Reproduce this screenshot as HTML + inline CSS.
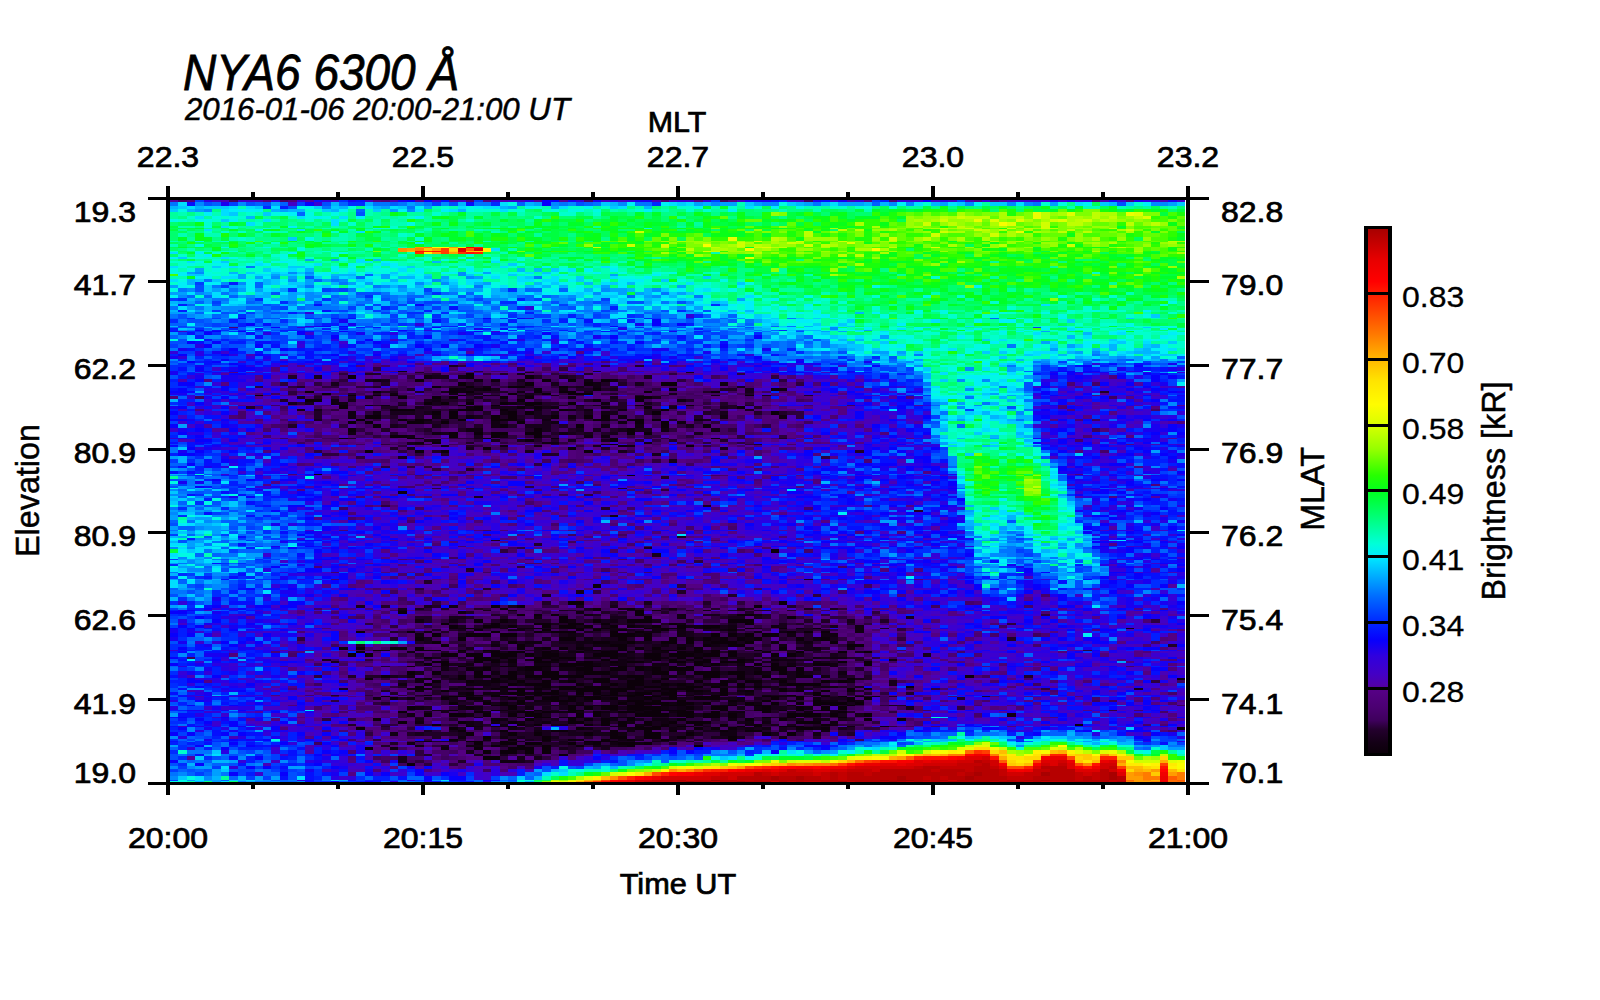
<!DOCTYPE html>
<html><head><meta charset="utf-8"><title>NYA6 6300 Å keogram</title>
<style>
html,body{margin:0;padding:0;background:#fff;}
svg{display:block}
text{font-family:"Liberation Sans", Arial, Helvetica, sans-serif;fill:#000}
</style></head><body>
<svg width="1600" height="1000" viewBox="0 0 1600 1000">
<rect width="1600" height="1000" fill="#fff"/>
<g shape-rendering="crispEdges">
<rect x="170" y="200" width="1015" height="582" fill="#3000d0"/>
<g transform="translate(170 0) scale(8.45833 1)" fill="none">
<path stroke="#0c000a" stroke-width="1" d="M10 395.5h1M21 395.5h1M24 395.5h1M26 395.5h1M34 395.5h1M68 395.5h1M20 405.5h1M34 405.5h1M38 405.5h1M42 405.5h1M55 405.5h1M20 438.5h1M28 438.5h1M37 438.5h1M45 438.5h1M52 438.5h1M64 438.5h1M52 444.5h1M17 474.5h1M54 475.5h1M50 610.5h1M55 610.5h1M33 628.5h1M35 628.5h1M43 628.5h1M47 628.5h2M51 628.5h1M56 628.5h1M58 628.5h3M63 628.5h1M68 628.5h1M72 628.5h1M76 628.5h1M24 650.5h1M29 650.5h3M34 650.5h1M37 650.5h1M50 650.5h1M53 650.5h1M58 650.5h2M62 650.5h1M64 650.5h1M69 650.5h1M28 666.5h1M34 666.5h1M39 666.5h2M42 666.5h3M46 666.5h2M49 666.5h2M53 666.5h1M55 666.5h1M59 666.5h1M61 666.5h1M63 666.5h1M68 666.5h1M71 666.5h1M73 666.5h1M30 695.5h1M35 695.5h1M38 695.5h1M41 695.5h1M43 695.5h1M51 695.5h2M54 695.5h2M59 695.5h1M64 695.5h2M73 695.5h1M76 695.5h1M25 696.5h1M33 696.5h2M38 696.5h2M42 696.5h1M45 696.5h1M47 696.5h4M54 696.5h1M56 696.5h2M59 696.5h1M62 696.5h3M70 696.5h2M74 696.5h1M77 696.5h1M79 696.5h1M81 696.5h1M38 705.5h3M47 705.5h2M51 705.5h2M54 705.5h2M58 705.5h3M66 705.5h1M69 705.5h1M76 705.5h1M78 705.5h1M80 705.5h1M33 710.5h1M38 710.5h1M43 710.5h1M47 710.5h2M55 710.5h1M57 710.5h4M65 710.5h1M69 710.5h2M72 710.5h1M74 710.5h1M77 710.5h1M43 717.5h2M47 717.5h2M52 717.5h1M54 717.5h1M61 717.5h1M63 717.5h2M66 717.5h1M70 717.5h1M73 717.5h1M79 717.5h1M35 726.5h1M40 726.5h1M53 726.5h1M55 726.5h1M57 726.5h2M60 726.5h1M67 726.5h1M69 726.5h1M72 726.5h3M84 726.5h1M30 741.5h1M35 741.5h2M39 741.5h1M49 741.5h4"/>
<path stroke="#0c000a" stroke-width="2" d="M35 374h1M31 387h1M35 387h1M40 387h2M46 387h1M16 392h1M24 392h1M33 392h1M35 392h1M43 392h1M46 392h2M56 392h1M64 392h1M18 394h1M40 394h1M44 394h1M47 394h3M26 410h3M34 410h3M39 410h1M46 410h1M58 410h1M22 420h1M27 420h1M29 420h1M34 420h1M38 420h3M50 420h2M54 420h2M57 420h1M31 443h1M53 446h1M61 446h1M39 609h1M50 609h1M54 609h1M41 615h1M43 615h1M45 615h1M55 615h1M67 615h2M32 624h1M38 624h1M43 624h2M47 624h2M51 624h1M59 624h1M68 624h1M36 630h1M44 630h1M48 630h1M50 630h1M53 630h1M58 630h1M66 630h1M22 632h1M28 632h1M38 632h1M43 632h1M45 632h3M52 632h1M55 632h1M73 632h1M75 632h1M77 632h1M22 652h1M38 652h1M40 652h2M44 652h1M48 652h1M51 652h2M60 652h1M62 652h1M64 652h1M66 652h1M74 652h1M79 652h1M82 652h1M30 658h1M36 658h2M39 658h1M43 658h2M46 658h2M52 658h1M56 658h2M60 658h1M62 658h1M65 658h1M36 660h3M40 660h1M43 660h1M45 660h1M51 660h1M57 660h1M59 660h1M63 660h1M67 660h1M71 660h1M31 662h2M36 662h1M38 662h1M40 662h1M43 662h2M49 662h1M52 662h1M54 662h2M59 662h2M62 662h2M65 662h3M79 662h1M82 662h1M23 679h1M30 679h1M34 679h1M38 679h1M40 679h1M45 679h1M50 679h2M55 679h1M58 679h1M67 679h1M71 679h1M80 679h1M119 679h1M29 687h1M39 687h1M44 687h1M46 687h2M49 687h3M54 687h1M56 687h2M61 687h2M64 687h1M67 687h1M69 687h1M87 687h1M29 689h1M35 689h1M38 689h1M40 689h2M43 689h1M46 689h9M58 689h4M65 689h1M72 689h1M80 689h1M32 691h1M41 691h1M45 691h1M48 691h3M52 691h2M57 691h1M59 691h1M61 691h2M65 691h1M68 691h1M72 691h1M74 691h1M77 691h1M80 691h1M41 701h1M45 701h3M54 701h2M57 701h1M60 701h1M66 701h1M70 701h1M76 701h1M80 701h1M27 712h1M36 712h1M41 712h2M44 712h1M47 712h1M50 712h1M53 712h2M56 712h2M60 712h2M64 712h1M70 712h1M79 712h1M31 725h1M41 725h1M43 725h1M49 725h1M51 725h1M53 725h1M56 725h1M58 725h1M62 725h1M65 725h1M69 725h1M77 725h1M107 725h1M34 731h1M39 731h1M45 731h2M52 731h1M56 731h1M59 731h1M65 731h1M68 731h2M33 740h1M40 740h1M44 740h1M47 740h1M51 740h1M54 740h1M58 740h1M66 740h1M38 746h1M41 746h1M44 746h1M48 746h1M54 746h1M62 746h1M46 755h1"/>
<path stroke="#0c000a" stroke-width="3" d="M29 380.5h1M44 380.5h1M47 380.5h1M51 380.5h1M33 389.5h1M37 389.5h1M43 389.5h1M50 389.5h1M59 389.5h1M71 389.5h1M27 397.5h1M31 397.5h1M33 397.5h1M39 397.5h1M42 397.5h1M55 397.5h2M16 400.5h2M41 400.5h1M50 400.5h1M55 400.5h1M30 403.5h1M32 403.5h1M35 403.5h1M39 403.5h1M42 403.5h2M47 403.5h1M20 407.5h1M36 407.5h1M41 407.5h1M43 407.5h1M56 407.5h1M67 407.5h1M21 422.5h1M23 422.5h1M28 422.5h2M32 422.5h1M41 422.5h1M55 422.5h1M58 422.5h1M33 433.5h1M36 433.5h1M38 433.5h2M42 433.5h2M54 433.5h1M56 433.5h1M26 436.5h2M33 436.5h1M38 436.5h1M43 436.5h1M42 440.5h1M52 440.5h1M37 448.5h1M47 448.5h1M23 451.5h1M29 451.5h1M32 451.5h1M49 451.5h1M38 606.5h1M41 606.5h1M69 606.5h1M27 612.5h1M55 612.5h1M46 617.5h1M56 617.5h1M73 617.5h1M33 626.5h1M37 626.5h2M40 626.5h1M44 626.5h1M46 626.5h2M49 626.5h1M52 626.5h1M54 626.5h1M57 626.5h1M60 626.5h1M63 626.5h2M31 642.5h1M40 642.5h1M50 642.5h2M54 642.5h1M58 642.5h2M61 642.5h1M64 642.5h3M68 642.5h1M78 642.5h1M32 645.5h1M41 645.5h1M52 645.5h2M63 645.5h1M66 645.5h2M80 645.5h2M20 648.5h1M22 648.5h1M26 648.5h2M29 648.5h1M41 648.5h1M44 648.5h1M46 648.5h1M48 648.5h1M53 648.5h1M55 648.5h1M57 648.5h1M60 648.5h1M62 648.5h1M72 648.5h1M30 664.5h1M32 664.5h1M46 664.5h4M62 664.5h1M64 664.5h1M69 664.5h1M71 664.5h1M76 664.5h2M82 664.5h1M25 676.5h1M34 676.5h1M36 676.5h2M39 676.5h2M42 676.5h7M54 676.5h2M63 676.5h2M67 676.5h1M70 676.5h1M74 676.5h2M94 676.5h1M31 681.5h1M35 681.5h1M38 681.5h1M41 681.5h1M44 681.5h1M47 681.5h1M50 681.5h2M54 681.5h2M57 681.5h1M62 681.5h1M65 681.5h1M68 681.5h2M72 681.5h1M77 681.5h1M79 681.5h1M30 684.5h1M40 684.5h1M42 684.5h3M48 684.5h1M52 684.5h1M54 684.5h2M58 684.5h1M60 684.5h1M65 684.5h1M67 684.5h1M73 684.5h4M35 693.5h1M40 693.5h2M43 693.5h3M48 693.5h1M50 693.5h1M52 693.5h1M55 693.5h2M58 693.5h2M65 693.5h1M76 693.5h1M26 698.5h1M32 698.5h1M35 698.5h2M40 698.5h1M42 698.5h1M44 698.5h2M47 698.5h1M49 698.5h2M52 698.5h1M56 698.5h1M59 698.5h1M62 698.5h3M71 698.5h1M74 698.5h1M80 698.5h1M82 698.5h1M33 703.5h1M37 703.5h1M39 703.5h1M41 703.5h1M53 703.5h1M55 703.5h4M60 703.5h2M63 703.5h1M68 703.5h1M71 703.5h1M74 703.5h1M76 703.5h4M81 703.5h1M24 719.5h1M38 719.5h1M42 719.5h1M47 719.5h1M49 719.5h1M51 719.5h1M54 719.5h1M60 719.5h1M68 719.5h1M72 719.5h1M82 719.5h1M86 719.5h1M27 722.5h1M34 722.5h1M40 722.5h1M47 722.5h2M51 722.5h1M53 722.5h1M56 722.5h1M59 722.5h1M61 722.5h3M74 722.5h3M22 728.5h1M33 728.5h1M48 728.5h1M55 728.5h3M62 728.5h1M64 728.5h1M66 728.5h1M74 728.5h2M77 728.5h1M119 728.5h1M37 737.5h1M44 737.5h1M52 737.5h2M56 737.5h2M60 737.5h1M66 737.5h1M36 743.5h1M39 743.5h2M42 743.5h2M47 743.5h1M50 743.5h1M53 743.5h2M56 743.5h1M23 748.5h1M36 748.5h1M40 748.5h3M44 748.5h1M28 764.5h1"/>
<path stroke="#0c000a" stroke-width="4" d="M21 377h1M35 377h1M42 377h1M34 384h1M42 384h1M49 384h1M58 384h2M31 413h1M33 413h1M40 413h1M42 413h1M57 413h1M71 413h1M23 417h2M33 417h1M38 417h1M40 417h1M45 417h1M49 417h1M51 417h1M24 426h1M39 426h1M48 426h1M58 426h1M63 426h1M21 430h1M43 430h1M54 430h1M71 551h1M50 586h1M47 603h2M72 603h1M36 621h1M39 621h1M46 621h1M50 621h1M54 621h3M66 621h3M31 635h1M35 635h3M39 635h2M52 635h3M56 635h1M64 635h1M66 635h1M68 635h1M70 635h2M29 639h1M34 639h1M46 639h2M53 639h1M56 639h1M59 639h1M61 639h1M63 639h1M65 639h1M67 639h1M69 639h1M74 639h1M77 639h1M21 655h1M23 655h1M32 655h2M35 655h2M38 655h3M42 655h1M44 655h2M50 655h3M56 655h2M59 655h3M63 655h2M66 655h1M71 655h1M73 655h1M35 669h1M37 669h1M42 669h2M48 669h2M52 669h2M55 669h1M57 669h1M59 669h3M71 669h2M74 669h1M28 673h1M31 673h1M36 673h1M40 673h1M44 673h2M49 673h3M57 673h2M62 673h3M66 673h2M69 673h1M72 673h1M74 673h1M28 708h1M35 708h1M40 708h1M47 708h1M49 708h1M51 708h2M54 708h4M61 708h1M64 708h2M70 708h1M74 708h1M77 708h1M79 708h1M30 715h1M33 715h2M37 715h1M40 715h1M42 715h2M48 715h1M50 715h1M55 715h4M60 715h2M63 715h2M66 715h1M73 715h4M78 715h1M82 715h1M35 734h1M40 734h1M43 734h1M49 734h1M52 734h1M56 734h2M61 734h1M70 734h1M73 734h1M37 752h1M39 752h2M42 752h1M44 752h1M37 758h2"/>
<path stroke="#110012" stroke-width="1" d="M27 371.5h1M37 395.5h1M42 395.5h1M64 395.5h1M23 405.5h1M25 405.5h1M61 405.5h1M29 438.5h1M27 610.5h1M40 610.5h1M57 610.5h1M63 610.5h1M34 628.5h1M41 628.5h2M46 628.5h1M50 628.5h1M52 628.5h1M57 628.5h1M64 628.5h1M66 628.5h1M74 628.5h1M81 628.5h1M113 628.5h1M25 650.5h1M38 650.5h1M45 650.5h1M49 650.5h1M52 650.5h1M57 650.5h1M75 650.5h1M32 666.5h1M37 666.5h1M56 666.5h2M70 666.5h1M72 666.5h1M78 666.5h1M36 695.5h1M46 695.5h1M48 695.5h1M53 695.5h1M57 695.5h2M61 695.5h1M70 695.5h1M77 695.5h1M32 696.5h1M35 696.5h1M44 696.5h1M46 696.5h1M55 696.5h1M72 696.5h1M83 696.5h1M34 705.5h1M50 705.5h1M65 705.5h1M68 705.5h1M70 705.5h1M73 705.5h1M31 710.5h1M39 710.5h1M52 710.5h1M54 710.5h1M56 710.5h1M41 717.5h1M46 717.5h1M53 717.5h1M36 726.5h1M38 726.5h2M52 726.5h1M61 726.5h1M65 726.5h1M80 726.5h1M44 741.5h1"/>
<path stroke="#110012" stroke-width="2" d="M37 387h1M50 387h1M34 392h1M41 392h1M26 394h1M33 394h1M15 410h1M43 410h1M47 410h1M49 410h1M53 410h1M30 420h1M44 420h1M62 420h1M29 443h1M44 443h2M56 443h1M32 446h1M39 446h1M43 446h1M54 446h1M52 516h1M53 609h1M59 609h1M49 615h1M60 615h1M69 615h1M60 624h1M40 630h2M52 630h1M57 630h1M60 630h1M65 630h1M81 630h1M30 632h1M56 632h2M60 632h1M69 632h1M72 632h1M81 632h1M28 652h1M34 652h1M45 652h1M47 652h1M54 652h1M57 652h2M61 652h1M70 652h1M45 658h1M49 658h2M54 658h1M58 658h1M76 658h1M78 658h2M42 660h1M47 660h1M53 660h1M61 660h1M68 660h1M72 660h2M85 660h1M45 662h1M48 662h1M53 662h1M76 662h1M29 679h1M43 679h1M53 679h1M63 679h1M72 679h1M43 687h1M58 687h1M60 687h1M70 687h1M74 687h1M77 687h2M28 689h1M30 689h1M33 689h1M36 689h1M39 689h1M44 689h1M55 689h1M74 689h1M82 689h1M29 691h1M39 691h1M43 691h1M56 691h1M58 691h1M63 691h1M67 691h1M37 701h1M43 701h2M49 701h1M53 701h1M67 701h1M77 701h2M81 701h1M37 712h1M40 712h1M45 712h2M48 712h1M51 712h1M55 712h1M59 712h1M66 712h2M75 712h1M78 712h1M35 725h1M39 725h1M55 725h1M68 725h1M78 725h1M43 731h1M54 731h1M66 731h1M77 731h1M37 740h1M48 740h1M53 740h1M29 746h1M35 746h2M50 746h1M53 746h1"/>
<path stroke="#110012" stroke-width="3" d="M24 380.5h1M36 380.5h1M38 380.5h1M49 380.5h1M52 380.5h1M34 389.5h1M36 389.5h1M46 389.5h1M72 389.5h1M47 397.5h1M19 400.5h1M31 400.5h1M60 400.5h1M19 403.5h2M40 403.5h1M51 403.5h1M35 407.5h1M45 407.5h1M51 407.5h1M38 422.5h1M45 422.5h1M53 422.5h1M60 422.5h1M21 433.5h1M31 433.5h1M46 433.5h1M28 436.5h1M39 436.5h1M49 436.5h1M51 436.5h1M31 440.5h1M27 492.5h1M33 606.5h1M34 612.5h1M48 612.5h1M43 617.5h1M60 617.5h1M55 626.5h1M61 626.5h2M66 626.5h1M71 626.5h1M81 626.5h1M42 642.5h2M48 642.5h2M52 642.5h2M63 642.5h1M71 642.5h1M75 642.5h1M38 645.5h1M48 645.5h1M50 645.5h2M58 645.5h1M60 645.5h1M64 645.5h1M72 645.5h1M43 648.5h1M49 648.5h1M76 648.5h1M80 648.5h1M35 664.5h1M40 664.5h1M43 664.5h2M50 664.5h1M52 664.5h2M57 664.5h2M67 664.5h1M73 664.5h1M78 664.5h1M28 676.5h1M52 676.5h2M59 676.5h1M77 676.5h1M29 681.5h1M36 681.5h2M39 681.5h1M46 681.5h1M66 681.5h1M80 681.5h1M27 684.5h1M35 684.5h3M41 684.5h1M59 684.5h1M61 684.5h1M63 684.5h2M69 684.5h1M72 684.5h1M34 693.5h1M37 693.5h3M42 693.5h1M54 693.5h1M62 693.5h1M68 693.5h1M24 698.5h1M28 698.5h1M51 698.5h1M54 698.5h2M58 698.5h1M67 698.5h1M76 698.5h1M46 703.5h1M48 703.5h1M59 703.5h1M66 703.5h1M69 703.5h1M39 719.5h1M52 719.5h1M57 719.5h2M66 719.5h1M76 719.5h1M29 722.5h1M35 722.5h1M38 722.5h1M41 722.5h1M44 722.5h1M54 722.5h1M58 722.5h1M68 722.5h1M70 722.5h1M78 722.5h1M40 728.5h1M49 728.5h1M54 728.5h1M59 728.5h1M68 728.5h1M70 728.5h1M76 728.5h1M34 737.5h1M39 737.5h1M28 743.5h1M49 743.5h1M52 743.5h1M55 743.5h1M26 748.5h1M32 748.5h1M39 761.5h2"/>
<path stroke="#110012" stroke-width="4" d="M30 377h1M34 377h1M50 384h1M65 384h1M21 413h1M24 413h1M39 413h1M51 413h1M21 417h1M31 417h1M35 417h1M47 417h1M53 417h1M65 417h1M72 417h1M38 426h1M51 426h1M55 426h1M35 430h2M58 430h1M64 430h1M29 621h1M33 621h1M47 621h1M52 621h1M29 635h1M47 635h1M55 635h1M60 635h1M73 635h1M77 635h2M49 639h1M64 639h1M68 639h1M76 639h1M53 655h1M62 655h1M32 669h1M36 669h1M41 669h1M44 669h1M46 669h2M56 669h1M69 669h1M38 673h1M42 673h1M48 673h1M60 673h1M70 673h1M79 673h1M29 708h1M34 708h1M36 708h1M42 708h1M58 708h1M60 708h1M69 708h1M75 708h1M28 715h1M35 715h1M99 715h1M26 734h1M53 734h1M65 734h2M76 734h1"/>
<path stroke="#17001b" stroke-width="1" d="M42 372.5h1M61 372.5h1M38 395.5h1M41 395.5h1M45 395.5h1M70 395.5h1M27 405.5h1M48 405.5h1M50 405.5h1M36 438.5h1M28 444.5h2M51 444.5h1M38 540.5h1M75 579.5h1M37 610.5h1M46 610.5h1M54 610.5h1M67 610.5h1M36 628.5h2M39 628.5h1M44 628.5h1M62 628.5h1M65 628.5h1M69 628.5h1M84 628.5h1M43 650.5h1M47 650.5h1M51 650.5h1M56 650.5h1M63 650.5h1M72 650.5h1M76 650.5h1M38 666.5h1M48 666.5h1M51 666.5h1M54 666.5h1M58 666.5h1M67 666.5h1M34 695.5h1M45 695.5h1M50 695.5h1M60 695.5h1M71 695.5h2M51 696.5h2M73 696.5h1M42 705.5h1M45 705.5h2M49 705.5h1M61 705.5h1M64 705.5h1M71 705.5h1M85 705.5h1M32 710.5h1M36 710.5h1M40 710.5h2M45 710.5h1M76 710.5h1M78 710.5h1M36 717.5h1M51 717.5h1M67 717.5h1M72 717.5h1M42 726.5h1M59 726.5h1M63 726.5h1M76 726.5h2M29 741.5h1M33 741.5h1M40 741.5h2M46 741.5h1M53 741.5h2M57 741.5h2"/>
<path stroke="#17001b" stroke-width="2" d="M33 366h1M41 374h1M48 387h1M67 387h1M32 392h1M49 392h1M68 392h1M35 394h2M42 394h1M59 394h1M17 410h1M33 410h1M40 410h1M68 410h1M17 420h1M32 420h1M41 420h1M63 420h1M28 443h1M50 446h1M36 497h1M63 506h1M60 537h1M56 548h1M27 609h1M29 609h1M49 609h1M67 609h1M75 609h1M78 609h1M50 615h1M63 615h2M45 624h1M54 624h1M66 624h1M72 624h1M34 630h1M54 630h1M63 630h2M44 632h1M49 632h1M61 632h1M66 632h1M37 652h1M39 652h1M43 652h1M49 652h2M63 652h1M81 652h1M31 658h1M38 658h1M40 658h1M53 658h1M55 658h1M66 658h2M71 658h2M77 658h1M18 660h1M46 660h1M54 660h1M56 660h1M62 660h1M65 660h1M74 660h2M19 662h1M29 662h1M39 662h1M50 662h2M56 662h1M68 662h1M70 662h2M73 662h1M77 662h1M33 679h1M39 679h1M42 679h1M47 679h1M49 679h1M54 679h1M66 679h1M68 679h1M73 679h1M81 679h1M31 687h1M34 687h1M37 687h2M45 687h1M53 687h1M55 687h1M65 687h1M68 687h1M71 687h1M76 687h1M81 687h1M20 689h1M34 689h1M37 689h1M42 689h1M69 689h1M71 689h1M75 689h1M114 689h1M55 691h1M73 691h1M33 701h2M36 701h1M48 701h1M51 701h2M56 701h1M73 701h1M30 712h1M32 712h1M43 712h1M52 712h1M73 712h1M36 725h1M42 725h1M45 725h2M57 725h1M59 725h2M71 725h1M73 725h1M30 731h1M33 731h1M44 731h1M47 731h1M50 731h1M61 731h1M63 731h2M72 731h1M74 731h1M42 740h1M55 740h1M59 740h1M32 746h1M39 746h1M51 746h2M36 755h1M39 755h1"/>
<path stroke="#17001b" stroke-width="3" d="M23 380.5h1M25 380.5h1M41 380.5h1M35 389.5h1M38 389.5h1M52 389.5h1M68 389.5h1M15 397.5h1M23 397.5h1M36 397.5h1M52 397.5h1M57 397.5h1M21 400.5h1M30 400.5h1M35 400.5h1M14 403.5h1M16 403.5h1M31 403.5h1M41 403.5h1M56 403.5h1M29 407.5h1M38 407.5h3M42 407.5h1M44 407.5h1M59 407.5h1M65 407.5h1M30 422.5h1M44 422.5h1M32 433.5h1M47 433.5h1M49 433.5h1M52 433.5h1M62 433.5h1M36 436.5h1M30 440.5h1M38 440.5h1M41 440.5h1M47 440.5h1M51 440.5h1M28 448.5h1M35 448.5h1M65 448.5h1M42 451.5h1M53 451.5h1M57 454.5h1M27 457.5h1M44 595.5h1M22 606.5h1M30 606.5h1M40 606.5h1M48 606.5h1M52 606.5h1M33 617.5h2M52 617.5h2M66 617.5h2M69 617.5h1M87 617.5h1M34 626.5h1M39 626.5h1M48 626.5h1M51 626.5h1M56 626.5h1M65 626.5h1M72 626.5h1M78 626.5h1M30 642.5h1M38 642.5h1M41 642.5h1M46 642.5h2M55 642.5h2M67 642.5h1M74 642.5h1M42 645.5h1M57 645.5h1M61 645.5h1M65 645.5h1M75 645.5h1M35 648.5h1M68 648.5h1M74 648.5h2M33 664.5h2M38 664.5h1M51 664.5h1M60 664.5h1M63 664.5h1M65 664.5h1M26 676.5h1M32 676.5h1M56 676.5h1M58 676.5h1M61 676.5h1M73 676.5h1M79 676.5h1M40 681.5h1M56 681.5h1M78 681.5h1M85 681.5h1M38 684.5h1M49 684.5h1M51 684.5h1M53 684.5h1M56 684.5h2M85 684.5h1M46 693.5h1M51 693.5h1M61 693.5h1M63 693.5h2M67 693.5h1M30 698.5h1M33 698.5h1M39 698.5h1M41 698.5h1M46 698.5h1M48 698.5h1M57 698.5h1M60 698.5h2M65 698.5h2M69 698.5h1M78 698.5h2M38 703.5h1M40 703.5h1M42 703.5h3M52 703.5h1M54 703.5h1M62 703.5h1M80 703.5h1M29 719.5h1M43 719.5h1M45 719.5h1M55 719.5h1M59 719.5h1M70 719.5h1M74 719.5h1M77 719.5h1M79 719.5h1M36 722.5h1M43 722.5h1M57 722.5h1M67 722.5h1M34 728.5h1M36 728.5h1M41 728.5h1M43 728.5h1M53 728.5h1M60 728.5h1M67 728.5h1M69 728.5h1M72 728.5h1M79 728.5h1M41 737.5h1M45 737.5h1M59 737.5h1M64 737.5h2M67 737.5h1M72 737.5h1M46 743.5h1M46 748.5h1M51 748.5h1M27 761.5h1M41 761.5h1"/>
<path stroke="#17001b" stroke-width="4" d="M17 377h1M31 377h2M46 377h1M56 377h1M19 384h1M45 384h1M55 384h1M26 413h3M30 413h1M43 413h1M45 413h1M49 413h1M52 413h1M65 413h1M36 417h1M43 417h2M26 426h1M31 426h1M42 426h3M61 426h1M44 430h1M48 430h1M50 430h1M53 430h1M55 430h2M59 461h1M57 555h1M48 592h1M56 603h1M40 621h1M51 621h1M57 621h1M80 621h1M34 635h1M46 635h1M48 635h1M61 635h1M67 635h1M30 639h1M39 639h1M44 639h1M51 639h2M62 639h1M78 639h1M43 655h1M46 655h2M54 655h1M69 655h1M74 655h1M78 655h1M89 655h1M58 669h1M64 669h1M67 669h2M76 669h1M29 673h1M41 673h1M52 673h1M56 673h1M65 673h1M68 673h1M73 673h1M75 673h1M30 708h1M44 708h1M46 708h1M53 708h1M59 708h1M62 708h1M67 708h1M71 708h2M87 708h1M44 715h1M51 715h1M59 715h1M62 715h1M67 715h1M79 715h1M81 715h1M29 734h1M34 734h1M39 734h1M44 734h1M47 734h2M50 734h2M62 734h1M71 734h1M35 752h1M27 758h1M41 758h1M43 758h1"/>
<path stroke="#200027" stroke-width="1" d="M50 371.5h1M29 372.5h1M27 395.5h1M35 395.5h1M55 395.5h1M75 395.5h1M24 405.5h1M31 405.5h1M43 405.5h2M46 405.5h1M53 405.5h1M59 405.5h1M65 405.5h2M68 405.5h1M21 438.5h1M43 438.5h1M72 438.5h1M45 444.5h1M69 444.5h1M53 488.5h1M47 610.5h1M49 610.5h1M59 610.5h1M61 610.5h1M66 610.5h1M69 610.5h2M73 610.5h1M45 628.5h1M49 628.5h1M53 628.5h1M75 628.5h1M42 650.5h1M44 650.5h1M48 650.5h1M60 650.5h2M66 650.5h1M73 650.5h1M25 666.5h1M31 666.5h1M35 666.5h1M41 666.5h1M45 666.5h1M75 666.5h1M19 695.5h1M29 695.5h1M32 695.5h1M37 695.5h1M44 695.5h1M47 695.5h1M68 695.5h1M81 695.5h1M36 696.5h1M43 696.5h1M53 696.5h1M58 696.5h1M61 696.5h1M78 696.5h1M82 696.5h1M85 696.5h1M96 696.5h1M43 705.5h2M56 705.5h1M62 705.5h1M79 705.5h1M86 705.5h1M44 710.5h1M61 710.5h1M71 710.5h1M79 710.5h1M29 717.5h1M57 717.5h2M71 717.5h1M75 717.5h2M25 726.5h1M56 726.5h1M75 726.5h1M31 741.5h2M61 741.5h1"/>
<path stroke="#200027" stroke-width="2" d="M55 366h1M23 374h2M31 374h1M39 374h1M49 374h1M15 387h1M24 387h1M33 387h2M36 387h1M42 387h1M47 387h1M52 387h1M25 392h2M29 392h1M36 392h4M63 392h1M110 392h1M21 394h1M24 394h1M43 394h1M52 394h1M68 394h1M29 410h3M48 410h1M56 410h2M28 420h1M47 420h1M52 420h1M59 420h1M35 443h1M35 446h1M88 511h1M37 589h1M32 609h1M36 609h1M55 609h1M58 609h1M64 609h1M68 609h1M38 615h1M52 615h1M66 615h1M70 615h1M37 624h1M39 624h2M46 624h1M52 624h2M58 624h1M74 624h1M80 624h1M31 630h1M33 630h1M42 630h1M51 630h1M55 630h1M67 630h1M72 630h1M74 630h2M77 630h1M26 632h1M32 632h1M35 632h1M50 632h1M54 632h1M74 632h1M32 652h1M46 652h1M56 652h1M65 652h1M73 652h1M76 652h1M34 658h1M59 658h1M63 658h1M68 658h1M70 658h1M80 658h2M30 660h1M32 660h1M39 660h1M44 660h1M55 660h1M58 660h1M60 660h1M69 660h1M81 660h1M35 662h1M46 662h1M61 662h1M72 662h1M78 662h1M32 679h1M36 679h1M41 679h1M48 679h1M56 679h2M61 679h2M69 679h1M82 679h1M27 687h1M33 687h1M48 687h1M52 687h1M59 687h1M66 687h1M79 687h1M56 689h2M62 689h2M67 689h1M73 689h1M25 691h1M31 691h1M33 691h3M46 691h2M51 691h1M60 691h1M81 691h1M39 701h1M64 701h1M69 701h1M79 701h1M39 712h1M71 712h1M80 712h1M21 725h1M33 725h1M37 725h1M50 725h1M63 725h1M70 725h1M76 725h1M38 731h1M48 731h2M67 731h1M70 731h1M34 740h1M43 740h1M45 740h2M52 740h1M57 740h1M62 740h1M25 746h1M42 746h2M45 746h1M47 746h1M30 755h1M42 755h1"/>
<path stroke="#200027" stroke-width="3" d="M28 389.5h1M48 389.5h2M51 389.5h1M65 389.5h2M17 397.5h1M21 397.5h1M41 397.5h1M13 400.5h1M32 400.5h2M37 400.5h1M39 400.5h1M49 400.5h1M52 400.5h1M61 400.5h1M27 403.5h1M44 403.5h2M53 403.5h1M65 403.5h1M9 407.5h1M25 407.5h2M30 407.5h1M48 407.5h1M52 407.5h2M66 407.5h1M69 407.5h1M31 422.5h1M39 422.5h1M26 433.5h1M45 433.5h1M48 433.5h1M51 433.5h1M44 436.5h1M43 440.5h1M45 440.5h1M59 440.5h1M65 440.5h1M26 448.5h1M51 448.5h1M31 451.5h1M81 451.5h1M32 454.5h1M44 454.5h2M35 469.5h1M58 477.5h1M51 508.5h1M43 544.5h1M66 595.5h1M25 606.5h1M31 606.5h1M73 606.5h1M35 612.5h1M51 612.5h1M53 612.5h1M58 612.5h1M68 612.5h1M29 617.5h2M35 617.5h1M39 617.5h1M65 617.5h1M70 617.5h1M36 626.5h1M41 626.5h2M29 642.5h1M45 642.5h1M57 642.5h1M80 642.5h1M22 645.5h1M34 645.5h1M45 645.5h3M49 645.5h1M54 645.5h1M56 645.5h1M59 645.5h1M70 645.5h1M118 645.5h1M39 648.5h1M47 648.5h1M51 648.5h2M56 648.5h1M58 648.5h2M61 648.5h1M64 648.5h2M77 648.5h1M29 664.5h1M37 664.5h1M54 664.5h1M66 664.5h1M72 664.5h1M74 664.5h2M21 676.5h1M23 676.5h2M27 676.5h1M33 676.5h1M38 676.5h1M51 676.5h1M60 676.5h1M65 676.5h1M68 676.5h1M80 676.5h1M82 676.5h1M101 676.5h1M27 681.5h1M33 681.5h2M42 681.5h2M48 681.5h1M52 681.5h2M58 681.5h3M70 681.5h2M73 681.5h1M31 684.5h1M62 684.5h1M26 693.5h1M31 693.5h1M53 693.5h1M57 693.5h1M66 693.5h1M75 693.5h1M80 693.5h1M82 693.5h1M87 693.5h1M27 698.5h1M70 698.5h1M72 698.5h1M77 698.5h1M93 698.5h1M25 703.5h1M34 703.5h2M47 703.5h1M67 703.5h1M33 719.5h1M44 719.5h1M48 719.5h1M50 719.5h1M64 719.5h1M73 719.5h1M80 719.5h1M39 722.5h1M42 722.5h1M45 722.5h2M49 722.5h1M52 722.5h1M50 728.5h2M63 728.5h1M73 728.5h1M80 728.5h1M31 737.5h1M40 737.5h1M42 737.5h2M49 737.5h1M55 737.5h1M61 737.5h1M76 737.5h1M26 743.5h1M38 743.5h1M44 743.5h2M59 743.5h1M47 748.5h1M34 761.5h1M42 761.5h1"/>
<path stroke="#200027" stroke-width="4" d="M14 377h1M43 377h1M47 377h1M25 384h1M35 384h1M41 384h1M51 384h1M53 384h1M17 413h1M29 413h1M37 413h1M56 413h1M63 413h1M69 413h1M72 413h1M17 417h1M26 417h1M29 417h1M39 417h1M41 417h1M62 417h1M14 426h1M27 426h1M36 426h1M40 426h1M46 426h1M25 430h1M30 430h1M34 430h1M42 430h1M47 430h1M52 430h1M35 570h1M30 582h1M60 592h1M44 603h1M52 603h1M63 603h1M30 621h1M34 621h1M38 621h1M42 621h3M49 621h1M53 621h1M61 621h1M75 621h1M77 621h1M84 621h1M42 635h1M62 635h2M75 635h1M26 639h1M40 639h1M50 639h1M54 639h1M66 639h1M72 639h1M75 639h1M99 639h1M29 655h1M49 655h1M55 655h1M58 655h1M67 655h2M79 655h1M33 669h1M38 669h1M40 669h1M51 669h1M81 669h1M34 673h1M47 673h1M54 673h1M76 673h1M39 708h1M41 708h1M50 708h1M73 708h1M53 715h1M65 715h1M77 715h1M28 734h1M30 734h4M41 734h2M46 734h1M59 734h2M80 734h1M41 752h1M47 752h1"/>
<path stroke="#2d003d" stroke-width="1" d="M36 371.5h1M17 395.5h1M23 395.5h1M48 395.5h1M58 395.5h1M30 405.5h1M32 405.5h2M36 405.5h1M45 405.5h1M49 405.5h1M51 405.5h1M56 405.5h2M33 438.5h3M39 438.5h2M48 438.5h1M51 438.5h1M56 438.5h1M58 438.5h1M67 438.5h1M25 444.5h1M30 444.5h1M68 444.5h1M31 488.5h1M29 610.5h2M43 610.5h1M48 610.5h1M58 610.5h1M38 628.5h1M70 628.5h1M86 628.5h1M35 650.5h2M54 650.5h1M67 650.5h1M70 650.5h2M108 650.5h1M36 666.5h1M64 666.5h1M23 695.5h1M27 695.5h1M33 695.5h1M42 695.5h1M62 695.5h1M69 695.5h1M78 695.5h1M80 695.5h1M29 696.5h1M37 696.5h1M40 696.5h2M66 696.5h1M69 696.5h1M75 696.5h1M36 705.5h1M53 705.5h1M72 705.5h1M77 705.5h1M81 705.5h1M84 705.5h1M28 710.5h1M34 710.5h1M50 710.5h2M53 710.5h1M62 710.5h1M68 710.5h1M75 710.5h1M111 710.5h1M27 717.5h1M33 717.5h2M40 717.5h1M49 717.5h2M62 717.5h1M69 717.5h1M78 717.5h1M80 717.5h1M33 726.5h1M37 726.5h1M62 726.5h1M66 726.5h1M70 726.5h1M85 726.5h1M37 741.5h1M47 741.5h1"/>
<path stroke="#2d003d" stroke-width="2" d="M34 366h1M51 366h1M20 374h1M30 374h1M37 374h1M45 374h1M59 374h1M67 374h1M10 387h1M14 387h1M18 387h2M22 387h2M32 387h1M39 387h1M45 387h1M49 387h1M51 387h1M14 392h1M44 392h1M14 394h1M38 394h1M41 394h1M46 394h1M51 394h1M19 410h1M25 410h1M32 410h1M41 410h1M44 410h1M52 410h1M64 410h1M19 420h1M24 420h1M26 420h1M31 420h1M33 420h1M49 420h1M39 443h1M43 443h1M46 443h1M60 443h1M63 443h1M67 443h1M27 446h1M36 446h1M48 446h1M63 446h1M25 467h1M28 467h1M30 467h1M42 487h1M58 490h1M49 495h1M25 506h1M41 548h1M41 567h1M29 589h1M30 609h1M37 609h1M60 609h1M79 609h1M39 615h1M46 615h1M53 615h1M56 615h1M65 615h1M72 615h1M77 615h1M103 615h1M23 624h1M33 624h1M50 624h1M55 624h2M65 624h1M67 624h1M73 624h1M76 624h1M82 624h1M99 624h1M37 630h1M46 630h1M59 630h1M70 630h1M73 630h1M76 630h1M78 630h1M86 630h1M27 632h1M29 632h1M34 632h1M42 632h1M51 632h1M58 632h1M65 632h1M68 632h1M36 652h1M67 652h3M77 652h1M29 658h1M32 658h1M41 658h1M51 658h1M61 658h1M64 658h1M73 658h1M75 658h1M83 658h1M23 660h1M34 660h2M49 660h2M52 660h1M78 660h1M82 660h1M28 662h1M37 662h1M58 662h1M74 662h1M25 679h1M35 679h1M44 679h1M60 679h1M76 679h1M78 679h2M26 687h1M35 687h1M42 687h1M63 687h1M72 687h1M75 687h1M80 687h1M31 689h1M45 689h1M76 689h1M87 689h1M90 689h1M103 689h1M44 691h1M54 691h1M69 691h1M71 691h1M76 691h1M19 701h1M29 701h1M32 701h1M35 701h1M40 701h1M61 701h3M68 701h1M74 701h1M34 712h1M49 712h1M63 712h1M65 712h1M74 712h1M85 712h1M25 725h2M29 725h2M32 725h1M47 725h1M75 725h1M79 725h3M31 731h1M42 731h1M55 731h1M62 731h1M79 731h2M24 740h1M30 740h1M60 740h1M31 746h1M37 746h1M40 746h1M46 746h1M49 746h1M29 755h1M40 755h1M43 755h1"/>
<path stroke="#2d003d" stroke-width="3" d="M20 380.5h1M33 380.5h1M53 380.5h1M60 380.5h1M72 380.5h1M26 389.5h1M30 389.5h1M41 389.5h2M57 389.5h1M19 397.5h1M32 397.5h1M35 397.5h1M34 400.5h1M38 400.5h1M43 400.5h1M53 400.5h1M15 403.5h1M29 403.5h1M33 403.5h1M38 403.5h1M57 403.5h1M63 403.5h1M68 403.5h1M63 407.5h1M26 422.5h1M33 422.5h2M51 422.5h1M62 422.5h1M64 422.5h1M23 433.5h1M30 433.5h1M37 433.5h1M24 436.5h1M40 436.5h1M42 436.5h1M45 436.5h1M54 436.5h1M56 436.5h2M61 436.5h1M67 436.5h1M72 436.5h1M36 440.5h1M55 440.5h1M57 440.5h1M39 448.5h1M17 451.5h1M27 451.5h1M54 451.5h1M18 454.5h2M29 454.5h1M22 457.5h1M77 457.5h1M43 464.5h1M31 469.5h1M62 561.5h1M76 595.5h1M44 606.5h2M56 606.5h1M63 606.5h1M40 612.5h1M44 612.5h1M52 612.5h1M83 612.5h1M48 617.5h1M50 617.5h1M64 617.5h1M72 617.5h1M74 617.5h1M78 617.5h2M82 617.5h1M26 626.5h1M30 626.5h1M45 626.5h1M58 626.5h1M67 626.5h1M69 626.5h1M75 626.5h1M77 626.5h1M33 642.5h2M70 642.5h1M76 642.5h1M36 645.5h2M39 645.5h1M55 645.5h1M74 645.5h1M79 645.5h1M34 648.5h1M54 648.5h1M70 648.5h1M39 664.5h1M45 664.5h1M55 664.5h1M79 664.5h1M17 676.5h1M31 676.5h1M35 676.5h1M41 676.5h1M49 676.5h2M57 676.5h1M62 676.5h1M66 676.5h1M69 676.5h1M28 681.5h1M45 681.5h1M49 681.5h1M63 681.5h1M67 681.5h1M76 681.5h1M116 681.5h1M39 684.5h1M68 684.5h1M70 684.5h1M77 684.5h1M80 684.5h1M28 693.5h1M32 693.5h1M49 693.5h1M69 693.5h3M78 693.5h1M84 693.5h1M31 698.5h1M38 698.5h1M43 698.5h1M24 703.5h1M32 703.5h1M49 703.5h1M65 703.5h1M72 703.5h1M18 719.5h1M21 719.5h1M40 719.5h1M53 719.5h1M56 719.5h1M61 719.5h2M67 719.5h1M69 719.5h1M50 722.5h1M60 722.5h1M64 722.5h2M83 722.5h1M25 728.5h1M28 728.5h1M38 728.5h1M42 728.5h1M58 728.5h1M82 728.5h2M38 737.5h1M46 737.5h2M51 737.5h1M63 737.5h1M35 743.5h1M48 743.5h1M51 743.5h1M57 743.5h1M62 743.5h1M39 748.5h1M48 748.5h1M50 748.5h1M29 761.5h1M30 764.5h1M33 764.5h1"/>
<path stroke="#2d003d" stroke-width="4" d="M24 369h1M41 369h1M46 369h1M28 377h1M48 377h1M71 377h1M13 384h1M17 384h1M36 384h1M38 384h1M40 384h1M74 384h1M23 413h1M35 413h1M41 413h1M44 413h1M48 413h1M60 413h1M64 413h1M73 413h2M25 417h1M34 417h1M37 417h1M42 417h1M48 417h1M55 417h1M57 417h1M74 417h1M20 426h1M32 426h1M34 426h1M45 426h1M60 426h1M70 426h1M22 430h1M29 430h1M45 430h1M59 430h1M66 430h1M57 461h1M39 551h1M60 586h1M50 592h1M31 603h1M67 603h1M32 621h1M48 621h1M63 621h2M72 621h1M116 621h1M41 635h1M45 635h1M50 635h1M57 635h1M72 635h1M15 639h1M37 639h1M42 639h1M48 639h1M70 639h1M73 639h1M79 639h1M86 639h1M27 655h1M31 655h1M41 655h1M75 655h1M30 669h1M34 669h1M39 669h1M50 669h1M54 669h1M65 669h2M77 669h1M79 669h1M32 673h2M39 673h1M53 673h1M55 673h1M71 673h1M77 673h1M82 673h1M33 708h1M37 708h2M45 708h1M48 708h1M63 708h1M93 708h1M27 715h1M36 715h1M39 715h1M41 715h1M46 715h1M54 715h1M72 715h1M23 734h1M45 734h1M54 734h2M58 734h1M63 734h2M67 734h2M74 734h1M79 734h1M29 752h1M39 758h1M44 758h1"/>
<path stroke="#3f005d" stroke-width="1" d="M35 372.5h1M18 395.5h1M25 395.5h1M32 395.5h1M43 395.5h2M57 395.5h1M62 395.5h1M12 405.5h1M21 405.5h1M26 405.5h1M41 405.5h1M47 405.5h1M62 405.5h1M80 405.5h1M13 438.5h1M18 438.5h2M60 438.5h2M66 438.5h1M20 444.5h1M22 444.5h1M26 444.5h1M33 444.5h1M36 444.5h1M41 444.5h1M43 444.5h1M46 444.5h1M54 444.5h1M57 444.5h1M61 444.5h1M64 475.5h1M37 530.5h1M56 546.5h1M37 572.5h1M26 610.5h1M42 610.5h1M44 610.5h1M60 610.5h1M68 610.5h1M77 610.5h1M29 628.5h1M61 628.5h1M73 628.5h1M80 628.5h1M22 650.5h2M39 650.5h1M41 650.5h1M86 650.5h1M23 666.5h1M27 666.5h1M62 666.5h1M65 666.5h1M69 666.5h1M74 666.5h1M76 666.5h2M49 695.5h1M66 695.5h2M74 695.5h2M19 696.5h1M23 696.5h1M30 696.5h1M65 696.5h1M76 696.5h1M84 696.5h1M35 705.5h1M41 705.5h1M57 705.5h1M63 705.5h1M67 705.5h1M119 705.5h1M46 710.5h1M63 710.5h2M66 710.5h1M89 710.5h1M35 717.5h1M39 717.5h1M55 717.5h2M59 717.5h1M65 717.5h1M28 726.5h1M43 726.5h1M48 726.5h1M51 726.5h1M64 726.5h1M71 726.5h1M78 726.5h1M87 726.5h1M28 741.5h1M42 741.5h2M45 741.5h1M56 741.5h1M59 741.5h2M63 741.5h1"/>
<path stroke="#3f005d" stroke-width="2" d="M7 201h1M65 201h1M75 201h1M27 374h1M29 374h1M34 374h1M46 374h1M27 387h1M38 387h1M55 387h1M59 387h1M66 387h1M23 392h1M30 392h2M40 392h1M45 392h1M52 392h2M66 392h1M70 392h1M76 392h1M12 394h1M17 394h1M22 394h1M31 394h1M54 394h1M61 394h1M64 394h1M67 394h1M18 410h1M59 410h1M65 410h1M23 420h1M65 420h1M109 420h1M15 443h1M27 443h1M40 443h1M42 443h1M54 443h1M66 443h1M68 443h1M42 446h1M31 485h1M46 495h1M47 535h1M53 535h1M47 542h1M40 548h1M33 558h1M69 589h1M17 609h1M51 609h1M62 609h1M76 609h1M40 615h1M44 615h1M48 615h1M83 615h1M61 624h1M63 624h2M71 624h1M28 630h1M38 630h2M49 630h1M56 630h1M61 630h1M40 632h1M67 632h1M35 652h1M42 652h1M53 652h1M75 652h1M2 658h1M33 658h1M48 658h1M74 658h1M85 658h1M19 660h1M64 660h1M66 660h1M77 660h1M27 662h1M30 662h1M33 662h1M47 662h1M57 662h1M81 662h1M85 662h1M37 679h1M46 679h1M52 679h1M70 679h1M32 687h1M41 687h1M25 689h1M64 689h1M70 689h1M77 689h1M85 689h1M23 691h1M37 691h1M40 691h1M66 691h1M79 691h1M25 701h1M28 701h1M30 701h1M38 701h1M42 701h1M58 701h2M71 701h1M75 701h1M84 701h1M109 701h1M111 701h1M25 712h1M33 712h1M35 712h1M58 712h1M72 712h1M24 725h1M34 725h1M52 725h1M61 725h1M64 725h1M66 725h2M74 725h1M23 731h1M27 731h1M36 731h1M53 731h1M58 731h1M71 731h1M75 731h1M36 740h1M39 740h1M49 740h1M63 740h1M70 740h1M74 740h1M81 740h1M37 755h1M45 755h1"/>
<path stroke="#3f005d" stroke-width="3" d="M28 380.5h1M32 380.5h1M35 380.5h1M37 380.5h1M45 380.5h1M48 380.5h1M50 380.5h1M20 389.5h1M27 389.5h1M45 389.5h1M47 389.5h1M56 389.5h1M63 389.5h1M3 397.5h1M26 397.5h1M37 397.5h2M46 397.5h1M60 397.5h1M111 397.5h1M26 400.5h1M36 400.5h1M44 400.5h1M48 400.5h1M51 400.5h1M56 400.5h1M63 400.5h1M74 400.5h1M46 403.5h1M60 403.5h1M13 407.5h1M17 407.5h1M22 407.5h1M27 407.5h1M32 407.5h1M34 407.5h1M49 407.5h1M55 407.5h1M61 407.5h1M64 407.5h1M14 422.5h1M22 422.5h1M35 422.5h1M75 422.5h1M29 433.5h1M35 433.5h1M44 433.5h1M50 433.5h1M53 433.5h1M57 433.5h1M65 433.5h2M68 433.5h1M17 436.5h1M22 436.5h1M25 436.5h1M30 436.5h1M48 436.5h1M60 436.5h1M16 440.5h1M35 440.5h1M39 440.5h1M44 440.5h1M38 448.5h1M42 448.5h1M54 448.5h1M37 451.5h1M39 451.5h1M58 451.5h1M50 454.5h1M65 454.5h1M61 464.5h1M34 472.5h1M48 482.5h1M50 492.5h1M20 508.5h1M29 508.5h1M54 508.5h1M60 561.5h1M39 606.5h1M58 606.5h1M65 606.5h1M67 606.5h1M74 606.5h1M90 606.5h1M38 612.5h1M43 612.5h1M46 612.5h1M49 612.5h1M57 612.5h1M59 612.5h1M61 612.5h1M64 612.5h1M71 612.5h1M22 617.5h1M36 617.5h1M54 617.5h2M62 617.5h1M75 617.5h1M84 617.5h1M70 626.5h1M80 626.5h1M98 626.5h1M35 642.5h1M39 642.5h1M62 642.5h1M19 645.5h1M26 645.5h1M28 645.5h1M35 645.5h1M44 645.5h1M69 645.5h1M78 645.5h1M86 645.5h1M25 648.5h1M33 648.5h1M38 648.5h1M40 648.5h1M42 648.5h1M45 648.5h1M67 648.5h1M79 648.5h1M81 648.5h1M17 664.5h1M20 664.5h1M41 664.5h1M59 664.5h1M61 664.5h1M70 664.5h1M72 676.5h1M78 676.5h1M96 676.5h1M26 681.5h1M32 681.5h1M61 681.5h1M74 681.5h2M86 681.5h1M119 681.5h1M17 684.5h1M24 684.5h1M32 684.5h1M46 684.5h2M66 684.5h1M71 684.5h1M102 684.5h1M23 693.5h1M30 693.5h1M36 693.5h1M47 693.5h1M72 693.5h1M23 698.5h1M29 698.5h1M53 698.5h1M73 698.5h1M84 698.5h1M89 698.5h1M28 703.5h1M31 703.5h1M51 703.5h1M64 703.5h1M70 703.5h1M26 719.5h1M31 719.5h2M46 719.5h1M65 719.5h1M75 719.5h1M55 722.5h1M71 722.5h1M73 722.5h1M80 722.5h1M47 728.5h1M61 728.5h1M78 728.5h1M81 728.5h1M28 737.5h1M33 737.5h1M35 737.5h2M48 737.5h1M50 737.5h1M54 737.5h1M62 737.5h1M68 737.5h1M17 743.5h1M29 743.5h1M33 743.5h1M37 743.5h1M41 743.5h1M58 743.5h1M27 748.5h1M35 748.5h1M43 748.5h1M45 748.5h1M52 748.5h2M56 748.5h1M25 761.5h1M28 761.5h1M27 764.5h1M37 770.5h1"/>
<path stroke="#3f005d" stroke-width="4" d="M44 369h1M26 377h1M44 377h1M54 377h1M64 377h1M20 384h2M24 384h1M37 384h1M48 384h1M54 384h1M56 384h1M25 413h1M32 413h1M36 413h1M47 413h1M70 413h1M22 417h1M32 417h1M67 417h1M69 417h1M23 426h1M28 426h2M33 426h1M47 426h1M57 426h1M62 426h1M69 426h1M28 430h1M31 430h1M38 430h4M51 430h1M61 430h1M65 430h1M109 430h1M44 461h1M47 461h1M55 461h1M51 570h1M51 582h1M33 586h1M82 586h1M26 592h1M29 592h1M27 599h1M30 599h1M65 599h1M28 603h1M34 603h1M46 603h1M27 621h1M31 621h1M35 621h1M41 621h1M45 621h1M71 621h1M73 621h1M79 621h1M82 621h1M27 635h1M32 635h1M43 635h1M49 635h1M51 635h1M58 635h1M65 635h1M69 635h1M74 635h1M86 635h1M102 635h1M31 639h1M33 639h1M36 639h1M60 639h1M81 639h1M28 655h1M65 655h1M77 655h1M82 655h1M31 669h1M45 669h1M70 669h1M73 669h1M80 669h1M27 673h1M35 673h1M46 673h1M61 673h1M78 673h1M43 708h1M66 708h1M80 708h1M86 708h1M45 715h1M52 715h1M71 715h1M38 734h1M33 752h1M38 752h1M46 752h1M48 752h2M24 758h1M32 758h1"/>
<path stroke="#450068" stroke-width="1" d="M30 371.5h1M38 371.5h1M42 371.5h1M47 371.5h2M53 371.5h1M20 372.5h1M23 372.5h1M43 372.5h1M45 372.5h1M29 395.5h3M36 395.5h1M46 395.5h2M59 395.5h1M61 395.5h1M71 395.5h1M17 405.5h2M70 405.5h1M75 405.5h1M32 438.5h1M38 438.5h1M47 438.5h1M54 438.5h1M68 438.5h1M71 438.5h1M27 444.5h1M34 444.5h1M37 444.5h1M48 444.5h1M73 444.5h1M29 475.5h1M65 475.5h1M35 488.5h1M64 540.5h1M34 546.5h1M27 559.5h1M42 559.5h1M53 559.5h1M55 559.5h1M42 563.5h2M19 572.5h1M45 572.5h1M53 572.5h1M56 572.5h1M63 579.5h1M51 610.5h1M56 610.5h1M62 610.5h1M30 628.5h1M71 628.5h1M87 628.5h1M27 650.5h1M40 650.5h1M79 650.5h1M81 650.5h2M26 666.5h1M29 666.5h1M33 666.5h1M52 666.5h1M60 666.5h1M84 666.5h1M113 666.5h1M16 695.5h1M28 695.5h1M31 695.5h1M39 695.5h1M56 695.5h1M63 695.5h1M79 695.5h1M84 695.5h1M26 696.5h1M28 696.5h1M60 696.5h1M25 705.5h1M29 705.5h1M31 705.5h1M95 705.5h1M30 710.5h1M35 710.5h1M37 710.5h1M49 710.5h1M67 710.5h1M84 710.5h1M88 710.5h1M114 710.5h1M28 717.5h1M32 717.5h1M60 717.5h1M68 717.5h1M77 717.5h1M81 717.5h1M32 726.5h1M47 726.5h1M50 726.5h1M81 726.5h1M86 726.5h1M55 741.5h1M66 741.5h1"/>
<path stroke="#450068" stroke-width="2" d="M1 201h1M13 201h1M49 201h1M40 364h1M25 366h1M47 366h1M33 374h1M43 374h1M51 374h1M43 387h2M56 387h2M68 387h1M15 392h1M22 392h1M42 392h1M48 392h1M57 392h1M59 392h1M61 392h2M72 392h1M19 394h2M25 394h1M27 394h2M53 394h1M55 394h1M57 394h1M60 394h1M63 394h1M65 394h1M13 410h1M22 410h1M24 410h1M38 410h1M51 410h1M116 410h1M13 420h1M18 420h1M37 420h1M56 420h1M66 420h1M34 443h1M41 443h1M47 443h1M53 443h1M57 443h1M37 446h2M64 446h1M67 446h1M53 467h1M50 485h1M27 487h2M58 537h1M70 548h1M56 565h1M59 565h1M69 565h1M79 567h1M24 589h1M32 589h1M61 589h1M35 609h1M41 609h1M43 609h1M47 609h2M56 609h1M33 615h1M47 615h1M51 615h1M54 615h1M59 615h1M84 615h1M27 624h1M34 624h1M36 624h1M42 624h1M49 624h1M69 624h2M75 624h1M81 624h1M84 624h1M23 630h1M27 630h1M35 630h1M43 630h1M45 630h1M47 630h1M68 630h1M83 630h1M31 632h1M48 632h1M24 652h1M33 652h1M59 652h1M78 652h1M93 652h1M69 658h1M25 660h1M28 660h1M41 660h1M48 660h1M70 660h1M76 660h1M20 662h1M23 662h1M34 662h1M42 662h1M80 662h1M88 662h1M24 679h1M28 679h1M31 679h1M59 679h1M64 679h1M74 679h2M77 679h1M85 679h1M101 679h1M24 687h2M73 687h1M66 689h1M68 689h1M78 689h2M91 689h1M42 691h1M64 691h1M78 691h1M82 691h1M104 691h1M31 701h1M65 701h1M72 701h1M96 701h1M20 712h1M24 712h1M29 712h1M31 712h1M62 712h1M68 712h2M117 712h1M28 725h1M44 725h1M88 725h1M115 725h1M28 731h1M35 731h1M37 731h1M40 731h2M118 731h1M21 740h1M41 740h1M50 740h1M56 740h1M61 740h1M64 740h1M32 755h1"/>
<path stroke="#450068" stroke-width="3" d="M19 380.5h1M30 380.5h1M40 380.5h1M42 380.5h1M74 380.5h1M14 389.5h1M31 389.5h1M40 389.5h1M44 389.5h1M54 389.5h1M64 389.5h1M24 397.5h1M28 397.5h1M58 397.5h1M61 397.5h2M68 397.5h1M70 397.5h1M24 400.5h1M27 400.5h1M40 400.5h1M47 400.5h1M70 400.5h1M75 400.5h1M21 403.5h1M24 403.5h1M26 403.5h1M64 403.5h1M66 403.5h1M10 407.5h1M28 407.5h1M37 407.5h1M47 407.5h1M50 407.5h1M16 422.5h1M18 422.5h1M27 422.5h1M37 422.5h1M40 422.5h1M43 422.5h1M47 422.5h2M52 422.5h1M57 422.5h1M17 433.5h1M27 433.5h1M58 433.5h1M63 433.5h1M69 433.5h1M11 436.5h1M23 436.5h1M31 436.5h1M35 436.5h1M41 436.5h1M50 436.5h1M52 436.5h2M55 436.5h1M19 440.5h1M29 440.5h1M40 440.5h1M61 440.5h2M68 440.5h1M107 440.5h1M48 448.5h1M56 448.5h1M68 448.5h1M22 451.5h1M28 451.5h1M63 451.5h1M69 451.5h1M110 451.5h1M21 454.5h1M28 454.5h1M55 454.5h1M59 454.5h1M69 454.5h1M59 457.5h1M54 464.5h1M41 469.5h1M69 469.5h1M33 477.5h1M39 477.5h2M56 492.5h1M64 508.5h1M75 508.5h1M21 518.5h1M28 521.5h1M45 524.5h1M54 544.5h1M29 561.5h1M55 561.5h1M27 574.5h1M29 574.5h1M39 595.5h1M63 595.5h1M103 595.5h1M51 606.5h1M60 606.5h2M81 606.5h1M101 606.5h1M19 612.5h1M25 612.5h1M29 612.5h2M45 612.5h1M47 612.5h1M54 612.5h1M62 612.5h1M75 612.5h1M79 612.5h1M21 617.5h1M24 617.5h1M32 617.5h1M37 617.5h1M41 617.5h1M44 617.5h1M47 617.5h1M49 617.5h1M59 617.5h1M80 617.5h1M24 626.5h1M29 626.5h1M31 626.5h1M59 626.5h1M68 626.5h1M73 626.5h2M44 642.5h1M60 642.5h1M73 642.5h1M116 642.5h1M29 645.5h1M43 645.5h1M62 645.5h1M68 645.5h1M77 645.5h1M84 645.5h1M87 645.5h1M102 645.5h1M23 648.5h1M50 648.5h1M63 648.5h1M69 648.5h1M31 664.5h1M36 664.5h1M56 664.5h1M84 664.5h1M30 676.5h1M20 681.5h1M81 681.5h1M97 681.5h1M23 684.5h1M28 684.5h2M45 684.5h1M79 684.5h1M82 684.5h1M24 693.5h1M29 693.5h1M33 693.5h1M77 693.5h1M79 693.5h1M118 693.5h1M25 698.5h1M37 698.5h1M109 698.5h1M26 703.5h1M30 703.5h1M82 703.5h1M84 703.5h1M118 703.5h1M35 719.5h1M37 719.5h1M71 719.5h1M87 719.5h1M24 722.5h1M26 722.5h1M28 722.5h1M30 722.5h1M32 722.5h2M66 722.5h1M77 722.5h1M81 722.5h1M88 722.5h1M39 728.5h1M52 728.5h1M65 728.5h1M29 737.5h2M71 737.5h1M73 737.5h2M34 748.5h1M54 748.5h1M30 761.5h1M35 764.5h1M41 764.5h2M40 767.5h1"/>
<path stroke="#450068" stroke-width="4" d="M33 369h1M53 369h1M20 377h1M45 377h1M51 377h2M15 384h1M39 384h1M46 384h2M62 384h1M72 384h1M109 384h1M8 413h1M16 413h1M18 413h1M53 413h2M8 417h1M27 417h1M46 417h1M54 417h1M64 417h1M12 426h2M35 426h1M50 426h1M53 426h1M65 426h2M74 426h1M11 430h1M46 430h1M25 461h1M38 461h1M46 461h1M48 461h1M25 503h1M42 503h1M61 528h1M66 528h1M40 551h1M52 551h1M67 551h1M75 551h1M38 582h1M40 586h1M31 592h1M36 592h1M79 592h1M27 603h1M51 603h1M69 603h1M71 603h1M76 603h1M94 603h1M25 621h1M28 621h1M59 621h2M24 635h2M44 635h1M80 635h1M82 635h1M97 635h1M41 639h1M43 639h1M14 655h1M30 655h1M76 655h1M86 655h2M26 669h2M62 669h1M84 669h1M37 673h1M43 673h1M81 673h1M17 708h1M22 708h3M68 708h1M81 708h1M88 708h1M31 715h1M68 715h1M70 715h1M95 715h1M77 734h1M31 752h2M36 752h1M43 752h1M52 752h1M25 758h2M28 758h2M33 758h1"/>
<path stroke="#4b0072" stroke-width="1" d="M7 327.5h1M20 371.5h1M34 371.5h1M39 371.5h1M45 371.5h1M27 372.5h1M30 372.5h1M36 372.5h1M59 372.5h1M11 395.5h1M14 395.5h1M22 395.5h1M33 395.5h1M39 395.5h1M51 395.5h1M56 395.5h1M60 395.5h1M66 395.5h1M22 405.5h1M28 405.5h2M35 405.5h1M37 405.5h1M39 405.5h1M52 405.5h1M54 405.5h1M25 438.5h1M42 438.5h1M44 438.5h1M57 438.5h1M65 438.5h1M69 438.5h1M73 438.5h1M75 438.5h1M40 444.5h1M44 444.5h1M47 444.5h1M50 444.5h1M59 444.5h1M64 444.5h1M66 444.5h1M14 474.5h1M28 474.5h1M35 475.5h1M20 530.5h1M36 530.5h1M39 530.5h1M62 530.5h1M45 559.5h1M40 563.5h1M45 563.5h1M61 563.5h1M19 579.5h1M33 579.5h1M56 579.5h1M88 579.5h1M32 610.5h1M35 610.5h1M41 610.5h1M52 610.5h1M65 610.5h1M75 610.5h1M81 610.5h1M18 628.5h1M24 628.5h1M31 628.5h1M55 628.5h1M89 628.5h1M28 650.5h1M46 650.5h1M55 650.5h1M65 650.5h1M74 650.5h1M78 650.5h1M80 650.5h1M79 666.5h1M82 666.5h2M88 666.5h1M103 666.5h1M18 695.5h1M20 695.5h1M24 695.5h1M88 695.5h1M24 696.5h1M80 696.5h1M88 696.5h1M92 696.5h1M20 705.5h1M26 705.5h1M30 705.5h1M37 705.5h1M21 710.5h1M24 710.5h1M27 710.5h1M29 710.5h1M73 710.5h1M80 710.5h2M25 717.5h1M30 717.5h1M37 717.5h2M45 717.5h1M82 717.5h1M41 726.5h1M49 726.5h1M54 726.5h1M68 726.5h1M82 726.5h1M90 726.5h1M34 741.5h1M48 741.5h1M64 741.5h2M67 741.5h1M70 741.5h1"/>
<path stroke="#4b0072" stroke-width="2" d="M58 201h1M85 201h1M109 201h1M51 362h1M29 364h1M34 364h1M49 364h1M59 366h1M28 374h1M38 374h1M47 374h1M26 387h1M58 387h1M60 387h1M20 392h1M50 392h2M55 392h1M60 392h1M73 392h1M10 394h1M30 394h1M34 394h1M37 394h1M39 394h1M56 394h1M62 394h1M73 394h1M23 410h1M37 410h1M45 410h1M54 410h1M10 420h1M43 420h1M45 420h2M48 420h1M53 420h1M67 420h1M71 420h1M107 420h1M20 443h1M25 443h2M36 443h2M58 443h1M62 443h1M31 446h1M57 446h1M69 446h1M21 467h1M46 467h1M71 467h1M33 480h1M69 480h1M29 485h1M60 485h1M45 487h1M43 490h1M54 490h1M28 495h1M41 495h1M63 495h1M22 497h1M30 497h1M52 497h1M23 506h1M26 506h1M48 506h1M27 511h1M44 511h1M53 511h1M46 516h1M51 516h1M37 535h1M49 537h1M72 537h1M42 539h1M30 548h1M51 558h1M62 558h1M38 565h1M17 567h1M32 567h1M63 567h1M62 589h1M20 609h1M23 609h1M34 609h1M38 609h1M40 609h1M42 609h1M44 609h3M57 609h1M61 609h1M72 609h1M74 609h1M83 609h1M86 609h1M22 615h1M24 615h1M30 615h1M57 615h1M61 615h1M71 615h1M73 615h1M24 624h1M29 624h1M41 624h1M77 624h1M86 624h1M97 624h1M25 630h1M30 630h1M69 630h1M79 630h2M87 630h1M15 632h1M33 632h1M37 632h1M39 632h1M41 632h1M53 632h1M76 632h1M78 632h2M12 652h1M14 652h1M27 652h1M31 652h1M55 652h1M71 652h1M80 652h1M83 652h1M85 652h1M25 658h1M27 658h1M27 660h1M29 660h1M31 660h1M33 660h1M22 662h1M41 662h1M69 662h1M83 662h1M92 662h1M21 679h1M23 687h1M36 687h1M40 687h1M99 687h1M14 689h1M27 689h1M32 689h1M84 689h1M22 691h1M27 691h2M30 691h1M36 691h1M84 691h2M95 691h1M23 701h1M82 701h1M91 701h1M76 712h2M82 712h1M48 725h1M54 725h1M117 725h1M18 731h1M20 731h1M51 731h1M57 731h1M60 731h1M73 731h1M38 740h1M73 740h1M30 746h1M34 746h1M55 746h3M59 746h1M38 755h1M41 755h1M44 755h1M47 755h1"/>
<path stroke="#4b0072" stroke-width="3" d="M26 380.5h1M34 380.5h1M54 380.5h1M61 380.5h1M17 389.5h2M53 389.5h1M55 389.5h1M62 389.5h1M16 397.5h1M20 397.5h1M29 397.5h2M45 397.5h1M48 397.5h1M59 397.5h1M63 397.5h1M66 397.5h1M20 400.5h1M29 400.5h1M45 400.5h1M68 400.5h1M25 403.5h1M34 403.5h1M36 403.5h1M49 403.5h2M61 403.5h2M31 407.5h1M33 407.5h1M57 407.5h1M72 407.5h1M105 407.5h1M20 422.5h1M42 422.5h1M50 422.5h1M54 422.5h1M56 422.5h1M63 422.5h1M71 422.5h1M22 433.5h1M24 433.5h1M59 433.5h2M64 433.5h1M70 433.5h1M16 436.5h1M18 436.5h2M21 436.5h1M29 436.5h1M62 436.5h1M76 436.5h1M108 436.5h1M17 440.5h2M25 440.5h1M33 440.5h2M48 440.5h1M58 440.5h1M69 440.5h1M16 448.5h1M27 448.5h1M36 448.5h1M43 448.5h1M46 448.5h1M52 448.5h1M61 448.5h1M72 448.5h2M48 451.5h1M51 451.5h1M20 454.5h1M35 454.5h1M40 454.5h1M48 454.5h2M52 454.5h1M48 457.5h1M63 457.5h1M66 457.5h1M15 464.5h1M29 464.5h1M36 464.5h1M52 464.5h1M36 469.5h1M66 469.5h1M57 472.5h1M32 482.5h1M21 513.5h1M36 521.5h1M52 524.5h1M59 524.5h1M66 524.5h1M57 532.5h1M31 544.5h1M58 574.5h2M63 574.5h2M26 577.5h1M64 577.5h1M32 595.5h1M52 595.5h1M34 606.5h1M66 606.5h1M70 606.5h1M17 612.5h1M36 612.5h2M41 612.5h1M60 612.5h1M65 612.5h1M67 612.5h1M76 612.5h1M86 612.5h1M103 612.5h1M19 617.5h1M28 617.5h1M31 617.5h1M38 617.5h1M45 617.5h1M51 617.5h1M58 617.5h1M61 617.5h1M71 617.5h1M32 626.5h1M35 626.5h1M50 626.5h1M76 626.5h1M79 626.5h1M15 642.5h1M77 642.5h1M82 642.5h1M88 642.5h1M93 642.5h1M40 645.5h1M71 645.5h1M76 645.5h1M82 645.5h1M115 645.5h1M28 648.5h1M30 648.5h1M37 648.5h1M71 648.5h1M42 664.5h1M80 664.5h1M98 664.5h1M81 676.5h1M95 676.5h1M22 681.5h2M87 681.5h1M104 681.5h1M108 681.5h1M50 684.5h1M74 693.5h1M104 693.5h1M34 698.5h1M87 698.5h1M22 703.5h1M50 703.5h1M30 719.5h1M34 719.5h1M41 719.5h1M63 719.5h1M78 719.5h1M69 722.5h1M82 722.5h1M84 728.5h1M23 737.5h1M26 737.5h1M58 737.5h1M75 737.5h1M78 737.5h1M24 743.5h1M31 743.5h1M34 743.5h1M58 748.5h1M29 764.5h1M34 764.5h1M37 764.5h2M40 764.5h1M34 767.5h1M42 767.5h1M39 770.5h1"/>
<path stroke="#4b0072" stroke-width="4" d="M30 369h1M25 377h1M37 377h1M55 377h1M65 377h1M73 377h1M12 384h1M18 384h1M27 384h3M32 384h2M43 384h1M68 384h1M76 384h1M106 384h1M34 413h1M46 413h1M50 413h1M58 413h1M7 417h1M19 417h2M52 417h1M59 417h1M78 417h1M22 426h1M37 426h1M41 426h1M68 426h1M73 426h1M13 430h1M23 430h1M37 430h1M68 430h1M71 430h1M23 461h2M49 461h1M52 461h1M62 461h1M82 461h1M55 528h1M69 555h1M45 570h1M66 570h1M64 582h1M55 586h1M65 586h1M57 592h1M36 599h1M63 599h2M53 603h1M55 603h1M58 603h2M75 603h1M78 603h1M95 603h1M37 621h1M65 621h1M70 621h1M74 621h1M81 621h1M90 621h1M115 621h1M28 635h1M33 635h1M59 635h1M95 635h1M103 635h1M38 639h1M45 639h1M57 639h2M34 655h1M92 655h1M95 655h1M24 669h1M75 669h1M78 669h1M92 669h1M18 673h1M20 673h1M23 673h1M26 673h1M30 673h1M59 673h1M20 708h1M27 708h1M84 708h1M100 708h1M29 715h1M38 715h1M69 715h1M83 715h1M114 715h1M69 734h1M72 734h1M21 752h1M45 752h1M31 758h1M34 758h1M45 758h1"/>
<path stroke="#50007a" stroke-width="1" d="M26 371.5h1M37 371.5h1M43 371.5h1M54 371.5h1M59 371.5h1M33 372.5h2M44 372.5h1M48 372.5h1M51 372.5h2M40 395.5h1M50 395.5h1M52 395.5h1M54 395.5h1M67 395.5h1M73 395.5h1M14 405.5h1M105 405.5h1M26 438.5h1M46 438.5h1M49 438.5h1M63 438.5h1M35 444.5h1M39 444.5h1M56 444.5h1M60 444.5h1M45 474.5h1M107 474.5h1M26 475.5h1M30 475.5h1M37 475.5h1M30 530.5h1M47 530.5h1M49 540.5h1M60 546.5h1M62 546.5h1M69 546.5h1M28 559.5h1M31 559.5h1M33 563.5h1M63 563.5h1M25 572.5h1M30 572.5h1M31 579.5h1M43 579.5h1M49 579.5h1M61 579.5h1M64 579.5h1M79 579.5h1M24 610.5h1M33 610.5h1M36 610.5h1M38 610.5h2M86 610.5h2M28 628.5h1M54 628.5h1M67 628.5h1M77 628.5h1M68 650.5h1M83 650.5h1M85 650.5h1M19 666.5h1M66 666.5h1M80 666.5h1M85 666.5h1M12 695.5h1M40 695.5h1M82 695.5h1M21 696.5h1M31 696.5h1M68 696.5h1M97 696.5h1M107 696.5h1M14 705.5h1M18 705.5h1M23 705.5h1M27 705.5h1M74 705.5h2M82 705.5h1M99 705.5h1M22 710.5h2M25 710.5h1M85 710.5h1M15 717.5h1M23 717.5h1M95 717.5h1M104 717.5h1M22 726.5h1M34 726.5h1M99 726.5h1M22 741.5h1M38 741.5h1M62 741.5h1"/>
<path stroke="#50007a" stroke-width="2" d="M2 201h1M14 201h1M25 201h1M35 201h1M97 201h1M113 201h1M55 362h1M38 364h1M47 364h1M22 366h1M24 366h1M40 366h1M46 366h1M60 366h1M14 374h1M32 374h1M40 374h1M42 374h1M57 374h1M61 374h1M16 387h1M28 387h1M72 387h2M27 392h1M54 392h1M16 394h1M32 394h1M45 394h1M50 394h1M58 394h1M71 394h1M79 394h1M3 410h1M20 410h2M42 410h1M55 410h1M62 410h1M67 410h1M73 410h1M106 410h1M20 420h1M60 420h1M70 420h1M21 443h1M51 443h1M76 443h1M29 446h1M49 446h1M62 446h1M52 467h1M64 467h1M60 480h1M76 480h1M25 485h1M116 485h1M54 487h1M74 487h1M39 490h1M45 490h1M44 495h1M41 506h1M43 506h1M82 506h1M40 511h1M32 516h1M41 516h1M41 535h1M51 535h1M53 537h1M61 537h1M39 539h1M56 539h1M74 539h1M33 542h1M55 542h1M53 548h1M60 548h1M50 558h1M64 558h1M27 565h1M34 565h1M46 567h1M61 567h1M23 589h1M26 589h1M35 589h1M43 589h1M49 589h1M21 609h1M26 609h1M63 609h1M65 609h1M69 609h1M71 609h1M84 609h1M117 609h1M28 615h2M79 615h1M19 624h1M25 624h1M31 624h1M22 630h1M24 630h1M109 630h1M20 632h1M59 632h1M62 632h1M64 632h1M70 632h1M80 632h1M82 632h1M86 632h1M95 632h1M15 652h1M20 652h1M29 652h2M87 652h1M105 652h1M115 652h1M28 658h1M35 658h1M16 660h1M24 660h1M79 660h1M86 660h1M91 660h1M112 660h1M118 660h1M25 662h1M64 662h1M93 662h1M113 662h1M83 687h1M17 689h1M22 689h1M24 689h1M81 689h1M83 689h1M102 689h1M16 691h1M21 691h1M26 691h1M38 691h1M87 691h2M24 701h1M95 701h1M114 701h1M22 712h1M81 712h1M83 712h1M19 725h2M27 725h1M72 725h1M26 731h1M29 731h1M32 731h1M78 731h1M117 731h1M27 740h1M35 740h1M26 746h1M48 755h1"/>
<path stroke="#50007a" stroke-width="3" d="M10 380.5h1M16 380.5h1M27 380.5h1M31 380.5h1M39 380.5h1M55 380.5h2M67 380.5h1M13 389.5h1M22 389.5h1M25 389.5h1M39 389.5h1M61 389.5h1M67 389.5h1M0 397.5h1M40 397.5h1M43 397.5h1M50 397.5h1M53 397.5h2M67 397.5h1M74 397.5h1M87 397.5h1M22 400.5h2M25 400.5h1M42 400.5h1M58 400.5h1M62 400.5h1M65 400.5h2M69 400.5h1M72 400.5h1M55 403.5h1M21 407.5h1M15 422.5h1M24 422.5h1M36 422.5h1M70 422.5h1M119 422.5h1M20 433.5h1M28 433.5h1M34 433.5h1M40 433.5h2M71 433.5h1M84 433.5h1M74 436.5h1M14 440.5h1M23 440.5h1M27 440.5h1M46 440.5h1M60 440.5h1M19 448.5h1M40 448.5h1M45 448.5h1M57 448.5h2M60 448.5h1M63 448.5h1M75 448.5h1M11 451.5h1M16 451.5h1M18 451.5h1M21 451.5h1M24 451.5h1M45 451.5h1M47 451.5h1M56 451.5h2M61 451.5h1M70 451.5h1M107 451.5h1M47 454.5h1M53 454.5h1M76 454.5h1M18 457.5h1M26 457.5h1M29 457.5h1M47 457.5h1M16 464.5h1M19 464.5h1M27 464.5h1M34 464.5h1M69 464.5h1M24 469.5h1M32 469.5h1M33 472.5h1M18 477.5h1M29 477.5h1M35 477.5h1M42 477.5h1M67 477.5h1M70 477.5h1M30 482.5h1M42 482.5h1M61 482.5h1M69 482.5h1M76 482.5h1M62 499.5h1M64 499.5h1M22 518.5h1M28 518.5h1M40 518.5h1M40 524.5h1M54 524.5h1M50 532.5h1M53 532.5h2M60 532.5h1M81 532.5h1M86 532.5h1M38 544.5h1M54 574.5h1M67 574.5h1M28 577.5h1M33 577.5h1M58 577.5h1M82 577.5h1M25 595.5h1M31 595.5h1M56 595.5h1M86 595.5h1M19 606.5h1M37 606.5h1M42 606.5h1M46 606.5h1M53 606.5h2M59 606.5h1M68 606.5h1M75 606.5h1M77 606.5h1M15 612.5h1M42 612.5h1M63 612.5h1M69 612.5h1M72 612.5h2M87 612.5h1M40 617.5h1M42 617.5h1M63 617.5h1M43 626.5h1M85 626.5h1M32 642.5h1M36 642.5h1M69 642.5h1M72 642.5h1M86 642.5h1M24 645.5h2M24 648.5h1M31 648.5h2M82 648.5h1M84 648.5h1M89 648.5h1M117 648.5h1M22 664.5h1M68 664.5h1M118 664.5h1M83 676.5h2M64 681.5h1M82 681.5h2M16 684.5h1M33 684.5h2M17 693.5h1M60 693.5h1M73 693.5h1M81 693.5h1M68 698.5h1M81 698.5h1M85 698.5h1M116 698.5h1M27 703.5h1M36 703.5h1M45 703.5h1M73 703.5h1M95 703.5h1M12 719.5h1M22 719.5h1M27 719.5h2M118 719.5h1M72 722.5h1M79 722.5h1M87 722.5h1M13 728.5h1M23 728.5h2M26 728.5h1M37 728.5h1M71 728.5h1M27 737.5h1M32 737.5h1M25 743.5h1M27 743.5h1M32 743.5h1M60 743.5h2M29 748.5h1M33 748.5h1M38 748.5h1M55 748.5h1M33 761.5h1M37 761.5h1M39 764.5h1M24 770.5h1M30 770.5h1"/>
<path stroke="#50007a" stroke-width="4" d="M12 369h1M49 369h1M36 377h1M40 377h2M111 377h1M31 384h1M44 384h1M57 384h1M61 384h1M66 384h1M69 384h1M11 413h1M13 413h1M20 413h1M16 417h1M28 417h1M50 417h1M56 417h1M66 417h1M70 417h1M16 426h3M25 426h1M30 426h1M49 426h1M59 426h1M64 426h1M71 426h1M81 426h1M17 430h1M19 430h1M24 430h1M26 430h1M32 430h1M49 430h1M62 430h1M110 430h1M22 461h1M32 461h1M56 461h1M58 461h1M61 461h1M42 551h1M44 551h2M68 551h1M35 555h1M26 570h1M30 570h1M39 570h1M84 570h1M88 570h1M22 582h1M43 582h1M52 582h1M63 582h1M21 586h1M41 586h1M54 586h1M20 599h1M35 599h1M37 599h2M70 599h1M25 603h1M32 603h1M49 603h1M60 603h1M62 603h1M64 603h1M68 603h1M74 603h1M77 603h1M24 621h1M62 621h1M83 621h1M85 621h1M20 635h1M30 635h1M79 635h1M81 635h1M92 635h1M99 635h1M28 639h1M35 639h1M55 639h1M80 639h1M94 639h1M117 639h1M7 655h1M20 655h1M24 655h1M48 655h1M80 655h1M110 655h1M63 669h1M82 669h1M102 669h1M118 669h1M84 673h1M98 673h1M32 708h1M83 708h1M97 708h1M19 715h1M25 715h1M32 715h1M47 715h1M80 715h1M84 715h2M118 715h1M21 734h1M27 734h1M36 734h1M75 734h1M21 758h1M47 758h1"/>
<path stroke="#540082" stroke-width="1" d="M12 371.5h1M24 371.5h2M29 371.5h1M31 371.5h1M44 371.5h1M46 371.5h1M49 371.5h1M52 371.5h1M55 371.5h1M7 372.5h1M21 372.5h1M31 372.5h1M37 372.5h1M49 372.5h1M58 372.5h1M13 395.5h1M19 395.5h1M28 395.5h1M63 395.5h1M74 395.5h1M109 395.5h1M8 405.5h1M15 405.5h1M40 405.5h1M58 405.5h1M63 405.5h2M71 405.5h1M10 438.5h1M12 438.5h1M24 438.5h1M27 438.5h1M30 438.5h2M59 438.5h1M70 438.5h1M87 438.5h1M18 444.5h1M21 444.5h1M49 444.5h1M113 444.5h1M30 474.5h1M38 474.5h1M68 474.5h1M53 475.5h1M56 475.5h1M63 475.5h1M70 475.5h3M74 475.5h1M20 488.5h1M55 488.5h1M58 488.5h1M62 488.5h1M26 540.5h1M48 540.5h1M50 540.5h1M52 540.5h1M61 540.5h1M34 559.5h1M41 559.5h1M43 559.5h1M23 563.5h1M28 572.5h1M47 572.5h2M67 572.5h1M35 579.5h2M55 579.5h1M69 579.5h1M73 579.5h1M77 579.5h1M15 610.5h1M28 610.5h1M53 610.5h1M72 610.5h1M74 610.5h1M79 610.5h1M26 628.5h1M40 628.5h1M79 628.5h1M16 650.5h1M21 650.5h1M26 650.5h1M32 650.5h1M77 650.5h1M13 666.5h1M22 666.5h1M24 666.5h1M96 666.5h1M83 695.5h1M85 695.5h2M89 695.5h1M89 696.5h1M101 696.5h1M22 705.5h1M24 705.5h1M32 705.5h1M83 705.5h1M91 705.5h1M42 710.5h1M108 710.5h1M24 717.5h1M74 717.5h1M103 717.5h1M19 726.5h3M31 726.5h1"/>
<path stroke="#540082" stroke-width="2" d="M11 201h1M24 201h1M37 201h1M62 201h1M66 201h1M82 201h1M95 201h1M32 362h1M24 364h1M31 364h2M44 364h1M57 364h1M13 366h1M15 366h1M44 366h1M50 374h1M58 374h1M60 374h1M71 374h1M17 387h1M54 387h1M63 387h1M65 387h1M69 387h1M81 387h1M107 387h1M58 392h1M67 392h1M69 392h1M15 394h1M23 394h1M110 394h1M61 410h1M63 410h1M69 410h1M72 410h1M79 410h1M36 420h1M72 420h1M77 420h1M104 420h1M16 443h1M18 443h1M22 443h1M30 443h1M65 443h1M75 443h1M77 443h1M81 443h1M25 446h2M33 446h1M44 446h1M56 446h1M66 446h1M79 446h1M35 467h1M49 467h3M68 467h1M114 467h1M46 480h1M49 480h1M61 480h1M11 485h1M20 485h1M23 485h1M59 485h1M69 485h1M33 487h1M61 487h1M15 490h1M56 490h1M26 495h1M34 495h1M57 495h1M60 495h1M24 497h1M29 497h1M111 497h1M24 506h1M33 506h1M46 506h1M52 506h1M87 506h1M30 516h1M29 537h1M40 537h1M62 537h1M67 537h1M40 539h1M52 539h1M58 539h1M64 539h1M31 542h1M39 542h1M62 542h1M43 548h1M45 548h1M25 558h1M57 558h1M52 565h1M54 565h1M63 565h1M65 565h1M68 565h1M56 567h1M67 567h1M71 567h2M25 589h1M28 589h1M38 589h1M51 589h2M54 589h1M57 589h1M59 589h1M66 589h1M33 609h1M52 609h1M105 609h1M114 609h1M32 615h1M34 615h1M42 615h1M58 615h1M80 615h1M92 615h2M35 624h1M57 624h1M78 624h1M32 630h1M62 630h1M82 630h1M119 630h1M23 632h1M36 632h1M83 632h1M104 632h1M72 652h1M114 652h1M42 658h1M82 658h1M84 658h1M90 658h1M94 658h1M80 660h1M88 660h1M117 660h1M17 662h1M21 662h1M26 662h1M87 662h1M22 679h1M26 679h1M65 679h1M99 679h1M14 687h1M28 687h1M30 687h1M85 687h1M88 687h1M92 687h1M26 689h1M88 689h1M98 689h1M101 689h1M116 689h1M24 691h1M70 691h1M96 691h1M103 691h1M16 701h1M50 701h1M101 701h1M119 701h1M28 712h1M88 712h1M82 725h2M87 725h1M24 731h2M83 731h1M23 740h1M28 740h1M65 740h1M68 740h2M78 740h1M60 746h1M63 746h1M34 755h1"/>
<path stroke="#540082" stroke-width="3" d="M48 352.5h1M4 380.5h1M15 380.5h1M43 380.5h1M69 380.5h1M16 389.5h1M19 389.5h1M21 389.5h1M32 389.5h1M10 397.5h1M34 397.5h1M51 397.5h1M64 397.5h2M72 397.5h1M75 397.5h1M113 397.5h1M12 400.5h1M46 400.5h1M57 400.5h1M67 400.5h1M71 400.5h1M22 403.5h2M59 403.5h1M67 403.5h1M70 403.5h1M18 407.5h2M24 407.5h1M46 407.5h1M62 407.5h1M70 407.5h1M75 407.5h1M78 407.5h2M116 407.5h1M10 422.5h1M13 422.5h1M25 422.5h1M49 422.5h1M61 422.5h1M74 422.5h1M9 433.5h1M15 433.5h1M73 433.5h1M34 436.5h1M37 436.5h1M47 436.5h1M59 436.5h1M63 436.5h1M66 436.5h1M73 436.5h1M113 436.5h1M15 440.5h1M21 440.5h1M28 440.5h1M50 440.5h1M53 440.5h2M64 440.5h1M71 440.5h1M74 440.5h1M20 448.5h1M24 448.5h1M50 448.5h1M53 448.5h1M25 451.5h1M30 451.5h1M65 451.5h1M30 454.5h1M37 454.5h1M51 454.5h1M17 457.5h1M21 457.5h1M38 457.5h1M53 457.5h2M57 457.5h1M78 457.5h1M25 464.5h1M28 464.5h1M31 464.5h1M39 464.5h1M46 464.5h1M48 464.5h1M50 464.5h1M55 464.5h1M37 469.5h1M40 469.5h1M47 469.5h1M51 469.5h1M53 469.5h1M74 469.5h1M23 472.5h1M28 472.5h1M45 472.5h2M52 472.5h1M60 472.5h1M89 472.5h1M27 477.5h1M31 477.5h1M64 477.5h1M12 482.5h1M24 482.5h1M38 482.5h1M50 482.5h1M24 492.5h1M34 492.5h1M38 492.5h1M40 492.5h1M55 492.5h1M62 492.5h1M32 499.5h1M42 499.5h1M50 499.5h1M26 508.5h1M46 508.5h1M45 513.5h1M53 513.5h2M72 513.5h1M17 518.5h1M35 518.5h1M57 518.5h1M52 521.5h1M59 521.5h1M77 521.5h1M65 524.5h1M62 532.5h1M66 532.5h1M51 544.5h1M111 544.5h1M41 561.5h1M49 561.5h2M33 574.5h1M47 574.5h1M52 574.5h1M50 577.5h1M53 577.5h1M68 577.5h1M36 595.5h1M38 595.5h1M58 595.5h1M60 595.5h1M64 595.5h1M74 595.5h1M27 606.5h1M29 606.5h1M36 606.5h1M43 606.5h1M50 606.5h1M64 606.5h1M79 606.5h1M85 606.5h1M31 612.5h3M39 612.5h1M50 612.5h1M81 612.5h1M92 612.5h1M57 617.5h1M68 617.5h1M77 617.5h1M109 617.5h1M53 626.5h1M37 642.5h1M79 642.5h1M81 642.5h1M112 642.5h1M27 645.5h1M30 645.5h2M33 645.5h1M73 645.5h1M18 648.5h1M73 648.5h1M23 664.5h1M28 664.5h1M94 664.5h1M102 664.5h1M20 676.5h1M71 676.5h1M4 681.5h1M24 681.5h2M30 681.5h1M84 681.5h1M88 681.5h1M92 681.5h1M95 681.5h1M114 681.5h1M78 684.5h1M81 684.5h1M100 684.5h1M110 684.5h1M117 684.5h1M18 693.5h1M83 693.5h1M86 693.5h1M91 693.5h1M117 693.5h1M75 698.5h1M102 698.5h1M114 698.5h1M102 703.5h1M108 703.5h1M116 703.5h1M17 719.5h1M23 719.5h1M81 719.5h1M88 719.5h2M15 722.5h1M37 722.5h1M90 722.5h1M117 722.5h1M21 728.5h1M27 728.5h1M32 728.5h1M16 737.5h1M25 737.5h1M77 737.5h1M80 737.5h1M20 743.5h1M67 743.5h2M24 748.5h2M28 748.5h1M31 748.5h1M37 748.5h1M21 761.5h1M26 767.5h1M33 767.5h1M39 767.5h1"/>
<path stroke="#540082" stroke-width="4" d="M10 377h1M23 377h1M50 377h1M53 377h1M6 384h1M22 384h1M71 384h1M73 384h1M78 384h1M15 413h1M19 413h1M38 413h1M59 413h1M66 413h3M79 413h1M111 413h1M12 417h1M30 417h1M58 417h1M60 417h1M71 417h1M108 417h1M11 426h1M52 426h1M54 426h1M79 426h1M20 430h1M27 430h1M33 430h1M60 430h1M63 430h1M74 430h1M82 430h1M37 461h1M40 461h1M60 461h1M63 461h1M21 503h1M43 503h1M53 503h1M56 503h1M58 503h1M63 503h1M31 528h1M45 528h1M64 528h1M25 551h1M55 551h1M63 551h1M26 555h1M56 555h1M37 570h1M50 570h1M52 570h1M68 570h1M71 570h1M23 582h1M29 582h1M33 582h1M35 582h1M44 582h1M56 582h1M58 582h1M18 586h1M22 586h1M36 586h1M61 586h2M30 592h1M35 592h1M44 592h2M59 592h1M19 599h1M45 599h1M48 599h1M51 599h1M54 599h1M88 599h1M101 599h1M26 603h1M43 603h1M57 603h1M65 603h1M20 621h1M38 635h1M90 635h1M118 635h1M20 639h1M82 639h1M85 639h1M118 639h1M26 655h1M114 655h1M14 669h1M20 669h1M28 669h1M88 669h1M104 669h1M24 673h1M80 673h1M89 673h1M97 673h1M115 673h1M26 708h1M76 708h1M94 708h1M98 708h1M18 715h1M24 715h1M26 715h1M89 715h1M24 734h1M24 752h1M34 752h1M51 752h1M35 758h2M42 758h1M21 774h1"/>
<path stroke="#52009e" stroke-width="1" d="M23 371.5h1M33 371.5h1M41 371.5h1M56 371.5h1M58 371.5h1M17 372.5h1M19 372.5h1M32 372.5h1M38 372.5h2M65 395.5h1M76 395.5h1M13 405.5h1M60 405.5h1M67 405.5h1M69 405.5h1M88 405.5h1M107 405.5h1M114 405.5h1M119 405.5h1M14 438.5h2M17 438.5h1M50 438.5h1M118 438.5h1M13 444.5h1M24 444.5h1M31 444.5h1M58 444.5h1M49 474.5h2M36 475.5h1M38 475.5h1M47 475.5h1M50 475.5h1M30 488.5h1M37 488.5h1M39 488.5h1M33 530.5h1M52 530.5h1M72 530.5h1M35 540.5h1M54 546.5h1M38 559.5h1M47 559.5h1M49 559.5h1M62 559.5h1M65 559.5h2M74 559.5h1M30 563.5h1M37 563.5h1M47 563.5h1M59 563.5h2M81 563.5h1M31 572.5h1M35 572.5h1M44 572.5h1M59 572.5h1M72 572.5h1M32 579.5h1M48 579.5h1M52 579.5h1M58 579.5h2M92 579.5h1M19 610.5h1M25 610.5h1M76 610.5h1M83 610.5h1M85 610.5h1M88 610.5h1M94 610.5h1M106 610.5h1M15 628.5h1M27 628.5h1M32 628.5h1M82 628.5h1M98 628.5h1M13 650.5h1M20 650.5h1M33 650.5h1M84 650.5h1M106 650.5h2M119 650.5h1M30 666.5h1M81 666.5h1M86 666.5h1M94 666.5h1M98 666.5h1M104 666.5h1M114 666.5h1M15 695.5h1M25 695.5h1M99 695.5h1M106 695.5h1M15 696.5h1M22 696.5h1M27 696.5h1M21 705.5h1M28 705.5h1M33 705.5h1M93 705.5h1M17 710.5h1M87 710.5h1M17 717.5h1M22 717.5h1M31 717.5h1M42 717.5h1M86 717.5h1M98 717.5h1M113 717.5h1M116 717.5h1M118 717.5h1M13 726.5h1M16 726.5h2M24 726.5h1M27 726.5h1M24 741.5h1M68 741.5h2M78 741.5h1"/>
<path stroke="#52009e" stroke-width="2" d="M0 201h1M16 201h1M29 201h1M33 201h1M43 201h1M46 201h1M98 201h1M57 362h1M39 364h1M43 364h1M18 366h1M30 366h1M54 366h1M6 374h1M19 374h1M25 374h1M52 374h1M54 374h1M56 374h1M62 374h1M20 387h2M62 387h1M119 387h1M21 392h1M28 392h1M79 392h1M9 394h1M66 394h1M69 394h1M72 394h1M74 394h1M8 410h1M50 410h1M60 410h1M77 410h1M21 420h1M25 420h1M42 420h1M23 443h1M33 443h1M38 443h1M48 443h1M64 443h1M73 443h1M109 443h1M11 446h1M22 446h1M30 446h1M46 446h1M52 446h1M55 446h1M60 446h1M68 446h1M71 446h1M39 467h2M45 467h1M63 467h1M65 467h1M73 467h1M76 467h1M30 480h1M52 480h1M57 480h1M43 485h2M65 485h1M16 487h1M55 487h1M67 487h1M69 487h1M29 490h1M31 495h1M51 495h1M53 495h1M19 497h1M48 497h1M60 497h1M116 497h1M66 506h1M30 511h1M39 511h1M48 511h1M64 511h1M66 511h1M31 516h1M29 535h1M49 535h1M23 537h1M31 537h1M34 537h1M44 537h1M46 537h1M48 537h1M56 537h1M65 537h1M35 539h1M48 539h1M60 539h1M28 542h1M64 542h2M28 548h1M35 548h1M39 548h1M49 548h1M73 548h1M21 558h1M38 558h2M47 558h1M20 565h1M37 565h1M48 565h1M50 565h1M74 565h1M25 567h1M62 567h1M75 567h1M93 567h1M30 589h1M47 589h1M18 609h1M25 609h1M85 609h1M15 615h1M26 615h1M37 615h1M76 615h1M113 615h1M118 615h1M28 624h1M79 624h1M88 624h1M102 624h1M19 630h2M26 630h1M85 630h1M89 630h2M116 630h1M118 630h1M90 632h1M92 632h1M102 632h1M19 652h1M26 652h1M100 652h1M110 652h1M23 658h1M119 658h1M13 660h1M94 660h1M101 660h1M16 662h1M18 662h1M75 662h1M84 662h1M94 662h1M83 679h2M89 679h2M94 679h1M97 679h1M108 679h1M117 679h1M12 687h1M22 687h1M104 687h1M113 687h1M11 689h1M16 689h1M12 691h1M97 691h1M111 691h1M18 701h1M22 701h1M27 701h1M92 701h1M10 712h1M26 712h1M84 712h1M86 712h1M90 712h2M98 712h1M109 712h1M85 725h1M103 725h1M76 731h1M25 740h2M20 746h1M24 746h1M58 746h1M31 755h1M35 755h1M49 755h1"/>
<path stroke="#52009e" stroke-width="3" d="M35 352.5h1M17 380.5h1M46 380.5h1M58 380.5h2M70 380.5h1M81 380.5h1M8 389.5h1M11 389.5h1M24 389.5h1M82 389.5h1M18 397.5h1M49 397.5h1M79 397.5h1M85 397.5h1M11 400.5h1M28 400.5h1M59 400.5h1M78 400.5h1M82 400.5h1M114 400.5h1M11 403.5h1M28 403.5h1M37 403.5h1M48 403.5h1M52 403.5h1M69 403.5h1M78 403.5h1M106 403.5h1M109 403.5h1M7 407.5h1M71 407.5h1M73 407.5h2M109 407.5h1M113 407.5h1M8 422.5h2M17 422.5h1M19 422.5h1M66 422.5h1M68 422.5h1M73 422.5h1M76 422.5h1M81 422.5h1M88 422.5h1M118 422.5h1M10 433.5h1M13 433.5h1M16 433.5h1M19 433.5h1M25 433.5h1M55 433.5h1M61 433.5h1M72 433.5h1M78 433.5h1M15 436.5h1M64 436.5h1M82 436.5h1M20 440.5h1M22 440.5h1M26 440.5h1M70 440.5h1M76 440.5h1M21 448.5h2M25 448.5h1M41 448.5h1M44 448.5h1M67 448.5h1M70 448.5h1M79 448.5h1M14 451.5h1M19 451.5h1M26 451.5h1M35 451.5h2M41 451.5h1M62 451.5h1M66 451.5h1M15 454.5h1M36 454.5h1M38 454.5h1M68 454.5h1M70 454.5h1M19 457.5h1M24 457.5h2M34 457.5h1M49 457.5h1M52 457.5h1M71 457.5h1M20 464.5h1M22 464.5h1M30 464.5h1M53 464.5h1M26 469.5h1M28 469.5h1M30 469.5h1M45 469.5h1M35 472.5h1M47 472.5h1M34 477.5h1M49 477.5h1M65 477.5h1M33 482.5h2M60 482.5h1M62 482.5h1M46 492.5h1M48 492.5h1M51 492.5h1M53 492.5h1M58 492.5h1M80 492.5h1M25 499.5h1M31 499.5h1M37 508.5h1M56 508.5h1M27 513.5h1M37 513.5h1M40 513.5h1M43 513.5h1M65 513.5h1M71 513.5h1M24 518.5h1M48 518.5h1M61 518.5h1M67 518.5h1M20 521.5h1M27 524.5h1M33 524.5h1M35 524.5h2M39 524.5h1M47 524.5h1M37 544.5h1M47 544.5h1M57 544.5h1M59 544.5h1M32 561.5h1M34 561.5h1M42 561.5h1M44 561.5h1M52 561.5h1M57 561.5h1M36 574.5h2M50 574.5h1M68 574.5h1M87 574.5h1M25 577.5h1M35 577.5h2M45 577.5h2M59 577.5h1M62 577.5h1M65 577.5h2M74 577.5h1M22 595.5h2M27 595.5h1M29 595.5h1M34 595.5h1M61 595.5h2M65 595.5h1M70 595.5h1M101 595.5h1M49 606.5h1M78 606.5h1M14 612.5h1M24 612.5h1M66 612.5h1M78 612.5h1M113 612.5h2M116 612.5h1M9 617.5h1M26 617.5h2M81 617.5h1M102 617.5h1M104 617.5h1M25 626.5h1M28 626.5h1M82 626.5h2M89 626.5h1M19 642.5h1M83 642.5h1M97 642.5h1M100 642.5h1M117 642.5h1M13 645.5h1M20 645.5h1M85 645.5h1M92 645.5h1M95 645.5h1M78 648.5h1M85 648.5h1M87 648.5h1M91 648.5h1M111 648.5h1M118 648.5h1M81 664.5h1M83 664.5h1M85 664.5h1M95 664.5h1M109 664.5h1M119 664.5h1M15 676.5h1M29 676.5h1M87 676.5h1M89 676.5h1M117 676.5h1M16 681.5h1M89 681.5h1M93 681.5h1M107 681.5h1M26 684.5h1M84 684.5h1M88 684.5h1M107 684.5h1M111 684.5h1M114 684.5h1M118 684.5h1M21 693.5h1M27 693.5h1M106 693.5h1M115 693.5h1M16 698.5h1M97 698.5h1M29 703.5h1M75 703.5h1M105 703.5h1M112 703.5h1M117 703.5h1M119 703.5h1M9 719.5h1M15 719.5h1M83 719.5h1M103 719.5h1M119 719.5h1M11 722.5h1M85 722.5h1M109 722.5h1M17 728.5h1M87 728.5h1M117 728.5h1M18 737.5h1M30 743.5h1M64 743.5h2M70 743.5h1M61 748.5h1M24 761.5h1M31 761.5h1M43 761.5h1M25 764.5h1M32 764.5h1M29 767.5h1M31 770.5h1"/>
<path stroke="#52009e" stroke-width="4" d="M18 369h1M29 369h1M35 369h1M37 369h1M43 369h1M12 377h1M24 377h1M27 377h1M29 377h1M49 377h1M59 377h1M72 377h1M75 377h1M78 377h1M60 384h1M80 384h1M114 384h1M22 413h1M61 413h1M75 413h1M13 417h2M18 417h1M63 417h1M4 426h1M21 426h1M56 426h1M104 426h1M5 430h2M18 430h1M57 430h1M69 430h1M72 430h1M112 430h1M30 461h1M39 461h1M42 461h1M71 461h1M26 503h1M32 503h1M35 503h1M44 503h1M57 503h1M35 528h1M90 528h1M111 528h1M36 551h1M37 555h1M48 555h1M54 555h1M46 570h1M72 570h1M116 570h1M31 582h1M59 582h1M61 582h2M68 582h2M78 582h1M48 586h1M53 586h1M118 586h1M24 592h1M27 592h1M37 592h1M51 592h1M61 592h1M75 592h1M87 592h1M41 599h1M58 599h1M66 599h3M77 599h1M82 599h1M103 599h1M19 603h1M22 603h1M35 603h1M45 603h1M50 603h1M61 603h1M70 603h1M83 603h1M23 621h1M58 621h1M76 621h1M88 621h1M97 621h1M105 621h1M112 621h1M26 635h1M84 635h1M21 639h1M24 639h1M71 639h1M95 639h1M17 655h1M37 655h1M70 655h1M81 655h1M115 655h1M17 669h1M25 669h1M29 669h1M98 669h1M101 669h1M115 669h1M88 673h1M90 673h1M16 708h1M18 708h1M82 708h1M85 708h1M96 708h1M15 715h1M20 715h1M49 715h1M93 715h1M110 715h1M115 715h1M115 734h1M16 752h1M26 752h1M30 752h1M54 752h1M2 758h1M40 758h1"/>
<path stroke="#4a00b6" stroke-width="1" d="M22 371.5h1M28 371.5h1M51 371.5h1M57 371.5h1M9 372.5h1M28 372.5h1M40 372.5h1M47 372.5h1M54 372.5h1M56 372.5h1M60 372.5h1M116 395.5h1M2 405.5h1M5 405.5h1M9 405.5h1M16 405.5h1M19 405.5h1M109 405.5h2M22 438.5h1M55 438.5h1M82 438.5h1M12 444.5h1M16 444.5h1M23 444.5h1M62 444.5h1M67 444.5h1M78 444.5h1M80 444.5h1M116 444.5h1M18 474.5h1M21 474.5h1M31 474.5h1M37 474.5h1M52 474.5h1M106 474.5h1M14 475.5h1M18 475.5h1M24 475.5h1M44 475.5h1M58 475.5h1M66 475.5h1M114 475.5h1M13 488.5h1M52 488.5h1M59 530.5h1M73 530.5h1M57 540.5h1M38 546.5h1M42 546.5h1M45 546.5h1M70 546.5h1M29 559.5h2M37 559.5h1M56 559.5h1M68 559.5h1M26 563.5h1M44 563.5h1M55 563.5h3M32 572.5h1M36 572.5h1M39 572.5h1M52 572.5h1M74 572.5h1M118 572.5h1M28 579.5h1M45 579.5h2M57 579.5h1M60 579.5h1M89 579.5h1M13 610.5h2M22 610.5h1M31 610.5h1M71 610.5h1M23 628.5h1M105 628.5h1M114 628.5h1M87 650.5h1M98 650.5h1M114 650.5h1M20 666.5h2M89 666.5h1M91 666.5h2M102 666.5h1M109 666.5h1M26 695.5h1M90 695.5h1M118 695.5h1M3 696.5h1M12 696.5h1M20 696.5h1M13 705.5h1M88 705.5h1M108 705.5h1M18 710.5h1M20 710.5h1M82 710.5h2M86 710.5h1M93 710.5h1M112 710.5h1M16 717.5h1M21 717.5h1M87 717.5h1M102 717.5h1M117 717.5h1M79 726.5h1M92 726.5h1M19 741.5h1M76 741.5h2"/>
<path stroke="#4a00b6" stroke-width="2" d="M6 201h1M10 201h1M26 201h1M39 201h1M57 201h1M80 201h1M94 201h1M110 201h1M117 201h1M9 355h1M29 355h1M57 360h1M25 362h1M41 362h1M27 364h1M37 364h1M48 364h1M29 366h1M38 366h1M13 374h1M15 374h1M26 374h1M44 374h1M53 374h1M55 374h1M30 387h1M61 387h1M70 387h1M76 387h1M106 387h1M110 387h1M17 392h2M105 392h1M113 392h1M107 394h1M66 410h1M70 410h2M112 410h1M58 420h1M68 420h1M73 420h1M75 420h1M82 420h2M87 420h1M7 443h1M10 443h1M14 443h1M19 443h1M32 443h1M61 443h1M71 443h1M9 446h1M18 446h1M23 446h1M28 446h1M41 446h1M58 446h1M65 446h1M73 446h1M31 467h1M36 467h1M48 467h1M57 467h1M66 467h2M72 467h1M22 480h1M27 480h1M31 480h1M34 480h1M56 480h1M62 480h1M65 480h1M75 480h1M83 480h1M111 480h1M28 485h1M30 485h1M32 485h1M35 485h1M51 485h1M57 485h1M67 485h2M78 485h1M106 485h1M13 487h1M34 487h1M40 487h1M56 487h1M60 487h1M84 487h1M33 490h1M77 490h1M113 490h1M23 495h1M37 495h1M40 495h1M43 495h1M56 495h1M71 495h1M82 495h1M35 497h1M43 497h1M63 497h2M69 497h1M107 497h1M29 506h1M39 506h1M59 506h2M72 506h1M108 506h1M19 511h1M28 511h1M46 511h1M59 511h1M36 516h1M40 516h1M43 516h1M32 535h1M35 535h1M44 535h1M63 535h1M67 535h1M26 537h1M32 537h1M43 537h1M64 537h1M66 537h1M68 537h2M111 537h1M29 539h1M32 539h1M50 539h1M61 539h1M70 539h1M77 539h1M89 539h1M24 542h1M29 542h1M38 542h1M49 542h1M88 542h1M44 548h1M47 548h1M54 548h1M43 558h1M58 558h1M60 558h1M71 558h1M74 558h1M79 558h1M31 565h2M45 565h2M51 565h1M53 565h1M55 565h1M72 565h1M111 565h1M27 567h2M33 567h1M50 567h1M59 567h2M69 567h1M31 589h1M42 589h1M55 589h1M68 589h1M116 589h1M31 609h1M66 609h1M81 609h1M87 609h1M98 609h1M25 615h1M36 615h1M74 615h1M78 615h1M90 615h2M96 615h1M89 624h1M96 624h1M110 624h1M116 624h2M18 630h1M84 630h1M91 630h1M96 630h2M107 630h1M113 630h1M16 632h1M25 632h1M85 632h1M98 632h2M17 652h2M23 652h1M104 652h1M116 652h1M17 658h1M20 658h1M24 658h1M26 658h1M92 658h2M116 658h1M83 660h1M92 660h1M24 662h1M16 679h1M86 679h2M115 679h1M20 687h2M84 687h1M101 687h1M107 687h2M112 687h1M21 689h1M23 689h1M93 689h1M96 689h1M99 689h1M109 689h1M2 691h1M75 691h1M92 691h1M89 701h1M110 701h1M17 712h2M38 712h1M87 712h1M40 725h1M100 725h1M21 731h1M22 740h1M71 740h1M16 746h1M27 746h2M33 746h1M64 746h1M66 746h1M33 755h1"/>
<path stroke="#4a00b6" stroke-width="3" d="M1 380.5h1M12 380.5h1M18 380.5h1M22 380.5h1M57 380.5h1M75 380.5h1M79 380.5h1M109 380.5h1M112 380.5h1M23 389.5h1M60 389.5h1M14 397.5h1M44 397.5h1M69 397.5h1M73 397.5h1M78 397.5h1M14 400.5h1M73 400.5h1M80 400.5h1M108 400.5h1M7 403.5h4M58 403.5h1M76 403.5h1M68 407.5h1M80 407.5h1M110 407.5h1M12 422.5h1M59 422.5h1M69 422.5h1M72 422.5h1M78 422.5h1M82 422.5h1M114 422.5h1M117 422.5h1M75 433.5h1M103 433.5h1M12 436.5h1M20 436.5h1M32 436.5h1M58 436.5h1M77 436.5h1M110 436.5h1M1 440.5h1M24 440.5h1M49 440.5h1M66 440.5h1M72 440.5h1M77 440.5h1M82 440.5h1M109 440.5h1M14 448.5h2M34 448.5h1M49 448.5h1M55 448.5h1M64 448.5h1M66 448.5h1M71 448.5h1M74 448.5h1M34 451.5h1M52 451.5h1M59 451.5h1M68 451.5h1M71 451.5h1M77 451.5h1M112 451.5h1M13 454.5h2M26 454.5h1M62 454.5h1M64 454.5h1M110 454.5h1M7 457.5h1M33 457.5h1M35 457.5h1M42 457.5h1M44 457.5h1M46 457.5h1M56 457.5h1M61 457.5h2M70 457.5h1M104 457.5h1M21 464.5h1M57 464.5h1M60 464.5h1M62 464.5h1M77 464.5h1M33 469.5h1M38 469.5h1M43 469.5h1M54 469.5h1M70 469.5h1M118 469.5h1M26 472.5h1M36 472.5h1M38 472.5h1M61 472.5h1M71 472.5h1M11 477.5h1M32 477.5h1M44 477.5h1M54 477.5h1M74 477.5h1M25 482.5h1M28 482.5h1M43 482.5h1M85 482.5h1M89 482.5h1M49 492.5h1M52 492.5h1M65 492.5h1M69 492.5h1M34 499.5h1M40 499.5h1M49 499.5h1M51 499.5h1M54 499.5h1M67 499.5h1M85 499.5h1M32 508.5h1M49 508.5h1M67 508.5h1M39 513.5h1M46 513.5h1M56 513.5h1M58 513.5h1M63 513.5h1M68 513.5h1M29 518.5h1M32 518.5h1M43 518.5h2M49 518.5h1M60 518.5h1M91 518.5h1M45 521.5h1M49 521.5h1M63 521.5h1M68 521.5h1M82 521.5h1M28 524.5h1M32 524.5h1M49 524.5h1M56 524.5h1M64 524.5h1M74 524.5h1M76 524.5h1M21 544.5h1M60 544.5h1M31 561.5h1M33 561.5h1M39 561.5h1M45 561.5h1M56 561.5h1M59 561.5h1M63 561.5h3M68 561.5h1M41 574.5h1M77 574.5h1M43 577.5h1M52 577.5h1M101 577.5h1M21 595.5h1M41 595.5h1M50 595.5h2M78 595.5h1M16 606.5h1M47 606.5h1M57 606.5h1M62 606.5h1M71 606.5h2M104 606.5h1M107 606.5h1M112 606.5h1M115 606.5h1M21 612.5h1M80 612.5h1M84 612.5h1M93 612.5h1M108 612.5h1M118 612.5h1M83 617.5h1M4 626.5h1M17 626.5h1M22 626.5h1M27 626.5h1M84 626.5h1M90 626.5h1M100 626.5h1M111 626.5h1M16 642.5h2M103 642.5h1M17 645.5h1M111 645.5h1M114 645.5h1M36 648.5h1M66 648.5h1M95 648.5h1M97 648.5h1M99 648.5h1M25 664.5h1M86 664.5h1M101 664.5h1M106 664.5h1M110 664.5h1M2 676.5h1M10 676.5h1M16 676.5h1M90 676.5h1M99 676.5h1M21 681.5h1M94 681.5h1M96 681.5h1M110 681.5h1M118 681.5h1M21 684.5h2M83 684.5h1M92 684.5h1M94 684.5h2M99 684.5h1M16 693.5h1M99 693.5h1M119 693.5h1M88 698.5h1M103 698.5h1M105 698.5h1M107 698.5h1M113 698.5h1M13 703.5h2M23 703.5h1M85 703.5h1M88 703.5h1M36 719.5h1M84 719.5h2M91 719.5h1M95 719.5h2M99 719.5h1M10 722.5h1M17 722.5h1M21 722.5h1M23 722.5h1M98 722.5h1M105 722.5h1M116 722.5h1M35 728.5h1M85 728.5h2M7 737.5h1M16 748.5h1M57 748.5h1M35 761.5h1M44 761.5h2M11 764.5h1M45 764.5h1M36 767.5h2M21 770.5h2"/>
<path stroke="#4a00b6" stroke-width="4" d="M16 369h1M19 377h1M33 377h1M57 377h1M63 377h1M110 377h1M14 384h1M16 384h1M23 384h1M52 384h1M63 384h1M9 413h1M12 413h1M55 413h1M113 413h1M61 417h1M73 417h1M83 417h1M106 417h1M85 426h1M108 426h1M113 426h1M14 430h1M73 430h1M107 430h1M11 461h1M26 461h1M54 461h1M65 461h1M70 461h1M72 461h1M86 461h1M18 503h1M30 503h1M50 503h1M67 503h1M28 528h1M44 528h1M58 528h1M33 551h1M46 551h1M64 551h2M18 555h1M30 555h1M33 555h1M42 555h1M53 555h1M55 555h1M61 555h1M25 570h1M41 570h1M48 570h1M53 570h1M58 570h1M61 570h2M32 582h1M39 582h1M48 582h1M75 582h1M86 582h1M90 582h1M27 586h2M30 586h2M37 586h1M45 586h1M64 586h1M70 586h1M72 586h1M83 586h1M21 592h2M28 592h1M32 592h2M42 592h2M102 592h1M23 599h1M33 599h1M40 599h1M44 599h1M46 599h1M50 599h1M57 599h1M71 599h1M79 599h1M90 599h1M92 599h1M95 599h1M20 603h1M36 603h2M19 621h1M69 621h1M78 621h1M86 621h1M92 621h1M102 621h1M5 635h1M17 635h1M21 635h1M76 635h1M88 635h1M114 635h1M17 639h1M23 639h1M87 639h1M113 639h1M19 655h1M72 655h1M84 655h2M90 655h1M98 655h1M108 655h1M15 669h1M83 669h1M91 669h1M93 669h1M19 673h1M87 673h1M117 673h1M78 708h1M99 708h1M102 708h1M117 708h1M21 715h1M23 715h1M101 715h1M106 715h1M112 715h1M117 715h1M16 734h1M82 734h1M53 752h1M23 758h1M39 774h2"/>
<path stroke="#4300c5" stroke-width="1" d="M1 331.5h1M16 371.5h1M62 371.5h1M65 371.5h1M22 372.5h1M41 372.5h1M64 372.5h2M77 372.5h1M16 395.5h1M72 395.5h1M83 395.5h1M106 395.5h1M114 395.5h1M6 405.5h1M85 405.5h1M103 405.5h1M6 438.5h1M11 438.5h1M16 438.5h1M23 438.5h1M62 438.5h1M78 438.5h1M80 438.5h1M7 444.5h1M32 444.5h1M38 444.5h1M42 444.5h1M119 444.5h1M25 474.5h1M42 474.5h1M64 474.5h2M110 474.5h1M28 475.5h1M39 475.5h1M48 475.5h1M62 475.5h1M68 475.5h2M91 475.5h1M115 475.5h1M51 488.5h1M115 488.5h1M32 530.5h1M56 530.5h1M61 530.5h1M67 530.5h1M83 530.5h1M110 530.5h1M117 530.5h1M31 540.5h1M43 540.5h1M47 540.5h1M55 540.5h1M58 540.5h1M28 546.5h1M37 546.5h1M39 546.5h2M58 546.5h1M61 546.5h1M63 546.5h1M66 546.5h1M88 546.5h1M113 546.5h1M32 559.5h1M35 559.5h1M51 559.5h1M58 559.5h1M91 559.5h1M32 563.5h1M39 563.5h1M48 563.5h1M50 563.5h3M73 563.5h1M83 563.5h1M18 572.5h1M22 572.5h1M26 572.5h1M34 572.5h1M40 572.5h1M46 572.5h1M49 572.5h1M68 572.5h2M87 572.5h1M114 572.5h1M23 579.5h1M25 579.5h1M27 579.5h1M29 579.5h1M38 579.5h1M40 579.5h1M83 579.5h1M90 579.5h1M111 579.5h1M4 610.5h1M45 610.5h1M64 610.5h1M98 610.5h1M101 610.5h1M105 610.5h1M22 628.5h1M25 628.5h1M83 628.5h1M88 628.5h1M116 628.5h1M89 650.5h1M97 650.5h1M100 650.5h1M102 650.5h1M11 666.5h2M87 666.5h1M90 666.5h1M8 695.5h1M14 695.5h1M93 695.5h1M100 695.5h1M111 695.5h1M113 695.5h1M119 695.5h1M17 696.5h1M67 696.5h1M90 696.5h1M100 696.5h1M103 696.5h1M113 696.5h1M19 705.5h1M89 705.5h1M96 705.5h1M118 705.5h1M26 710.5h1M100 710.5h1M106 710.5h1M119 710.5h1M18 717.5h1M83 717.5h3M1 726.5h1M14 726.5h1M23 726.5h1M26 726.5h1M44 726.5h1M89 726.5h1M91 726.5h1M111 726.5h1M20 741.5h1M27 741.5h1"/>
<path stroke="#4300c5" stroke-width="2" d="M5 201h1M9 201h1M19 201h1M23 201h1M31 201h1M34 201h1M41 201h1M51 201h1M53 201h1M59 201h1M67 201h1M74 201h1M90 201h1M92 201h1M99 201h1M119 201h1M26 340h1M13 360h1M20 362h1M27 362h1M34 362h1M42 362h1M46 362h1M50 362h1M67 362h1M14 364h1M23 364h1M26 364h1M28 364h1M42 364h1M54 364h2M61 364h1M23 366h1M26 366h1M31 366h1M36 366h1M41 366h1M29 387h1M108 387h1M117 387h1M10 392h1M82 392h1M7 394h1M29 394h1M70 394h1M78 394h1M1 410h1M10 410h1M74 410h1M76 410h1M108 410h2M113 410h1M5 420h1M8 420h1M12 420h1M61 420h1M8 443h1M12 443h1M50 443h1M70 443h1M111 443h1M10 446h1M12 446h1M34 446h1M47 446h1M75 446h1M77 446h1M88 446h1M17 467h1M24 467h1M33 467h1M41 467h1M43 467h1M91 467h1M106 467h1M25 480h1M28 480h2M40 480h2M44 480h1M55 480h1M63 480h2M21 485h1M36 485h1M39 485h1M47 485h1M63 485h1M81 485h1M31 487h1M51 487h1M31 490h1M34 490h2M37 490h1M40 490h1M51 490h1M57 490h1M63 490h1M20 495h1M25 495h1M45 495h1M47 495h1M52 495h1M58 495h1M70 495h1M18 497h1M21 497h1M55 497h2M61 497h2M36 506h1M64 506h1M67 506h2M21 511h1M31 511h1M37 511h1M72 511h1M35 516h1M54 516h1M83 516h1M117 516h1M119 516h1M22 535h2M30 535h1M57 535h3M64 535h1M66 535h1M79 535h1M115 535h1M82 537h1M24 539h1M31 539h1M41 539h1M55 539h1M68 539h1M20 542h1M23 542h1M27 542h1M37 542h1M42 542h2M51 542h2M60 542h1M80 542h1M85 542h1M32 548h1M34 548h1M55 548h1M64 548h1M67 548h1M84 548h1M35 558h1M45 558h1M61 558h1M63 558h1M76 558h1M89 558h1M119 558h1M28 565h3M39 565h2M43 565h1M57 565h1M61 565h1M71 565h1M73 565h1M77 565h1M92 565h2M23 567h2M30 567h2M37 567h1M40 567h1M44 567h1M68 567h1M83 567h1M39 589h2M45 589h1M48 589h1M63 589h1M67 589h1M71 589h1M74 589h2M81 589h1M88 589h1M109 589h1M73 609h1M80 609h1M88 609h1M91 609h1M8 615h1M31 615h1M81 615h1M85 615h1M89 615h1M94 615h1M114 615h1M119 615h1M1 624h1M15 624h1M21 624h1M62 624h1M92 624h1M104 624h1M106 624h2M21 630h1M29 630h1M94 630h1M9 632h1M11 632h1M24 632h1M63 632h1M71 632h1M84 632h1M93 632h1M105 632h1M25 652h1M86 652h1M113 652h1M117 652h1M13 658h1M16 658h1M18 658h1M22 658h1M87 658h1M95 658h1M108 658h1M17 660h1M26 660h1M97 660h1M99 660h1M111 660h1M90 662h1M95 662h1M104 662h1M107 662h1M109 662h1M116 662h1M8 679h1M14 679h1M20 679h1M92 679h1M95 679h2M106 679h1M16 687h1M91 687h1M95 687h3M109 687h1M117 687h2M18 689h1M107 689h1M117 689h1M15 691h1M17 691h1M89 691h1M98 691h1M108 691h1M116 691h1M119 691h1M21 701h1M9 712h1M21 712h1M105 712h1M111 712h1M118 712h1M10 725h1M18 725h1M22 725h1M86 725h1M92 725h1M102 725h1M110 725h1M119 725h1M18 740h1M31 740h1M67 740h1M76 740h1M21 746h1M23 746h1M65 746h1M67 746h1M27 755h1M53 755h1"/>
<path stroke="#4300c5" stroke-width="3" d="M11 380.5h1M64 380.5h1M77 380.5h1M111 380.5h1M10 389.5h1M15 389.5h1M69 389.5h1M73 389.5h3M108 389.5h1M105 397.5h1M6 400.5h1M18 400.5h1M54 400.5h1M12 403.5h1M17 403.5h2M71 403.5h1M83 403.5h1M112 403.5h1M12 407.5h1M23 407.5h1M54 407.5h1M76 407.5h2M111 407.5h1M11 422.5h1M83 422.5h1M67 433.5h1M74 433.5h1M80 433.5h1M107 433.5h2M111 433.5h1M13 436.5h1M65 436.5h1M69 436.5h2M106 436.5h2M109 436.5h1M2 440.5h1M6 440.5h1M9 440.5h1M63 440.5h1M67 440.5h1M12 448.5h1M23 448.5h1M31 448.5h2M62 448.5h1M78 448.5h1M81 448.5h1M13 451.5h1M43 451.5h1M23 454.5h1M54 454.5h1M39 457.5h2M60 457.5h1M81 457.5h1M14 464.5h1M23 464.5h1M26 464.5h1M32 464.5h2M45 464.5h1M56 464.5h1M67 464.5h1M108 464.5h1M34 469.5h1M49 469.5h1M52 469.5h1M57 469.5h1M72 469.5h1M10 472.5h1M31 472.5h1M44 472.5h1M50 472.5h2M53 472.5h2M72 472.5h1M19 477.5h1M21 477.5h2M24 477.5h1M37 477.5h1M41 477.5h1M47 477.5h1M57 477.5h1M60 477.5h1M80 477.5h1M14 482.5h1M27 482.5h1M29 482.5h1M31 482.5h1M39 482.5h1M57 482.5h1M65 482.5h1M30 492.5h2M44 492.5h2M72 492.5h1M19 499.5h1M24 499.5h1M44 499.5h1M52 499.5h1M57 499.5h2M63 499.5h1M33 508.5h1M39 508.5h1M41 508.5h1M53 508.5h1M66 508.5h1M70 508.5h2M25 513.5h1M28 513.5h1M35 513.5h2M66 513.5h1M46 518.5h2M55 518.5h2M59 518.5h1M63 518.5h1M19 521.5h1M65 521.5h1M83 521.5h1M88 521.5h1M110 521.5h1M86 524.5h1M44 532.5h1M65 532.5h1M84 532.5h1M18 544.5h1M27 544.5h1M36 544.5h1M49 544.5h1M70 544.5h1M72 544.5h1M83 544.5h1M13 561.5h1M40 561.5h1M53 561.5h1M69 561.5h1M23 574.5h1M31 574.5h1M42 574.5h1M61 574.5h1M66 574.5h1M70 574.5h1M78 574.5h1M80 574.5h1M21 577.5h1M27 577.5h1M38 577.5h1M54 577.5h1M63 577.5h1M83 577.5h1M43 595.5h1M55 595.5h1M84 595.5h1M107 595.5h1M12 606.5h1M20 606.5h1M28 606.5h1M55 606.5h1M80 606.5h1M82 606.5h1M11 612.5h1M22 612.5h1M56 612.5h1M70 612.5h1M74 612.5h1M90 612.5h1M95 612.5h1M104 612.5h1M13 617.5h1M17 617.5h2M76 617.5h1M85 617.5h1M88 617.5h1M99 617.5h2M19 626.5h2M87 626.5h1M103 626.5h1M13 642.5h1M84 642.5h1M102 642.5h1M105 642.5h1M16 645.5h1M83 645.5h1M88 645.5h1M93 645.5h1M96 645.5h1M101 645.5h1M113 645.5h1M83 648.5h1M88 648.5h1M96 648.5h1M100 648.5h1M24 664.5h1M26 664.5h2M89 664.5h1M105 664.5h1M112 664.5h1M6 676.5h1M76 676.5h1M85 676.5h1M92 676.5h1M12 681.5h1M112 681.5h1M11 684.5h1M18 684.5h1M91 684.5h1M103 684.5h1M20 693.5h1M94 693.5h1M97 693.5h1M114 693.5h1M116 693.5h1M13 698.5h1M90 698.5h1M110 698.5h1M83 703.5h1M92 703.5h1M96 703.5h1M104 703.5h1M114 703.5h1M25 719.5h1M107 719.5h1M113 719.5h1M115 719.5h2M9 722.5h1M31 722.5h1M92 722.5h1M95 722.5h2M102 722.5h1M104 722.5h1M20 728.5h1M109 728.5h1M116 728.5h1M63 743.5h1M66 743.5h1M30 748.5h1M49 748.5h1M60 748.5h1M65 748.5h1M12 761.5h1M32 761.5h1M22 764.5h2M43 764.5h1M21 767.5h1M31 767.5h1M41 767.5h1M18 770.5h1M32 770.5h1M36 770.5h1M42 770.5h1"/>
<path stroke="#4300c5" stroke-width="4" d="M14 204h1M14 369h1M40 369h1M42 369h1M45 369h1M51 369h1M55 369h1M57 369h1M66 369h1M76 369h1M15 377h1M39 377h1M60 377h2M70 377h1M74 377h1M26 384h1M64 384h1M111 384h1M62 413h1M78 413h1M114 413h1M1 417h1M9 417h1M77 417h1M85 417h1M2 426h1M67 426h1M76 426h2M8 430h1M67 430h1M79 430h2M111 430h1M16 461h2M27 461h1M29 461h1M33 461h1M36 461h1M53 461h1M20 503h1M28 503h1M31 503h1M88 503h1M22 528h1M30 528h1M34 528h1M37 528h1M39 528h1M42 528h1M51 528h1M59 528h2M62 528h1M71 528h1M28 551h1M31 551h1M59 551h1M19 555h1M27 555h1M40 555h1M43 555h1M47 555h1M70 555h2M20 570h1M27 570h2M42 570h1M60 570h1M69 570h1M73 570h1M45 582h1M49 582h1M53 582h1M57 582h1M60 582h1M65 582h1M73 582h2M77 582h1M92 582h2M47 586h1M56 586h3M71 586h1M87 586h1M93 586h1M20 592h1M38 592h2M53 592h1M56 592h1M63 592h2M70 592h1M95 592h1M113 592h1M28 599h1M42 599h1M52 599h1M56 599h1M60 599h2M87 599h1M93 599h2M114 599h1M13 603h1M17 603h2M24 603h1M79 603h1M81 603h1M103 603h1M18 621h1M22 621h1M26 621h1M91 621h1M94 621h1M113 621h2M117 621h1M10 635h1M15 635h1M83 635h1M87 635h1M105 635h1M115 635h1M25 639h1M32 639h1M88 639h1M92 639h1M96 639h1M107 639h1M112 639h1M115 639h1M99 655h1M105 655h1M107 655h1M111 655h1M119 655h1M22 669h1M85 669h1M108 669h1M113 669h1M119 669h1M91 673h1M96 673h1M119 673h1M11 708h3M31 708h1M113 708h1M12 715h1M17 715h1M22 715h1M92 715h1M102 715h1M119 715h1M19 734h1M113 734h1M23 752h1M28 752h1M55 752h2M48 758h1M26 774h1M34 774h1M37 774h1M37 778h1"/>
<path stroke="#3c00cf" stroke-width="1" d="M14 371.5h1M40 371.5h1M66 371.5h1M70 371.5h1M6 372.5h1M12 372.5h1M14 372.5h1M16 372.5h1M24 372.5h1M50 372.5h1M53 372.5h1M57 372.5h1M62 372.5h1M67 372.5h1M5 395.5h1M77 395.5h1M79 395.5h1M82 395.5h1M107 395.5h1M112 395.5h1M117 395.5h1M76 405.5h3M83 405.5h1M108 405.5h1M112 405.5h1M4 438.5h1M8 438.5h1M53 438.5h1M81 438.5h1M105 438.5h1M110 438.5h1M117 438.5h1M53 444.5h1M63 444.5h1M83 444.5h1M6 474.5h1M10 474.5h1M23 474.5h1M33 474.5h1M44 474.5h1M53 474.5h1M61 474.5h2M70 474.5h1M88 474.5h1M15 475.5h1M17 475.5h1M22 475.5h1M25 475.5h1M33 475.5h1M45 475.5h1M55 475.5h1M76 475.5h1M110 475.5h1M11 488.5h1M18 488.5h1M29 488.5h1M33 488.5h1M38 488.5h1M41 488.5h1M47 488.5h1M49 488.5h1M60 488.5h1M68 488.5h1M108 488.5h1M16 530.5h1M19 530.5h1M26 530.5h1M38 530.5h1M40 530.5h1M46 530.5h1M49 530.5h1M63 530.5h1M68 530.5h1M76 530.5h1M116 530.5h1M20 540.5h1M23 540.5h2M32 540.5h1M40 540.5h1M42 540.5h1M44 540.5h1M54 540.5h1M65 540.5h1M73 540.5h1M26 546.5h1M47 546.5h1M50 546.5h1M53 546.5h1M65 546.5h1M75 546.5h1M77 546.5h1M33 559.5h1M36 559.5h1M39 559.5h1M48 559.5h1M60 559.5h2M75 559.5h1M112 559.5h1M25 563.5h1M31 563.5h1M38 563.5h1M49 563.5h1M58 563.5h1M77 563.5h1M116 563.5h1M50 572.5h1M58 572.5h1M60 572.5h1M64 572.5h2M76 572.5h1M116 572.5h1M34 579.5h1M42 579.5h1M44 579.5h1M47 579.5h1M54 579.5h1M71 579.5h1M86 579.5h1M17 610.5h1M21 610.5h1M34 610.5h1M97 610.5h1M102 610.5h1M107 610.5h1M13 628.5h2M19 628.5h2M85 628.5h1M92 628.5h1M106 628.5h2M0 650.5h1M94 650.5h1M15 666.5h1M105 666.5h1M112 666.5h1M115 666.5h1M118 666.5h1M10 695.5h2M13 695.5h1M21 695.5h1M87 695.5h1M91 695.5h1M11 696.5h1M91 696.5h1M118 696.5h1M97 705.5h1M100 705.5h1M102 705.5h1M106 705.5h1M91 710.5h1M101 710.5h2M105 710.5h1M5 717.5h1M8 717.5h1M14 717.5h1M26 717.5h1M93 717.5h1M109 717.5h1M108 726.5h2M114 726.5h1M119 726.5h1M25 741.5h2M75 741.5h1M80 741.5h1"/>
<path stroke="#3c00cf" stroke-width="2" d="M8 201h1M40 201h1M61 201h1M73 201h1M78 201h1M87 201h2M100 201h4M105 201h1M112 201h1M51 355h1M25 360h1M46 360h2M8 362h1M29 362h1M35 362h1M52 362h1M60 362h1M62 362h1M25 364h1M53 364h1M60 364h1M14 366h1M19 366h1M48 366h1M64 366h1M66 366h1M68 366h1M75 366h1M79 366h1M12 374h1M21 374h1M36 374h1M64 374h2M69 374h2M3 387h1M13 387h1M64 387h1M102 387h1M104 387h1M113 387h1M118 387h1M9 392h1M11 392h1M13 392h1M65 392h1M81 392h1M85 392h1M107 392h2M77 394h1M113 394h1M115 394h2M4 410h1M7 410h1M11 410h1M14 410h1M81 410h1M115 410h1M114 420h1M52 443h1M72 443h1M84 443h1M87 443h1M89 443h1M13 446h1M70 446h1M72 446h1M76 446h1M81 446h1M111 446h2M15 467h1M20 467h1M26 467h1M29 467h1M34 467h1M55 467h1M58 467h2M85 467h1M110 467h1M19 480h1M21 480h1M32 480h1M35 480h1M42 480h1M59 480h1M90 480h1M27 485h1M33 485h1M55 485h1M64 485h1M70 485h1M76 485h1M26 487h1M29 487h1M36 487h2M43 487h1M58 487h1M65 487h1M72 487h1M23 490h1M42 490h1M47 490h1M52 490h1M66 490h1M55 495h1M31 497h1M33 497h1M38 497h1M53 497h1M40 506h1M42 506h1M53 506h2M78 506h2M22 511h3M35 511h1M41 511h1M45 511h1M50 511h1M54 511h1M56 511h1M76 511h1M49 516h1M63 516h2M76 516h1M26 535h1M38 535h1M50 535h1M54 535h1M61 535h2M68 535h2M71 535h1M73 535h1M85 535h1M88 535h1M28 537h1M39 537h1M54 537h1M73 537h1M80 537h1M84 537h1M87 537h1M15 539h1M22 539h1M33 539h2M37 539h1M43 539h1M65 539h1M67 539h1M72 539h1M85 539h1M116 539h1M41 542h1M45 542h1M50 542h1M56 542h2M59 542h1M20 548h1M29 548h1M31 548h1M36 548h2M68 548h2M71 548h1M118 548h1M20 558h1M26 558h1M41 558h1M69 558h1M72 558h1M80 558h1M88 558h1M90 558h1M92 558h1M18 565h1M21 565h1M26 565h1M35 565h1M66 565h1M36 567h1M38 567h1M48 567h1M51 567h1M58 567h1M65 567h1M114 567h1M19 589h1M44 589h1M46 589h1M50 589h1M56 589h1M87 589h1M89 589h1M77 609h1M90 609h1M96 609h1M109 609h1M116 609h1M7 615h1M13 615h1M17 615h2M35 615h1M62 615h1M98 615h1M100 615h1M106 615h1M110 615h1M13 624h1M20 624h1M26 624h1M30 624h1M83 624h1M90 624h2M108 624h1M112 624h1M114 624h2M71 630h1M92 630h1M98 630h1M102 630h2M3 632h1M5 632h1M100 632h2M103 632h1M108 632h1M112 632h1M114 632h1M119 632h1M89 652h1M91 652h2M101 652h1M118 652h2M11 658h1M14 658h1M21 658h1M86 658h1M91 658h1M96 658h1M99 658h1M101 658h3M117 658h1M6 660h1M90 660h1M103 660h1M3 662h1M91 662h1M96 662h1M100 662h1M106 662h1M9 679h1M19 679h1M27 679h1M109 679h1M118 679h1M10 687h1M17 687h3M89 687h1M115 687h2M10 689h1M12 689h1M15 689h1M86 689h1M95 689h1M108 689h1M119 689h1M3 691h1M91 691h1M100 691h1M112 691h1M14 701h1M100 701h1M116 701h1M4 712h1M94 712h1M102 712h1M107 712h1M113 712h1M119 712h1M5 725h1M11 725h1M13 725h1M23 725h1M84 725h1M98 725h1M101 725h1M17 731h1M119 731h1M75 740h1M77 740h1M61 746h1M13 755h1M18 755h1M23 755h1M25 755h1M52 755h1"/>
<path stroke="#3c00cf" stroke-width="3" d="M16 333.5h1M20 342.5h1M6 352.5h1M44 352.5h1M51 352.5h1M23 357.5h1M27 357.5h1M43 357.5h1M62 357.5h1M9 380.5h1M65 380.5h2M73 380.5h1M76 380.5h1M83 380.5h1M58 389.5h1M70 389.5h1M84 389.5h1M11 397.5h1M13 397.5h1M25 397.5h1M76 397.5h2M102 397.5h1M112 397.5h1M116 397.5h1M10 400.5h1M64 400.5h1M77 400.5h1M79 400.5h1M84 400.5h1M2 403.5h1M72 403.5h1M74 403.5h1M79 403.5h1M107 403.5h1M110 403.5h2M115 403.5h1M5 407.5h1M15 407.5h2M102 407.5h1M1 422.5h1M3 422.5h1M67 422.5h1M80 422.5h1M87 422.5h1M103 422.5h1M107 422.5h1M110 422.5h1M113 422.5h1M18 433.5h1M86 433.5h1M113 433.5h1M5 436.5h1M9 436.5h2M46 436.5h1M80 436.5h1M89 436.5h1M103 436.5h2M8 440.5h1M10 440.5h1M32 440.5h1M85 440.5h1M117 440.5h1M6 448.5h2M30 448.5h1M15 451.5h1M33 451.5h1M46 451.5h1M60 451.5h1M74 451.5h1M6 454.5h1M22 454.5h1M25 454.5h1M31 454.5h1M33 454.5h1M39 454.5h1M42 454.5h1M46 454.5h1M60 454.5h1M66 454.5h1M111 454.5h1M114 454.5h1M15 457.5h1M20 457.5h1M23 457.5h1M30 457.5h1M37 457.5h1M41 457.5h1M50 457.5h1M67 457.5h1M37 464.5h1M42 464.5h1M51 464.5h1M58 464.5h1M63 464.5h1M73 464.5h1M75 464.5h1M86 464.5h1M90 464.5h1M109 464.5h1M113 464.5h1M15 469.5h1M20 469.5h1M39 469.5h1M42 469.5h1M48 469.5h1M59 469.5h1M71 469.5h1M8 472.5h1M15 472.5h1M21 472.5h1M25 472.5h1M27 472.5h1M42 472.5h1M49 472.5h1M58 472.5h1M62 472.5h1M65 472.5h1M25 477.5h2M28 477.5h1M45 477.5h1M53 477.5h1M55 477.5h1M59 477.5h1M62 477.5h1M76 477.5h1M92 477.5h1M20 482.5h1M23 482.5h1M26 482.5h1M37 482.5h1M44 482.5h1M46 482.5h1M51 482.5h1M70 482.5h1M25 492.5h2M29 492.5h1M32 492.5h1M39 492.5h1M59 492.5h1M61 492.5h1M66 492.5h1M68 492.5h1M70 492.5h1M107 492.5h1M18 499.5h1M27 499.5h1M33 499.5h1M37 499.5h1M43 499.5h1M53 499.5h1M59 499.5h2M69 499.5h2M89 499.5h1M15 508.5h1M21 508.5h1M36 508.5h1M50 508.5h1M58 508.5h1M61 508.5h1M85 508.5h1M87 508.5h1M93 508.5h1M113 508.5h1M22 513.5h2M44 513.5h1M49 513.5h1M52 513.5h1M61 513.5h1M64 513.5h1M67 513.5h1M73 513.5h1M90 513.5h1M26 518.5h1M42 518.5h1M69 518.5h1M25 521.5h1M38 521.5h1M46 521.5h1M53 521.5h1M58 521.5h1M60 521.5h1M81 521.5h1M43 524.5h2M50 524.5h2M57 524.5h1M60 524.5h1M67 524.5h1M32 532.5h1M49 532.5h1M51 532.5h1M58 532.5h1M67 532.5h1M70 532.5h1M73 532.5h1M22 544.5h1M44 544.5h1M50 544.5h1M53 544.5h1M18 561.5h2M38 561.5h1M47 561.5h1M54 561.5h1M66 561.5h1M21 574.5h1M46 574.5h1M48 574.5h1M51 574.5h1M53 574.5h1M57 574.5h1M62 574.5h1M65 574.5h1M75 574.5h1M88 574.5h1M93 574.5h1M30 577.5h1M37 577.5h1M44 577.5h1M48 577.5h2M67 577.5h1M70 577.5h2M73 577.5h1M92 577.5h1M17 595.5h1M19 595.5h1M45 595.5h1M49 595.5h1M72 595.5h1M87 595.5h1M89 595.5h1M102 595.5h1M6 606.5h1M23 606.5h1M35 606.5h1M83 606.5h1M97 606.5h1M111 606.5h1M116 606.5h1M16 612.5h1M23 612.5h1M26 612.5h1M89 612.5h1M115 612.5h1M14 617.5h1M16 617.5h1M23 617.5h1M91 617.5h2M107 617.5h2M113 617.5h1M117 617.5h1M6 626.5h1M21 626.5h1M23 626.5h1M92 626.5h2M99 626.5h1M114 626.5h1M3 642.5h1M91 642.5h1M94 642.5h1M11 645.5h1M21 645.5h1M97 645.5h2M109 645.5h1M116 645.5h1M10 648.5h1M12 648.5h1M14 648.5h1M103 648.5h1M106 648.5h1M7 664.5h1M10 664.5h1M14 664.5h1M21 664.5h1M88 664.5h1M92 664.5h1M97 664.5h1M111 664.5h1M22 676.5h1M91 676.5h1M102 676.5h1M106 676.5h1M115 676.5h1M17 681.5h1M103 681.5h1M6 684.5h1M13 684.5h1M104 684.5h1M115 684.5h1M14 693.5h1M19 693.5h1M25 693.5h1M96 693.5h1M111 693.5h1M12 698.5h1M21 698.5h2M83 698.5h1M94 698.5h1M86 703.5h1M91 703.5h1M20 719.5h1M93 719.5h1M101 719.5h1M104 719.5h1M110 719.5h1M112 719.5h1M5 722.5h1M19 722.5h1M25 722.5h1M91 722.5h1M94 722.5h1M110 722.5h1M115 722.5h1M118 722.5h1M10 728.5h1M14 728.5h1M101 728.5h1M110 728.5h1M112 728.5h1M118 728.5h1M69 737.5h1M79 737.5h1M82 737.5h1M69 743.5h1M12 748.5h1M20 748.5h2M66 748.5h1M36 761.5h1M38 761.5h1M31 764.5h1M22 767.5h1M24 767.5h1M25 770.5h1M35 770.5h1"/>
<path stroke="#3c00cf" stroke-width="4" d="M17 204h1M5 369h1M15 369h1M28 369h1M34 369h1M36 369h1M38 369h2M47 369h1M50 369h1M52 369h1M54 369h1M59 369h1M72 369h1M13 377h1M22 377h1M38 377h1M81 377h1M11 384h1M30 384h1M67 384h1M70 384h1M3 413h1M5 413h1M76 413h1M82 413h1M87 413h1M89 413h1M107 413h1M112 413h1M115 413h1M68 417h1M82 417h1M111 417h1M19 426h1M72 426h1M82 426h1M102 426h1M107 426h1M114 426h1M0 430h1M10 430h1M12 430h1M78 430h1M81 430h1M86 430h1M15 461h1M19 461h1M43 461h1M66 461h1M73 461h1M110 461h1M34 503h1M40 503h1M47 503h2M71 503h1M25 528h1M36 528h1M40 528h1M65 528h1M67 528h1M73 528h1M116 528h1M32 551h1M35 551h1M37 551h1M81 551h1M11 555h1M22 555h1M38 555h1M45 555h1M50 555h1M64 555h1M79 555h1M116 555h1M23 570h1M29 570h1M33 570h2M47 570h1M57 570h1M76 570h1M24 582h1M42 582h1M66 582h1M24 586h2M35 586h1M42 586h1M49 586h1M52 586h1M66 586h1M80 586h1M94 586h1M40 592h1M47 592h1M54 592h1M58 592h1M66 592h1M73 592h1M78 592h1M112 592h1M16 599h1M26 599h1M69 599h1M74 599h1M80 599h1M104 599h1M30 603h1M42 603h1M54 603h1M66 603h1M80 603h1M85 603h1M88 603h1M91 603h1M15 621h1M87 621h1M93 621h1M96 621h1M100 621h1M103 621h1M106 621h1M18 635h1M100 635h2M117 635h1M27 639h1M84 639h1M88 655h1M96 655h2M112 655h1M116 655h1M118 655h1M87 669h1M94 669h1M100 669h1M109 669h2M114 669h1M21 673h1M83 673h1M86 673h1M94 673h1M100 673h1M105 673h1M4 708h1M6 708h1M118 708h2M6 715h1M13 715h1M103 715h1M116 715h1M13 734h1M17 734h1M25 734h1M37 734h1M57 752h1M30 758h1M10 774h1M27 774h1M30 774h2M36 774h1M20 778h1M36 778h1"/>
<path stroke="#3400d8" stroke-width="1" d="M15 327.5h1M38 331.5h1M10 371.5h2M64 371.5h1M10 372.5h1M25 372.5h1M46 372.5h1M119 372.5h1M2 395.5h1M12 395.5h1M53 395.5h1M69 395.5h1M85 395.5h1M4 405.5h1M0 438.5h1M9 438.5h1M41 438.5h1M74 438.5h1M76 438.5h2M85 438.5h1M88 438.5h2M107 438.5h1M114 438.5h1M14 444.5h1M19 444.5h1M74 444.5h3M79 444.5h1M81 444.5h1M90 444.5h1M106 444.5h2M114 444.5h2M118 444.5h1M19 474.5h1M22 474.5h1M24 474.5h1M34 474.5h1M41 474.5h1M46 474.5h1M51 474.5h1M55 474.5h1M57 474.5h1M113 474.5h1M19 475.5h1M57 475.5h1M67 475.5h1M82 475.5h1M19 488.5h1M24 488.5h1M28 488.5h1M43 488.5h1M63 488.5h2M70 488.5h1M114 488.5h1M116 488.5h1M29 530.5h1M43 530.5h1M54 530.5h2M113 530.5h1M25 540.5h1M30 540.5h1M36 540.5h1M45 540.5h1M75 540.5h1M78 540.5h1M110 540.5h1M117 540.5h1M20 546.5h1M24 546.5h1M30 546.5h1M36 546.5h1M41 546.5h1M43 546.5h2M48 546.5h2M57 546.5h1M59 546.5h1M78 546.5h1M90 546.5h1M114 546.5h1M20 559.5h1M26 559.5h1M40 559.5h1M44 559.5h1M50 559.5h1M52 559.5h1M57 559.5h1M67 559.5h1M69 559.5h1M79 559.5h1M84 559.5h1M86 559.5h1M113 559.5h1M18 563.5h1M22 563.5h1M29 563.5h1M35 563.5h1M46 563.5h1M53 563.5h1M67 563.5h1M27 572.5h1M29 572.5h1M33 572.5h1M41 572.5h1M43 572.5h1M54 572.5h1M57 572.5h1M61 572.5h2M80 572.5h1M92 572.5h1M119 572.5h1M22 579.5h1M30 579.5h1M39 579.5h1M68 579.5h1M72 579.5h1M91 579.5h1M103 579.5h1M118 579.5h1M10 610.5h1M20 610.5h1M91 610.5h1M109 610.5h2M112 610.5h2M10 628.5h1M21 628.5h1M93 628.5h1M101 628.5h1M111 628.5h1M7 650.5h1M14 650.5h1M17 650.5h2M88 650.5h1M93 650.5h1M112 650.5h1M6 666.5h3M14 666.5h1M18 666.5h1M93 666.5h1M97 666.5h1M117 666.5h1M17 695.5h1M22 695.5h1M7 696.5h1M18 696.5h1M86 696.5h1M99 696.5h1M119 696.5h1M16 705.5h1M92 705.5h1M94 705.5h1M98 705.5h1M11 710.5h1M14 710.5h1M19 710.5h1M95 710.5h1M97 710.5h1M103 710.5h1M113 710.5h1M96 717.5h1M99 717.5h1M106 717.5h3M11 726.5h1M15 726.5h1M88 726.5h1M102 726.5h1M110 726.5h1M116 726.5h1M21 741.5h1"/>
<path stroke="#3400d8" stroke-width="2" d="M15 201h1M18 201h1M38 201h1M48 201h1M54 201h1M60 201h1M63 201h1M81 201h1M86 201h1M96 201h1M107 201h1M116 201h1M16 313h1M42 355h1M68 355h1M21 360h1M48 360h1M23 362h1M26 362h1M30 362h1M36 362h1M40 362h1M65 362h1M71 362h1M16 364h1M33 364h1M45 364h1M51 364h1M69 364h1M109 364h1M43 366h1M45 366h1M50 366h1M53 366h1M17 374h1M68 374h1M107 374h1M110 374h1M8 387h1M12 387h1M25 387h1M53 387h1M71 387h1M74 387h1M86 387h1M5 392h2M8 392h1M12 392h1M19 392h1M74 392h1M77 392h1M109 392h1M4 394h1M13 394h1M86 394h1M105 394h2M12 410h1M16 410h1M78 410h1M87 410h1M15 420h1M35 420h1M64 420h1M78 420h1M84 420h1M88 420h1M49 443h1M74 443h1M103 443h1M106 443h1M114 443h1M16 446h2M40 446h1M45 446h1M83 446h2M86 446h1M89 446h1M13 467h1M62 467h1M111 467h2M115 467h1M118 467h1M17 480h2M24 480h1M36 480h2M43 480h1M48 480h1M58 480h1M68 480h1M70 480h1M85 480h1M109 480h1M24 485h1M26 485h1M61 485h1M66 485h1M75 485h1M84 485h1M10 487h1M22 487h1M41 487h1M68 487h1M73 487h1M75 487h1M117 487h1M21 490h1M25 490h1M41 490h1M61 490h1M64 490h1M69 490h1M72 490h1M83 490h1M90 490h2M109 490h1M118 490h2M18 495h1M65 495h1M68 495h2M83 495h1M32 497h1M41 497h1M59 497h1M72 497h1M27 506h1M32 506h1M38 506h1M49 506h1M51 506h1M55 506h1M61 506h1M71 506h1M75 506h1M111 506h1M17 511h2M38 511h1M60 511h1M67 511h2M110 511h1M19 516h1M29 516h1M38 516h1M44 516h1M48 516h1M50 516h1M57 516h1M108 516h1M20 535h1M25 535h1M27 535h1M33 535h1M46 535h1M118 535h1M21 537h1M27 537h1M41 537h1M70 537h2M75 537h1M77 537h1M18 539h1M27 539h1M54 539h1M57 539h1M59 539h1M22 542h1M44 542h1M54 542h1M58 542h1M74 542h1M91 542h2M118 542h1M50 548h1M59 548h1M61 548h1M37 558h1M75 558h1M41 565h1M47 565h1M70 565h1M81 565h1M117 565h1M21 567h1M26 567h1M39 567h1M54 567h2M64 567h1M66 567h1M81 567h1M22 589h1M33 589h2M76 589h1M78 589h1M86 589h1M91 589h1M94 589h1M101 589h1M5 609h1M28 609h1M97 609h1M100 609h1M102 609h1M106 609h1M14 615h1M16 615h1M19 615h1M23 615h1M82 615h1M86 615h1M88 615h1M95 615h1M97 615h1M99 615h1M102 615h1M108 615h1M22 624h1M98 624h1M15 630h1M99 630h1M105 630h1M117 630h1M10 632h1M12 632h2M21 632h1M107 632h1M13 652h1M88 652h1M94 652h1M96 652h2M112 652h1M6 658h1M12 658h1M19 658h1M89 658h1M97 658h1M100 658h1M104 658h2M111 658h3M115 658h1M14 660h1M20 660h2M87 660h1M96 660h1M100 660h1M114 660h1M8 662h1M86 662h1M99 662h1M102 662h1M105 662h1M114 662h1M3 679h1M18 679h1M88 679h1M100 679h1M103 679h1M116 679h1M98 687h1M100 687h1M100 689h1M112 689h2M118 689h1M86 691h1M99 691h1M101 691h1M110 691h1M20 701h1M26 701h1M86 701h1M93 701h1M98 701h1M108 701h1M112 701h1M5 712h1M23 712h1M95 712h1M97 712h1M106 712h1M14 725h1M16 725h1M114 725h1M14 731h1M16 731h1M19 731h1M22 731h1M81 731h1M86 731h1M100 731h1M13 740h1M17 740h1M17 746h1"/>
<path stroke="#3400d8" stroke-width="3" d="M29 324.5h1M0 352.5h1M1 357.5h1M28 357.5h1M48 357.5h1M21 380.5h1M104 380.5h1M110 380.5h1M29 389.5h1M76 389.5h1M106 389.5h1M112 389.5h1M115 389.5h1M2 397.5h1M8 397.5h1M88 397.5h1M104 397.5h1M106 397.5h1M117 397.5h1M4 400.5h1M76 400.5h1M107 400.5h1M111 400.5h1M54 403.5h1M75 403.5h1M103 407.5h1M77 422.5h1M79 422.5h1M84 422.5h1M105 422.5h1M109 422.5h1M5 433.5h1M7 433.5h1M12 433.5h1M76 433.5h1M83 433.5h1M87 433.5h1M117 433.5h1M71 436.5h1M87 436.5h1M12 440.5h1M56 440.5h1M81 440.5h1M104 440.5h1M3 448.5h1M18 448.5h1M29 448.5h1M80 448.5h1M88 448.5h1M105 448.5h1M50 451.5h1M55 451.5h1M73 451.5h1M87 451.5h1M106 451.5h1M109 451.5h1M9 454.5h1M27 454.5h1M41 454.5h1M61 454.5h1M63 454.5h1M71 454.5h2M8 457.5h1M10 457.5h1M13 457.5h1M32 457.5h1M36 457.5h1M45 457.5h1M58 457.5h1M72 457.5h1M85 457.5h1M87 457.5h1M110 457.5h1M18 464.5h1M87 464.5h1M91 464.5h1M22 469.5h1M46 469.5h1M50 469.5h1M55 469.5h1M61 469.5h1M67 469.5h2M88 469.5h1M111 469.5h1M115 469.5h1M13 472.5h1M32 472.5h1M110 472.5h1M113 472.5h1M17 477.5h1M38 477.5h1M46 477.5h1M50 477.5h1M52 477.5h1M69 477.5h1M36 482.5h1M45 482.5h1M71 482.5h1M14 492.5h1M18 492.5h1M20 492.5h1M33 492.5h1M35 492.5h3M60 492.5h1M75 492.5h1M84 492.5h1M87 492.5h1M36 499.5h1M38 499.5h1M46 499.5h1M61 499.5h1M65 499.5h1M81 499.5h1M86 499.5h1M22 508.5h1M25 508.5h1M35 508.5h1M40 508.5h1M52 508.5h1M57 508.5h1M60 508.5h1M65 508.5h1M73 508.5h1M108 508.5h1M111 508.5h1M18 513.5h1M31 513.5h2M48 513.5h1M50 513.5h2M69 513.5h1M74 513.5h1M81 513.5h1M86 513.5h1M25 518.5h1M38 518.5h1M64 518.5h1M70 518.5h1M73 518.5h1M24 521.5h1M27 521.5h1M35 521.5h1M43 521.5h2M47 521.5h1M54 521.5h1M61 521.5h1M76 521.5h1M115 521.5h1M29 524.5h1M31 524.5h1M34 524.5h1M37 524.5h1M55 524.5h1M62 524.5h1M79 524.5h1M18 532.5h1M24 532.5h1M29 532.5h1M31 532.5h1M36 532.5h1M39 532.5h1M42 532.5h1M48 532.5h1M68 532.5h2M93 532.5h1M29 544.5h1M35 544.5h1M45 544.5h1M48 544.5h1M52 544.5h1M62 544.5h1M66 544.5h1M71 544.5h1M75 544.5h1M89 544.5h1M21 561.5h1M23 561.5h1M35 561.5h1M58 561.5h1M74 561.5h3M80 561.5h1M84 561.5h1M90 561.5h1M15 574.5h1M17 574.5h1M32 574.5h1M49 574.5h1M60 574.5h1M82 574.5h1M29 577.5h1M32 577.5h1M41 577.5h1M55 577.5h2M84 577.5h1M111 577.5h1M24 595.5h1M30 595.5h1M33 595.5h1M37 595.5h1M53 595.5h2M57 595.5h1M68 595.5h2M71 595.5h1M73 595.5h1M75 595.5h1M77 595.5h1M79 595.5h1M93 595.5h1M115 595.5h1M118 595.5h1M15 606.5h1M21 606.5h1M98 606.5h1M102 606.5h2M28 612.5h1M77 612.5h1M88 612.5h1M109 612.5h1M25 617.5h1M89 617.5h1M93 617.5h3M18 626.5h1M96 626.5h1M104 626.5h1M112 626.5h2M119 626.5h1M5 642.5h1M89 642.5h1M96 642.5h1M98 642.5h1M106 642.5h1M108 642.5h1M118 642.5h1M14 645.5h1M18 645.5h1M23 645.5h1M112 645.5h1M98 648.5h1M101 648.5h2M12 664.5h1M16 664.5h1M87 664.5h1M91 664.5h1M103 664.5h1M11 676.5h1M13 676.5h1M19 676.5h1M86 676.5h1M9 681.5h1M101 681.5h1M106 681.5h1M111 681.5h1M2 684.5h1M8 684.5h1M10 684.5h1M19 684.5h1M86 684.5h1M90 684.5h1M106 684.5h1M116 684.5h1M11 693.5h1M13 693.5h1M22 693.5h1M92 693.5h1M100 693.5h1M102 693.5h1M107 693.5h2M110 693.5h1M3 698.5h1M15 698.5h1M91 698.5h1M98 698.5h1M104 698.5h1M11 703.5h1M20 703.5h2M93 703.5h1M107 703.5h1M16 719.5h1M19 719.5h1M106 719.5h1M16 722.5h1M22 722.5h1M84 722.5h1M93 722.5h1M100 722.5h1M106 722.5h2M112 722.5h1M15 728.5h1M19 728.5h1M99 728.5h1M115 728.5h1M20 737.5h2M24 737.5h1M70 737.5h1M14 743.5h1M19 743.5h1M22 743.5h1M77 743.5h1M2 748.5h1M8 761.5h1M18 761.5h1M20 761.5h1M47 761.5h2M50 761.5h1M19 764.5h1M21 764.5h1M47 764.5h2M7 767.5h1M32 767.5h1M35 767.5h1M38 767.5h1M27 770.5h1"/>
<path stroke="#3400d8" stroke-width="4" d="M42 308h1M61 316h1M15 346h1M19 369h1M23 369h1M31 369h1M56 369h1M62 369h1M64 369h1M2 377h1M58 377h1M68 377h2M109 377h1M5 384h1M8 384h1M107 384h1M112 384h1M116 384h1M14 413h1M77 413h1M80 413h1M84 413h2M108 413h2M119 413h1M6 417h1M10 417h1M79 417h2M87 417h2M104 417h2M110 417h1M116 417h2M75 426h1M80 426h1M103 426h1M110 426h1M117 426h1M15 430h1M18 461h1M20 461h2M34 461h1M41 461h1M106 461h1M109 461h1M111 461h1M27 503h1M29 503h1M41 503h1M55 503h1M73 503h1M112 503h1M20 528h1M23 528h1M48 528h1M53 528h1M57 528h1M24 551h1M29 551h1M41 551h1M50 551h1M53 551h1M56 551h1M72 551h2M79 551h1M119 551h1M24 555h2M28 555h2M39 555h1M44 555h1M46 555h1M59 555h1M63 555h1M66 555h2M90 555h1M38 570h1M54 570h1M80 570h1M111 570h2M21 582h1M36 582h1M47 582h1M50 582h1M79 582h1M12 586h1M17 586h1M29 586h1M39 586h1M46 586h1M67 586h1M69 586h1M75 586h2M81 586h1M34 592h1M55 592h1M62 592h1M68 592h1M93 592h1M117 592h1M21 599h1M24 599h2M29 599h1M62 599h1M84 599h2M91 599h1M100 599h1M118 599h1M1 603h1M29 603h1M41 603h1M73 603h1M82 603h1M96 603h1M108 603h1M7 621h1M12 621h1M16 621h1M99 621h1M8 635h1M23 635h1M89 635h1M107 635h1M13 639h1M16 639h1M22 639h1M83 639h1M90 639h1M97 639h1M104 639h1M114 639h1M119 639h1M16 655h1M91 655h1M102 655h2M113 655h1M7 669h1M13 669h1M16 669h1M23 669h1M86 669h1M1 673h1M4 673h1M9 673h1M22 673h1M25 673h1M93 673h1M106 673h1M118 673h1M7 708h1M19 708h1M21 708h1M25 708h1M95 708h1M105 708h1M109 708h1M112 708h1M114 708h1M91 715h1M94 715h1M100 715h1M111 715h1M113 715h1M11 734h1M83 734h1M114 734h1M12 752h1M25 752h1M50 752h1M20 758h1M46 758h1M49 758h1M24 774h1M21 778h1"/>
<path stroke="#2a00e3" stroke-width="1" d="M42 318.5h1M16 326.5h1M30 330.5h1M17 371.5h2M35 371.5h1M61 371.5h1M113 371.5h1M55 372.5h1M63 372.5h1M109 372.5h1M115 372.5h1M8 395.5h1M15 395.5h1M80 395.5h1M102 395.5h1M110 395.5h2M11 405.5h1M89 405.5h1M116 405.5h1M79 438.5h1M103 438.5h1M8 444.5h1M11 444.5h1M17 444.5h1M77 444.5h1M84 444.5h2M104 444.5h2M109 444.5h1M35 474.5h2M39 474.5h1M47 474.5h1M66 474.5h2M69 474.5h1M71 474.5h1M73 474.5h1M90 474.5h1M119 474.5h1M32 475.5h1M40 475.5h1M46 475.5h1M51 475.5h1M59 475.5h1M81 475.5h1M84 475.5h1M89 475.5h1M106 475.5h1M108 475.5h1M14 488.5h1M17 488.5h1M26 488.5h1M32 488.5h1M40 488.5h1M44 488.5h1M46 488.5h1M50 488.5h1M54 488.5h1M61 488.5h1M67 488.5h1M71 488.5h1M75 488.5h1M112 488.5h2M23 530.5h2M50 530.5h1M60 530.5h1M69 530.5h1M71 530.5h1M90 530.5h1M112 530.5h1M27 540.5h1M51 540.5h1M59 540.5h2M63 540.5h1M67 540.5h1M79 540.5h1M113 540.5h1M25 546.5h1M27 546.5h1M31 546.5h3M55 546.5h1M68 546.5h1M79 546.5h2M83 546.5h1M93 546.5h2M115 546.5h1M21 559.5h1M54 559.5h1M59 559.5h1M78 559.5h1M17 563.5h1M24 563.5h1M34 563.5h1M54 563.5h1M68 563.5h2M92 563.5h1M112 563.5h1M13 572.5h1M21 572.5h1M42 572.5h1M55 572.5h1M78 572.5h1M85 572.5h1M89 572.5h1M15 579.5h1M17 579.5h1M21 579.5h1M26 579.5h1M37 579.5h1M41 579.5h1M62 579.5h1M66 579.5h1M82 579.5h1M85 579.5h1M112 579.5h1M82 610.5h1M89 610.5h2M100 610.5h1M118 610.5h1M12 628.5h1M16 628.5h1M78 628.5h1M90 628.5h1M95 628.5h1M103 628.5h2M117 628.5h1M6 650.5h1M90 650.5h2M95 650.5h1M101 650.5h1M103 650.5h1M1 666.5h1M9 666.5h1M95 666.5h1M2 695.5h1M9 695.5h1M98 695.5h1M107 695.5h1M114 695.5h1M117 695.5h1M2 696.5h1M5 696.5h1M13 696.5h1M16 696.5h1M87 696.5h1M94 696.5h1M117 696.5h1M17 705.5h1M105 705.5h1M107 705.5h1M115 705.5h1M90 710.5h1M96 710.5h1M99 710.5h1M104 710.5h1M107 710.5h1M115 710.5h1M117 710.5h1M10 717.5h1M94 717.5h1M97 717.5h1M101 717.5h1M5 726.5h1M18 726.5h1M29 726.5h1M46 726.5h1M83 726.5h1M93 726.5h1M113 726.5h1M115 741.5h1M119 741.5h1M15 780.5h1M28 780.5h1M26 781.5h1M37 781.5h1"/>
<path stroke="#2a00e3" stroke-width="2" d="M4 201h1M12 201h1M42 201h1M52 201h1M91 201h1M108 201h1M115 201h1M53 329h1M19 340h1M33 340h1M41 340h1M45 340h1M3 355h1M7 355h1M13 355h1M38 355h2M11 360h1M23 360h1M27 360h1M42 360h1M22 362h1M31 362h1M45 362h1M48 362h2M12 364h1M36 364h1M50 364h1M64 364h1M67 364h1M73 364h2M9 366h1M12 366h1M17 366h1M32 366h1M52 366h1M58 366h1M67 366h1M70 366h1M73 366h1M3 374h1M5 374h1M48 374h1M63 374h1M75 374h1M11 387h1M77 387h1M80 387h1M111 387h1M83 392h2M111 392h2M6 394h1M75 394h2M102 394h1M114 394h1M80 410h1M83 410h1M105 410h1M114 410h1M7 420h1M9 420h1M11 420h1M16 420h1M69 420h1M74 420h1M81 420h1M86 420h1M112 420h1M6 443h1M13 443h1M55 443h1M78 443h2M82 443h1M86 443h1M104 443h1M20 446h1M24 446h1M51 446h1M74 446h1M78 446h1M87 446h1M90 446h1M109 446h1M115 446h1M6 467h1M16 467h1M22 467h1M27 467h1M61 467h1M70 467h1M16 480h1M20 480h1M39 480h1M47 480h1M50 480h2M54 480h1M72 480h1M78 480h1M17 485h2M22 485h1M42 485h1M45 485h1M56 485h1M72 485h1M85 485h1M88 485h1M11 487h1M30 487h1M44 487h1M48 487h1M53 487h1M64 487h1M79 487h1M111 487h1M13 490h1M18 490h1M20 490h1M38 490h1M44 490h1M49 490h2M59 490h1M62 490h1M74 490h1M81 490h1M84 490h1M108 490h1M111 490h1M24 495h1M29 495h1M35 495h2M42 495h1M50 495h1M62 495h1M73 495h2M27 497h1M34 497h1M37 497h1M46 497h1M50 497h1M65 497h2M68 497h1M73 497h1M81 497h1M89 497h1M108 497h1M28 506h1M30 506h1M45 506h1M50 506h1M62 506h1M70 506h1M80 506h2M119 506h1M29 511h1M32 511h1M36 511h1M47 511h1M51 511h1M58 511h1M92 511h1M21 516h1M24 516h2M27 516h1M37 516h1M39 516h1M58 516h1M61 516h1M65 516h1M70 516h1M79 516h1M112 516h1M19 535h1M31 535h1M39 535h1M42 535h1M56 535h1M70 535h1M72 535h1M109 535h1M111 535h1M24 537h1M30 537h1M38 537h1M42 537h1M47 537h1M51 537h2M55 537h1M78 537h1M91 537h1M113 537h1M44 539h1M49 539h1M51 539h1M62 539h1M66 539h1M73 539h1M80 539h2M86 539h1M90 539h1M111 539h1M119 539h1M34 542h1M71 542h1M81 542h1M84 542h1M18 548h1M38 548h1M51 548h1M57 548h2M62 548h1M74 548h1M24 558h1M27 558h1M30 558h1M40 558h1M48 558h1M52 558h1M55 558h1M67 558h2M93 558h1M116 558h1M22 565h1M44 565h1M79 565h1M84 565h1M86 565h1M110 565h1M18 567h1M35 567h1M49 567h1M52 567h1M85 567h1M111 567h1M119 567h1M16 589h2M27 589h1M36 589h1M58 589h1M60 589h1M73 589h1M85 589h1M7 609h1M12 609h1M15 609h2M22 609h1M24 609h1M95 609h1M99 609h1M118 609h1M27 615h1M101 615h1M104 615h2M117 615h1M5 624h1M85 624h1M87 624h1M93 624h1M118 624h1M14 630h1M16 630h2M88 630h1M93 630h1M8 632h1M17 632h1M87 632h1M91 632h1M7 652h1M84 652h1M98 652h1M102 652h2M8 658h1M10 658h1M15 658h1M109 658h1M10 660h1M12 660h1M15 660h1M89 660h1M93 660h1M95 660h1M98 660h1M107 660h3M113 660h1M89 662h1M110 662h1M119 662h1M4 679h2M15 679h1M107 679h1M110 679h2M5 687h1M8 687h1M13 687h1M94 687h1M102 687h1M19 689h1M94 689h1M97 689h1M110 689h1M115 689h1M6 691h1M10 691h2M14 691h1M18 691h1M83 691h1M102 691h1M105 691h1M114 691h1M117 691h1M0 701h1M13 701h1M83 701h1M104 701h1M106 701h1M118 701h1M8 712h1M89 712h1M93 712h1M96 712h1M101 712h1M114 712h1M9 725h1M12 725h1M17 725h1M38 725h1M89 725h1M97 725h1M99 725h1M106 725h1M109 725h1M112 725h1M3 731h1M11 731h1M15 731h1M82 731h1M101 731h1M15 740h1M18 746h1"/>
<path stroke="#2a00e3" stroke-width="3" d="M11 333.5h1M26 333.5h1M15 342.5h1M45 342.5h1M35 349.5h1M49 349.5h1M3 352.5h1M21 352.5h1M30 352.5h1M9 357.5h1M21 357.5h1M24 357.5h1M50 357.5h1M52 357.5h1M78 380.5h1M85 380.5h1M103 380.5h1M108 380.5h1M113 380.5h1M4 389.5h2M80 389.5h1M88 389.5h1M105 389.5h1M110 389.5h2M114 389.5h1M80 397.5h1M84 397.5h1M114 397.5h1M15 400.5h1M104 400.5h1M4 403.5h1M13 403.5h1M73 403.5h1M77 403.5h1M81 403.5h1M85 403.5h1M108 403.5h1M114 403.5h1M116 403.5h1M3 407.5h1M81 407.5h1M104 407.5h1M108 407.5h1M46 422.5h1M65 422.5h1M85 422.5h1M111 422.5h1M116 422.5h1M2 433.5h2M11 433.5h1M82 433.5h1M114 433.5h1M14 436.5h1M68 436.5h1M84 436.5h1M86 436.5h1M13 440.5h1M37 440.5h1M73 440.5h1M80 440.5h1M106 440.5h1M108 440.5h1M111 440.5h1M5 448.5h1M33 448.5h1M84 448.5h1M107 448.5h1M109 448.5h1M112 448.5h1M117 448.5h1M38 451.5h1M108 451.5h1M34 454.5h1M56 454.5h1M80 454.5h1M89 454.5h1M68 457.5h1M74 457.5h1M115 457.5h1M119 457.5h1M7 464.5h1M11 464.5h1M49 464.5h1M68 464.5h1M71 464.5h1M74 464.5h1M88 464.5h1M12 469.5h1M14 469.5h1M29 469.5h1M44 469.5h1M58 469.5h1M63 469.5h1M73 469.5h1M80 469.5h1M86 469.5h1M107 469.5h1M116 469.5h1M24 472.5h1M29 472.5h2M40 472.5h1M43 472.5h1M55 472.5h1M66 472.5h1M68 472.5h1M73 472.5h2M80 472.5h1M86 472.5h1M90 472.5h1M116 472.5h1M15 477.5h1M23 477.5h1M30 477.5h1M48 477.5h1M56 477.5h1M61 477.5h1M68 477.5h1M79 477.5h1M83 477.5h2M88 477.5h1M109 477.5h1M111 477.5h1M115 477.5h1M13 482.5h1M19 482.5h1M22 482.5h1M47 482.5h1M52 482.5h1M58 482.5h1M66 482.5h1M74 482.5h1M80 482.5h1M107 482.5h2M112 482.5h1M23 492.5h1M41 492.5h1M47 492.5h1M57 492.5h1M89 492.5h2M92 492.5h1M14 499.5h1M23 499.5h1M26 499.5h1M45 499.5h1M68 499.5h1M74 499.5h1M78 499.5h1M87 499.5h1M31 508.5h1M34 508.5h1M38 508.5h1M42 508.5h1M44 508.5h1M47 508.5h2M55 508.5h1M59 508.5h1M74 508.5h1M86 508.5h1M92 508.5h1M16 513.5h1M24 513.5h1M30 513.5h1M41 513.5h1M80 513.5h1M85 513.5h1M18 518.5h1M31 518.5h1M34 518.5h1M53 518.5h1M62 518.5h1M65 518.5h1M93 518.5h1M30 521.5h2M37 521.5h1M62 521.5h1M67 521.5h1M69 521.5h3M73 521.5h1M117 521.5h1M14 524.5h1M22 524.5h1M24 524.5h1M30 524.5h1M38 524.5h1M41 524.5h1M61 524.5h1M63 524.5h1M69 524.5h1M87 524.5h1M91 524.5h1M111 524.5h1M113 524.5h1M56 532.5h1M59 532.5h1M64 532.5h1M71 532.5h1M89 532.5h1M92 532.5h1M20 544.5h1M34 544.5h1M42 544.5h1M64 544.5h1M77 544.5h1M82 544.5h1M85 544.5h1M93 544.5h1M110 544.5h1M15 561.5h1M22 561.5h1M27 561.5h2M36 561.5h1M46 561.5h1M48 561.5h1M61 561.5h1M111 561.5h1M115 561.5h1M14 574.5h1M16 574.5h1M18 574.5h2M40 574.5h1M44 574.5h1M74 574.5h1M85 574.5h1M89 574.5h1M112 574.5h1M119 574.5h1M23 577.5h1M75 577.5h1M93 577.5h1M118 577.5h1M15 595.5h1M26 595.5h1M28 595.5h1M42 595.5h1M46 595.5h1M80 595.5h1M88 595.5h1M95 595.5h1M110 595.5h1M9 606.5h1M17 606.5h1M26 606.5h1M18 612.5h1M20 612.5h1M82 612.5h1M85 612.5h1M91 612.5h1M97 612.5h1M102 612.5h1M107 612.5h1M117 612.5h1M6 617.5h2M86 617.5h1M90 617.5h1M110 617.5h1M14 626.5h2M86 626.5h1M88 626.5h1M107 626.5h1M110 626.5h1M118 626.5h1M9 642.5h1M14 642.5h1M18 642.5h1M85 642.5h1M90 642.5h1M99 642.5h1M104 642.5h1M113 642.5h3M119 642.5h1M8 645.5h1M89 645.5h2M100 645.5h1M110 645.5h1M11 648.5h1M21 648.5h1M119 648.5h1M5 664.5h2M9 664.5h1M15 664.5h1M19 664.5h1M104 664.5h1M113 664.5h1M116 664.5h1M1 676.5h1M108 676.5h1M113 676.5h2M116 676.5h1M119 676.5h1M5 681.5h2M15 681.5h1M102 681.5h1M105 681.5h1M7 684.5h1M89 684.5h1M108 684.5h1M113 684.5h1M3 693.5h1M15 693.5h1M95 693.5h1M95 698.5h1M100 698.5h1M117 698.5h1M119 698.5h1M9 703.5h1M16 703.5h2M19 703.5h1M89 703.5h2M97 703.5h3M90 719.5h1M94 719.5h1M97 719.5h1M12 722.5h1M97 722.5h1M113 722.5h1M119 722.5h1M6 728.5h1M16 728.5h1M44 728.5h1M46 728.5h1M92 728.5h1M104 728.5h1M1 737.5h1M8 737.5h1M13 737.5h1M22 737.5h1M83 737.5h1M100 737.5h1M119 737.5h1M72 743.5h1M18 748.5h1M16 761.5h1M19 761.5h1M49 761.5h1M20 764.5h1M44 764.5h1M25 767.5h1M19 770.5h1M33 770.5h1M38 770.5h1M40 770.5h1"/>
<path stroke="#2a00e3" stroke-width="4" d="M3 346h1M20 346h1M11 369h1M26 369h2M60 369h1M69 369h1M75 369h1M119 369h1M8 377h2M18 377h1M66 377h2M76 377h2M114 377h1M9 384h1M75 384h1M79 384h1M81 384h1M4 413h1M7 413h1M83 413h1M15 417h1M84 417h1M107 417h1M113 417h1M118 417h1M105 426h1M76 430h1M108 430h1M35 461h1M45 461h1M50 461h2M67 461h1M74 461h2M77 461h1M80 461h1M16 503h1M23 503h1M38 503h2M45 503h1M52 503h1M54 503h1M69 503h1M91 503h1M109 503h1M113 503h1M32 528h1M38 528h1M41 528h1M50 528h1M69 528h2M89 528h1M21 551h2M26 551h2M34 551h1M49 551h1M61 551h1M70 551h1M76 551h1M86 551h1M111 551h1M36 555h1M49 555h1M62 555h1M68 555h1M114 555h1M11 570h1M22 570h1M32 570h1M49 570h1M55 570h1M59 570h1M82 570h1M28 582h1M37 582h1M41 582h1M67 582h1M71 582h1M88 582h1M113 582h2M20 586h1M23 586h1M26 586h1M32 586h1M44 586h1M51 586h1M63 586h1M86 586h1M90 586h1M16 592h1M23 592h1M52 592h1M81 592h1M11 599h1M13 599h1M18 599h1M22 599h1M47 599h1M55 599h1M59 599h1M72 599h1M78 599h1M89 599h1M96 599h1M102 599h1M112 599h1M21 603h1M33 603h1M84 603h1M86 603h1M100 603h1M102 603h1M104 603h1M106 603h1M112 603h1M115 603h1M118 603h1M1 621h1M9 621h1M11 621h1M109 621h2M119 621h1M12 635h1M85 635h1M94 635h1M96 635h1M98 635h1M109 635h1M112 635h1M119 635h1M110 639h1M83 655h1M100 655h1M104 655h1M117 655h1M6 669h1M89 669h1M107 669h1M11 673h1M13 673h1M103 673h1M107 673h2M110 673h1M112 673h1M0 708h1M8 708h2M14 708h1M92 708h1M101 708h1M108 708h1M3 715h1M16 715h1M90 715h1M108 715h1M22 734h1M84 734h1M109 734h1M6 752h1M27 752h1M51 758h1M38 774h1M19 778h1"/>
<path stroke="#1900f0" stroke-width="1" d="M17 326.5h1M59 331.5h1M0 371.5h1M3 371.5h1M13 371.5h1M63 371.5h1M114 371.5h1M0 372.5h1M5 372.5h1M13 372.5h1M15 372.5h1M18 372.5h1M66 372.5h1M70 372.5h1M73 372.5h1M75 372.5h1M80 372.5h1M104 372.5h1M107 372.5h2M110 372.5h1M7 395.5h1M20 395.5h1M78 395.5h1M81 395.5h1M113 395.5h1M119 395.5h1M73 405.5h2M82 405.5h1M104 405.5h1M111 405.5h1M113 405.5h1M1 438.5h1M3 438.5h1M102 438.5h1M108 438.5h1M112 438.5h1M116 438.5h1M55 444.5h1M65 444.5h1M71 444.5h1M110 444.5h1M112 444.5h1M27 474.5h1M29 474.5h1M32 474.5h1M43 474.5h1M48 474.5h1M54 474.5h1M72 474.5h1M76 474.5h1M87 474.5h1M91 474.5h2M111 474.5h1M13 475.5h1M16 475.5h1M27 475.5h1M34 475.5h1M49 475.5h1M61 475.5h1M83 475.5h1M107 475.5h1M116 475.5h1M9 488.5h1M16 488.5h1M21 488.5h1M42 488.5h1M56 488.5h1M59 488.5h1M72 488.5h1M76 488.5h1M83 488.5h1M85 488.5h2M89 488.5h1M106 488.5h1M109 488.5h1M118 488.5h1M25 530.5h1M35 530.5h1M51 530.5h1M57 530.5h1M64 530.5h2M81 530.5h2M111 530.5h1M28 540.5h1M33 540.5h2M37 540.5h1M46 540.5h1M86 540.5h2M89 540.5h1M12 546.5h1M51 546.5h1M64 546.5h1M73 546.5h1M76 546.5h1M117 546.5h1M19 559.5h1M23 559.5h1M46 559.5h1M63 559.5h1M71 559.5h1M73 559.5h1M85 559.5h1M89 559.5h1M65 563.5h1M70 563.5h1M89 563.5h1M111 563.5h1M118 563.5h1M16 572.5h2M70 572.5h1M86 572.5h1M88 572.5h1M115 572.5h1M13 579.5h1M50 579.5h1M53 579.5h1M74 579.5h1M115 579.5h1M1 610.5h1M23 610.5h1M78 610.5h1M80 610.5h1M99 610.5h1M114 610.5h1M116 610.5h1M7 628.5h1M102 628.5h1M109 628.5h2M119 628.5h1M11 650.5h2M15 650.5h1M92 650.5h1M96 650.5h1M111 650.5h1M118 650.5h1M100 666.5h1M4 695.5h1M95 695.5h1M108 695.5h1M115 695.5h2M8 696.5h2M98 696.5h1M102 696.5h1M108 696.5h1M116 696.5h1M15 705.5h1M87 705.5h1M104 705.5h1M110 705.5h1M114 705.5h1M2 710.5h2M6 710.5h1M15 710.5h1M109 710.5h2M13 717.5h1M89 717.5h1M114 717.5h2M3 726.5h1M8 726.5h1M15 741.5h1M17 741.5h1M79 741.5h1M30 781.5h1"/>
<path stroke="#1900f0" stroke-width="2" d="M21 201h1M27 201h1M47 201h1M50 201h1M55 201h2M68 201h3M76 201h1M79 201h1M104 201h1M106 201h1M111 201h1M114 201h1M118 201h1M36 329h1M40 340h1M27 355h1M31 355h1M46 355h1M48 355h1M57 355h1M17 360h1M19 360h1M41 360h1M45 360h1M53 360h3M64 360h1M74 360h1M10 362h1M17 362h2M21 362h1M33 362h1M38 362h1M43 362h1M47 362h1M54 362h1M56 362h1M70 362h1M82 362h1M15 364h1M19 364h1M59 364h1M68 364h1M75 364h2M118 364h1M3 366h1M37 366h1M39 366h1M42 366h1M49 366h1M56 366h2M63 366h1M65 366h1M0 374h1M11 374h1M16 374h1M22 374h1M66 374h1M72 374h1M75 387h1M79 387h1M85 387h1M112 387h1M4 392h1M75 392h1M87 392h2M106 392h1M114 392h1M116 392h1M119 392h1M0 394h2M8 394h1M80 394h1M86 410h1M2 420h1M14 420h1M110 420h1M113 420h1M117 420h1M3 443h1M24 443h1M59 443h1M69 443h1M107 443h1M5 446h1M8 446h1M59 446h1M82 446h1M104 446h1M106 446h2M114 446h1M119 446h1M4 467h1M14 467h1M19 467h1M23 467h1M44 467h1M54 467h1M56 467h1M60 467h1M74 467h1M78 467h1M84 467h1M88 467h1M66 480h1M73 480h2M80 480h1M107 480h1M112 480h2M117 480h1M53 485h2M73 485h1M82 485h1M90 485h1M111 485h1M12 487h1M14 487h1M24 487h1M32 487h1M35 487h1M49 487h1M70 487h2M77 487h1M81 487h1M92 487h1M114 487h1M10 490h1M17 490h1M26 490h1M28 490h1M53 490h1M67 490h1M70 490h2M92 490h1M107 490h1M22 495h1M30 495h1M38 495h2M54 495h1M61 495h1M75 495h1M89 495h1M114 495h1M117 495h1M7 497h1M42 497h1M45 497h1M67 497h1M71 497h1M87 497h1M92 497h1M112 497h1M117 497h1M22 506h1M31 506h1M47 506h1M74 506h1M83 506h1M92 506h1M113 506h1M14 511h1M20 511h1M70 511h1M86 511h1M90 511h1M107 511h1M109 511h1M113 511h1M20 516h1M22 516h1M34 516h1M47 516h1M59 516h1M66 516h2M75 516h1M78 516h1M82 516h1M90 516h1M93 516h1M115 516h1M17 535h1M34 535h1M48 535h1M52 535h1M65 535h1M76 535h1M84 535h1M86 535h1M89 535h1M17 537h1M20 537h1M35 537h1M45 537h1M59 537h1M63 537h1M76 537h1M20 539h1M25 539h1M28 539h1M36 539h1M47 539h1M71 539h1M76 539h1M79 539h1M93 539h2M114 539h1M13 542h1M18 542h1M21 542h1M25 542h2M30 542h1M53 542h1M70 542h1M73 542h1M78 542h2M82 542h1M111 542h1M23 548h1M26 548h1M33 548h1M46 548h1M52 548h1M78 548h1M86 548h1M92 548h1M110 548h1M115 548h1M17 558h1M28 558h1M31 558h1M36 558h1M42 558h1M56 558h1M65 558h1M78 558h1M114 558h1M15 565h1M17 565h1M19 565h1M25 565h1M33 565h1M62 565h1M78 565h1M89 565h1M99 565h1M115 565h1M20 567h1M22 567h1M34 567h1M53 567h1M74 567h1M82 567h1M90 567h1M100 567h1M112 567h1M115 567h1M117 567h1M41 589h1M53 589h1M82 589h1M90 589h1M97 589h1M103 589h1M112 589h1M13 609h1M89 609h1M92 609h1M103 609h1M107 609h1M119 609h1M9 615h1M20 615h2M107 615h1M109 615h1M112 615h1M116 615h1M4 624h1M18 624h1M95 624h1M100 624h2M103 624h1M109 624h1M0 630h1M2 630h1M104 630h1M0 632h1M2 632h1M18 632h1M94 632h1M110 632h1M116 632h1M11 652h1M95 652h1M106 652h1M109 652h1M111 652h1M88 658h1M107 658h1M110 658h1M114 658h1M7 660h1M11 660h1M22 660h1M110 660h1M119 660h1M5 662h1M11 662h2M15 662h1M108 662h1M111 662h1M115 662h1M117 662h2M98 679h1M102 679h1M113 679h1M7 687h1M9 687h1M82 687h1M103 687h1M114 687h1M6 689h1M13 689h1M92 689h1M7 691h1M90 691h1M107 691h1M115 691h1M4 701h1M12 701h1M17 701h1M85 701h1M94 701h1M97 701h1M99 701h1M16 712h1M19 712h1M99 712h1M104 712h1M112 712h1M116 712h1M4 725h1M15 725h1M90 725h2M96 725h1M104 725h2M7 731h1M12 731h2M84 731h2M89 731h1M99 731h1M4 740h1M9 740h1M29 740h1M32 740h1M85 740h1M12 746h1M22 746h1M68 746h1M20 755h1M51 755h1"/>
<path stroke="#1900f0" stroke-width="3" d="M21 324.5h1M55 324.5h1M22 333.5h1M34 333.5h1M1 349.5h1M45 349.5h1M50 349.5h1M57 349.5h2M70 349.5h1M5 352.5h1M24 352.5h1M40 352.5h1M42 352.5h1M63 352.5h1M0 357.5h1M11 357.5h1M20 357.5h1M26 357.5h1M57 357.5h1M59 357.5h1M6 380.5h3M80 380.5h1M82 380.5h1M106 380.5h2M9 389.5h1M12 389.5h1M77 389.5h1M83 389.5h1M117 389.5h1M4 397.5h1M9 397.5h1M22 397.5h1M81 397.5h1M108 397.5h1M5 400.5h1M7 400.5h1M86 400.5h2M110 400.5h1M113 400.5h1M0 407.5h1M107 407.5h1M112 407.5h1M119 407.5h1M6 422.5h1M112 422.5h1M81 433.5h1M104 433.5h1M112 433.5h1M8 436.5h1M75 436.5h1M79 436.5h1M83 436.5h1M116 436.5h1M119 436.5h1M11 440.5h1M84 440.5h1M110 440.5h1M113 440.5h1M115 440.5h2M4 448.5h1M17 448.5h1M69 448.5h1M76 448.5h1M82 448.5h1M115 448.5h1M1 451.5h1M12 451.5h1M40 451.5h1M44 451.5h1M64 451.5h1M84 451.5h1M118 451.5h1M10 454.5h1M43 454.5h1M74 454.5h1M78 454.5h1M81 454.5h1M87 454.5h1M104 454.5h1M108 454.5h1M112 454.5h1M115 454.5h1M119 454.5h1M6 457.5h1M12 457.5h1M16 457.5h1M28 457.5h1M43 457.5h1M51 457.5h1M55 457.5h1M64 457.5h1M75 457.5h1M86 457.5h1M106 457.5h1M17 464.5h1M40 464.5h1M47 464.5h1M64 464.5h3M72 464.5h1M89 464.5h1M106 464.5h1M110 464.5h1M10 469.5h1M13 469.5h1M16 469.5h1M27 469.5h1M60 469.5h1M62 469.5h1M78 469.5h1M84 469.5h1M11 472.5h2M39 472.5h1M56 472.5h1M70 472.5h1M81 472.5h1M105 472.5h3M115 472.5h1M10 477.5h1M14 477.5h1M20 477.5h1M66 477.5h1M73 477.5h1M77 477.5h1M87 477.5h1M1 482.5h1M3 482.5h1M17 482.5h1M54 482.5h2M67 482.5h1M72 482.5h2M87 482.5h1M109 482.5h1M22 492.5h1M28 492.5h1M17 499.5h1M41 499.5h1M48 499.5h1M76 499.5h1M84 499.5h1M88 499.5h1M90 499.5h1M109 499.5h1M113 499.5h1M118 499.5h1M14 508.5h1M16 508.5h1M18 508.5h1M23 508.5h1M30 508.5h1M45 508.5h1M62 508.5h1M78 508.5h1M91 508.5h1M110 508.5h1M114 508.5h1M19 513.5h1M26 513.5h1M29 513.5h1M60 513.5h1M88 513.5h1M111 513.5h2M115 513.5h1M23 518.5h1M54 518.5h1M68 518.5h1M77 518.5h1M82 518.5h1M85 518.5h2M88 518.5h1M92 518.5h1M112 518.5h1M117 518.5h1M23 521.5h1M34 521.5h1M41 521.5h1M50 521.5h1M86 521.5h1M91 521.5h1M93 521.5h1M119 521.5h1M12 524.5h1M25 524.5h2M71 524.5h2M77 524.5h1M84 524.5h1M90 524.5h1M116 524.5h1M17 532.5h1M19 532.5h1M21 532.5h1M25 532.5h1M28 532.5h1M33 532.5h1M40 532.5h1M55 532.5h1M74 532.5h1M26 544.5h1M28 544.5h1M41 544.5h1M81 544.5h1M115 544.5h1M119 544.5h1M67 561.5h1M70 561.5h2M73 561.5h1M81 561.5h1M88 561.5h1M91 561.5h1M119 561.5h1M24 574.5h1M34 574.5h2M38 574.5h2M43 574.5h1M45 574.5h1M56 574.5h1M69 574.5h1M71 574.5h1M73 574.5h1M79 574.5h1M84 574.5h1M101 574.5h1M111 574.5h1M13 577.5h1M31 577.5h1M34 577.5h1M39 577.5h1M77 577.5h1M79 577.5h2M85 577.5h1M119 577.5h1M11 595.5h1M14 595.5h1M47 595.5h1M59 595.5h1M83 595.5h1M100 595.5h1M104 595.5h1M18 606.5h1M86 606.5h1M88 606.5h2M94 606.5h1M100 606.5h1M113 606.5h2M118 606.5h1M5 612.5h1M10 612.5h1M96 612.5h1M99 612.5h2M119 612.5h1M8 617.5h1M15 617.5h1M20 617.5h1M116 617.5h1M118 617.5h1M7 626.5h1M9 626.5h2M106 626.5h1M115 626.5h3M1 642.5h1M12 642.5h1M28 642.5h1M92 642.5h1M107 642.5h1M4 645.5h1M10 645.5h1M15 645.5h1M94 645.5h1M105 645.5h1M107 645.5h1M8 648.5h2M15 648.5h1M17 648.5h1M94 648.5h1M108 648.5h1M112 648.5h1M3 664.5h1M13 664.5h1M99 664.5h1M107 664.5h2M114 664.5h1M117 664.5h1M12 676.5h1M18 676.5h1M93 676.5h1M98 676.5h1M100 676.5h1M109 676.5h2M10 681.5h1M18 681.5h2M91 681.5h1M99 681.5h1M117 681.5h1M93 684.5h1M96 684.5h2M4 693.5h1M88 693.5h2M4 698.5h1M10 698.5h1M17 698.5h1M19 698.5h1M96 698.5h1M108 698.5h1M111 698.5h1M115 698.5h1M18 703.5h1M94 703.5h1M6 719.5h1M10 719.5h1M14 719.5h1M117 719.5h1M86 722.5h1M4 728.5h1M9 728.5h1M29 728.5h1M111 728.5h1M12 737.5h1M15 737.5h1M81 737.5h1M115 737.5h1M22 748.5h1M64 748.5h1M17 761.5h1M26 761.5h1M36 764.5h1M20 767.5h1M28 767.5h1M43 767.5h1M16 770.5h1M23 770.5h1M34 770.5h1"/>
<path stroke="#1900f0" stroke-width="4" d="M6 204h1M20 321h1M50 337h1M25 346h1M38 346h1M7 369h1M10 369h1M20 369h1M22 369h1M25 369h1M48 369h1M58 369h1M112 369h1M118 369h1M3 377h1M6 377h2M16 377h1M104 377h1M106 377h1M108 377h1M103 384h1M117 384h1M86 413h1M102 413h2M106 413h1M114 417h2M3 426h1M7 426h1M10 426h1M15 426h1M88 426h1M106 426h1M111 426h1M116 426h1M119 426h1M1 430h1M16 430h1M83 430h1M85 430h1M104 430h1M115 430h3M7 461h1M68 461h2M88 461h1M118 461h1M36 503h2M51 503h1M61 503h1M72 503h1M75 503h1M87 503h1M19 528h1M26 528h1M49 528h1M52 528h1M56 528h1M68 528h1M76 528h1M78 528h1M113 528h1M19 551h1M48 551h1M83 551h1M110 551h1M112 551h1M17 555h1M34 555h1M51 555h1M76 555h1M78 555h1M115 555h1M19 570h1M24 570h1M36 570h1M40 570h1M44 570h1M63 570h1M70 570h1M77 570h1M91 570h1M18 582h1M26 582h1M46 582h1M81 582h1M84 582h2M101 582h1M115 582h1M118 582h1M14 586h1M34 586h1M73 586h1M78 586h1M88 586h1M92 586h1M101 586h1M110 586h1M13 592h2M18 592h1M41 592h1M67 592h1M76 592h1M80 592h1M90 592h1M103 592h1M5 599h1M31 599h2M43 599h1M81 599h1M97 599h1M113 599h1M116 599h1M87 603h1M107 603h1M113 603h1M117 603h1M10 621h1M4 635h1M13 635h2M16 635h1M22 635h1M91 635h1M93 635h1M104 635h1M111 635h1M113 635h1M0 639h1M11 639h1M89 639h1M93 639h1M98 639h1M4 655h3M18 655h1M22 655h1M4 669h1M19 669h1M21 669h1M97 669h1M99 669h1M111 669h1M2 673h1M7 673h1M95 673h1M5 708h1M15 708h1M90 708h1M116 708h1M87 715h1M107 715h1M118 734h1M22 752h1M18 758h1M19 774h1M33 774h1"/>
<path stroke="#0800fc" stroke-width="1" d="M8 318.5h1M37 318.5h1M41 318.5h1M18 326.5h1M20 326.5h1M52 326.5h1M12 327.5h1M31 327.5h1M3 330.5h1M27 330.5h1M5 331.5h1M8 331.5h1M15 331.5h1M20 331.5h1M36 331.5h1M7 371.5h2M19 371.5h1M21 371.5h1M32 371.5h1M60 371.5h1M68 371.5h1M71 371.5h1M73 371.5h1M80 371.5h1M105 371.5h2M108 371.5h2M26 372.5h1M68 372.5h1M72 372.5h1M74 372.5h1M78 372.5h1M106 372.5h1M104 395.5h1M115 395.5h1M10 405.5h1M81 405.5h1M86 405.5h1M83 438.5h1M106 438.5h1M113 438.5h1M115 438.5h1M10 444.5h1M15 444.5h1M82 444.5h1M86 444.5h1M108 444.5h1M16 474.5h1M40 474.5h1M77 474.5h1M81 474.5h1M10 475.5h1M21 475.5h1M41 475.5h2M52 475.5h1M60 475.5h1M86 475.5h2M111 475.5h1M22 488.5h2M27 488.5h1M48 488.5h1M73 488.5h1M81 488.5h1M92 488.5h1M117 488.5h1M18 530.5h1M28 530.5h1M44 530.5h2M48 530.5h1M58 530.5h1M70 530.5h1M78 530.5h1M109 530.5h1M114 530.5h1M15 540.5h3M19 540.5h1M56 540.5h1M66 540.5h1M68 540.5h1M72 540.5h1M80 540.5h1M16 546.5h1M71 546.5h2M74 546.5h1M81 546.5h2M85 546.5h1M109 546.5h2M119 546.5h1M17 559.5h2M22 559.5h1M25 559.5h1M64 559.5h1M70 559.5h1M81 559.5h1M111 559.5h1M114 559.5h1M116 559.5h1M119 559.5h1M36 563.5h1M66 563.5h1M71 563.5h1M74 563.5h1M78 563.5h1M86 563.5h1M90 563.5h1M117 563.5h1M15 572.5h1M23 572.5h1M51 572.5h1M63 572.5h1M81 572.5h3M101 572.5h1M103 572.5h1M111 572.5h3M20 579.5h1M70 579.5h1M76 579.5h1M2 610.5h1M84 610.5h1M92 610.5h1M95 610.5h1M104 610.5h1M108 610.5h1M117 610.5h1M0 628.5h1M2 628.5h1M17 628.5h1M91 628.5h1M96 628.5h1M100 628.5h1M115 628.5h1M109 650.5h1M99 666.5h1M107 666.5h2M111 666.5h1M94 695.5h1M105 695.5h1M14 696.5h1M2 705.5h1M7 705.5h1M101 705.5h1M103 705.5h1M109 705.5h1M113 705.5h1M116 705.5h1M8 710.5h1M94 710.5h1M98 710.5h1M116 710.5h1M1 717.5h1M6 717.5h1M19 717.5h1M92 717.5h1M119 717.5h1M7 726.5h1M12 726.5h1M95 726.5h1M107 726.5h1M115 726.5h1M117 726.5h1M74 741.5h1M30 780.5h1M37 780.5h1M19 781.5h1M23 781.5h1"/>
<path stroke="#0800fc" stroke-width="2" d="M28 201h1M30 201h1M44 201h2M89 201h1M29 305h1M23 340h1M1 355h1M6 355h1M10 355h1M19 355h1M24 355h1M35 355h1M6 360h1M26 360h1M51 360h1M66 360h1M2 362h1M5 362h1M13 362h1M16 362h1M28 362h1M37 362h1M59 362h1M64 362h1M74 362h1M7 364h1M22 364h1M35 364h1M41 364h1M58 364h1M70 364h1M72 364h1M8 366h1M21 366h1M28 366h1M35 366h1M61 366h1M69 366h1M83 366h1M108 366h1M114 366h1M7 374h2M104 374h1M106 374h1M115 374h1M117 374h1M6 387h1M103 387h1M115 387h1M0 392h3M78 392h1M80 392h1M103 392h1M118 392h1M11 394h1M81 394h1M103 394h1M108 394h1M9 410h1M75 410h1M103 410h1M0 420h2M6 420h1M85 420h1M105 420h1M108 420h1M115 420h1M118 420h1M11 443h1M102 443h1M105 443h1M108 443h1M112 443h1M115 443h1M117 443h1M0 446h1M15 446h1M110 446h1M38 467h1M47 467h1M83 467h1M87 467h1M89 467h2M105 467h1M107 467h1M5 480h1M9 480h1M13 480h2M67 480h1M71 480h1M81 480h1M84 480h1M116 480h1M119 480h1M19 485h1M34 485h1M40 485h2M87 485h1M92 485h1M113 485h1M3 487h1M15 487h1M17 487h1M39 487h1M52 487h1M57 487h1M82 487h1M89 487h1M110 487h1M27 490h1M55 490h1M60 490h1M68 490h1M85 490h1M110 490h1M15 495h2M19 495h1M21 495h1M32 495h2M59 495h1M79 495h1M91 495h1M107 495h1M116 495h1M9 497h1M17 497h1M25 497h2M28 497h1M39 497h1M44 497h1M47 497h1M49 497h1M74 497h3M79 497h1M14 506h2M18 506h2M69 506h1M76 506h1M85 506h1M91 506h1M12 511h1M42 511h2M49 511h1M52 511h1M57 511h1M61 511h1M65 511h1M69 511h1M75 511h1M81 511h1M112 511h1M18 516h1M55 516h2M72 516h1M91 516h1M109 516h2M15 535h1M24 535h1M45 535h1M75 535h1M78 535h1M80 535h1M91 535h1M119 535h1M18 537h1M25 537h1M37 537h1M79 537h1M81 537h1M89 537h1M92 537h2M26 539h1M30 539h1M38 539h1M45 539h1M53 539h1M84 539h1M112 539h1M35 542h1M40 542h1M61 542h1M66 542h1M72 542h1M77 542h1M109 542h2M114 542h1M117 542h1M14 548h1M19 548h1M21 548h1M25 548h1M42 548h1M48 548h1M65 548h1M77 548h1M79 548h2M88 548h1M113 548h1M119 548h1M19 558h1M29 558h1M34 558h1M49 558h1M53 558h1M70 558h1M84 558h1M24 565h1M36 565h1M83 565h1M85 565h1M119 565h1M12 567h1M19 567h1M43 567h1M47 567h1M70 567h1M80 567h1M92 567h1M113 567h1M9 589h1M14 589h1M20 589h2M64 589h1M70 589h1M77 589h1M80 589h1M84 589h1M95 589h1M102 589h1M4 609h1M8 609h1M19 609h1M70 609h1M82 609h1M94 609h1M108 609h1M112 609h1M75 615h1M115 615h1M9 624h1M12 624h1M14 624h1M16 624h1M94 624h1M119 624h1M7 630h1M13 630h1M106 630h1M110 630h2M115 630h1M19 632h1M88 632h2M1 652h1M90 652h1M99 652h1M107 652h1M0 658h1M106 658h1M118 658h1M5 660h1M84 660h1M13 662h2M103 662h1M2 679h1M93 679h1M112 679h1M3 687h1M90 687h1M110 687h1M89 689h1M104 689h1M8 691h1M20 691h1M109 691h1M113 691h1M3 701h1M87 701h2M103 701h1M115 701h1M117 701h1M12 712h1M92 712h1M7 725h1M94 725h1M113 725h1M118 725h1M88 731h1M108 731h1M113 731h3M7 740h1M11 740h1M16 740h1M20 740h1M72 740h1M79 740h1M115 740h1M3 746h1M9 746h1M19 746h1M75 746h3M17 755h1M19 755h1"/>
<path stroke="#0800fc" stroke-width="3" d="M9 324.5h1M57 324.5h1M60 324.5h1M4 333.5h1M15 333.5h1M44 333.5h1M2 342.5h1M5 342.5h1M24 342.5h1M55 342.5h1M7 349.5h1M13 349.5h1M30 349.5h1M42 357.5h1M47 357.5h1M56 357.5h1M69 357.5h1M3 380.5h1M63 380.5h1M68 380.5h1M116 380.5h1M1 389.5h1M6 389.5h1M78 389.5h1M113 389.5h1M116 389.5h1M6 397.5h1M12 397.5h1M82 397.5h1M86 397.5h1M107 397.5h1M110 397.5h1M105 400.5h1M116 400.5h1M3 403.5h1M80 403.5h1M82 403.5h1M87 403.5h1M105 403.5h1M1 407.5h1M6 407.5h1M8 407.5h1M60 407.5h1M84 407.5h1M86 407.5h1M106 407.5h1M1 433.5h1M77 433.5h1M89 433.5h1M106 433.5h1M116 433.5h1M119 433.5h1M3 436.5h1M85 436.5h1M3 440.5h2M7 440.5h1M105 440.5h1M2 448.5h1M11 448.5h1M13 448.5h1M59 448.5h1M77 448.5h1M83 448.5h1M85 448.5h1M90 448.5h1M114 448.5h1M3 451.5h1M7 451.5h1M67 451.5h1M75 451.5h1M80 451.5h1M82 451.5h1M86 451.5h1M105 451.5h1M115 451.5h1M1 454.5h2M16 454.5h1M75 454.5h1M82 454.5h1M113 454.5h1M117 454.5h1M83 457.5h1M88 457.5h2M107 457.5h1M109 457.5h1M118 457.5h1M2 464.5h1M13 464.5h1M41 464.5h1M44 464.5h1M59 464.5h1M81 464.5h2M84 464.5h2M111 464.5h2M77 469.5h1M79 469.5h1M87 469.5h1M90 469.5h1M105 469.5h1M17 472.5h1M19 472.5h2M59 472.5h1M63 472.5h2M67 472.5h1M76 472.5h1M119 472.5h1M43 477.5h1M51 477.5h1M71 477.5h1M81 477.5h2M86 477.5h1M91 477.5h1M106 477.5h1M18 482.5h1M35 482.5h1M40 482.5h2M53 482.5h1M56 482.5h1M90 482.5h1M92 482.5h1M113 482.5h1M15 492.5h1M19 492.5h1M43 492.5h1M63 492.5h1M73 492.5h2M109 492.5h2M112 492.5h1M16 499.5h1M20 499.5h2M55 499.5h2M66 499.5h1M80 499.5h1M93 499.5h1M111 499.5h1M115 499.5h1M27 508.5h1M43 508.5h1M63 508.5h1M76 508.5h1M117 508.5h1M20 513.5h1M33 513.5h1M84 513.5h1M87 513.5h1M89 513.5h1M116 513.5h1M16 518.5h1M27 518.5h1M30 518.5h1M33 518.5h1M37 518.5h1M39 518.5h1M50 518.5h1M75 518.5h1M79 518.5h1M111 518.5h1M21 521.5h1M29 521.5h1M48 521.5h1M55 521.5h1M66 521.5h1M92 521.5h1M42 524.5h1M68 524.5h1M73 524.5h1M110 524.5h1M16 532.5h1M22 532.5h1M37 532.5h2M61 532.5h1M76 532.5h1M79 532.5h1M82 532.5h1M88 532.5h1M90 532.5h2M108 532.5h1M113 532.5h1M23 544.5h1M33 544.5h1M40 544.5h1M58 544.5h1M69 544.5h1M90 544.5h1M26 561.5h1M30 561.5h1M37 561.5h1M72 561.5h1M82 561.5h2M87 561.5h1M89 561.5h1M20 574.5h1M30 574.5h1M86 574.5h1M114 574.5h1M18 577.5h1M20 577.5h1M24 577.5h1M47 577.5h1M57 577.5h1M60 577.5h1M69 577.5h1M72 577.5h1M94 577.5h1M110 577.5h1M114 577.5h1M16 595.5h1M20 595.5h1M40 595.5h1M48 595.5h1M91 595.5h1M105 595.5h1M117 595.5h1M5 606.5h1M10 606.5h2M13 606.5h2M24 606.5h1M32 606.5h1M95 606.5h1M105 606.5h2M0 612.5h2M3 617.5h1M97 617.5h2M103 617.5h1M112 617.5h1M115 617.5h1M1 626.5h1M3 626.5h1M95 626.5h1M105 626.5h1M6 642.5h1M8 642.5h1M10 642.5h1M95 642.5h1M109 642.5h2M7 645.5h1M91 645.5h1M99 645.5h1M106 645.5h1M119 645.5h1M1 648.5h1M19 648.5h1M104 648.5h1M113 648.5h1M115 648.5h2M0 664.5h1M18 664.5h1M93 664.5h1M5 676.5h1M88 676.5h1M118 676.5h1M2 681.5h2M98 681.5h1M100 681.5h1M115 681.5h1M9 684.5h1M20 684.5h1M87 684.5h1M101 684.5h1M85 693.5h1M101 693.5h1M103 693.5h1M109 693.5h1M112 693.5h1M14 698.5h1M18 698.5h1M106 698.5h1M112 698.5h1M10 703.5h1M15 703.5h1M109 703.5h3M113 703.5h1M115 703.5h1M3 719.5h1M98 719.5h1M105 719.5h1M4 722.5h1M7 722.5h1M13 722.5h1M20 722.5h1M89 722.5h1M103 722.5h1M111 722.5h1M114 722.5h1M1 728.5h1M12 728.5h1M18 728.5h1M89 728.5h1M96 728.5h2M103 728.5h1M114 728.5h1M19 737.5h1M84 737.5h2M114 737.5h1M7 743.5h1M13 743.5h1M18 743.5h1M6 748.5h1M59 748.5h1M62 748.5h1M77 748.5h1M0 761.5h1M23 761.5h1M3 764.5h1M17 764.5h1M9 767.5h1M11 767.5h1M19 767.5h1M30 767.5h1M29 770.5h1"/>
<path stroke="#0800fc" stroke-width="4" d="M16 204h1M44 204h1M57 321h1M19 337h1M30 337h1M52 337h1M69 337h1M4 346h1M10 346h1M29 346h1M32 346h1M36 346h1M65 346h1M3 369h1M8 369h2M17 369h1M32 369h1M65 369h1M71 369h1M78 369h1M11 377h1M62 377h1M107 377h1M112 377h1M116 377h1M118 377h1M1 384h2M77 384h1M110 384h1M113 384h1M0 413h1M6 413h1M81 413h1M105 413h1M76 417h1M81 417h1M89 417h1M103 417h1M112 417h1M0 426h1M6 426h1M83 426h1M118 426h1M3 430h1M7 430h1M9 430h1M87 430h1M105 430h1M118 430h1M6 461h1M64 461h1M89 461h1M19 503h1M49 503h1M80 503h1M18 528h1M24 528h1M63 528h1M75 528h1M88 528h1M108 528h1M118 528h1M17 551h1M30 551h1M51 551h1M57 551h2M62 551h1M69 551h1M80 551h1M87 551h1M113 551h1M31 555h1M41 555h1M52 555h1M65 555h1M73 555h1M94 555h1M16 570h2M21 570h1M56 570h1M67 570h1M78 570h1M86 570h1M101 570h1M119 570h1M19 582h1M25 582h1M34 582h1M40 582h1M72 582h1M82 582h2M94 582h1M111 582h1M38 586h1M74 586h1M95 586h1M102 586h1M113 586h1M117 586h1M25 592h1M71 592h1M82 592h2M86 592h1M89 592h1M92 592h1M94 592h1M101 592h1M111 592h1M53 599h1M75 599h1M83 599h1M86 599h1M105 599h1M14 603h2M23 603h1M38 603h1M90 603h1M101 603h1M119 603h1M5 621h1M21 621h1M89 621h1M101 621h1M104 621h1M0 635h1M2 635h1M11 635h1M19 635h1M9 639h1M19 639h1M103 639h1M105 639h1M108 639h2M12 655h1M25 655h1M106 655h1M109 655h1M90 669h1M116 669h2M15 673h1M85 673h1M104 673h1M113 673h1M111 708h1M115 708h1M96 715h1M105 715h1M0 734h1M2 734h1M6 734h1M8 734h1M15 734h1M18 734h1M78 734h1M86 734h1M102 734h1M116 734h1M18 752h1M20 752h1M59 752h1M61 752h1M71 752h1M10 758h1M50 758h1M7 774h1M13 774h1M23 774h1M25 774h1M29 774h1M32 774h1M30 778h1M33 778h2"/>
<path stroke="#050ffd" stroke-width="1" d="M21 318.5h1M24 327.5h1M41 327.5h1M53 327.5h1M5 330.5h1M0 331.5h1M4 331.5h1M16 331.5h1M51 331.5h1M4 371.5h1M69 371.5h1M104 371.5h1M71 372.5h1M82 372.5h1M87 395.5h1M105 395.5h1M108 395.5h1M3 405.5h1M72 405.5h1M79 405.5h1M87 405.5h1M106 405.5h1M2 438.5h1M7 438.5h1M109 438.5h1M2 444.5h2M5 444.5h2M70 444.5h1M72 444.5h1M88 444.5h1M103 444.5h1M117 444.5h1M8 474.5h1M15 474.5h1M26 474.5h1M75 474.5h1M82 474.5h1M84 474.5h1M6 475.5h1M20 475.5h1M75 475.5h1M78 475.5h1M112 475.5h1M117 475.5h1M15 488.5h1M25 488.5h1M36 488.5h1M45 488.5h1M74 488.5h1M84 488.5h1M87 488.5h2M90 488.5h2M107 488.5h1M22 530.5h1M66 530.5h1M93 530.5h1M118 530.5h1M22 540.5h1M39 540.5h1M41 540.5h1M53 540.5h1M70 540.5h1M83 540.5h1M88 540.5h1M90 540.5h1M114 540.5h2M17 546.5h1M23 546.5h1M29 546.5h1M35 546.5h1M52 546.5h1M76 559.5h1M117 559.5h1M5 563.5h1M20 563.5h1M27 563.5h1M79 563.5h2M88 563.5h1M119 563.5h1M71 572.5h1M93 572.5h1M117 572.5h1M6 579.5h1M12 579.5h1M51 579.5h1M65 579.5h1M67 579.5h1M108 579.5h1M7 610.5h1M9 610.5h1M16 610.5h1M111 610.5h1M4 628.5h2M94 628.5h1M97 628.5h1M118 628.5h1M1 650.5h2M8 650.5h1M10 650.5h1M99 650.5h1M115 650.5h1M117 650.5h1M5 666.5h1M101 666.5h1M106 666.5h1M110 666.5h1M1 695.5h1M3 695.5h1M7 695.5h1M96 695.5h1M103 695.5h1M110 695.5h1M1 696.5h1M4 696.5h1M6 696.5h1M93 696.5h1M105 696.5h2M8 705.5h2M11 705.5h2M90 705.5h1M117 705.5h1M10 710.5h1M12 710.5h1M0 717.5h1M9 717.5h1M20 717.5h1M105 717.5h1M0 726.5h1M2 726.5h1M45 726.5h1M94 726.5h1M100 726.5h1M103 726.5h1M105 726.5h1M0 741.5h1M13 741.5h1M71 741.5h3M16 780.5h1M21 780.5h1M24 780.5h1M33 780.5h2M38 780.5h1M16 781.5h1M24 781.5h1"/>
<path stroke="#050ffd" stroke-width="2" d="M17 201h1M22 201h1M32 201h1M71 201h1M77 201h1M17 305h1M18 311h1M10 329h1M20 329h1M39 329h1M4 340h1M34 340h1M37 340h1M47 340h1M11 355h1M16 355h1M18 355h1M37 355h1M55 355h1M60 355h2M67 355h1M71 355h1M9 360h1M20 360h1M43 360h2M49 360h2M58 360h1M60 360h1M69 360h1M4 362h1M12 362h1M14 362h2M19 362h1M24 362h1M4 364h1M8 364h1M10 364h1M13 364h1M18 364h1M30 364h1M71 364h1M111 364h1M114 364h1M11 366h1M107 366h1M2 374h1M9 374h2M18 374h1M73 374h1M112 374h1M116 374h1M2 387h1M4 387h1M7 387h1M84 387h1M105 387h1M7 392h1M84 394h1M111 394h2M117 394h1M2 410h1M82 410h1M89 410h1M107 410h1M76 420h1M80 420h1M102 420h1M0 443h1M2 443h1M4 443h1M17 443h1M80 443h1M83 443h1M85 443h1M2 446h1M4 446h1M7 446h1M14 446h1M85 446h1M108 446h1M113 446h1M118 446h1M1 467h1M5 467h1M18 467h1M77 467h1M81 467h1M86 467h1M119 467h1M10 480h1M23 480h1M45 480h1M86 480h1M89 480h1M91 480h1M106 480h1M108 480h1M15 485h1M37 485h1M48 485h1M62 485h1M77 485h1M79 485h1M86 485h1M107 485h1M114 485h2M4 487h1M38 487h1M46 487h1M50 487h1M59 487h1M66 487h1M80 487h1M87 487h2M91 487h1M107 487h1M113 487h1M119 487h1M65 490h1M78 490h1M117 490h1M2 495h1M8 495h1M11 495h1M13 495h2M27 495h1M64 495h1M78 495h1M80 495h1M113 495h1M12 497h3M70 497h1M80 497h1M82 497h1M86 497h1M91 497h1M109 497h1M11 506h1M21 506h1M44 506h1M73 506h1M88 506h1M34 511h1M62 511h1M74 511h1M80 511h1M111 511h1M118 511h1M9 516h1M23 516h1M26 516h1M28 516h1M33 516h1M45 516h1M62 516h1M69 516h1M73 516h2M77 516h1M81 516h1M84 516h1M88 516h1M36 535h1M55 535h1M77 535h1M92 535h1M8 537h1M16 537h1M33 537h1M36 537h1M110 537h1M114 537h1M117 537h1M46 539h1M63 539h1M83 539h1M88 539h1M109 539h2M117 539h1M36 542h1M48 542h1M67 542h1M83 542h1M89 542h1M112 542h2M22 548h1M76 548h1M82 548h1M87 548h1M90 548h1M109 548h1M112 548h1M114 548h1M117 548h1M18 558h1M22 558h1M59 558h1M113 558h1M115 558h1M118 558h1M13 565h1M23 565h1M42 565h1M58 565h1M60 565h1M88 565h1M90 565h1M112 565h1M29 567h1M45 567h1M57 567h1M86 567h1M89 567h1M91 567h1M8 589h1M12 589h1M65 589h1M72 589h1M93 589h1M105 589h1M108 589h1M6 609h1M10 609h1M93 609h1M113 609h1M5 615h1M10 615h1M12 615h1M7 624h1M5 630h1M9 630h2M100 630h1M108 630h1M114 630h1M111 632h1M113 632h1M4 652h2M10 652h1M5 658h1M1 660h1M9 660h1M104 660h1M7 662h1M97 662h1M15 687h1M93 687h1M106 687h1M1 689h1M7 689h2M106 689h1M111 689h1M93 691h2M9 701h1M15 701h1M102 701h1M103 712h1M108 712h1M115 712h1M2 725h1M108 725h1M5 731h1M107 731h1M8 740h1M10 740h1M10 746h2M70 746h1M3 755h1M14 755h1M21 755h1M54 755h2"/>
<path stroke="#050ffd" stroke-width="3" d="M11 324.5h1M2 333.5h1M9 333.5h1M35 333.5h1M38 333.5h1M3 342.5h1M10 342.5h2M22 342.5h1M25 342.5h1M39 342.5h1M48 342.5h1M52 342.5h1M65 342.5h1M2 349.5h1M15 349.5h1M17 349.5h1M34 349.5h1M36 349.5h1M42 349.5h1M48 349.5h1M54 349.5h1M7 352.5h1M10 352.5h1M16 352.5h1M31 352.5h1M41 352.5h1M49 352.5h1M16 357.5h1M41 357.5h1M45 357.5h1M49 357.5h1M53 357.5h3M14 380.5h1M0 389.5h1M81 389.5h1M102 389.5h1M103 397.5h1M119 397.5h1M8 400.5h2M85 400.5h1M109 400.5h1M115 400.5h1M118 400.5h2M86 403.5h1M103 403.5h1M113 403.5h1M117 403.5h1M4 407.5h1M14 407.5h1M88 407.5h1M115 407.5h1M118 407.5h1M2 422.5h1M4 422.5h1M108 422.5h1M109 433.5h1M115 433.5h1M2 436.5h1M6 436.5h2M78 436.5h1M88 436.5h1M86 440.5h1M103 440.5h1M114 440.5h1M9 448.5h1M103 448.5h2M106 448.5h1M110 448.5h2M116 448.5h1M20 451.5h1M89 451.5h1M113 451.5h1M117 451.5h1M3 454.5h1M11 454.5h1M17 454.5h1M24 454.5h1M73 454.5h1M118 454.5h1M31 457.5h1M65 457.5h1M84 457.5h1M108 457.5h1M111 457.5h2M116 457.5h1M4 464.5h2M8 464.5h1M12 464.5h1M35 464.5h1M83 464.5h1M119 464.5h1M8 469.5h1M21 469.5h1M25 469.5h1M65 469.5h1M106 469.5h1M108 469.5h1M110 469.5h1M113 469.5h1M117 469.5h1M0 472.5h1M2 472.5h1M14 472.5h1M75 472.5h1M83 472.5h1M85 472.5h1M91 472.5h1M112 472.5h1M36 477.5h1M78 477.5h1M89 477.5h2M116 477.5h2M16 482.5h1M49 482.5h1M59 482.5h1M63 482.5h2M68 482.5h1M75 482.5h1M84 482.5h1M86 482.5h1M6 492.5h1M11 492.5h1M13 492.5h1M67 492.5h1M71 492.5h1M115 492.5h1M15 499.5h1M39 499.5h1M47 499.5h1M73 499.5h1M75 499.5h1M79 499.5h1M91 499.5h1M114 499.5h1M116 499.5h1M119 499.5h1M69 508.5h1M79 508.5h1M90 508.5h1M4 513.5h1M17 513.5h1M42 513.5h1M57 513.5h1M59 513.5h1M78 513.5h1M82 513.5h1M118 513.5h2M19 518.5h2M36 518.5h1M41 518.5h1M45 518.5h1M52 518.5h1M72 518.5h1M74 518.5h1M80 518.5h2M26 521.5h1M32 521.5h1M57 521.5h1M80 521.5h1M16 524.5h2M48 524.5h1M58 524.5h1M83 524.5h1M92 524.5h1M115 524.5h1M13 532.5h1M20 532.5h1M26 532.5h2M41 532.5h1M63 532.5h1M75 532.5h1M110 532.5h2M114 532.5h1M8 544.5h1M15 544.5h2M24 544.5h1M46 544.5h1M55 544.5h1M65 544.5h1M73 544.5h2M112 544.5h1M117 544.5h1M16 561.5h2M25 561.5h1M97 561.5h1M117 561.5h2M8 574.5h1M25 574.5h1M83 574.5h1M115 574.5h2M7 577.5h1M16 577.5h1M19 577.5h1M42 577.5h1M51 577.5h1M78 577.5h1M81 577.5h1M89 577.5h1M96 577.5h1M113 577.5h1M116 577.5h2M13 595.5h1M18 595.5h1M35 595.5h1M94 595.5h1M96 595.5h1M112 595.5h1M116 595.5h1M119 595.5h1M4 606.5h1M84 606.5h1M93 606.5h1M119 606.5h1M6 612.5h1M98 612.5h1M101 612.5h1M5 617.5h1M101 617.5h1M8 626.5h1M94 626.5h1M101 626.5h1M108 626.5h1M87 642.5h1M101 642.5h1M3 645.5h1M104 645.5h1M3 648.5h2M6 648.5h1M16 648.5h1M90 648.5h1M105 648.5h1M114 648.5h1M2 664.5h1M11 664.5h1M90 664.5h1M100 664.5h1M0 676.5h1M14 676.5h1M97 676.5h1M104 676.5h1M7 681.5h1M11 681.5h1M13 681.5h1M4 684.5h1M14 684.5h2M25 684.5h1M112 684.5h1M0 693.5h1M9 693.5h1M90 693.5h1M93 693.5h1M105 693.5h1M2 698.5h1M6 698.5h1M20 698.5h1M92 698.5h1M4 703.5h1M6 703.5h1M8 703.5h1M87 703.5h1M101 703.5h1M106 703.5h1M1 719.5h1M8 719.5h1M92 719.5h1M109 719.5h1M111 719.5h1M6 722.5h1M18 722.5h1M90 728.5h1M98 728.5h1M102 728.5h1M105 728.5h2M17 737.5h1M86 737.5h1M4 743.5h1M9 743.5h1M79 743.5h1M117 743.5h1M15 748.5h1M63 748.5h1M72 748.5h1M46 761.5h1M52 761.5h1M8 764.5h1M16 764.5h1M24 764.5h1M46 764.5h1M13 767.5h1M23 767.5h1M20 770.5h1"/>
<path stroke="#050ffd" stroke-width="4" d="M2 204h1M35 204h1M33 308h1M31 321h1M49 321h1M10 337h1M16 337h1M37 337h1M45 337h1M60 337h1M12 346h1M21 346h1M37 346h1M46 346h1M49 346h1M1 369h1M6 369h1M21 369h1M61 369h1M70 369h1M73 369h1M105 369h1M108 369h1M114 369h2M117 369h1M84 377h1M7 384h1M10 384h1M85 384h1M115 384h1M104 413h1M110 413h1M4 417h2M102 417h1M2 430h1M4 430h1M70 430h1M77 430h1M88 430h2M113 430h1M119 430h1M4 461h1M8 461h2M12 461h1M84 461h2M91 461h1M113 461h1M9 503h1M22 503h1M24 503h1M33 503h1M46 503h1M59 503h1M74 503h1M79 503h1M81 503h1M85 503h2M111 503h1M116 503h1M21 528h1M33 528h1M54 528h1M80 528h2M84 528h2M87 528h1M91 528h2M109 528h1M114 528h1M54 551h1M94 551h1M15 555h1M32 555h1M58 555h1M74 555h2M82 555h1M112 555h1M117 555h1M119 555h1M31 570h1M43 570h1M64 570h2M79 570h1M85 570h1M113 570h1M115 570h1M118 570h1M27 582h1M55 582h1M70 582h1M91 582h1M100 582h1M105 582h1M110 582h1M13 586h1M43 586h1M59 586h1M79 586h1M84 586h1M103 586h1M111 586h1M19 592h1M46 592h1M49 592h1M74 592h1M88 592h1M34 599h1M39 599h1M49 599h1M76 599h1M98 599h1M115 599h1M5 603h1M7 603h3M12 603h1M89 603h1M97 603h1M99 603h1M95 621h1M107 621h1M118 621h1M106 635h1M8 639h1M18 639h1M100 639h1M9 655h1M15 655h1M11 669h1M18 669h1M95 669h1M105 669h1M112 669h1M6 673h1M10 673h1M17 673h1M92 673h1M99 673h1M111 673h1M116 673h1M89 708h1M103 708h1M106 708h2M1 715h2M86 715h1M88 715h1M104 715h1M5 734h1M9 734h2M81 734h1M101 734h1M112 734h1M117 734h1M14 752h1M19 752h1M7 758h1M13 758h1M17 758h1M22 758h1M16 774h1M18 774h1M13 778h1M16 778h1M27 778h1"/>
<path stroke="#021dfe" stroke-width="1" d="M19 318.5h1M56 318.5h1M8 326.5h1M32 326.5h2M41 326.5h2M50 326.5h1M20 327.5h1M22 327.5h1M0 330.5h1M13 330.5h2M34 330.5h1M40 330.5h1M46 330.5h1M34 331.5h1M62 331.5h1M76 371.5h1M78 371.5h1M111 371.5h1M117 371.5h1M2 372.5h1M4 372.5h1M81 372.5h1M1 395.5h1M49 395.5h1M119 438.5h1M9 444.5h1M89 444.5h1M111 444.5h1M20 474.5h1M56 474.5h1M58 474.5h2M74 474.5h1M109 474.5h1M117 474.5h1M3 475.5h1M7 475.5h1M11 475.5h1M31 475.5h1M73 475.5h1M77 475.5h1M88 475.5h1M109 475.5h1M118 475.5h2M10 488.5h1M65 488.5h1M79 488.5h2M21 530.5h1M27 530.5h1M31 530.5h1M34 530.5h1M53 530.5h1M84 530.5h1M88 530.5h1M13 540.5h2M21 540.5h1M76 540.5h2M81 540.5h1M92 540.5h1M19 546.5h1M22 546.5h1M111 546.5h1M72 559.5h1M82 559.5h1M87 559.5h1M90 559.5h1M92 559.5h2M28 563.5h1M62 563.5h1M64 563.5h1M85 563.5h1M87 563.5h1M91 563.5h1M24 572.5h1M73 572.5h1M79 572.5h1M84 572.5h1M16 579.5h1M78 579.5h1M80 579.5h1M93 579.5h1M95 579.5h1M97 579.5h1M102 579.5h1M114 579.5h1M116 579.5h1M119 579.5h1M0 610.5h1M3 610.5h1M11 610.5h1M93 610.5h1M1 628.5h1M112 628.5h1M5 650.5h1M9 650.5h1M104 650.5h1M113 650.5h1M4 666.5h1M16 666.5h2M116 666.5h1M97 695.5h1M101 695.5h1M112 695.5h1M10 696.5h1M104 696.5h1M111 696.5h1M114 696.5h1M4 705.5h1M111 705.5h1M0 710.5h2M5 710.5h1M9 710.5h1M118 710.5h1M2 717.5h2M88 717.5h1M100 717.5h1M111 717.5h1M4 726.5h1M30 726.5h1M98 726.5h1M112 726.5h1M118 726.5h1M4 741.5h1M6 741.5h2M100 741.5h1M23 780.5h1M25 780.5h1M22 781.5h1M31 781.5h1M34 781.5h2"/>
<path stroke="#021dfe" stroke-width="2" d="M72 201h1M84 201h1M1 305h1M1 311h1M30 311h1M14 313h1M42 313h1M0 329h1M7 329h1M18 329h1M37 329h1M62 329h1M6 340h1M38 340h1M44 340h1M60 340h1M0 355h1M4 355h2M15 355h1M17 355h1M22 355h1M26 355h1M36 355h1M40 355h1M43 355h1M56 355h1M62 355h1M1 360h1M4 360h1M15 360h1M59 360h1M67 360h1M3 362h1M44 362h1M53 362h1M61 362h1M63 362h1M69 362h1M5 364h1M21 364h1M56 364h1M62 364h1M65 364h1M78 364h2M115 364h1M4 366h1M16 366h1M62 366h1M110 366h1M76 374h1M80 374h2M84 374h1M86 374h1M102 374h1M78 387h1M83 387h1M87 387h2M116 387h1M104 392h1M117 392h1M5 394h1M82 394h1M104 394h1M119 394h1M0 410h1M84 410h1M88 410h1M102 410h1M104 410h1M111 410h1M119 410h1M3 420h1M79 420h1M89 420h1M106 420h1M119 420h1M6 446h1M21 446h1M105 446h1M3 467h1M11 467h2M69 467h1M75 467h1M108 467h1M4 480h1M11 480h2M77 480h1M79 480h1M87 480h1M110 480h1M118 480h1M7 485h1M16 485h1M38 485h1M91 485h1M112 485h1M8 487h1M19 487h1M108 487h1M115 487h1M9 490h1M24 490h1M30 490h1M32 490h1M82 490h1M86 490h1M88 490h1M17 495h1M48 495h1M76 495h1M85 495h1M11 497h1M16 497h1M23 497h1M51 497h1M85 497h1M88 497h1M90 497h1M110 497h1M115 497h1M10 506h1M34 506h2M56 506h2M109 506h1M117 506h1M25 511h1M33 511h1M55 511h1M73 511h1M77 511h2M82 511h1M108 511h1M115 511h1M11 516h1M13 516h1M16 516h1M42 516h1M60 516h1M80 516h1M113 516h1M116 516h1M118 516h1M113 535h1M57 537h1M83 537h1M116 537h1M118 537h1M2 539h1M17 539h1M19 539h1M23 539h1M75 539h1M87 539h1M91 539h1M16 542h1M19 542h1M69 542h1M93 542h1M9 548h1M12 548h1M24 548h1M63 548h1M93 548h1M116 548h1M11 558h1M15 558h1M23 558h1M66 558h1M91 558h1M112 558h1M49 565h1M67 565h1M107 565h1M116 565h1M73 567h1M88 567h1M116 567h1M11 589h1M18 589h1M111 589h1M113 589h3M2 609h2M9 609h1M11 609h1M101 609h1M104 609h1M111 609h1M115 609h1M1 615h1M6 615h1M87 615h1M111 615h1M2 624h1M6 624h1M11 624h1M17 624h1M105 624h1M1 630h1M11 630h2M95 630h1M1 632h1M7 632h1M115 632h1M117 632h2M0 652h1M6 652h1M9 652h1M1 658h1M4 660h1M102 660h1M115 660h1M2 662h1M6 662h1M9 662h1M98 662h1M1 679h1M7 679h1M2 687h1M4 687h1M6 687h1M105 687h1M111 687h1M119 687h1M5 689h1M5 691h1M13 691h1M19 691h1M106 691h1M6 701h2M90 701h1M113 701h1M2 712h2M14 712h1M110 712h1M95 725h1M1 731h1M90 731h3M94 731h1M112 731h1M14 740h1M19 740h1M80 740h1M84 740h1M114 740h1M7 746h1M69 746h1M72 746h1M78 746h1M16 755h1M24 755h1M28 755h1M50 755h1M59 755h1"/>
<path stroke="#021dfe" stroke-width="3" d="M13 207.5h1M7 283.5h1M41 299.5h1M8 324.5h1M18 324.5h2M39 324.5h1M50 324.5h1M61 324.5h1M25 333.5h1M28 333.5h1M39 333.5h1M57 333.5h1M7 342.5h2M12 342.5h1M26 342.5h1M29 342.5h1M35 342.5h1M6 349.5h1M14 349.5h1M16 349.5h1M18 349.5h1M20 349.5h1M39 349.5h2M47 349.5h1M52 349.5h1M61 349.5h1M65 349.5h1M73 349.5h1M8 352.5h1M20 352.5h1M27 352.5h1M36 352.5h1M57 352.5h1M3 357.5h1M14 357.5h1M18 357.5h1M22 357.5h1M39 357.5h1M44 357.5h1M58 357.5h1M61 357.5h1M68 357.5h1M0 380.5h1M2 380.5h1M5 380.5h1M71 380.5h1M87 380.5h1M117 380.5h1M109 389.5h1M118 389.5h2M71 397.5h1M109 397.5h1M118 397.5h1M1 400.5h2M1 403.5h1M89 403.5h1M119 403.5h1M11 407.5h1M58 407.5h1M85 407.5h1M5 422.5h1M7 422.5h1M104 422.5h1M106 422.5h1M4 433.5h1M79 433.5h1M0 436.5h1M115 436.5h1M118 436.5h1M5 440.5h1M83 440.5h1M88 440.5h1M119 440.5h1M8 448.5h1M4 451.5h1M6 451.5h1M9 451.5h1M72 451.5h1M76 451.5h1M88 451.5h1M114 451.5h1M0 454.5h1M7 454.5h1M67 454.5h1M79 454.5h1M85 454.5h1M88 454.5h1M109 454.5h1M14 457.5h1M80 457.5h1M105 457.5h1M113 457.5h1M38 464.5h1M76 464.5h1M79 464.5h1M115 464.5h2M118 464.5h1M3 469.5h1M11 469.5h1M17 469.5h1M19 469.5h1M23 469.5h1M76 469.5h1M89 469.5h1M112 469.5h1M18 472.5h1M78 472.5h1M84 472.5h1M108 472.5h1M63 477.5h1M108 477.5h1M118 477.5h1M5 482.5h1M7 482.5h1M11 482.5h1M81 482.5h1M91 482.5h1M106 482.5h1M110 482.5h2M114 482.5h1M116 482.5h1M118 482.5h1M16 492.5h1M21 492.5h1M76 492.5h2M86 492.5h1M91 492.5h1M108 492.5h1M111 492.5h1M114 492.5h1M4 499.5h1M11 499.5h1M22 499.5h1M30 499.5h1M35 499.5h1M72 499.5h1M77 499.5h1M28 508.5h1M68 508.5h1M72 508.5h1M89 508.5h1M109 508.5h1M118 508.5h1M13 513.5h1M34 513.5h1M47 513.5h1M76 513.5h1M83 513.5h1M108 513.5h1M114 513.5h1M15 518.5h1M58 518.5h1M66 518.5h1M78 518.5h1M83 518.5h1M87 518.5h1M113 518.5h1M115 518.5h2M16 521.5h1M18 521.5h1M22 521.5h1M33 521.5h1M39 521.5h2M42 521.5h1M64 521.5h1M79 521.5h1M15 524.5h1M46 524.5h1M75 524.5h1M80 524.5h3M108 524.5h1M114 524.5h1M118 524.5h1M35 532.5h1M72 532.5h1M80 532.5h1M115 532.5h1M118 532.5h1M25 544.5h1M63 544.5h1M67 544.5h1M87 544.5h1M91 544.5h1M114 544.5h1M24 561.5h1M43 561.5h1M51 561.5h1M77 561.5h1M113 561.5h1M12 574.5h1M26 574.5h1M28 574.5h1M91 574.5h2M100 574.5h1M113 574.5h1M4 577.5h1M9 577.5h1M14 577.5h1M22 577.5h1M88 577.5h1M90 577.5h1M98 577.5h1M81 595.5h1M92 595.5h1M109 595.5h1M111 595.5h1M113 595.5h1M91 606.5h1M99 606.5h1M108 606.5h1M2 612.5h1M8 612.5h1M106 612.5h1M4 617.5h1M10 617.5h3M96 617.5h1M106 617.5h1M111 617.5h1M5 626.5h1M102 626.5h1M111 642.5h1M103 645.5h1M108 645.5h1M117 645.5h1M7 648.5h1M13 648.5h1M92 648.5h1M109 648.5h1M1 664.5h1M4 664.5h1M9 676.5h1M103 676.5h1M107 676.5h1M111 676.5h2M0 681.5h2M8 681.5h1M109 681.5h1M1 684.5h1M5 684.5h1M98 684.5h1M109 684.5h1M2 693.5h1M6 693.5h1M8 693.5h1M12 693.5h1M0 698.5h1M5 698.5h1M11 698.5h1M1 703.5h1M12 703.5h1M5 719.5h1M108 719.5h1M114 719.5h1M3 722.5h1M99 722.5h1M101 722.5h1M0 728.5h1M5 728.5h1M8 728.5h1M30 728.5h1M100 728.5h1M5 737.5h1M10 737.5h1M14 737.5h1M0 743.5h1M2 743.5h1M12 743.5h1M21 743.5h1M23 743.5h1M71 743.5h1M73 743.5h1M4 748.5h1M8 748.5h3M17 748.5h1M76 748.5h1M9 761.5h1M22 761.5h1M51 761.5h1M14 764.5h1M18 767.5h1M45 767.5h1M13 770.5h1M28 770.5h1M41 770.5h1"/>
<path stroke="#021dfe" stroke-width="4" d="M25 308h1M41 308h1M52 308h1M47 316h1M7 321h1M40 321h1M46 321h1M54 321h1M3 337h1M28 337h1M36 337h1M41 337h1M43 337h1M18 346h1M24 346h1M30 346h1M54 346h1M63 346h1M13 369h1M63 369h1M67 369h2M77 369h1M82 369h1M109 369h1M116 369h1M1 377h1M79 377h2M82 377h1M105 377h1M119 377h1M86 384h1M1 413h1M0 417h1M2 417h1M11 417h1M75 417h1M8 426h2M84 426h1M86 426h1M109 426h1M75 430h1M103 430h1M31 461h1M108 461h1M115 461h3M64 503h1M68 503h1M70 503h1M83 503h2M93 503h1M115 503h1M117 503h1M119 503h1M29 528h1M47 528h1M72 528h1M86 528h1M110 528h1M119 528h1M18 551h1M20 551h1M47 551h1M60 551h1M78 551h1M92 551h1M116 551h1M118 551h1M21 555h1M23 555h1M80 555h1M83 555h1M88 555h1M92 555h2M111 555h1M75 570h1M89 570h1M100 570h1M15 582h2M20 582h1M54 582h1M76 582h1M102 582h1M112 582h1M8 586h1M68 586h1M91 586h1M112 586h1M7 592h1M15 592h1M17 592h1M69 592h1M77 592h1M84 592h1M100 592h1M7 599h1M9 599h1M17 599h1M73 599h1M106 599h2M109 599h1M2 603h1M11 603h1M17 621h1M111 621h1M1 635h1M6 635h1M9 635h1M116 635h1M101 639h1M106 639h1M116 639h1M2 655h1M10 655h1M93 655h2M5 669h1M8 669h1M12 669h1M103 669h1M3 673h1M5 673h1M12 673h1M16 673h1M101 673h1M110 708h1M4 715h1M10 715h1M14 734h1M99 734h1M17 752h1M58 752h1M62 752h2M68 752h1M9 758h1M14 758h1M55 758h1M9 774h1M41 774h1M17 778h1M24 778h2"/>
<path stroke="#002cff" stroke-width="1" d="M2 318.5h1M16 318.5h1M39 318.5h1M46 318.5h1M48 318.5h1M61 318.5h1M29 326.5h1M58 326.5h1M55 327.5h1M6 330.5h1M8 330.5h1M15 330.5h1M28 330.5h1M31 330.5h1M42 330.5h1M44 330.5h1M52 330.5h1M72 330.5h1M2 331.5h2M7 331.5h1M13 331.5h1M18 331.5h1M21 331.5h1M27 331.5h1M31 331.5h1M33 331.5h1M35 331.5h1M47 331.5h1M49 331.5h1M63 331.5h1M1 371.5h1M5 371.5h2M15 371.5h1M74 371.5h1M79 371.5h1M116 371.5h1M1 372.5h1M8 372.5h1M79 372.5h1M103 372.5h1M4 395.5h1M9 395.5h1M89 395.5h1M103 395.5h1M1 405.5h1M5 438.5h1M84 438.5h1M86 438.5h1M87 444.5h1M79 474.5h1M86 474.5h1M89 474.5h1M112 474.5h1M114 474.5h1M2 475.5h1M23 475.5h1M85 475.5h1M113 475.5h1M7 488.5h1M34 488.5h1M11 530.5h1M74 530.5h2M79 530.5h1M85 530.5h1M87 530.5h1M91 530.5h2M9 540.5h1M18 540.5h1M29 540.5h1M116 540.5h1M118 540.5h1M92 546.5h1M10 559.5h1M15 559.5h1M24 559.5h1M94 559.5h1M6 563.5h1M8 563.5h1M16 563.5h1M19 563.5h1M72 563.5h1M76 563.5h1M82 563.5h1M93 563.5h1M110 563.5h1M115 563.5h1M8 572.5h1M10 572.5h1M12 572.5h1M14 572.5h1M38 572.5h1M90 572.5h2M10 579.5h2M14 579.5h1M18 579.5h1M24 579.5h1M87 579.5h1M94 579.5h1M99 579.5h1M104 579.5h1M110 579.5h1M12 610.5h1M119 610.5h1M6 628.5h1M108 628.5h1M3 650.5h1M19 650.5h1M3 666.5h1M10 666.5h1M109 695.5h1M95 696.5h1M115 696.5h1M1 705.5h1M6 705.5h1M10 705.5h1M4 710.5h1M92 710.5h1M4 717.5h1M11 717.5h1M112 717.5h1M10 726.5h1M3 741.5h1M5 741.5h1M9 741.5h1M11 741.5h1M16 741.5h1M18 741.5h1M23 741.5h1M83 741.5h1M29 780.5h1M17 781.5h2M21 781.5h1M33 781.5h1"/>
<path stroke="#002cff" stroke-width="2" d="M20 201h1M64 305h1M60 311h1M28 313h2M32 313h1M3 329h1M30 329h1M8 340h1M25 340h1M27 340h1M52 340h1M57 340h1M68 340h1M12 355h1M21 355h1M32 355h1M45 355h1M7 360h2M10 360h1M12 360h1M16 360h1M24 360h1M28 360h2M65 360h1M68 360h1M80 360h1M9 362h1M39 362h1M1 364h2M6 364h1M9 364h1M17 364h1M110 364h1M0 366h2M7 366h1M27 366h1M71 366h2M103 366h1M119 366h1M4 374h1M77 374h1M82 374h1M103 374h1M109 374h1M118 374h1M0 387h2M109 387h1M114 387h1M71 392h1M3 394h1M85 394h1M118 394h1M5 410h2M117 410h2M103 420h1M116 420h1M113 443h1M119 443h1M19 446h1M103 446h1M116 446h2M8 467h1M37 467h1M42 467h1M82 467h1M15 480h1M26 480h1M8 485h1M12 485h1M109 485h2M118 485h1M6 487h1M18 487h1M23 487h1M25 487h1M47 487h1M62 487h1M83 487h1M85 487h2M90 487h1M106 487h1M109 487h1M7 490h1M14 490h1M16 490h1M19 490h1M22 490h1M36 490h1M46 490h1M76 490h1M80 490h1M114 490h2M3 495h1M72 495h1M84 495h1M90 495h1M106 495h1M108 495h1M112 495h1M115 495h1M119 495h1M6 497h1M57 497h1M83 497h1M118 497h2M13 506h1M20 506h1M77 506h1M110 506h1M10 511h1M26 511h1M71 511h1M83 511h2M116 511h1M1 516h1M53 516h1M92 516h1M18 535h1M74 535h1M82 535h1M93 535h1M114 535h1M13 537h1M74 537h1M85 537h1M21 539h1M32 542h1M46 542h1M86 542h1M119 542h1M15 548h3M75 548h1M81 548h1M85 548h1M89 548h1M91 548h1M44 558h1M46 558h1M54 558h1M82 558h2M85 558h1M94 558h1M117 558h1M0 565h1M64 565h1M75 565h2M101 565h1M15 567h1M42 567h1M76 567h1M78 567h1M99 567h1M13 589h1M15 589h1M83 589h1M110 589h1M119 589h1M14 609h1M110 609h1M0 615h1M4 615h1M8 624h1M113 624h1M6 630h1M4 632h1M6 632h1M97 632h1M109 632h1M8 652h1M21 652h1M106 660h1M116 660h1M1 662h1M101 662h1M12 679h1M91 679h1M114 679h1M0 687h1M11 687h1M4 689h1M9 691h1M11 701h1M107 701h1M11 712h1M3 725h1M6 725h1M8 725h1M116 725h1M0 731h1M8 731h1M96 731h1M102 731h1M0 740h1M6 740h1M82 740h1M100 740h1M1 746h1M13 746h2M10 755h1M15 755h1M57 755h1M68 755h1"/>
<path stroke="#002cff" stroke-width="3" d="M11 207.5h1M31 293.5h1M23 296.5h1M1 299.5h1M10 299.5h1M18 299.5h1M13 302.5h1M39 302.5h2M27 324.5h1M34 324.5h1M5 333.5h1M12 333.5h1M19 333.5h1M21 333.5h1M24 333.5h1M33 333.5h1M42 333.5h1M53 333.5h1M56 333.5h1M62 333.5h1M69 333.5h1M17 342.5h1M19 342.5h1M31 342.5h1M36 342.5h1M41 342.5h1M53 342.5h1M61 342.5h2M3 349.5h1M11 349.5h1M19 349.5h1M22 349.5h2M26 349.5h3M37 349.5h1M55 349.5h2M25 352.5h1M52 352.5h2M59 352.5h1M61 352.5h1M74 352.5h1M5 357.5h2M12 357.5h1M19 357.5h1M25 357.5h1M51 357.5h1M60 357.5h1M63 357.5h1M79 357.5h1M83 357.5h1M13 380.5h1M62 380.5h1M84 380.5h1M88 380.5h1M2 389.5h1M7 389.5h1M87 389.5h1M107 389.5h1M83 397.5h1M115 397.5h1M106 400.5h1M0 403.5h1M102 403.5h1M82 407.5h1M89 407.5h1M86 422.5h1M0 433.5h1M6 433.5h1M88 433.5h1M4 436.5h1M117 436.5h1M0 440.5h1M75 440.5h1M78 440.5h1M112 440.5h1M10 448.5h1M89 448.5h1M113 448.5h1M119 448.5h1M8 451.5h1M78 451.5h2M90 451.5h1M104 451.5h1M4 454.5h2M58 454.5h1M116 454.5h1M3 457.5h1M79 457.5h1M82 457.5h1M117 457.5h1M9 464.5h1M24 464.5h1M78 464.5h1M107 464.5h1M75 469.5h1M82 469.5h1M91 469.5h1M3 472.5h1M9 472.5h1M22 472.5h1M41 472.5h1M82 472.5h1M109 472.5h1M111 472.5h1M7 477.5h1M13 477.5h1M72 477.5h1M75 477.5h1M85 477.5h1M110 477.5h1M113 477.5h1M15 482.5h1M78 482.5h2M88 482.5h1M7 492.5h1M10 492.5h1M54 492.5h1M82 492.5h1M1 508.5h1M6 508.5h1M24 508.5h1M83 508.5h1M112 508.5h1M75 513.5h1M77 513.5h1M92 513.5h1M117 513.5h1M10 518.5h1M12 518.5h1M90 518.5h1M109 518.5h1M118 518.5h1M17 521.5h1M72 521.5h1M75 521.5h1M89 521.5h2M107 521.5h1M89 524.5h1M11 532.5h1M15 532.5h1M23 532.5h1M34 532.5h1M43 532.5h1M77 532.5h1M83 532.5h1M119 532.5h1M19 544.5h1M32 544.5h1M61 544.5h1M76 544.5h1M79 544.5h1M84 544.5h1M113 544.5h1M11 561.5h1M14 561.5h1M20 561.5h1M110 561.5h1M116 561.5h1M1 574.5h1M10 574.5h1M22 574.5h1M55 574.5h1M72 574.5h1M76 574.5h1M81 574.5h1M94 574.5h1M98 574.5h2M102 574.5h1M117 574.5h1M3 577.5h1M8 577.5h1M61 577.5h1M109 577.5h1M115 577.5h1M5 595.5h2M8 595.5h1M10 595.5h1M67 595.5h1M82 595.5h1M90 595.5h1M97 595.5h1M99 595.5h1M2 606.5h1M87 606.5h1M117 606.5h1M12 612.5h2M94 612.5h1M111 612.5h2M2 617.5h1M2 626.5h1M13 626.5h1M91 626.5h1M97 626.5h1M20 642.5h1M0 645.5h2M6 645.5h1M12 645.5h1M0 648.5h1M2 648.5h1M93 648.5h1M8 664.5h1M115 664.5h1M7 676.5h1M90 681.5h1M113 681.5h1M0 684.5h1M3 684.5h1M12 684.5h1M105 684.5h1M10 693.5h1M8 698.5h1M86 698.5h1M99 698.5h1M118 698.5h1M7 703.5h1M100 703.5h1M103 703.5h1M4 719.5h1M0 722.5h2M31 728.5h1M88 728.5h1M108 728.5h1M101 737.5h1M118 737.5h1M3 743.5h1M10 743.5h1M75 743.5h1M80 743.5h1M115 743.5h1M1 748.5h1M11 748.5h1M19 748.5h1M67 748.5h1M69 748.5h1M74 748.5h1M1 764.5h1M13 764.5h1M15 764.5h1M12 767.5h1M17 770.5h1"/>
<path stroke="#002cff" stroke-width="4" d="M21 204h2M38 204h1M57 204h1M14 290h1M40 290h1M8 316h1M21 316h1M31 316h1M40 316h1M54 316h1M62 316h1M0 321h1M13 321h1M37 321h1M44 321h1M26 337h1M29 337h1M42 337h1M51 337h1M55 337h1M17 346h1M40 346h2M45 346h1M51 346h1M68 346h1M0 369h1M4 369h1M80 369h1M103 369h1M113 369h1M115 377h1M117 377h1M0 384h1M87 384h1M105 384h1M108 384h1M2 413h1M88 413h1M116 413h1M109 417h1M5 426h1M78 426h1M84 430h1M106 430h1M114 430h1M2 461h1M14 461h1M28 461h1M79 461h1M81 461h1M107 461h1M3 503h1M10 503h1M66 503h1M77 503h2M89 503h2M110 503h1M13 528h1M43 528h1M83 528h1M117 528h1M38 551h1M66 551h1M74 551h1M77 551h1M85 551h1M88 551h2M20 555h1M86 555h1M14 570h1M83 570h1M90 570h1M8 582h1M12 582h1M89 582h1M103 582h1M116 582h2M119 582h1M10 586h1M77 586h1M85 586h1M89 586h1M100 586h1M116 586h1M5 592h1M9 592h1M12 592h1M72 592h1M104 592h1M109 592h1M114 592h1M1 599h1M0 603h1M39 603h1M92 603h2M98 603h1M105 603h1M110 603h1M114 603h1M116 603h1M6 621h1M8 621h1M14 621h1M7 635h1M1 639h1M6 639h2M0 655h1M1 669h1M9 669h1M96 669h1M0 673h1M8 673h1M102 673h1M109 673h1M114 673h1M91 708h1M104 708h1M9 715h1M12 734h1M20 734h1M85 734h1M94 734h1M0 752h1M13 752h1M69 752h1M1 758h1M4 758h1M16 758h1M52 758h1M17 774h1M35 774h1M22 778h1M32 778h1"/>
<path stroke="#003eff" stroke-width="1" d="M5 318.5h1M17 318.5h1M20 318.5h1M29 318.5h1M31 318.5h2M57 318.5h1M1 326.5h1M5 326.5h2M14 326.5h1M23 326.5h1M31 326.5h1M35 326.5h1M37 326.5h1M43 326.5h1M14 327.5h1M16 327.5h1M34 327.5h1M40 327.5h1M42 327.5h1M60 327.5h1M102 327.5h1M10 330.5h1M26 330.5h1M33 330.5h1M59 330.5h1M63 330.5h1M11 331.5h1M30 331.5h1M32 331.5h1M43 331.5h1M52 331.5h1M54 331.5h2M75 371.5h1M82 371.5h1M85 371.5h1M103 371.5h1M110 371.5h1M118 371.5h1M3 372.5h1M11 372.5h1M69 372.5h1M102 372.5h1M112 372.5h1M116 372.5h1M0 395.5h1M6 395.5h1M86 395.5h1M7 405.5h1M102 405.5h1M115 405.5h1M117 405.5h1M104 438.5h1M0 444.5h1M4 444.5h1M2 474.5h1M9 474.5h1M63 474.5h1M78 474.5h1M118 474.5h1M12 475.5h1M79 475.5h2M90 475.5h1M92 475.5h1M5 488.5h1M12 488.5h1M66 488.5h1M82 488.5h1M111 488.5h1M119 488.5h1M14 530.5h1M86 530.5h1M74 540.5h1M85 540.5h1M91 540.5h1M93 540.5h2M119 540.5h1M8 546.5h1M10 546.5h1M18 546.5h1M21 546.5h1M46 546.5h1M67 546.5h1M84 546.5h1M87 546.5h1M89 546.5h1M0 559.5h1M12 559.5h1M16 559.5h1M80 559.5h1M83 559.5h1M88 559.5h1M95 559.5h1M15 563.5h1M41 563.5h1M114 563.5h1M95 572.5h1M3 628.5h1M8 628.5h2M99 628.5h1M110 650.5h1M116 650.5h1M119 666.5h1M92 695.5h1M102 695.5h1M109 696.5h2M112 696.5h1M5 705.5h1M13 710.5h1M110 717.5h1M101 726.5h1M104 726.5h1M1 741.5h1M8 741.5h1M81 741.5h1M84 741.5h1M117 741.5h1M0 780.5h1M17 780.5h1M22 780.5h1M26 780.5h1"/>
<path stroke="#003eff" stroke-width="2" d="M3 201h1M36 201h1M64 201h1M83 201h1M93 201h1M24 305h1M27 305h1M46 305h1M5 311h1M20 311h1M24 311h1M51 311h1M9 313h1M25 313h1M40 313h1M14 329h2M34 329h1M7 340h1M9 340h1M13 340h1M17 340h1M42 340h1M62 340h2M8 355h1M28 355h1M30 355h1M34 355h1M41 355h1M44 355h1M52 355h3M58 355h1M63 355h3M72 355h1M3 360h1M5 360h1M14 360h1M22 360h1M30 360h1M52 360h1M63 360h1M11 362h1M66 362h1M77 362h1M79 362h1M105 362h1M115 362h1M119 362h1M11 364h1M20 364h1M46 364h1M52 364h1M82 364h1M2 366h1M10 366h1M76 366h1M106 366h1M111 366h1M1 374h1M74 374h1M79 374h1M83 374h1M87 374h1M111 374h1M119 374h1M5 387h1M102 392h1M88 394h1M94 410h1M110 410h1M1 443h1M5 443h1M9 443h1M88 443h1M118 443h1M0 467h1M79 467h1M113 467h1M117 467h1M38 480h1M88 480h1M115 480h1M1 485h1M6 485h1M9 485h1M13 485h2M52 485h1M58 485h1M71 485h1M117 485h1M119 485h1M7 487h1M21 487h1M76 487h1M78 487h1M79 490h1M89 490h1M112 490h1M12 495h1M109 495h2M118 495h1M5 497h1M15 497h1M40 497h1M54 497h1M77 497h1M84 497h1M114 497h1M86 506h1M115 506h1M11 511h1M13 511h1M15 511h2M79 511h1M89 511h1M114 511h1M12 516h1M15 516h1M68 516h1M86 516h1M114 516h1M0 535h1M6 535h1M13 535h1M16 535h1M21 535h1M11 537h1M86 537h1M88 537h1M112 537h1M115 537h1M8 539h1M12 539h1M82 539h1M100 539h1M115 539h1M118 539h1M14 542h1M63 542h1M68 542h1M90 542h1M115 542h1M27 548h1M66 548h1M72 548h1M83 548h1M81 558h1M87 558h1M111 558h1M16 565h1M80 565h1M113 565h1M11 567h1M16 567h1M77 567h1M87 567h1M94 567h2M98 567h1M108 567h1M7 589h1M92 589h1M106 589h2M0 609h1M3 615h1M10 624h1M3 630h1M106 632h1M108 652h1M3 658h2M9 658h1M3 660h1M105 660h1M10 662h1M0 679h1M10 679h1M17 679h1M104 679h1M86 687h1M9 689h1M105 689h1M118 691h1M8 701h1M6 712h2M15 712h1M100 712h1M0 725h1M111 725h1M6 731h1M9 731h1M93 731h1M105 731h1M110 731h1M2 740h1M5 740h1M117 740h2M2 746h1M15 746h1M12 755h1M26 755h1M62 755h1"/>
<path stroke="#003eff" stroke-width="3" d="M3 283.5h1M6 286.5h1M0 299.5h1M36 299.5h1M43 299.5h1M51 299.5h1M5 302.5h1M28 302.5h1M30 302.5h2M5 324.5h1M17 324.5h1M25 324.5h1M28 324.5h1M36 324.5h1M49 324.5h1M51 324.5h1M58 324.5h1M1 333.5h1M18 333.5h1M30 333.5h1M32 333.5h1M45 333.5h1M49 333.5h1M64 333.5h1M13 342.5h1M16 342.5h1M23 342.5h1M32 342.5h2M38 342.5h1M47 342.5h1M56 342.5h2M59 342.5h1M25 349.5h1M46 349.5h1M62 349.5h1M1 352.5h2M4 352.5h1M15 352.5h1M19 352.5h1M23 352.5h1M32 352.5h1M55 352.5h2M58 352.5h1M65 352.5h1M70 352.5h1M7 357.5h2M17 357.5h1M29 357.5h1M65 357.5h1M105 380.5h1M118 380.5h1M79 389.5h1M103 389.5h1M5 397.5h1M7 397.5h1M88 400.5h1M5 403.5h1M84 403.5h1M104 403.5h1M2 407.5h1M83 407.5h1M87 407.5h1M114 407.5h1M0 422.5h1M89 422.5h1M85 433.5h1M105 433.5h1M110 433.5h1M81 436.5h1M105 436.5h1M111 436.5h1M87 440.5h1M118 440.5h1M91 448.5h1M2 451.5h1M83 451.5h1M106 454.5h1M5 457.5h1M73 457.5h1M70 464.5h1M117 464.5h1M5 469.5h1M7 469.5h1M1 472.5h1M16 472.5h1M37 472.5h1M48 472.5h1M88 472.5h1M117 472.5h1M3 477.5h1M112 477.5h1M119 477.5h1M9 482.5h1M119 482.5h1M42 492.5h1M78 492.5h2M81 492.5h1M85 492.5h1M116 492.5h2M119 492.5h1M7 499.5h1M12 499.5h1M28 499.5h2M83 499.5h1M92 499.5h1M112 499.5h1M11 508.5h2M17 508.5h1M77 508.5h1M81 508.5h1M107 508.5h1M115 508.5h2M119 508.5h1M5 513.5h1M15 513.5h1M55 513.5h1M62 513.5h1M70 513.5h1M113 513.5h1M51 518.5h1M71 518.5h1M76 518.5h1M84 518.5h1M108 518.5h1M110 518.5h1M119 518.5h1M113 521.5h1M116 521.5h1M23 524.5h1M70 524.5h1M9 532.5h1M30 532.5h1M46 532.5h2M109 532.5h1M112 532.5h1M116 532.5h1M17 544.5h1M39 544.5h1M56 544.5h1M68 544.5h1M88 544.5h1M92 544.5h1M10 561.5h1M78 561.5h1M92 561.5h1M102 561.5h1M2 574.5h1M4 574.5h1M7 574.5h1M13 574.5h1M118 574.5h1M0 577.5h1M12 577.5h1M15 577.5h1M17 577.5h1M86 577.5h1M95 577.5h1M102 577.5h1M108 577.5h1M112 577.5h1M9 595.5h1M85 595.5h1M98 595.5h1M76 606.5h1M92 606.5h1M7 612.5h1M9 612.5h1M0 617.5h1M114 617.5h1M0 626.5h1M12 626.5h1M109 626.5h1M86 648.5h1M110 648.5h1M96 664.5h1M4 676.5h1M14 681.5h1M119 684.5h1M98 693.5h1M9 698.5h1M101 698.5h1M0 719.5h1M7 719.5h1M13 719.5h1M100 719.5h1M8 722.5h1M3 728.5h1M94 728.5h1M4 737.5h1M9 737.5h1M11 737.5h1M87 737.5h1M117 737.5h1M1 743.5h1M8 743.5h1M16 743.5h1M74 743.5h1M86 743.5h1M114 743.5h1M119 743.5h1M14 748.5h1M70 748.5h1M14 761.5h1M12 764.5h1M18 764.5h1M26 764.5h1M49 764.5h1M1 767.5h1M5 767.5h1M10 767.5h1M16 767.5h1M27 767.5h1M48 767.5h1M0 770.5h1M8 770.5h2M12 770.5h1M14 770.5h1M26 770.5h1"/>
<path stroke="#003eff" stroke-width="4" d="M7 204h1M15 204h1M31 204h1M18 290h1M20 290h1M30 290h1M13 308h1M21 308h1M23 308h1M26 308h1M31 308h1M19 316h1M26 316h1M28 316h1M35 316h1M43 316h2M50 316h1M55 316h1M10 321h1M19 321h1M26 321h1M32 321h1M12 337h2M17 337h1M21 337h1M35 337h1M58 337h2M63 337h1M65 337h1M0 346h1M6 346h1M19 346h1M28 346h1M31 346h1M34 346h1M39 346h1M43 346h1M47 346h1M50 346h1M55 346h1M60 346h2M67 346h1M81 369h1M84 369h2M87 369h1M104 369h1M106 369h1M83 377h1M113 377h1M3 384h1M83 384h1M104 384h1M118 384h1M3 417h1M90 417h1M87 426h1M112 426h1M0 461h1M5 461h1M13 461h1M90 461h1M105 461h1M114 461h1M11 503h1M17 503h1M60 503h1M65 503h1M76 503h1M82 503h1M9 528h1M46 528h1M74 528h1M79 528h1M82 528h1M7 551h1M23 551h1M93 551h1M100 551h1M114 551h1M13 555h1M60 555h1M81 555h1M91 555h1M101 555h1M110 555h1M13 570h1M18 570h1M74 570h1M87 570h1M92 570h1M94 570h1M107 570h1M117 570h1M13 582h1M80 582h1M3 586h1M7 586h1M16 586h1M19 586h1M98 586h1M109 586h1M91 592h1M97 592h1M12 599h1M108 599h1M119 599h1M16 603h1M111 603h1M2 621h1M13 621h1M108 621h1M110 635h1M12 639h1M14 639h1M2 669h1M2 708h2M5 715h1M1 734h1M3 734h1M89 734h1M9 752h1M15 752h1M12 758h1M56 758h1M3 774h1M8 774h1M15 774h1M20 774h1M28 774h1M9 778h1M11 778h1M35 778h1M38 778h1"/>
<path stroke="#0050ff" stroke-width="1" d="M1 318.5h1M11 318.5h2M26 318.5h2M36 318.5h1M50 318.5h1M53 318.5h1M59 318.5h1M4 326.5h1M7 326.5h1M10 326.5h1M15 326.5h1M39 326.5h2M57 326.5h1M59 326.5h1M1 327.5h3M23 327.5h1M29 327.5h1M44 327.5h1M68 327.5h1M12 330.5h1M17 330.5h1M22 330.5h1M37 330.5h1M43 330.5h1M50 330.5h1M54 330.5h1M60 330.5h1M10 331.5h1M17 331.5h1M28 331.5h1M42 331.5h1M65 331.5h1M74 331.5h1M83 371.5h1M87 371.5h1M102 371.5h1M112 371.5h1M76 372.5h1M83 372.5h1M87 372.5h1M3 395.5h1M84 405.5h1M1 444.5h1M4 474.5h2M7 474.5h1M11 474.5h1M60 474.5h1M80 474.5h1M5 475.5h1M69 488.5h1M78 488.5h1M110 488.5h1M77 530.5h1M80 530.5h1M89 530.5h1M1 540.5h1M62 540.5h1M69 540.5h1M71 540.5h1M15 546.5h1M112 546.5h1M116 546.5h1M118 546.5h1M6 559.5h1M11 559.5h1M14 559.5h1M100 559.5h2M115 559.5h1M118 559.5h1M10 563.5h2M14 563.5h1M94 563.5h1M100 563.5h1M20 572.5h1M66 572.5h1M77 572.5h1M94 572.5h1M96 572.5h1M102 572.5h1M107 572.5h1M1 579.5h1M96 579.5h1M100 579.5h2M113 579.5h1M117 579.5h1M6 610.5h1M8 610.5h1M103 610.5h1M0 695.5h1M104 695.5h1M7 717.5h1M12 717.5h1M6 726.5h1M106 726.5h1M82 741.5h1M116 741.5h1M118 741.5h1M12 780.5h1M35 780.5h1M40 780.5h1M20 781.5h1M29 781.5h1"/>
<path stroke="#0050ff" stroke-width="2" d="M5 305h1M11 305h1M22 305h1M30 305h1M39 305h1M8 311h1M19 311h1M27 311h1M34 311h2M58 311h1M63 311h1M6 313h1M12 313h1M15 313h1M27 313h1M50 313h1M6 329h1M13 329h1M26 329h1M41 329h1M45 329h2M56 329h1M1 340h1M5 340h1M12 340h1M14 340h2M22 340h1M29 340h1M32 340h1M35 340h1M43 340h1M46 340h1M49 340h1M61 340h1M76 340h1M2 355h1M25 355h1M49 355h1M59 355h1M66 355h1M70 360h1M73 360h1M77 360h2M82 360h1M109 360h1M113 360h1M0 362h1M7 362h1M68 362h1M76 362h1M78 362h1M63 364h1M66 364h1M77 364h1M83 364h1M108 364h1M112 364h2M116 364h2M5 366h2M20 366h1M84 366h1M105 374h1M108 374h1M101 387h1M115 392h1M2 394h1M87 394h1M110 443h1M3 446h1M32 467h1M80 467h1M109 467h1M0 480h2M82 480h1M92 480h1M10 485h1M108 485h1M0 487h1M5 487h1M116 487h1M8 490h1M75 490h1M106 490h1M116 490h1M5 495h1M9 495h1M66 495h1M77 495h1M86 495h2M92 495h1M20 497h1M58 497h1M4 506h1M12 506h1M58 506h1M84 506h1M116 506h1M118 506h1M7 511h1M63 511h1M119 511h1M71 516h1M89 516h1M28 535h1M83 535h1M87 535h1M90 535h1M100 535h1M110 535h1M117 535h1M4 537h1M50 537h1M90 537h1M119 537h1M11 539h1M13 539h1M69 539h1M1 542h1M15 542h1M94 542h1M14 558h1M32 558h1M73 558h1M86 558h1M110 558h1M6 565h1M8 565h2M11 565h2M82 565h1M91 565h1M114 565h1M7 567h2M101 567h1M107 567h1M3 589h1M6 589h1M10 589h1M98 589h1M100 589h1M117 589h2M2 615h1M111 624h1M4 630h1M101 630h1M98 658h1M0 660h1M11 679h1M13 679h1M105 679h1M0 689h1M0 691h1M2 701h1M105 701h1M1 712h1M13 712h1M93 725h1M4 731h1M116 731h1M99 740h1M5 746h1M8 746h1M71 746h1M0 755h1M2 755h1M7 755h1M56 755h1M60 755h1"/>
<path stroke="#0050ff" stroke-width="3" d="M14 207.5h1M16 277.5h1M3 286.5h1M12 293.5h1M22 293.5h3M34 296.5h1M25 299.5h1M28 299.5h1M17 302.5h1M26 302.5h1M33 302.5h1M37 302.5h1M45 302.5h1M50 302.5h1M54 302.5h2M60 302.5h1M4 324.5h1M6 324.5h1M45 324.5h1M47 324.5h1M52 324.5h1M59 324.5h1M3 333.5h1M27 333.5h1M43 333.5h1M48 333.5h1M63 333.5h1M65 333.5h1M0 342.5h2M4 342.5h1M6 342.5h1M30 342.5h1M37 342.5h1M43 342.5h1M49 342.5h1M68 342.5h1M5 349.5h1M21 349.5h1M29 349.5h1M38 349.5h1M51 349.5h1M53 349.5h1M59 349.5h2M17 352.5h1M22 352.5h1M26 352.5h1M28 352.5h2M33 352.5h1M37 352.5h1M47 352.5h1M67 352.5h1M79 352.5h1M30 357.5h1M46 357.5h1M66 357.5h1M85 357.5h1M86 380.5h1M3 389.5h1M85 389.5h1M101 389.5h1M81 400.5h1M83 400.5h1M102 400.5h2M99 407.5h1M90 422.5h1M115 422.5h1M8 433.5h1M14 433.5h1M112 436.5h1M79 440.5h1M86 448.5h2M118 448.5h1M5 451.5h1M10 451.5h1M91 451.5h1M111 451.5h1M12 454.5h1M83 454.5h2M90 454.5h2M105 454.5h1M2 457.5h1M76 457.5h1M91 457.5h1M103 457.5h1M3 464.5h1M105 464.5h1M2 469.5h1M64 469.5h1M85 469.5h1M114 469.5h1M119 469.5h1M7 472.5h1M77 472.5h1M114 472.5h1M118 472.5h1M12 477.5h1M3 492.5h1M5 492.5h1M17 492.5h1M64 492.5h1M88 492.5h1M118 492.5h1M6 499.5h1M13 499.5h1M71 499.5h1M107 499.5h1M117 499.5h1M84 508.5h1M6 513.5h1M9 513.5h1M14 513.5h1M110 513.5h1M9 518.5h1M11 518.5h1M14 518.5h1M107 518.5h1M114 518.5h1M10 521.5h1M13 521.5h2M78 521.5h1M99 521.5h1M111 521.5h2M0 524.5h1M8 524.5h2M19 524.5h3M119 524.5h1M7 532.5h1M14 532.5h1M45 532.5h1M52 532.5h1M85 532.5h1M117 532.5h1M30 544.5h1M116 544.5h1M118 544.5h1M86 561.5h1M94 561.5h1M100 561.5h1M107 561.5h1M6 577.5h1M11 577.5h1M91 577.5h1M103 577.5h2M0 595.5h1M7 606.5h1M1 617.5h1M105 617.5h1M0 642.5h1M4 642.5h1M9 645.5h1M107 648.5h1M8 676.5h1M105 676.5h1M5 693.5h1M113 693.5h1M1 698.5h1M7 698.5h1M0 703.5h1M2 703.5h1M2 719.5h1M11 719.5h1M91 728.5h1M95 728.5h1M107 728.5h1M3 737.5h1M88 737.5h2M109 737.5h1M116 737.5h1M5 743.5h1M11 743.5h1M15 743.5h1M87 743.5h1M116 743.5h1M7 748.5h1M71 748.5h1M75 748.5h1M78 748.5h1M10 761.5h1M53 761.5h1M0 764.5h1M7 764.5h1M53 764.5h1M8 767.5h1M17 767.5h1M44 767.5h1M47 767.5h1M2 770.5h1M4 770.5h1M7 770.5h1M15 770.5h1M44 770.5h1"/>
<path stroke="#0050ff" stroke-width="4" d="M4 204h1M9 204h1M11 204h1M18 204h1M33 204h1M48 204h1M112 204h1M22 214h1M3 290h1M19 290h1M12 308h1M29 308h1M47 308h1M1 316h1M16 316h1M51 316h1M57 316h1M2 321h2M8 321h1M52 321h1M61 321h1M6 337h1M18 337h1M22 337h2M25 337h1M32 337h1M34 337h1M39 337h1M48 337h1M54 337h1M61 337h1M7 346h2M35 346h1M42 346h1M52 346h2M64 346h1M66 346h1M70 346h1M2 369h1M110 369h1M0 377h1M4 377h1M86 377h1M103 377h1M82 384h1M88 384h1M101 384h1M86 417h1M119 417h1M102 430h1M10 461h1M76 461h1M78 461h1M83 461h1M104 461h1M112 461h1M5 503h1M114 503h1M118 503h1M7 528h1M10 528h1M16 528h1M77 528h1M11 551h1M14 551h1M16 551h1M82 551h1M91 551h1M101 551h1M109 551h1M12 555h1M77 555h1M118 555h1M6 570h1M9 570h1M12 570h1M15 570h1M81 570h1M108 570h1M114 570h1M7 582h1M9 582h2M95 582h1M98 582h1M107 582h1M2 586h1M99 586h1M107 586h1M114 586h2M2 592h1M65 592h1M99 592h1M106 592h1M110 592h1M116 592h1M118 592h2M6 599h1M15 599h1M111 599h1M3 603h1M40 603h1M0 621h1M98 621h1M5 639h1M102 639h1M11 655h1M106 669h1M10 708h1M8 715h1M14 715h1M98 715h1M109 715h1M7 734h1M111 734h1M8 752h1M11 752h1M60 752h1M66 752h1M0 758h1M5 758h1M11 758h1M54 758h1M59 758h1M62 758h1M14 774h1M14 778h1M26 778h1M31 778h1"/>
<path stroke="#0062ff" stroke-width="1" d="M0 318.5h1M10 318.5h1M34 318.5h1M49 318.5h1M51 318.5h1M65 318.5h1M97 318.5h1M11 326.5h2M36 326.5h1M38 326.5h1M49 326.5h1M51 326.5h1M53 326.5h1M60 326.5h1M63 326.5h1M67 326.5h1M71 326.5h1M0 327.5h1M8 327.5h1M11 327.5h1M28 327.5h1M30 327.5h1M35 327.5h1M39 327.5h1M43 327.5h1M45 327.5h1M51 327.5h1M9 330.5h1M16 330.5h1M19 330.5h3M29 330.5h1M45 330.5h1M47 330.5h1M56 330.5h1M58 330.5h1M64 330.5h2M71 330.5h1M22 331.5h1M25 331.5h1M37 331.5h1M45 331.5h1M50 331.5h1M57 331.5h1M66 331.5h1M2 371.5h1M9 371.5h1M67 371.5h1M72 371.5h1M77 371.5h1M86 371.5h1M101 371.5h1M105 372.5h1M113 372.5h2M84 395.5h1M118 395.5h1M90 405.5h1M12 474.5h1M85 474.5h1M108 474.5h1M116 474.5h1M1 475.5h1M43 475.5h1M105 475.5h1M6 488.5h1M57 488.5h1M77 488.5h1M93 488.5h1M12 530.5h2M41 530.5h1M115 530.5h1M6 540.5h1M100 540.5h1M109 540.5h1M86 546.5h1M7 563.5h1M9 563.5h1M12 563.5h1M21 563.5h1M101 563.5h1M9 572.5h1M106 572.5h1M4 579.5h1M8 579.5h1M84 579.5h1M5 610.5h1M18 610.5h1M96 610.5h1M115 610.5h1M11 628.5h1M4 650.5h1M0 666.5h1M2 666.5h1M6 695.5h1M0 696.5h1M0 705.5h1M3 705.5h1M112 705.5h1M96 726.5h1M14 741.5h1M101 741.5h1M6 780.5h1M13 780.5h1M27 780.5h1M36 780.5h1M39 780.5h1M13 781.5h2M25 781.5h1M28 781.5h1M36 781.5h1M40 781.5h1"/>
<path stroke="#0062ff" stroke-width="2" d="M23 275h1M2 305h1M12 305h1M40 305h1M11 311h1M25 311h1M36 311h1M42 311h2M52 311h1M3 313h1M7 313h1M13 313h1M35 313h2M39 313h1M56 313h1M4 329h1M8 329h1M12 329h1M22 329h1M24 329h1M28 329h1M33 329h1M43 329h1M47 329h1M52 329h1M63 329h1M66 329h1M16 340h1M18 340h1M28 340h1M31 340h1M36 340h1M39 340h1M50 340h1M55 340h1M59 340h1M64 340h1M66 340h1M14 355h1M20 355h1M23 355h1M33 355h1M47 355h1M40 360h1M83 360h1M85 360h1M112 360h1M108 362h1M0 364h1M77 366h1M86 366h1M102 366h1M104 366h1M117 366h1M78 374h1M9 387h1M82 387h1M83 394h1M4 420h1M111 420h1M90 443h1M116 443h1M1 446h1M102 446h1M9 467h2M92 467h1M7 480h2M105 480h1M114 480h1M5 485h1M49 485h1M74 485h1M80 485h1M83 485h1M89 485h1M63 487h1M112 487h1M118 487h1M1 490h1M4 490h1M87 490h1M111 495h1M1 497h1M4 497h1M10 497h1M78 497h1M2 506h1M5 506h1M9 506h1M16 506h2M89 506h2M93 506h1M107 506h1M117 511h1M111 516h1M2 535h1M8 535h1M10 535h1M43 535h1M81 535h1M9 537h1M15 537h1M19 537h1M101 539h1M113 539h1M6 542h1M17 542h1M76 542h1M100 542h1M116 542h1M6 548h1M13 548h1M100 548h1M108 548h1M111 548h1M12 558h2M77 558h1M95 558h1M94 565h1M4 567h1M10 567h1M14 567h1M84 567h1M104 567h1M118 567h1M0 589h1M11 615h1M3 624h1M112 630h1M14 632h1M96 632h1M3 652h1M0 662h1M6 679h1M1 687h1M4 691h1M1 701h1M5 701h1M0 712h1M87 731h1M98 731h1M104 731h1M111 731h1M1 740h1M83 740h1M119 740h1M73 746h2M82 746h1M86 746h1M8 755h1M11 755h1M58 755h1M61 755h1"/>
<path stroke="#0062ff" stroke-width="3" d="M22 210.5h1M22 277.5h1M17 280.5h1M10 283.5h1M10 286.5h1M30 293.5h1M32 293.5h1M35 293.5h1M2 296.5h1M4 296.5h1M7 296.5h1M19 296.5h1M22 296.5h1M25 296.5h1M28 296.5h2M36 296.5h1M42 296.5h1M44 296.5h1M54 296.5h1M20 299.5h1M23 299.5h1M35 299.5h1M42 299.5h1M3 302.5h1M9 302.5h1M29 302.5h1M32 302.5h1M51 302.5h1M0 324.5h2M3 324.5h1M7 324.5h1M10 324.5h1M12 324.5h2M20 324.5h1M22 324.5h2M26 324.5h1M30 324.5h1M32 324.5h1M38 324.5h1M41 324.5h1M44 324.5h1M68 324.5h1M8 333.5h1M20 333.5h1M40 333.5h2M61 333.5h1M66 333.5h2M9 342.5h1M34 342.5h1M42 342.5h1M51 342.5h1M71 342.5h1M73 342.5h1M75 342.5h1M4 349.5h1M8 349.5h2M31 349.5h1M33 349.5h1M43 349.5h2M68 349.5h1M9 352.5h1M13 352.5h1M18 352.5h1M38 352.5h1M50 352.5h1M54 352.5h1M60 352.5h1M71 352.5h2M77 352.5h1M4 357.5h1M10 357.5h1M67 357.5h1M75 357.5h1M80 357.5h1M119 357.5h1M102 380.5h1M114 380.5h2M89 389.5h1M1 397.5h1M3 400.5h1M89 400.5h1M112 400.5h1M88 403.5h1M117 407.5h1M90 436.5h1M102 436.5h1M114 436.5h1M77 454.5h1M90 457.5h1M0 464.5h2M6 464.5h1M9 469.5h1M56 469.5h1M81 469.5h1M109 469.5h1M6 472.5h1M87 472.5h1M6 477.5h1M8 477.5h1M105 477.5h1M107 477.5h1M8 482.5h1M10 482.5h1M2 492.5h1M4 492.5h1M12 492.5h1M83 492.5h1M113 492.5h1M9 499.5h1M110 499.5h1M3 508.5h1M9 508.5h2M19 508.5h1M82 508.5h1M8 513.5h1M91 513.5h1M107 513.5h1M8 518.5h1M89 518.5h1M0 521.5h1M6 521.5h2M9 521.5h1M108 521.5h2M7 524.5h1M11 524.5h1M13 524.5h1M18 524.5h1M53 524.5h1M88 524.5h1M112 524.5h1M117 524.5h1M12 532.5h1M78 532.5h1M87 532.5h1M94 532.5h1M7 544.5h1M9 544.5h2M12 544.5h2M80 544.5h1M86 544.5h1M109 544.5h1M9 561.5h1M79 561.5h1M93 561.5h1M112 561.5h1M11 574.5h1M108 574.5h2M2 577.5h1M40 577.5h1M76 577.5h1M3 595.5h1M12 595.5h1M106 595.5h1M110 606.5h1M105 612.5h1M110 612.5h1M119 617.5h1M16 626.5h1M11 642.5h1M2 645.5h1M5 645.5h1M1 693.5h1M102 719.5h1M2 722.5h1M7 728.5h1M2 737.5h1M6 737.5h1M90 737.5h1M110 737.5h1M76 743.5h1M78 743.5h1M81 743.5h1M0 748.5h1M3 748.5h1M5 748.5h1M79 748.5h1M115 748.5h1M2 761.5h1M4 761.5h1M58 761.5h1M5 764.5h2M52 764.5h1M1 770.5h1M3 770.5h1M11 770.5h1"/>
<path stroke="#0062ff" stroke-width="4" d="M5 204h1M10 204h1M13 204h1M20 204h1M26 204h1M41 204h1M49 204h1M83 204h1M15 214h1M42 290h2M46 290h1M9 308h2M15 308h1M34 308h2M38 308h1M40 308h1M46 308h1M5 316h1M18 316h1M20 316h1M29 316h1M34 316h1M37 316h1M41 316h2M46 316h1M48 316h1M63 316h1M66 316h1M4 321h1M17 321h1M24 321h1M29 321h1M36 321h1M63 321h2M66 321h1M0 337h1M7 337h1M11 337h1M33 337h1M38 337h1M53 337h1M57 337h1M68 337h1M75 337h1M1 346h2M13 346h1M16 346h1M22 346h2M71 346h1M73 346h1M83 369h1M5 377h1M85 377h1M88 377h1M10 413h1M90 426h1M93 426h1M3 461h1M1 503h1M12 503h4M62 503h1M107 503h2M1 528h2M17 528h1M93 528h1M112 528h1M8 551h3M12 551h1M15 551h1M90 551h1M117 551h1M3 555h1M5 555h1M14 555h1M16 555h1M84 555h1M87 555h1M100 555h1M102 555h1M109 555h1M113 555h1M104 570h1M1 582h1M104 586h1M10 592h1M96 592h1M105 592h1M107 592h1M110 599h1M117 599h1M6 603h1M109 603h1M4 621h1M2 639h2M91 639h1M3 655h1M8 655h1M101 655h1M14 673h1M1 708h1M97 715h1M4 734h1M88 734h1M91 734h2M103 734h3M107 734h1M119 734h1M76 752h1M6 758h1M19 758h1M53 758h1M58 758h1M60 758h1M2 774h1M4 774h1M11 774h2M22 774h1M43 774h1M7 778h1M18 778h1M23 778h1M28 778h2M40 778h1M42 778h1"/>
<path stroke="#0074ff" stroke-width="1" d="M4 318.5h1M24 318.5h2M45 318.5h1M58 318.5h1M73 318.5h1M3 326.5h1M9 326.5h1M21 326.5h1M44 326.5h1M64 326.5h1M73 326.5h1M5 327.5h1M26 327.5h1M36 327.5h1M38 327.5h1M47 327.5h2M50 327.5h1M57 327.5h1M59 327.5h1M2 330.5h1M4 330.5h1M23 330.5h1M32 330.5h1M49 330.5h1M55 330.5h1M57 330.5h1M62 330.5h1M69 330.5h1M74 330.5h1M6 331.5h1M12 331.5h1M23 331.5h1M53 331.5h1M70 331.5h1M119 371.5h1M84 372.5h1M86 372.5h1M111 372.5h1M0 405.5h1M13 474.5h1M83 474.5h1M2 488.5h1M8 488.5h1M0 530.5h1M2 530.5h1M10 530.5h1M42 530.5h1M108 530.5h1M2 540.5h1M82 540.5h1M84 540.5h1M97 540.5h1M11 546.5h1M98 546.5h2M5 559.5h1M97 559.5h1M99 559.5h1M110 559.5h1M1 563.5h1M13 563.5h1M75 563.5h1M84 563.5h1M105 563.5h1M0 572.5h1M75 572.5h1M109 572.5h1M109 579.5h1M105 650.5h1M9 726.5h1M2 741.5h1M85 741.5h1M114 741.5h1M14 780.5h1M18 780.5h1M8 781.5h1M10 781.5h2M27 781.5h1M32 781.5h1M38 781.5h1"/>
<path stroke="#0074ff" stroke-width="2" d="M9 267h1M16 305h1M18 305h1M26 305h1M32 305h1M34 305h2M44 305h1M49 305h1M51 305h2M21 311h1M28 311h1M45 311h1M48 311h2M53 311h1M61 311h1M11 313h1M37 313h1M51 313h1M57 313h1M11 329h1M17 329h1M21 329h1M32 329h1M35 329h1M42 329h1M44 329h1M51 329h1M59 329h1M64 329h1M68 329h1M10 340h2M20 340h1M48 340h1M51 340h1M67 340h1M74 340h1M69 355h1M88 355h1M109 355h1M2 360h1M32 360h1M35 360h1M38 360h1M62 360h1M72 360h1M106 360h1M117 360h1M1 362h1M81 362h1M85 362h1M102 362h1M112 362h1M116 362h3M3 364h1M80 364h2M86 364h1M103 364h1M105 364h1M74 366h1M78 366h1M80 366h1M85 366h1M99 366h1M112 366h1M115 366h1M85 374h1M114 374h1M98 387h1M101 392h1M101 410h1M100 420h1M80 446h1M104 467h1M2 480h1M0 485h1M2 485h1M4 485h1M12 490h1M67 495h1M88 495h1M65 506h1M112 506h1M1 511h1M8 511h1M85 511h1M93 511h1M10 516h1M85 516h1M87 516h1M9 535h1M14 535h1M94 535h1M116 535h1M14 537h1M95 537h1M99 537h1M9 539h1M16 539h1M99 539h1M5 542h1M10 542h1M12 542h1M87 542h1M99 542h1M99 548h1M10 558h1M96 558h1M104 558h1M10 565h1M14 565h1M118 565h1M6 567h1M13 567h1M1 609h1M0 624h1M8 630h1M7 658h1M1 691h1M1 725h1M3 740h1M86 740h1M6 746h1M79 746h1M118 746h2M1 755h1M6 755h1M22 755h1M64 755h3"/>
<path stroke="#0074ff" stroke-width="3" d="M18 207.5h1M28 207.5h1M43 277.5h1M4 280.5h1M19 280.5h1M20 283.5h1M5 286.5h1M16 286.5h1M24 286.5h1M36 286.5h1M6 293.5h1M25 293.5h1M33 293.5h1M58 293.5h1M20 296.5h1M26 296.5h1M41 296.5h1M45 296.5h1M62 296.5h1M5 299.5h2M9 299.5h1M19 299.5h1M26 299.5h1M37 299.5h1M47 299.5h1M10 302.5h1M14 302.5h1M19 302.5h1M22 302.5h2M48 302.5h2M58 302.5h1M16 324.5h1M33 324.5h1M42 324.5h1M48 324.5h1M53 324.5h1M56 324.5h1M65 324.5h1M10 333.5h1M17 333.5h1M23 333.5h1M29 333.5h1M36 333.5h1M50 333.5h1M52 333.5h1M54 333.5h1M58 333.5h2M18 342.5h1M27 342.5h2M72 342.5h1M77 342.5h1M0 349.5h1M66 349.5h1M72 349.5h1M14 352.5h1M34 352.5h1M43 352.5h1M45 352.5h2M62 352.5h1M75 352.5h1M2 357.5h1M15 357.5h1M35 357.5h1M64 357.5h1M70 357.5h1M72 357.5h3M76 357.5h2M104 389.5h1M89 397.5h1M94 397.5h1M101 400.5h1M117 400.5h1M6 403.5h1M96 403.5h1M102 422.5h1M102 433.5h1M90 440.5h1M0 448.5h1M108 448.5h1M0 451.5h1M85 451.5h1M103 451.5h1M119 451.5h1M86 454.5h1M114 457.5h1M10 464.5h1M80 464.5h1M114 464.5h1M4 469.5h1M6 469.5h1M83 469.5h1M5 472.5h1M69 472.5h1M92 472.5h1M4 477.5h2M9 477.5h1M2 482.5h1M21 482.5h1M82 482.5h1M115 482.5h1M117 482.5h1M1 492.5h1M8 492.5h1M106 492.5h1M10 499.5h1M82 499.5h1M0 508.5h1M8 508.5h1M80 508.5h1M3 513.5h1M10 513.5h2M38 513.5h1M13 518.5h1M2 521.5h1M12 521.5h1M87 521.5h1M10 524.5h1M99 532.5h1M4 544.5h1M11 544.5h1M78 544.5h1M94 544.5h1M6 561.5h1M12 561.5h1M85 561.5h1M96 561.5h1M103 561.5h1M114 561.5h1M90 574.5h1M103 574.5h2M5 577.5h1M100 577.5h1M114 595.5h1M8 606.5h1M2 642.5h1M7 642.5h1M5 703.5h1M14 722.5h1M108 722.5h1M11 728.5h1M93 728.5h1M91 737.5h1M111 737.5h1M113 737.5h1M6 743.5h1M82 743.5h2M13 748.5h1M114 748.5h1M3 761.5h1M11 761.5h1M15 761.5h1M9 764.5h1M10 770.5h1"/>
<path stroke="#0074ff" stroke-width="4" d="M0 204h1M24 204h2M27 204h1M30 204h1M36 204h2M46 204h1M50 204h1M55 204h2M76 204h1M102 204h1M1 290h1M7 290h1M21 290h1M0 308h1M3 308h1M11 308h1M16 308h4M28 308h1M45 308h1M0 316h1M6 316h1M9 316h1M11 316h1M13 316h1M17 316h1M58 316h2M1 321h1M6 321h1M9 321h1M14 321h1M22 321h2M25 321h1M35 321h1M48 321h1M59 321h2M68 321h1M8 337h1M15 337h1M46 337h1M49 337h1M70 337h1M5 346h1M11 346h1M56 346h1M58 346h2M72 346h1M75 346h1M77 346h1M99 346h1M74 369h1M86 369h1M102 369h1M107 369h1M102 377h1M89 384h1M91 413h1M117 413h1M101 426h1M8 503h1M15 528h1M115 528h1M4 551h1M43 551h1M84 551h1M98 551h2M108 551h1M115 551h1M6 555h2M72 555h1M99 555h1M4 570h1M93 570h1M110 570h1M3 582h1M6 582h1M14 582h1M99 582h1M4 586h1M15 586h1M97 586h1M0 592h2M3 592h1M6 592h1M8 592h1M85 592h1M108 592h1M2 599h1M8 599h1M4 603h1M10 603h1M3 635h1M10 639h1M13 655h1M0 669h1M11 715h1M87 734h1M95 734h3M108 734h1M110 734h1M2 752h3M10 752h1M15 758h1M57 758h1M0 774h1M6 774h1M42 774h1"/>
<path stroke="#0089ff" stroke-width="1" d="M6 318.5h2M9 318.5h1M28 318.5h1M35 318.5h1M38 318.5h1M43 318.5h2M2 326.5h1M13 326.5h1M26 326.5h1M28 326.5h1M30 326.5h1M48 326.5h1M55 326.5h1M65 326.5h2M13 327.5h1M19 327.5h1M27 327.5h1M33 327.5h1M46 327.5h1M49 327.5h1M62 327.5h3M78 327.5h1M1 330.5h1M7 330.5h1M18 330.5h1M24 330.5h2M61 330.5h1M66 330.5h1M24 331.5h1M29 331.5h1M46 331.5h1M56 331.5h1M61 331.5h1M68 331.5h1M88 371.5h1M107 371.5h1M88 372.5h1M117 372.5h1M101 395.5h1M95 405.5h1M118 405.5h1M111 438.5h1M115 474.5h1M0 475.5h1M8 475.5h1M6 530.5h2M15 530.5h1M7 540.5h2M10 540.5h1M99 540.5h1M108 540.5h1M9 546.5h1M96 546.5h1M101 546.5h1M107 546.5h1M107 559.5h1M109 559.5h1M2 563.5h1M113 563.5h1M99 572.5h1M108 572.5h1M3 579.5h1M81 579.5h1M98 579.5h1M106 579.5h1M7 710.5h1M97 726.5h1M10 741.5h1M112 741.5h1M11 780.5h1M31 780.5h1M12 781.5h1M15 781.5h1M39 781.5h1"/>
<path stroke="#0089ff" stroke-width="2" d="M3 273h1M14 273h1M16 273h1M34 273h1M34 275h1M14 305h1M19 305h1M21 305h1M37 305h2M47 305h2M7 311h1M12 311h1M29 311h1M32 311h1M37 311h3M55 311h3M10 313h1M20 313h1M26 313h1M30 313h1M43 313h1M49 313h1M52 313h1M58 313h1M62 313h1M27 329h1M38 329h1M54 329h1M61 329h1M67 329h1M78 329h1M24 340h1M30 340h1M58 340h1M69 340h1M73 340h1M77 340h1M50 355h1M73 355h1M77 355h1M80 355h1M0 360h1M39 360h1M61 360h1M71 360h1M75 360h2M79 360h1M107 360h1M110 360h2M6 362h1M72 362h1M87 362h1M103 362h1M111 362h1M81 366h1M88 366h1M113 366h1M116 366h1M118 366h1M88 374h1M86 392h1M89 392h1M109 394h1M116 467h1M6 480h1M53 480h1M3 485h1M2 487h1M9 487h1M20 487h1M0 490h1M11 490h1M0 495h2M81 495h1M93 495h1M3 497h1M93 497h1M106 497h1M1 506h1M3 506h1M8 506h1M37 506h1M4 511h1M6 511h1M87 511h1M91 511h1M5 516h2M14 516h1M17 516h1M5 535h1M11 535h2M40 535h1M112 535h1M6 537h1M109 537h1M3 539h2M78 539h1M97 539h1M75 542h1M0 548h1M2 548h1M94 548h1M105 548h1M1 558h1M4 558h1M8 558h1M16 558h1M100 558h1M102 558h1M3 565h1M87 565h1M96 565h1M100 565h1M103 565h1M105 565h1M96 567h2M103 567h1M110 567h1M2 589h1M5 589h1M79 589h1M96 589h1M2 652h1M4 662h1M2 689h2M2 731h1M112 740h1M116 740h1M80 746h1M100 746h1M115 746h1M63 755h1"/>
<path stroke="#0089ff" stroke-width="3" d="M4 210.5h1M28 210.5h1M12 277.5h1M35 277.5h1M14 280.5h1M20 280.5h1M31 280.5h1M6 283.5h1M8 283.5h1M29 283.5h1M32 283.5h1M25 286.5h1M27 286.5h1M3 293.5h1M16 293.5h1M28 293.5h1M50 293.5h1M1 296.5h1M9 296.5h1M16 296.5h2M27 296.5h1M47 296.5h1M57 296.5h1M3 299.5h1M16 299.5h1M21 299.5h1M31 299.5h1M38 299.5h2M45 299.5h2M6 302.5h1M27 302.5h1M36 302.5h1M44 302.5h1M46 302.5h1M61 302.5h1M24 324.5h1M37 324.5h1M43 324.5h1M46 324.5h1M62 324.5h3M14 333.5h1M31 333.5h1M46 333.5h1M71 333.5h1M44 342.5h1M64 342.5h1M66 342.5h2M69 342.5h2M12 349.5h1M24 349.5h1M32 349.5h1M41 349.5h1M63 349.5h1M79 349.5h1M11 352.5h1M39 352.5h1M64 352.5h1M66 352.5h1M68 352.5h1M73 352.5h1M76 352.5h1M78 352.5h1M109 352.5h1M40 357.5h1M71 357.5h1M78 357.5h1M82 357.5h1M112 357.5h1M93 380.5h1M96 380.5h1M94 389.5h1M90 403.5h1M118 403.5h1M93 407.5h1M118 433.5h1M1 436.5h1M89 440.5h1M8 454.5h1M4 457.5h1M9 457.5h1M92 457.5h1M92 464.5h1M1 469.5h1M18 469.5h1M79 472.5h1M2 477.5h1M4 482.5h1M9 492.5h1M2 499.5h1M106 499.5h1M108 499.5h1M7 508.5h1M13 508.5h1M88 508.5h1M0 513.5h1M12 513.5h1M4 521.5h1M11 521.5h1M15 521.5h1M56 521.5h1M74 521.5h1M78 524.5h1M85 524.5h1M10 532.5h1M100 532.5h1M101 544.5h1M107 544.5h1M2 561.5h1M8 561.5h1M99 561.5h1M109 561.5h1M5 574.5h2M95 574.5h1M110 574.5h1M10 577.5h1M97 577.5h1M1 595.5h1M7 595.5h1M96 606.5h1M4 612.5h1M11 626.5h1M5 648.5h1M3 676.5h1M3 703.5h1M2 728.5h1M0 737.5h1M108 737.5h1M112 737.5h1M118 743.5h1M73 748.5h1M1 761.5h1M13 761.5h1M54 761.5h1M56 761.5h1M4 764.5h1M10 764.5h1M50 764.5h1M54 764.5h1M0 767.5h1M2 767.5h1"/>
<path stroke="#0089ff" stroke-width="4" d="M3 204h1M8 204h1M29 204h1M32 204h1M45 204h1M47 204h1M53 204h1M64 204h1M70 204h2M85 204h1M87 204h1M94 204h1M99 204h1M101 204h1M116 204h2M2 290h1M39 290h1M51 290h1M57 290h1M6 308h3M20 308h1M30 308h1M32 308h1M44 308h1M49 308h1M51 308h1M54 308h2M60 308h1M2 316h1M12 316h1M33 316h1M36 316h1M45 316h1M5 321h1M12 321h1M21 321h1M27 321h1M38 321h1M41 321h3M45 321h1M55 321h1M65 321h1M1 337h1M4 337h2M14 337h1M31 337h1M56 337h1M64 337h1M74 337h1M9 346h1M14 346h1M33 346h1M48 346h1M62 346h1M69 346h1M79 369h1M94 369h1M111 369h1M87 377h1M4 384h1M84 384h1M100 413h1M118 413h1M115 426h1M92 461h1M119 461h1M92 503h1M3 528h1M27 528h1M13 551h1M89 555h1M97 555h2M2 570h2M95 570h1M102 570h2M11 582h1M17 582h1M87 582h1M104 582h1M5 586h2M9 586h1M108 586h1M4 592h1M115 592h1M4 599h1M10 599h1M3 621h1M4 639h1M111 639h1M1 655h1M3 669h1M7 715h1M90 734h1M98 734h1M100 734h1M7 752h1M64 752h1M67 752h1M77 752h1M8 758h1M61 758h1M1 774h1M0 778h1M4 778h1M39 778h1"/>
<path stroke="#009fff" stroke-width="1" d="M3 318.5h1M18 318.5h1M54 318.5h2M60 318.5h1M64 318.5h1M67 318.5h1M46 326.5h1M6 327.5h1M9 327.5h1M17 327.5h2M25 327.5h1M32 327.5h1M52 327.5h1M56 327.5h1M69 327.5h1M48 330.5h1M53 330.5h1M67 330.5h2M82 330.5h1M19 331.5h1M41 331.5h1M44 331.5h1M48 331.5h1M60 331.5h1M77 331.5h1M79 331.5h1M103 331.5h1M84 371.5h1M99 371.5h1M85 372.5h1M88 395.5h1M99 395.5h1M90 438.5h1M97 438.5h1M91 444.5h1M105 474.5h1M1 488.5h1M5 530.5h1M9 530.5h1M3 540.5h1M12 540.5h1M95 540.5h2M98 540.5h1M101 540.5h1M2 546.5h1M7 546.5h1M13 546.5h1M91 546.5h1M100 546.5h1M1 559.5h3M7 559.5h1M13 559.5h1M77 559.5h1M102 559.5h1M105 559.5h1M0 563.5h1M3 563.5h1M104 563.5h1M4 572.5h2M98 572.5h1M110 572.5h1M0 579.5h1M7 579.5h1M87 741.5h1M89 741.5h1M108 741.5h1M2 780.5h1M4 780.5h2M10 780.5h1M20 780.5h1M5 781.5h1M9 781.5h1"/>
<path stroke="#009fff" stroke-width="2" d="M16 260h1M19 260h1M2 273h1M37 273h1M8 275h1M12 275h1M16 275h1M25 275h1M52 275h1M9 305h2M20 305h1M31 305h1M43 305h1M65 305h1M3 311h1M6 311h1M10 311h1M31 311h1M33 311h1M50 311h1M0 313h3M24 313h1M41 313h1M45 313h1M47 313h1M61 313h1M5 329h1M16 329h1M23 329h1M25 329h1M48 329h1M55 329h1M57 329h1M53 340h2M56 340h1M70 355h1M75 355h1M110 355h1M33 360h1M88 360h1M103 360h1M108 360h1M114 360h1M58 362h1M75 362h1M86 362h1M107 362h1M102 364h1M119 364h1M109 366h1M113 374h1M3 392h1M89 394h1M97 394h1M91 420h1M93 420h1M91 443h1M3 480h1M46 485h1M93 485h1M1 487h1M93 487h1M3 490h1M6 490h1M48 490h1M105 495h1M8 497h1M113 497h1M114 506h1M0 511h1M3 511h1M94 511h1M0 516h1M7 516h2M107 516h1M108 535h1M1 537h1M12 537h1M98 537h1M6 539h1M10 539h1M14 539h1M106 539h1M108 539h1M2 542h2M8 542h1M11 542h1M95 542h1M98 548h1M107 548h1M6 558h1M9 558h1M4 565h2M7 565h1M95 565h1M97 565h1M102 565h1M1 567h2M102 567h1M106 567h1M109 567h1M1 589h1M16 652h1M112 662h1M10 701h1M10 731h1M95 731h1M97 731h1M103 731h1M106 731h1M109 740h1M113 740h1M0 746h1M81 746h1M83 746h1M114 746h1M116 746h1M4 755h1"/>
<path stroke="#009fff" stroke-width="3" d="M25 207.5h1M30 207.5h1M40 207.5h1M45 207.5h1M3 210.5h1M13 210.5h1M26 210.5h1M8 277.5h1M10 277.5h1M14 277.5h1M19 277.5h1M25 277.5h1M32 277.5h1M36 277.5h1M16 280.5h1M18 280.5h1M16 283.5h1M21 283.5h1M23 283.5h1M37 283.5h1M0 286.5h1M7 286.5h1M51 286.5h1M60 286.5h1M0 293.5h2M4 293.5h1M7 293.5h1M14 293.5h1M17 293.5h2M40 293.5h1M53 293.5h1M55 293.5h1M60 293.5h1M8 296.5h1M14 296.5h1M21 296.5h1M30 296.5h1M35 296.5h1M38 296.5h1M40 296.5h1M46 296.5h1M56 296.5h1M4 299.5h1M14 299.5h1M22 299.5h1M27 299.5h1M33 299.5h2M49 299.5h1M67 299.5h1M1 302.5h2M4 302.5h1M15 302.5h1M21 302.5h1M56 302.5h1M14 324.5h1M40 324.5h1M67 324.5h1M0 333.5h1M6 333.5h1M13 333.5h1M51 333.5h1M55 333.5h1M60 333.5h1M70 333.5h1M40 342.5h1M54 342.5h1M60 342.5h1M63 342.5h1M74 342.5h1M103 342.5h1M104 349.5h1M83 352.5h2M86 352.5h1M107 352.5h1M31 357.5h1M111 357.5h1M114 357.5h1M116 357.5h1M119 380.5h1M86 389.5h1M100 389.5h1M91 403.5h1M93 403.5h1M90 407.5h1M116 451.5h1M0 457.5h1M11 457.5h1M69 457.5h1M104 464.5h1M0 469.5h1M4 472.5h1M1 477.5h1M93 492.5h1M8 499.5h1M5 508.5h1M7 513.5h1M93 513.5h1M0 518.5h1M3 518.5h2M6 518.5h1M5 521.5h1M84 521.5h2M118 521.5h1M109 524.5h1M0 532.5h1M2 532.5h1M5 532.5h1M8 532.5h1M98 532.5h1M2 544.5h1M95 544.5h1M99 544.5h1M105 544.5h1M101 561.5h1M104 561.5h1M105 574.5h2M99 577.5h1M107 577.5h1M4 595.5h1M0 606.5h1M3 612.5h1M27 642.5h1M102 737.5h1M106 737.5h2M84 743.5h1M68 748.5h1M80 748.5h1M118 748.5h2M7 761.5h1M55 761.5h1M51 764.5h1M3 767.5h2M14 767.5h2M50 767.5h1M5 770.5h1M43 770.5h1"/>
<path stroke="#009fff" stroke-width="4" d="M12 204h1M28 204h1M43 204h1M62 204h1M65 204h2M69 204h1M75 204h1M79 204h3M91 204h1M104 204h1M118 204h1M3 270h1M5 290h1M8 290h1M10 290h1M13 290h1M27 290h1M31 290h1M33 290h1M35 290h2M52 290h2M2 308h1M5 308h1M36 308h1M57 308h1M62 308h1M3 316h1M10 316h1M14 316h1M22 316h1M32 316h1M49 316h1M56 316h1M11 321h1M18 321h1M39 321h1M62 321h1M69 321h1M20 337h1M44 337h1M47 337h1M66 337h2M72 337h1M84 337h1M27 346h1M78 346h1M106 346h1M99 369h1M101 377h1M1 426h1M89 426h1M87 461h1M6 503h1M0 528h1M4 528h2M8 528h1M12 528h1M14 528h1M94 528h1M98 528h1M100 528h1M95 551h1M9 555h2M85 555h1M99 570h1M105 570h1M5 582h1M11 586h1M98 592h1M14 599h1M10 669h1M0 715h1M65 752h1M75 752h1M78 752h1M5 774h1M10 778h1M12 778h1"/>
<path stroke="#00b4ff" stroke-width="1" d="M30 318.5h1M33 318.5h1M40 318.5h1M47 318.5h1M52 318.5h1M66 318.5h1M0 326.5h1M19 326.5h1M22 326.5h1M24 326.5h1M56 326.5h1M68 326.5h1M75 326.5h1M4 327.5h1M54 327.5h1M58 327.5h1M61 327.5h1M67 327.5h1M36 330.5h1M38 330.5h1M70 330.5h1M75 330.5h2M14 331.5h1M40 331.5h1M64 331.5h1M67 331.5h1M69 331.5h1M91 438.5h1M93 438.5h1M0 474.5h2M3 488.5h2M17 530.5h1M98 530.5h1M11 540.5h1M106 540.5h1M111 540.5h1M3 546.5h1M95 546.5h1M108 546.5h1M8 559.5h1M96 559.5h1M103 559.5h1M4 563.5h1M95 563.5h1M102 563.5h1M2 572.5h2M6 572.5h1M104 572.5h2M5 579.5h1M5 695.5h1M12 741.5h1M86 741.5h1M90 741.5h1M99 741.5h1M113 741.5h1M8 780.5h1M3 781.5h1M42 781.5h1"/>
<path stroke="#00b4ff" stroke-width="2" d="M24 260h1M31 262h1M7 273h1M19 275h3M8 305h1M13 305h1M25 305h1M33 305h1M41 305h2M50 305h1M56 305h1M61 305h1M0 311h1M4 311h1M13 311h3M23 311h1M26 311h1M66 311h1M68 311h1M8 313h1M19 313h1M21 313h1M23 313h1M31 313h1M38 313h1M48 313h1M55 313h1M60 313h1M81 313h1M2 329h1M19 329h1M40 329h1M49 329h2M58 329h1M60 329h1M65 329h1M69 329h2M21 340h1M65 340h1M72 340h1M75 340h1M79 340h1M81 340h1M74 355h1M78 355h2M84 355h1M86 355h1M105 355h1M18 360h1M31 360h1M37 360h1M56 360h1M81 360h1M84 360h1M100 360h1M116 360h1M119 360h1M73 362h1M80 362h1M109 362h1M84 364h2M104 364h1M106 364h1M82 366h1M89 374h1M89 387h1M101 394h1M90 410h1M99 410h1M90 420h1M99 420h1M101 420h1M96 446h1M2 467h1M105 485h1M6 506h1M94 506h1M2 511h1M99 516h1M3 535h1M99 535h1M0 537h1M22 537h1M94 537h1M100 537h1M92 539h1M104 539h1M0 542h1M7 542h1M9 542h1M3 558h1M7 558h1M101 558h1M103 558h1M106 558h1M108 565h1M9 567h1M8 660h1M88 740h1M91 740h2M106 740h1M111 740h1M4 746h1M84 746h1M9 755h1M67 755h1"/>
<path stroke="#00b4ff" stroke-width="3" d="M0 207.5h1M3 207.5h1M20 207.5h1M24 207.5h1M39 207.5h1M56 207.5h1M2 210.5h1M12 210.5h1M14 210.5h2M19 210.5h1M34 210.5h1M9 217.5h1M27 277.5h2M30 277.5h1M2 280.5h1M11 280.5h1M26 280.5h1M32 280.5h1M2 283.5h1M11 283.5h1M19 283.5h1M36 283.5h1M43 283.5h1M49 283.5h1M54 283.5h1M8 286.5h1M15 286.5h1M26 286.5h1M29 286.5h1M33 286.5h1M42 286.5h1M44 286.5h1M46 286.5h1M11 293.5h1M15 293.5h1M19 293.5h1M21 293.5h1M38 293.5h2M41 293.5h1M43 293.5h1M56 293.5h1M10 296.5h2M13 296.5h1M39 296.5h1M59 296.5h1M2 299.5h1M12 299.5h2M17 299.5h1M30 299.5h1M56 299.5h1M0 302.5h1M18 302.5h1M25 302.5h1M34 302.5h1M59 302.5h1M64 302.5h1M31 324.5h1M35 324.5h1M54 324.5h1M71 324.5h1M47 333.5h1M74 333.5h1M108 333.5h1M21 342.5h1M76 342.5h1M80 342.5h1M64 349.5h1M69 349.5h1M74 349.5h1M78 349.5h1M80 349.5h1M109 349.5h1M111 349.5h1M115 349.5h1M12 352.5h1M69 352.5h1M106 352.5h1M114 352.5h3M13 357.5h1M32 357.5h1M34 357.5h1M38 357.5h1M81 357.5h1M107 357.5h1M110 357.5h1M113 357.5h1M98 397.5h1M0 400.5h1M99 400.5h1M97 403.5h1M100 433.5h1M97 436.5h1M101 436.5h1M101 440.5h2M1 457.5h1M114 477.5h1M77 482.5h1M83 482.5h1M0 499.5h1M3 499.5h1M2 508.5h1M4 508.5h1M94 513.5h1M109 513.5h1M2 518.5h1M99 518.5h1M8 521.5h1M51 521.5h1M94 521.5h1M114 521.5h1M3 524.5h2M94 524.5h1M107 532.5h1M98 544.5h1M100 544.5h1M103 544.5h1M108 544.5h1M3 561.5h1M0 574.5h1M96 574.5h1M107 574.5h1M105 577.5h1M108 595.5h1M1 606.5h1M7 693.5h1M45 728.5h1M94 737.5h1M99 737.5h1M88 743.5h1M109 743.5h1M112 743.5h2M5 761.5h2M2 764.5h1M49 767.5h1M52 767.5h1M45 770.5h1"/>
<path stroke="#00b4ff" stroke-width="4" d="M19 204h1M23 204h1M34 204h1M42 204h1M52 204h1M63 204h1M74 204h1M77 204h1M82 204h1M84 204h1M90 204h1M111 204h1M16 270h1M41 270h1M43 270h1M24 290h1M34 290h1M38 290h1M41 290h1M49 290h1M54 290h1M56 290h1M4 308h1M22 308h1M24 308h1M27 308h1M37 308h1M59 308h1M4 316h1M15 316h1M25 316h1M60 316h1M65 316h1M28 321h1M30 321h1M33 321h1M51 321h1M58 321h1M9 337h1M24 337h1M27 337h1M40 337h1M106 337h1M57 346h1M76 346h1M79 346h1M111 346h1M116 346h1M100 369h1M89 377h1M90 413h1M96 413h1M97 417h1M100 417h2M91 430h1M1 461h1M6 528h1M5 551h1M103 551h1M106 555h1M8 570h1M97 570h1M109 570h1M4 582h1M96 582h2M106 582h1M109 582h1M1 586h1M105 586h2M119 586h1M0 599h1M3 599h1M106 734h1M70 752h1M5 778h1M8 778h1M43 778h1"/>
<path stroke="#00c9ff" stroke-width="1" d="M13 318.5h2M23 318.5h1M62 318.5h2M69 318.5h1M71 318.5h1M74 318.5h1M76 318.5h1M113 318.5h1M25 326.5h1M54 326.5h1M61 326.5h1M69 326.5h2M72 326.5h1M80 326.5h1M10 327.5h1M37 327.5h1M65 327.5h1M70 327.5h1M115 327.5h1M11 330.5h1M35 330.5h1M51 330.5h1M73 330.5h1M78 330.5h1M39 331.5h1M71 331.5h1M81 371.5h1M94 395.5h1M100 395.5h1M101 405.5h1M102 444.5h1M4 475.5h1M9 475.5h1M105 488.5h1M3 530.5h2M8 530.5h1M107 530.5h1M5 546.5h2M105 546.5h1M99 563.5h1M109 563.5h1M9 579.5h1M105 579.5h1M107 579.5h1M91 717.5h1M91 741.5h1M107 741.5h1M7 780.5h1M9 780.5h1M19 780.5h1"/>
<path stroke="#00c9ff" stroke-width="2" d="M1 258h1M6 262h1M5 267h1M14 267h2M28 267h1M9 273h1M12 273h1M15 273h1M26 273h1M44 273h1M2 275h2M13 275h2M30 275h1M35 275h1M40 275h1M0 305h1M7 305h1M45 305h1M16 311h2M22 311h1M54 311h1M18 313h1M34 313h1M44 313h1M46 313h1M65 313h1M1 329h1M9 329h1M31 329h1M70 340h2M83 340h1M96 340h1M111 340h1M76 355h1M101 355h1M112 355h1M115 355h1M117 355h2M86 360h1M102 360h1M104 360h2M115 360h1M118 360h1M84 362h1M104 362h1M110 362h1M114 362h1M87 364h2M99 364h1M98 366h1M105 366h1M99 392h2M96 394h1M98 410h1M92 446h1M97 446h1M101 446h1M5 490h1M4 495h1M6 495h1M0 497h1M105 497h1M7 506h1M5 511h1M94 516h1M97 535h2M101 535h1M10 537h1M104 537h1M107 537h2M5 539h1M7 539h1M96 539h1M108 542h1M8 548h1M11 548h1M96 548h1M101 548h1M98 558h2M105 558h1M1 565h1M104 589h1M90 740h1M117 746h1"/>
<path stroke="#00c9ff" stroke-width="3" d="M1 207.5h1M4 207.5h3M10 207.5h1M17 207.5h1M19 207.5h1M27 207.5h1M52 207.5h1M0 210.5h1M18 210.5h1M24 210.5h1M6 220.5h1M40 264.5h1M17 277.5h1M21 277.5h1M42 277.5h1M48 277.5h1M63 277.5h1M3 280.5h1M5 280.5h1M12 280.5h1M22 280.5h1M48 280.5h1M58 280.5h1M12 283.5h1M14 283.5h2M30 283.5h1M33 283.5h1M45 283.5h1M52 283.5h1M67 283.5h1M4 286.5h1M18 286.5h1M10 293.5h1M26 293.5h2M29 293.5h1M48 293.5h1M59 293.5h1M61 293.5h1M32 296.5h2M48 296.5h1M50 296.5h3M7 299.5h1M29 299.5h1M40 299.5h1M50 299.5h1M53 299.5h1M57 299.5h1M60 299.5h1M62 299.5h1M16 302.5h1M24 302.5h1M35 302.5h1M38 302.5h1M42 302.5h1M47 302.5h1M53 302.5h1M65 302.5h1M15 324.5h1M76 324.5h1M79 324.5h1M68 333.5h1M73 333.5h1M77 333.5h1M46 342.5h1M58 342.5h1M84 342.5h1M112 342.5h1M118 342.5h1M71 349.5h1M75 349.5h1M81 349.5h1M83 349.5h1M114 349.5h1M88 352.5h1M96 352.5h1M98 352.5h1M110 352.5h1M113 352.5h1M37 357.5h1M84 357.5h1M98 357.5h1M108 357.5h1M91 380.5h1M100 380.5h1M97 389.5h1M100 397.5h1M90 400.5h1M101 403.5h1M101 407.5h1M99 422.5h2M90 433.5h1M95 433.5h1M91 436.5h1M100 436.5h1M1 448.5h1M94 454.5h1M107 454.5h1M103 464.5h1M92 469.5h1M93 477.5h1M105 482.5h1M0 492.5h1M1 499.5h1M97 508.5h1M1 513.5h2M100 513.5h1M7 518.5h1M5 524.5h1M93 524.5h1M95 524.5h1M99 524.5h1M107 524.5h1M1 532.5h1M3 544.5h1M1 561.5h1M5 561.5h1M3 574.5h1M9 574.5h1M2 595.5h1M113 728.5h1M95 737.5h1M98 737.5h1M104 737.5h2M100 743.5h1M117 748.5h1M55 764.5h1M6 770.5h1M46 770.5h1"/>
<path stroke="#00c9ff" stroke-width="4" d="M51 204h1M60 204h1M68 204h1M73 204h1M93 204h1M97 204h2M110 204h1M113 204h1M119 204h1M7 214h1M11 214h1M14 239h1M11 270h1M45 270h1M4 290h1M6 290h1M12 290h1M16 290h1M25 290h1M28 290h2M58 290h1M14 308h1M53 308h1M24 316h1M27 316h1M39 316h1M69 316h1M116 316h1M16 321h1M34 321h1M47 321h1M50 321h1M56 321h1M70 321h1M80 321h1M106 321h1M2 337h1M78 337h1M26 346h1M44 346h1M80 346h2M104 346h1M107 346h1M115 346h1M89 369h1M97 384h1M94 413h1M91 417h1M93 417h1M98 417h1M91 426h1M100 426h1M90 430h1M0 503h1M7 503h1M106 503h1M99 528h1M2 551h1M6 551h1M104 551h1M96 555h1M1 570h1M7 570h1M10 570h1M108 582h1M99 599h1M5 752h1M3 758h1M65 758h1M1 778h1M41 778h1"/>
<path stroke="#00deff" stroke-width="1" d="M15 318.5h1M22 318.5h1M45 326.5h1M47 326.5h1M78 326.5h2M94 326.5h1M105 326.5h1M72 327.5h2M89 327.5h1M39 330.5h1M81 330.5h1M106 330.5h1M9 331.5h1M26 331.5h1M58 331.5h1M73 331.5h1M76 331.5h1M84 331.5h1M89 371.5h1M91 372.5h1M93 372.5h1M99 372.5h1M96 395.5h1M97 405.5h1M104 475.5h1M119 530.5h1M0 540.5h1M4 540.5h2M103 540.5h1M112 540.5h1M4 546.5h1M102 546.5h1M9 559.5h1M104 559.5h1M108 559.5h1M98 563.5h1M7 572.5h1M109 741.5h1M3 780.5h1M32 780.5h1M6 781.5h1"/>
<path stroke="#00deff" stroke-width="2" d="M6 227h1M4 230h1M15 230h1M22 232h1M0 253h1M6 258h1M22 260h1M2 262h1M22 262h2M38 262h1M0 267h1M7 267h1M39 267h1M51 267h1M13 273h1M21 273h1M23 273h1M42 273h1M10 275h2M24 275h1M26 275h1M28 275h1M4 305h1M6 305h1M23 305h1M28 305h1M54 305h1M58 305h1M62 305h2M103 305h1M2 311h1M41 311h1M46 311h1M62 311h1M5 313h1M33 313h1M53 313h1M64 313h1M66 313h1M68 313h1M29 329h1M73 329h1M86 329h1M106 329h1M2 340h1M85 340h1M98 340h1M82 355h1M102 355h1M107 355h1M88 362h1M113 362h1M98 364h1M101 366h1M91 374h1M99 374h1M90 387h1M94 387h1M99 387h1M93 394h1M85 410h1M91 410h1M92 420h1M94 420h1M97 420h2M92 443h1M97 443h1M101 443h1M104 485h1M2 490h1M73 490h1M105 490h1M10 495h1M106 506h1M9 511h1M98 511h1M3 516h1M97 516h1M101 516h1M60 535h1M95 535h1M102 535h1M5 537h1M7 537h1M97 537h1M106 537h1M98 539h1M4 542h1M98 542h1M101 542h2M105 542h1M1 548h1M3 548h2M97 548h1M108 558h2M109 565h1M5 567h1M99 589h1M109 731h1M102 740h2M108 740h1M85 746h1M5 755h1"/>
<path stroke="#00deff" stroke-width="3" d="M2 207.5h1M7 207.5h1M9 207.5h1M12 207.5h1M23 207.5h1M26 207.5h1M34 207.5h1M37 207.5h2M46 207.5h1M53 207.5h1M68 207.5h1M6 210.5h1M29 210.5h1M33 210.5h1M39 210.5h1M3 217.5h1M15 217.5h1M20 217.5h1M11 220.5h1M19 220.5h1M38 249.5h1M10 264.5h1M17 264.5h1M25 264.5h1M6 277.5h2M20 277.5h1M38 277.5h1M41 277.5h1M45 277.5h1M52 277.5h1M0 280.5h1M10 280.5h1M23 280.5h1M29 280.5h1M33 280.5h1M35 280.5h2M41 280.5h2M44 280.5h2M25 283.5h2M35 283.5h1M51 283.5h1M61 283.5h1M13 286.5h2M17 286.5h1M22 286.5h1M37 286.5h1M39 286.5h1M43 286.5h1M50 286.5h1M2 293.5h1M5 293.5h1M13 293.5h1M42 293.5h1M46 293.5h2M49 293.5h1M51 293.5h2M5 296.5h1M15 296.5h1M24 296.5h1M43 296.5h1M55 296.5h1M58 296.5h1M68 296.5h1M11 299.5h1M54 299.5h1M61 299.5h1M7 302.5h2M11 302.5h1M41 302.5h1M43 302.5h1M52 302.5h1M57 302.5h1M70 324.5h1M7 333.5h1M76 333.5h1M102 333.5h1M112 333.5h1M14 342.5h1M50 342.5h1M78 342.5h2M104 342.5h1M111 342.5h1M115 342.5h1M10 349.5h1M67 349.5h1M76 349.5h1M92 349.5h1M106 349.5h1M118 349.5h1M81 352.5h1M102 352.5h3M112 352.5h1M36 357.5h1M104 357.5h1M109 357.5h1M89 380.5h1M98 380.5h1M99 389.5h1M101 397.5h1M91 400.5h1M95 407.5h1M98 407.5h1M98 422.5h1M103 454.5h1M104 472.5h1M104 477.5h1M6 482.5h1M98 513.5h2M96 518.5h1M98 518.5h1M106 518.5h1M3 521.5h1M2 524.5h1M97 524.5h1M106 524.5h1M3 532.5h1M6 532.5h1M0 544.5h2M14 544.5h1M97 544.5h1M0 561.5h1M4 561.5h1M3 606.5h1M109 606.5h1M97 737.5h1M108 743.5h1M110 743.5h1M83 748.5h1M6 767.5h1"/>
<path stroke="#00deff" stroke-width="4" d="M1 204h1M39 204h1M59 204h1M61 204h1M78 204h1M88 204h1M92 204h1M100 204h1M107 204h1M6 214h1M9 224h1M19 224h1M14 270h1M27 270h1M47 270h1M11 290h1M23 290h1M26 290h1M63 290h1M1 308h1M48 308h1M61 308h1M65 308h1M38 316h1M52 316h2M70 316h1M15 321h1M71 321h1M90 321h1M62 337h1M71 337h1M73 337h1M79 337h1M81 337h1M108 337h1M110 346h1M96 369h1M102 384h1M95 413h1M96 430h1M100 430h2M105 528h1M3 551h1M97 551h1M106 551h2M0 555h1M8 555h1M95 555h1M103 555h2M0 570h1M98 570h1M0 582h1M2 582h1M0 586h1M11 592h1M73 752h1M66 758h1M44 774h1M46 774h1M3 778h1M15 778h1"/>
<path stroke="#00eff7" stroke-width="1" d="M24 228.5h1M68 318.5h1M78 318.5h1M105 318.5h1M34 326.5h1M62 326.5h1M76 326.5h2M98 326.5h1M103 326.5h1M113 326.5h1M21 327.5h1M66 327.5h1M75 327.5h2M82 327.5h1M88 327.5h1M106 327.5h1M80 330.5h1M94 330.5h1M112 330.5h1M81 331.5h1M98 331.5h1M100 331.5h1M112 331.5h1M115 371.5h1M101 372.5h1M95 395.5h1M98 395.5h1M93 444.5h1M104 474.5h1M94 530.5h1M100 530.5h2M105 540.5h1M0 546.5h1M103 546.5h1M4 559.5h1M98 559.5h1M97 563.5h1M107 563.5h1M1 572.5h1M11 572.5h1M2 579.5h1M16 710.5h1M102 741.5h1M111 741.5h1"/>
<path stroke="#00eff7" stroke-width="2" d="M14 227h1M10 230h1M29 243h1M3 253h1M14 253h1M0 258h1M35 260h1M5 262h1M10 262h1M13 262h1M25 262h1M6 267h1M16 267h1M19 267h1M24 267h1M26 267h2M44 267h1M1 273h1M18 273h1M29 273h1M32 273h2M36 273h1M40 273h1M50 273h1M1 275h1M7 275h1M15 275h1M17 275h2M38 275h1M44 275h1M46 275h1M57 275h1M15 305h1M55 305h1M66 305h1M68 305h1M75 305h1M40 311h1M47 311h1M59 311h1M64 311h1M67 311h1M76 311h1M115 311h1M4 313h1M22 313h1M54 313h1M59 313h1M63 313h1M74 313h1M76 313h1M83 313h1M71 329h1M74 329h3M82 329h1M95 329h1M103 329h1M107 329h1M117 329h1M3 340h1M112 340h1M115 340h1M81 355h1M93 355h1M108 355h1M113 355h1M116 355h1M119 355h1M87 360h1M95 360h1M99 362h1M101 362h1M106 362h1M96 364h1M107 364h1M87 366h1M100 366h1M97 374h1M90 392h1M96 392h2M99 394h1M95 410h1M96 420h1M93 443h1M93 446h1M7 467h1M93 480h1M104 487h2M93 490h1M2 497h1M95 511h1M105 511h1M4 516h1M7 535h1M105 537h1M0 539h1M102 539h1M5 548h1M7 548h1M10 548h1M102 548h1M106 548h1M0 558h1M2 558h1M97 558h1M107 558h1M106 565h1M105 567h1M2 660h1M94 740h1M98 740h1M110 740h1M70 755h1M74 755h1M78 755h1"/>
<path stroke="#00eff7" stroke-width="3" d="M16 207.5h1M29 207.5h1M36 207.5h1M42 207.5h1M49 207.5h1M62 207.5h1M71 207.5h1M7 210.5h4M20 210.5h1M27 210.5h1M32 210.5h1M56 210.5h1M66 210.5h1M17 217.5h1M22 217.5h1M29 217.5h1M7 220.5h1M4 255.5h1M6 264.5h1M11 264.5h1M21 264.5h1M26 264.5h1M3 277.5h2M11 277.5h1M23 277.5h1M29 277.5h1M56 277.5h1M9 280.5h1M13 280.5h1M28 280.5h1M30 280.5h1M47 280.5h1M53 280.5h3M1 283.5h1M4 283.5h2M9 283.5h1M22 283.5h1M27 283.5h2M41 283.5h1M44 283.5h1M46 283.5h1M53 283.5h1M1 286.5h1M9 286.5h1M11 286.5h1M21 286.5h1M28 286.5h1M32 286.5h1M34 286.5h1M48 286.5h1M53 286.5h1M67 286.5h1M95 286.5h1M36 293.5h1M44 293.5h1M57 293.5h1M0 296.5h1M37 296.5h1M53 296.5h1M63 296.5h1M8 299.5h1M24 299.5h1M52 299.5h1M58 299.5h2M71 299.5h1M12 302.5h1M62 302.5h1M67 302.5h2M2 324.5h1M73 324.5h1M86 324.5h1M84 333.5h1M111 333.5h1M118 333.5h1M97 342.5h1M108 342.5h2M77 349.5h1M82 349.5h1M84 349.5h1M89 349.5h1M116 349.5h2M85 352.5h1M101 352.5h1M117 352.5h1M115 357.5h1M95 380.5h1M96 389.5h1M90 397.5h3M96 397.5h1M95 400.5h1M100 400.5h1M92 403.5h1M100 403.5h1M94 407.5h1M91 422.5h1M91 440.5h1M104 469.5h1M93 482.5h1M98 499.5h1M106 508.5h1M79 513.5h1M94 518.5h1M97 518.5h1M1 524.5h1M6 524.5h1M105 524.5h1M101 532.5h1M5 544.5h1M106 544.5h1M95 561.5h1M98 561.5h1M106 561.5h1M1 577.5h1M87 577.5h1M21 642.5h1M103 737.5h1M85 743.5h1M99 743.5h1M82 748.5h1M56 764.5h1"/>
<path stroke="#00eff7" stroke-width="4" d="M54 204h1M58 204h1M86 204h1M95 204h1M108 204h1M115 204h1M4 214h1M14 214h1M12 270h1M19 270h1M21 270h1M29 270h1M35 270h1M49 270h1M52 270h1M9 290h1M15 290h1M17 290h1M45 290h1M48 290h1M60 290h1M62 290h1M43 308h1M58 308h1M68 308h1M72 308h1M7 316h1M64 316h1M67 316h1M77 316h1M53 321h1M74 321h2M95 321h1M98 321h2M76 337h2M93 337h1M117 337h1M74 346h1M82 346h1M84 346h1M86 346h1M102 346h1M108 346h1M117 346h1M88 369h1M94 377h3M99 377h2M95 384h1M98 384h2M119 384h1M97 413h1M92 417h1M94 417h1M96 426h1M97 430h1M97 528h1M101 528h1M1 551h1M102 551h1M5 570h1M106 570h1M108 635h1M80 752h1M68 758h1"/>
<path stroke="#00f9e3" stroke-width="1" d="M11 228.5h1M56 228.5h1M3 241.5h1M6 247.5h1M11 247.5h1M3 251.5h1M70 318.5h1M80 318.5h1M100 318.5h1M108 318.5h1M100 326.5h1M106 326.5h1M117 326.5h2M86 327.5h1M103 327.5h1M112 327.5h1M118 327.5h1M41 330.5h1M101 330.5h1M108 330.5h1M113 330.5h2M75 331.5h1M102 331.5h1M111 331.5h1M118 331.5h1M95 371.5h1M89 372.5h1M100 372.5h1M118 372.5h1M90 395.5h1M92 395.5h1M94 405.5h1M96 405.5h1M101 438.5h1M93 475.5h1M0 488.5h1M1 530.5h1M95 530.5h1M99 530.5h1M105 530.5h2M104 540.5h1M14 546.5h1M106 559.5h1M103 563.5h1M97 741.5h1M106 741.5h1M1 780.5h1M42 780.5h1M0 781.5h2M41 781.5h1"/>
<path stroke="#00f9e3" stroke-width="2" d="M4 227h1M19 253h2M3 258h1M7 258h1M13 258h1M14 260h1M20 260h1M32 260h1M38 260h1M41 260h1M3 262h1M12 262h1M14 262h1M1 267h1M8 267h1M12 267h1M21 267h1M32 267h1M34 267h2M52 267h1M0 273h1M4 273h1M10 273h2M17 273h1M20 273h1M22 273h1M25 273h1M27 273h2M35 273h1M41 273h1M45 273h1M53 273h1M57 273h1M59 273h1M4 275h2M9 275h1M29 275h1M37 275h1M3 305h1M36 305h1M57 305h1M59 305h1M71 305h1M117 305h1M9 311h1M70 311h1M79 311h1M88 311h1M91 311h1M109 311h1M17 313h1M71 313h1M73 313h1M88 313h1M91 313h1M98 313h1M103 313h1M79 329h1M88 329h1M108 329h1M0 340h1M105 340h1M116 340h1M83 355h1M89 355h1M104 355h1M106 355h1M111 355h1M34 360h1M36 360h1M97 360h1M83 362h1M96 362h1M100 364h2M91 366h1M101 374h1M97 387h1M100 387h1M92 392h1M94 392h2M90 394h1M98 394h1M100 394h1M93 410h1M96 410h1M91 446h1M100 446h1M7 495h1M104 495h1M0 506h1M98 506h1M105 506h1M106 511h1M2 516h1M98 516h1M100 516h1M1 535h1M96 535h1M2 537h1M101 537h1M103 537h1M95 539h1M95 548h1M5 558h1M2 565h1M98 565h1M0 567h1M3 567h1M12 740h1M87 740h1M101 740h1M104 740h1M107 740h1M69 755h1M71 755h1M76 755h1"/>
<path stroke="#00f9e3" stroke-width="3" d="M15 207.5h1M21 207.5h1M35 207.5h1M43 207.5h1M74 207.5h1M82 207.5h1M1 210.5h1M35 210.5h1M45 210.5h1M47 210.5h2M50 210.5h1M5 217.5h1M7 217.5h1M16 217.5h1M18 217.5h1M0 220.5h1M3 220.5h2M3 245.5h1M15 249.5h1M13 255.5h1M2 264.5h1M5 264.5h1M9 264.5h1M14 264.5h1M16 264.5h1M41 264.5h1M24 277.5h1M26 277.5h1M53 277.5h2M1 280.5h1M15 280.5h1M51 280.5h1M60 280.5h1M65 280.5h1M13 283.5h1M24 283.5h1M38 283.5h1M55 283.5h1M57 283.5h1M59 283.5h1M63 283.5h1M68 283.5h1M2 286.5h1M19 286.5h1M38 286.5h1M45 286.5h1M83 286.5h1M8 293.5h1M34 293.5h1M37 293.5h1M45 293.5h1M62 293.5h1M6 296.5h1M60 296.5h1M69 296.5h1M75 296.5h1M89 296.5h1M105 296.5h1M48 299.5h1M55 299.5h1M65 299.5h1M76 302.5h1M118 302.5h1M74 324.5h2M80 324.5h1M113 324.5h1M37 333.5h1M72 333.5h1M75 333.5h1M98 333.5h1M119 333.5h1M88 342.5h1M100 342.5h1M113 342.5h1M91 349.5h1M94 349.5h2M98 349.5h1M105 349.5h1M113 349.5h1M80 352.5h1M94 352.5h1M99 352.5h1M87 357.5h1M89 357.5h1M97 357.5h1M100 357.5h1M105 357.5h1M118 357.5h1M97 380.5h1M101 380.5h1M90 389.5h1M93 397.5h1M94 400.5h1M97 400.5h1M91 407.5h1M100 407.5h1M96 422.5h1M98 433.5h1M101 433.5h1M93 436.5h2M92 440.5h1M98 454.5h1M100 454.5h1M102 454.5h1M93 472.5h1M16 477.5h1M0 482.5h1M104 482.5h1M5 499.5h1M98 508.5h1M5 518.5h1M102 521.5h1M106 521.5h1M4 532.5h1M96 532.5h1M6 544.5h1M106 577.5h1M23 642.5h1M25 642.5h1M93 737.5h1M101 743.5h1M46 767.5h1M51 767.5h1M48 770.5h1"/>
<path stroke="#00f9e3" stroke-width="4" d="M40 204h1M72 204h1M105 204h1M12 214h2M16 214h1M19 214h1M28 224h1M16 239h1M0 270h1M2 270h1M5 270h1M13 270h1M15 270h1M24 270h2M37 270h1M46 270h1M0 290h1M32 290h1M37 290h1M44 290h1M47 290h1M50 290h1M59 290h1M64 290h1M66 290h1M50 308h1M56 308h1M64 308h1M66 308h1M70 308h1M75 308h1M71 316h1M73 316h1M76 316h1M84 316h1M97 316h1M105 316h1M115 316h1M76 321h1M79 321h1M101 321h1M80 337h1M83 337h1M86 337h2M102 337h1M113 337h1M118 337h1M85 346h1M91 346h1M95 346h2M113 346h1M92 369h1M101 369h1M93 377h1M97 377h2M96 384h1M98 413h1M96 417h1M95 430h1M102 461h1M2 503h1M4 503h1M11 528h1M106 528h2M96 551h1M105 551h1M1 555h2M107 555h1M74 752h1M115 752h1M119 752h1M64 758h1M2 778h1"/>
<path stroke="#00ffcd" stroke-width="1" d="M7 228.5h1M25 228.5h2M6 241.5h1M15 247.5h1M0 251.5h1M6 251.5h2M18 251.5h1M87 318.5h1M74 326.5h1M114 326.5h2M77 327.5h1M81 327.5h1M85 327.5h1M109 327.5h1M111 327.5h1M114 327.5h1M116 327.5h1M77 330.5h1M79 330.5h1M92 330.5h1M98 330.5h1M104 330.5h1M118 330.5h1M72 331.5h1M83 331.5h1M89 331.5h1M93 331.5h2M97 331.5h1M105 331.5h1M108 331.5h1M114 331.5h1M116 331.5h2M92 371.5h1M98 371.5h1M100 371.5h1M98 372.5h1M91 395.5h1M93 395.5h1M97 395.5h1M93 405.5h1M96 438.5h1M95 444.5h1M98 444.5h1M3 474.5h1M104 488.5h1M103 530.5h1M107 540.5h1M1 546.5h1M97 546.5h1M106 546.5h1M96 563.5h1M90 717.5h1M88 741.5h1M92 741.5h1M41 780.5h1"/>
<path stroke="#00ffcd" stroke-width="2" d="M7 227h1M26 227h1M4 232h1M6 232h1M8 232h1M11 232h1M19 232h1M12 243h1M5 253h1M2 258h1M4 258h1M10 258h1M16 258h1M20 258h1M30 258h1M34 258h1M38 258h1M41 258h1M5 260h1M8 260h1M13 260h1M17 260h1M30 260h1M0 262h2M15 262h1M26 262h1M28 262h2M4 267h1M10 267h1M30 267h2M40 267h1M46 267h1M5 273h2M24 273h1M38 273h1M49 273h1M58 273h1M64 273h1M109 273h1M6 275h1M22 275h1M27 275h1M39 275h1M42 275h1M53 305h1M67 305h1M65 311h1M69 311h1M71 311h1M97 311h1M106 311h1M108 311h1M112 311h1M75 313h1M99 313h1M106 313h1M118 313h1M72 329h1M85 329h1M90 329h1M93 329h1M100 329h1M110 329h1M115 329h1M119 329h1M78 340h1M82 340h1M84 340h1M87 340h2M91 340h1M97 340h1M99 340h1M108 340h2M117 340h2M85 355h1M87 355h1M96 360h1M93 364h1M92 366h1M96 366h1M94 374h1M96 374h1M95 387h1M92 410h1M100 410h1M94 443h2M94 490h1M98 490h1M94 497h1M96 506h1M107 535h1M96 537h1M103 539h1M107 539h1M106 542h1M4 589h1M105 740h1M109 746h1M112 746h2M73 755h1"/>
<path stroke="#00ffcd" stroke-width="3" d="M32 207.5h1M47 207.5h2M51 207.5h1M60 207.5h2M66 207.5h1M69 207.5h1M78 207.5h2M81 207.5h1M85 207.5h1M16 210.5h2M36 210.5h3M40 210.5h2M44 210.5h1M55 210.5h1M61 210.5h1M63 210.5h1M2 217.5h1M6 217.5h1M8 217.5h1M28 217.5h1M43 217.5h1M1 220.5h1M5 220.5h1M16 220.5h1M20 220.5h1M35 220.5h1M1 255.5h1M3 255.5h1M12 255.5h1M19 255.5h1M27 255.5h1M35 255.5h1M1 264.5h1M3 264.5h2M15 264.5h1M22 264.5h1M24 264.5h1M9 277.5h1M18 277.5h1M33 277.5h1M37 277.5h1M39 277.5h1M44 277.5h1M46 277.5h2M55 277.5h1M90 277.5h1M6 280.5h1M8 280.5h1M21 280.5h1M24 280.5h2M34 280.5h1M39 280.5h1M43 280.5h1M49 280.5h1M56 280.5h1M0 283.5h1M17 283.5h1M34 283.5h1M39 283.5h1M47 283.5h1M56 283.5h1M23 286.5h1M31 286.5h1M35 286.5h1M41 286.5h1M47 286.5h1M55 286.5h1M58 286.5h1M62 286.5h2M68 293.5h1M3 296.5h1M18 296.5h1M49 296.5h1M83 296.5h1M93 296.5h1M111 296.5h1M44 299.5h1M63 299.5h1M68 299.5h1M70 299.5h1M74 299.5h1M77 299.5h1M109 299.5h1M20 302.5h1M63 302.5h1M73 302.5h1M79 302.5h1M97 302.5h1M66 324.5h1M72 324.5h1M78 324.5h1M82 324.5h1M100 324.5h1M107 324.5h1M110 324.5h2M83 333.5h1M89 333.5h2M96 333.5h1M101 333.5h1M105 333.5h2M114 333.5h2M81 342.5h1M87 342.5h1M92 342.5h3M99 342.5h1M106 342.5h1M110 342.5h1M119 342.5h1M85 349.5h2M90 349.5h1M96 349.5h1M99 349.5h1M102 349.5h1M108 349.5h1M87 352.5h1M89 352.5h1M108 352.5h1M111 352.5h1M88 357.5h1M90 357.5h1M93 357.5h1M101 357.5h1M106 357.5h1M117 357.5h1M94 380.5h1M95 397.5h1M96 400.5h1M94 403.5h1M98 403.5h1M101 422.5h1M93 433.5h1M96 433.5h2M100 440.5h1M97 448.5h1M102 448.5h1M93 451.5h1M102 451.5h1M101 457.5h1M94 482.5h1M94 499.5h1M105 499.5h1M99 508.5h1M105 518.5h1M1 521.5h1M98 521.5h1M96 524.5h1M100 524.5h1M95 532.5h1M105 532.5h1M96 544.5h1M102 544.5h1M104 544.5h1M105 561.5h1M97 574.5h1M26 642.5h1M89 743.5h1M107 743.5h1M111 743.5h1M81 748.5h1M85 748.5h1M100 748.5h1M116 748.5h1M59 761.5h2M47 770.5h1M51 770.5h1"/>
<path stroke="#00ffcd" stroke-width="4" d="M89 204h1M103 204h1M114 204h1M9 214h1M31 214h1M46 214h2M50 214h1M4 224h1M10 224h1M21 224h1M27 235h1M8 239h1M29 239h1M4 270h1M6 270h1M9 270h2M20 270h1M23 270h1M26 270h1M31 270h1M33 270h1M22 290h1M55 290h1M63 308h1M67 308h1M83 308h1M99 308h1M108 308h1M23 316h1M30 316h1M68 316h1M75 316h1M79 316h1M92 316h1M96 316h1M113 316h1M67 321h1M72 321h2M86 321h1M89 321h1M82 337h1M85 337h1M94 337h1M97 337h1M103 337h2M107 337h1M115 337h1M100 346h1M103 346h1M112 346h1M118 346h2M97 369h1M100 384h1M101 413h1M99 417h1M92 430h1M94 430h1M105 503h1M108 555h1M96 570h1M1 752h1M79 752h1M114 752h1M69 758h1M45 774h1"/>
<path stroke="#00ffb5" stroke-width="1" d="M12 228.5h1M18 228.5h1M27 228.5h1M30 228.5h1M0 241.5h1M5 241.5h1M9 241.5h1M37 241.5h1M10 247.5h1M21 247.5h1M25 247.5h1M27 247.5h1M4 251.5h1M13 251.5h1M17 251.5h1M22 251.5h1M75 318.5h1M79 318.5h1M81 318.5h1M84 318.5h1M92 318.5h1M116 318.5h1M82 326.5h1M85 326.5h1M96 326.5h1M102 326.5h1M104 326.5h1M107 326.5h2M110 326.5h1M116 326.5h1M71 327.5h1M80 327.5h1M83 327.5h1M91 327.5h1M93 327.5h1M96 327.5h2M104 327.5h1M117 327.5h1M91 330.5h1M100 330.5h1M103 330.5h1M110 330.5h2M115 330.5h1M119 330.5h1M85 331.5h1M92 331.5h1M104 331.5h1M115 331.5h1M93 371.5h2M95 372.5h2M91 405.5h2M99 405.5h1M92 438.5h1M94 438.5h1M98 438.5h1M94 444.5h1M97 444.5h1M101 444.5h1M97 530.5h1M102 530.5h1M104 546.5h1M106 563.5h1M100 572.5h1M98 741.5h1M110 741.5h1M2 781.5h1"/>
<path stroke="#00ffb5" stroke-width="2" d="M1 227h2M16 227h1M19 227h1M21 230h1M23 230h1M30 230h1M36 230h1M12 232h2M29 232h1M38 232h1M20 243h1M11 253h1M13 253h1M17 253h1M28 253h1M39 253h1M64 253h1M5 258h1M8 258h1M12 258h1M23 258h2M29 258h1M9 260h2M28 260h1M43 260h1M7 262h1M18 262h1M20 262h1M27 262h1M50 262h1M53 262h1M11 267h1M13 267h1M23 267h1M29 267h1M42 267h1M50 267h1M54 267h1M8 273h1M19 273h1M39 273h1M47 273h1M51 273h1M63 273h1M32 275h1M41 275h1M43 275h1M45 275h1M54 275h1M56 275h1M58 275h1M61 275h2M75 275h1M44 311h1M73 311h1M83 311h1M90 311h1M101 311h1M103 311h1M107 311h1M110 311h2M119 311h1M72 313h1M85 313h1M95 313h1M107 313h1M115 313h1M80 329h1M87 329h1M94 329h1M111 329h1M86 340h1M100 340h1M106 340h1M110 340h1M113 340h2M91 355h1M103 355h1M93 360h2M101 360h1M89 362h1M91 362h2M98 362h1M90 364h1M93 366h1M90 374h1M93 374h1M95 374h1M100 374h1M92 387h1M93 392h1M91 394h1M94 394h1M97 410h1M97 467h1M103 480h2M94 485h1M104 490h1M95 506h1M100 511h1M95 516h1M105 516h1M106 535h1M3 537h1M1 539h1M105 539h1M97 542h1M107 542h1M89 740h1M99 746h1M72 755h1M119 755h1"/>
<path stroke="#00ffb5" stroke-width="3" d="M8 207.5h1M31 207.5h1M33 207.5h1M44 207.5h1M55 207.5h1M64 207.5h1M75 207.5h2M106 207.5h1M108 207.5h2M112 207.5h1M118 207.5h1M23 210.5h1M46 210.5h1M49 210.5h1M52 210.5h1M54 210.5h1M58 210.5h1M72 210.5h1M76 210.5h1M82 210.5h1M14 217.5h1M25 217.5h1M27 217.5h1M2 220.5h1M8 220.5h1M10 220.5h1M12 220.5h1M18 220.5h1M24 220.5h1M26 220.5h1M0 245.5h1M2 249.5h1M23 249.5h1M40 249.5h1M37 255.5h1M8 264.5h1M19 264.5h1M27 264.5h1M29 264.5h1M33 264.5h2M39 264.5h1M52 264.5h1M0 277.5h2M5 277.5h1M15 277.5h1M34 277.5h1M60 277.5h1M27 280.5h1M40 280.5h1M61 280.5h1M67 280.5h1M18 283.5h1M40 283.5h1M58 283.5h1M60 283.5h1M62 283.5h1M64 283.5h1M12 286.5h1M30 286.5h1M40 286.5h1M64 286.5h1M69 286.5h1M9 293.5h1M20 293.5h1M63 293.5h1M70 293.5h2M77 293.5h1M90 293.5h1M113 293.5h1M31 296.5h1M61 296.5h1M67 296.5h1M72 296.5h1M64 299.5h1M76 299.5h1M112 299.5h1M117 299.5h2M66 302.5h1M70 302.5h1M77 302.5h1M105 302.5h1M83 324.5h1M112 324.5h1M79 333.5h1M86 333.5h1M88 333.5h1M93 333.5h1M97 333.5h1M103 333.5h1M109 333.5h1M113 333.5h1M116 333.5h2M86 342.5h1M89 342.5h1M98 342.5h1M117 342.5h1M101 349.5h1M103 349.5h1M107 349.5h1M110 349.5h1M112 349.5h1M119 349.5h1M82 352.5h1M119 352.5h1M33 357.5h1M99 357.5h1M102 357.5h2M90 380.5h1M91 389.5h1M98 400.5h1M99 403.5h1M96 407.5h1M94 422.5h2M97 422.5h1M92 433.5h1M99 433.5h1M92 436.5h1M95 436.5h1M98 436.5h1M95 451.5h1M92 454.5h1M93 469.5h1M95 508.5h1M105 508.5h1M95 513.5h3M106 513.5h1M100 518.5h1M97 521.5h1M101 521.5h1M105 521.5h1M98 524.5h1M101 524.5h1M7 561.5h1M90 743.5h1M102 743.5h1M84 748.5h1M57 761.5h1M62 761.5h1M53 767.5h1M49 770.5h2"/>
<path stroke="#00ffb5" stroke-width="4" d="M67 204h1M1 214h1M3 214h1M5 214h1M8 214h1M10 214h1M18 214h1M20 214h1M23 214h1M41 214h1M24 224h1M26 224h2M1 235h1M4 235h2M20 235h1M28 235h1M7 239h1M9 239h1M19 239h2M1 270h1M8 270h1M28 270h1M30 270h1M38 270h2M51 270h1M53 270h1M65 290h1M69 290h1M39 308h1M69 308h1M71 308h1M73 308h1M76 308h2M79 308h1M110 308h1M74 316h1M80 316h1M86 316h3M114 316h1M85 321h1M87 321h1M93 321h1M103 321h1M105 321h1M108 321h1M110 321h2M89 337h1M96 337h1M98 337h1M105 337h1M92 346h1M94 346h1M105 346h1M91 369h1M92 377h1M93 413h1M92 426h1M97 426h2M93 430h1M99 503h1M95 528h1M4 555h1M96 586h1M81 752h1M47 774h1M44 778h1"/>
<path stroke="#00ff9d" stroke-width="1" d="M9 228.5h2M43 228.5h1M11 241.5h1M17 241.5h1M19 241.5h1M26 241.5h1M28 241.5h1M42 241.5h1M13 247.5h1M19 247.5h2M5 251.5h1M9 251.5h1M11 251.5h1M21 251.5h1M38 251.5h1M77 318.5h1M82 318.5h2M86 318.5h1M98 318.5h1M101 318.5h1M109 318.5h1M114 318.5h1M117 318.5h1M119 318.5h1M27 326.5h1M83 326.5h1M87 326.5h1M91 326.5h1M95 326.5h1M97 326.5h1M101 326.5h1M109 326.5h1M112 326.5h1M90 327.5h1M92 327.5h1M95 327.5h1M105 327.5h1M108 327.5h1M110 327.5h1M83 330.5h2M87 330.5h1M89 330.5h1M97 330.5h1M99 330.5h1M102 330.5h1M107 330.5h1M109 330.5h1M78 331.5h1M86 331.5h1M101 331.5h1M91 371.5h1M97 371.5h1M94 372.5h1M97 372.5h1M95 438.5h1M92 444.5h1M93 474.5h1M98 475.5h1M96 530.5h1M104 530.5h1M103 741.5h1M105 741.5h1"/>
<path stroke="#00ff9d" stroke-width="2" d="M8 227h2M12 227h1M20 227h1M23 227h1M38 227h1M40 227h1M50 227h1M60 227h1M1 230h1M5 230h1M33 230h2M37 230h2M2 232h1M21 232h1M25 232h1M10 243h1M18 243h1M33 243h1M8 253h1M16 253h1M21 253h2M25 253h1M9 258h1M14 258h1M22 258h1M26 258h2M40 258h1M42 258h1M45 258h1M57 258h1M0 260h1M3 260h1M7 260h1M11 260h2M33 260h1M36 260h1M44 260h1M46 260h1M48 260h1M8 262h2M17 262h1M34 262h2M39 262h2M44 262h1M46 262h2M63 262h1M97 262h1M2 267h1M18 267h1M25 267h1M38 267h1M48 267h1M53 267h1M58 267h1M65 267h1M104 267h1M43 273h1M48 273h1M52 273h1M72 273h1M33 275h1M36 275h1M47 275h1M49 275h3M55 275h1M64 275h1M70 275h1M86 275h1M60 305h1M77 305h2M80 305h1M85 305h1M104 305h2M113 305h1M75 311h1M77 311h1M92 311h2M95 311h1M116 311h1M67 313h1M69 313h2M78 313h1M94 313h1M100 313h1M105 313h1M108 313h1M111 313h1M83 329h1M98 329h1M113 329h2M93 340h2M102 340h1M119 340h1M96 355h1M98 355h1M100 355h1M114 355h1M90 360h1M94 362h1M94 366h1M96 387h1M95 394h1M96 443h1M94 446h1M98 485h1M98 495h1M103 497h2M4 535h1M105 535h1M103 548h2M97 740h1M87 746h1M108 746h1M77 755h1"/>
<path stroke="#00ff9d" stroke-width="3" d="M41 207.5h1M50 207.5h1M58 207.5h1M67 207.5h1M77 207.5h1M80 207.5h1M87 207.5h2M113 207.5h1M115 207.5h1M117 207.5h1M21 210.5h1M25 210.5h1M31 210.5h1M53 210.5h1M57 210.5h1M64 210.5h2M0 217.5h1M4 217.5h1M11 217.5h1M19 217.5h1M24 217.5h1M26 217.5h1M30 217.5h1M35 217.5h1M50 217.5h1M60 217.5h1M9 220.5h1M15 220.5h1M27 220.5h1M30 220.5h1M34 220.5h1M42 220.5h1M9 245.5h1M11 245.5h2M24 245.5h1M26 245.5h1M36 245.5h1M7 249.5h1M10 249.5h2M16 249.5h2M19 249.5h2M30 255.5h1M38 255.5h1M0 264.5h1M13 264.5h1M28 264.5h1M32 264.5h1M37 264.5h1M49 264.5h1M13 277.5h1M40 277.5h1M50 277.5h2M57 277.5h2M64 277.5h1M97 277.5h1M7 280.5h1M37 280.5h2M71 280.5h1M73 280.5h1M42 283.5h1M50 283.5h1M65 283.5h1M111 283.5h1M49 286.5h1M56 286.5h1M61 286.5h1M65 286.5h1M84 286.5h1M65 293.5h1M67 293.5h1M79 293.5h1M104 293.5h1M107 293.5h1M12 296.5h1M73 296.5h1M32 299.5h1M80 299.5h1M82 299.5h1M87 299.5h2M94 299.5h1M101 299.5h1M107 299.5h1M110 299.5h1M69 302.5h1M74 302.5h2M114 302.5h1M77 324.5h1M85 324.5h1M94 324.5h1M104 324.5h1M78 333.5h1M82 333.5h1M85 333.5h1M100 333.5h1M107 333.5h1M110 333.5h1M83 342.5h1M95 342.5h1M101 342.5h2M107 342.5h1M114 342.5h1M116 342.5h1M91 352.5h1M97 352.5h1M105 352.5h1M86 357.5h1M91 357.5h2M94 357.5h1M92 380.5h1M93 389.5h1M99 397.5h1M95 403.5h1M91 433.5h1M94 433.5h1M99 436.5h1M93 440.5h1M97 440.5h1M93 448.5h1M96 448.5h1M92 451.5h1M96 451.5h1M98 451.5h2M103 469.5h1M0 477.5h1M103 477.5h1M94 492.5h1M105 492.5h1M95 499.5h1M103 513.5h1M105 513.5h1M1 518.5h1M95 518.5h1M96 521.5h1M104 521.5h1M102 532.5h1M106 532.5h1M108 561.5h1M96 737.5h1M91 743.5h1M103 743.5h1M61 761.5h1M63 761.5h1M65 761.5h1M57 764.5h1M54 767.5h1"/>
<path stroke="#00ff9d" stroke-width="4" d="M96 204h1M0 214h1M24 214h1M28 214h2M32 214h1M35 214h2M49 214h1M6 224h1M14 224h1M17 224h1M23 224h1M62 224h1M10 235h1M17 235h1M21 235h1M43 235h1M2 239h1M17 239h1M21 239h1M25 239h1M27 239h1M7 270h1M22 270h1M36 270h1M42 270h1M50 270h1M55 270h1M57 270h1M72 270h1M61 290h1M67 290h1M72 290h3M88 290h1M99 290h1M101 290h1M74 308h1M100 308h2M105 308h1M112 308h2M78 316h1M91 316h1M94 316h1M103 316h2M108 316h1M77 321h2M83 321h1M88 321h1M91 321h1M96 321h2M107 321h1M88 337h1M92 337h1M100 337h1M112 337h1M116 337h1M119 337h1M83 346h1M89 346h1M93 346h1M97 346h2M90 369h1M90 377h1M93 384h2M95 417h1M95 426h1M98 461h1M103 461h1M98 503h1M100 503h1M105 555h1M93 734h1M72 752h1M83 752h1M118 752h1M6 778h1"/>
<path stroke="#00ff85" stroke-width="1" d="M4 228.5h2M13 228.5h1M16 228.5h2M20 228.5h1M34 228.5h1M1 241.5h1M15 241.5h1M20 241.5h1M47 241.5h1M8 247.5h2M12 247.5h1M18 247.5h1M22 247.5h1M45 247.5h1M14 251.5h1M16 251.5h1M19 251.5h1M25 251.5h1M95 318.5h1M102 318.5h1M106 318.5h1M112 318.5h1M115 318.5h1M86 326.5h1M90 326.5h1M92 326.5h1M74 327.5h1M87 327.5h1M94 327.5h1M113 327.5h1M85 330.5h1M88 330.5h1M90 330.5h1M95 330.5h2M105 330.5h1M116 330.5h1M87 331.5h1M90 331.5h1M109 331.5h2M119 331.5h1M92 372.5h1M98 405.5h1M100 405.5h1M99 438.5h2M94 488.5h1M102 540.5h1M108 563.5h1M104 741.5h1M4 781.5h1"/>
<path stroke="#00ff85" stroke-width="2" d="M3 227h1M10 227h1M15 227h1M31 227h2M34 227h1M62 227h1M14 230h1M24 230h1M29 230h1M32 230h1M42 230h1M3 232h1M5 232h1M7 232h1M17 232h1M30 232h1M39 232h1M41 232h1M14 243h1M19 243h1M24 243h1M26 243h1M41 243h1M18 253h1M23 253h1M47 253h1M11 258h1M44 258h1M49 258h1M52 258h1M4 260h1M6 260h1M15 260h1M21 260h1M29 260h1M37 260h1M42 260h1M54 260h1M74 260h1M11 262h1M16 262h1M19 262h1M21 262h1M24 262h1M42 262h1M45 262h1M48 262h2M55 262h1M105 262h1M3 267h1M17 267h1M20 267h1M41 267h1M60 267h1M30 273h1M54 273h1M67 273h1M48 275h1M53 275h1M67 275h1M93 275h1M69 305h2M74 305h1M88 305h1M91 305h1M99 305h1M106 305h1M110 305h1M119 305h1M72 311h1M78 311h1M81 311h1M84 311h1M86 311h1M113 311h1M117 311h2M77 313h1M79 313h1M82 313h1M84 313h1M86 313h1M90 313h1M97 313h1M101 313h2M112 313h1M119 313h1M77 329h1M81 329h1M84 329h1M92 329h1M96 329h1M101 329h1M112 329h1M80 340h1M92 355h1M95 355h1M97 355h1M92 360h1M99 360h1M97 362h1M100 362h1M89 364h1M92 364h1M95 364h1M97 366h1M92 374h1M93 387h1M91 392h1M98 392h1M92 394h1M98 446h1M103 467h1M98 487h1M97 495h1M99 495h1M97 506h1M104 506h1M97 511h1M103 535h2M102 537h1M104 542h1M104 565h1M95 740h2M89 746h1M75 755h1"/>
<path stroke="#00ff85" stroke-width="3" d="M22 207.5h1M54 207.5h1M73 207.5h1M83 207.5h1M90 207.5h1M92 207.5h1M95 207.5h1M100 207.5h1M104 207.5h1M114 207.5h1M5 210.5h1M11 210.5h1M59 210.5h2M62 210.5h1M69 210.5h3M73 210.5h2M80 210.5h1M1 217.5h1M21 217.5h1M23 217.5h1M37 217.5h1M39 217.5h1M41 217.5h1M44 217.5h1M66 217.5h1M72 217.5h1M14 220.5h1M17 220.5h1M22 220.5h1M31 220.5h1M36 220.5h1M49 220.5h1M2 245.5h1M6 245.5h1M14 245.5h2M34 245.5h1M40 245.5h1M1 249.5h1M4 249.5h1M6 249.5h1M9 249.5h1M26 249.5h1M6 255.5h1M10 255.5h1M16 255.5h3M23 255.5h1M31 255.5h1M40 255.5h1M45 255.5h3M49 255.5h1M53 255.5h1M12 264.5h1M18 264.5h1M23 264.5h1M30 264.5h1M35 264.5h1M38 264.5h1M43 264.5h1M45 264.5h1M50 264.5h1M55 264.5h1M59 277.5h1M62 277.5h1M65 277.5h1M67 277.5h1M69 277.5h1M72 277.5h1M76 277.5h1M104 277.5h1M46 280.5h1M52 280.5h1M81 280.5h1M100 280.5h1M106 280.5h1M31 283.5h1M48 283.5h1M66 283.5h1M69 283.5h1M76 283.5h1M118 283.5h1M20 286.5h1M52 286.5h1M59 286.5h1M68 286.5h1M71 286.5h1M73 286.5h1M78 286.5h1M85 286.5h1M109 286.5h1M64 293.5h1M81 293.5h1M86 293.5h1M95 293.5h1M103 293.5h1M108 293.5h1M65 296.5h1M70 296.5h1M76 296.5h1M81 296.5h2M106 296.5h1M109 296.5h1M115 296.5h1M78 299.5h2M115 299.5h2M72 302.5h1M86 302.5h1M91 302.5h1M93 302.5h1M100 302.5h1M102 302.5h1M107 302.5h1M119 302.5h1M69 324.5h1M81 324.5h1M102 324.5h2M106 324.5h1M108 324.5h2M114 324.5h1M87 333.5h1M94 333.5h1M82 342.5h1M91 342.5h1M93 349.5h1M97 349.5h1M100 349.5h1M90 352.5h1M93 352.5h1M118 352.5h1M95 357.5h2M99 380.5h1M92 389.5h1M95 389.5h1M97 397.5h1M93 400.5h1M97 407.5h1M96 436.5h1M95 440.5h1M98 440.5h1M92 448.5h1M94 448.5h1M100 448.5h2M94 451.5h1M97 451.5h1M100 451.5h2M97 454.5h1M101 454.5h1M93 457.5h1M99 457.5h1M100 464.5h1M94 472.5h1M96 499.5h2M96 508.5h1M100 508.5h1M104 513.5h1M95 521.5h1M100 521.5h1M104 532.5h1M92 737.5h1M106 743.5h1M113 748.5h1M58 764.5h1"/>
<path stroke="#00ff85" stroke-width="4" d="M106 204h1M2 214h1M17 214h1M21 214h1M25 214h1M30 214h1M37 214h1M39 214h1M42 214h2M54 214h1M58 214h2M64 214h1M29 224h1M32 224h1M42 224h1M60 224h1M71 224h1M2 235h1M25 235h1M47 235h1M5 239h1M10 239h3M18 239h1M26 239h1M32 239h1M51 239h1M17 270h1M32 270h1M34 270h1M40 270h1M58 270h2M64 270h1M67 270h2M84 270h1M93 270h1M70 290h1M81 290h1M119 290h1M86 308h1M91 308h1M96 308h1M103 308h2M115 308h2M82 316h1M93 316h1M98 316h2M110 316h1M112 316h1M117 316h1M84 321h1M94 321h1M119 321h1M90 337h1M99 337h1M101 337h1M114 337h1M101 346h1M114 346h1M91 377h1M90 384h2M98 430h2M93 461h2M94 503h1M96 528h1M67 758h1M48 774h1"/>
<path stroke="#00ff6e" stroke-width="1" d="M8 228.5h1M19 228.5h1M23 228.5h1M33 228.5h1M35 228.5h1M49 228.5h1M8 241.5h1M31 241.5h2M35 241.5h1M46 241.5h1M49 241.5h1M17 247.5h1M23 247.5h2M26 247.5h1M38 247.5h1M47 247.5h2M2 251.5h1M10 251.5h1M12 251.5h1M20 251.5h1M26 251.5h1M39 251.5h1M54 251.5h1M72 318.5h1M96 318.5h1M103 318.5h1M107 318.5h1M89 326.5h1M99 326.5h1M79 327.5h1M98 327.5h1M101 327.5h1M117 330.5h1M80 331.5h1M91 331.5h1M96 331.5h1M90 371.5h1M96 371.5h1M99 444.5h2M103 474.5h1M94 475.5h1M99 475.5h1M98 488.5h1M97 572.5h1M93 741.5h1M7 781.5h1M43 781.5h1"/>
<path stroke="#00ff6e" stroke-width="2" d="M11 227h1M17 227h2M22 227h1M27 227h1M30 227h1M33 227h1M36 227h2M3 230h1M6 230h1M8 230h1M13 230h1M35 230h1M49 230h2M53 230h2M60 230h1M64 230h1M68 230h1M78 230h1M0 232h1M9 232h1M27 232h1M36 232h1M44 232h1M1 243h1M4 243h1M8 243h1M15 243h1M22 243h2M25 243h1M31 243h1M35 243h1M1 253h1M7 253h1M10 253h1M12 253h1M26 253h1M38 253h1M42 253h1M25 258h1M32 258h1M36 258h1M39 258h1M53 258h1M56 258h1M113 258h1M1 260h1M27 260h1M31 260h1M40 260h1M45 260h1M50 260h1M52 260h2M107 260h2M115 260h1M32 262h1M36 262h1M41 262h1M43 262h1M52 262h1M33 267h1M36 267h1M45 267h1M59 267h1M64 267h1M67 267h1M31 273h1M71 273h1M85 273h1M31 275h1M59 275h1M66 275h1M95 275h1M72 305h1M79 305h1M86 305h1M90 305h1M94 305h2M107 305h1M111 305h1M114 305h1M74 311h1M82 311h1M85 311h1M87 311h1M114 311h1M80 313h1M89 313h1M93 313h1M110 313h1M113 313h1M116 313h1M89 329h1M109 329h1M116 329h1M89 340h1M92 340h1M104 340h1M107 340h1M90 355h1M89 360h1M91 360h1M90 362h1M93 362h1M94 364h1M90 366h1M95 366h1M98 374h1M91 387h1M99 443h1M99 446h1M93 467h1M103 485h1M103 487h1M95 490h1M94 495h2M99 497h1M99 506h1M103 506h1M96 511h1M103 511h2M102 516h1M96 542h1M93 740h1M101 746h2M79 755h1M115 755h1"/>
<path stroke="#00ff6e" stroke-width="3" d="M57 207.5h1M59 207.5h1M72 207.5h1M86 207.5h1M94 207.5h1M119 207.5h1M42 210.5h1M51 210.5h1M67 210.5h2M75 210.5h1M79 210.5h1M97 210.5h1M100 210.5h1M118 210.5h1M12 217.5h1M38 217.5h1M40 217.5h1M42 217.5h1M46 217.5h2M51 217.5h1M56 217.5h1M58 217.5h1M74 217.5h1M13 220.5h1M32 220.5h1M37 220.5h2M58 220.5h1M61 220.5h1M10 245.5h1M22 245.5h1M25 245.5h1M27 245.5h1M30 245.5h1M33 245.5h1M41 245.5h1M43 245.5h1M0 249.5h1M3 249.5h1M8 249.5h1M18 249.5h1M22 249.5h1M87 249.5h1M0 255.5h1M2 255.5h1M7 255.5h2M21 255.5h2M25 255.5h2M28 255.5h1M48 255.5h1M50 255.5h1M52 255.5h1M54 255.5h1M31 264.5h1M36 264.5h1M42 264.5h1M51 264.5h1M57 264.5h1M60 264.5h1M67 264.5h1M112 264.5h1M31 277.5h1M49 277.5h1M68 277.5h1M71 277.5h1M73 277.5h1M50 280.5h1M62 280.5h3M66 280.5h1M69 280.5h1M72 280.5h1M77 280.5h1M96 280.5h1M77 283.5h1M116 283.5h1M54 286.5h1M57 286.5h1M76 286.5h1M92 286.5h2M115 286.5h1M66 293.5h1M74 293.5h1M78 293.5h1M84 293.5h1M97 293.5h1M101 293.5h1M64 296.5h1M66 296.5h1M71 296.5h1M74 296.5h1M79 296.5h1M85 296.5h1M96 296.5h1M103 296.5h2M112 296.5h1M118 296.5h1M15 299.5h1M66 299.5h1M73 299.5h1M81 299.5h1M86 299.5h1M89 299.5h1M92 299.5h1M96 299.5h1M99 299.5h1M71 302.5h1M82 302.5h1M87 302.5h2M92 302.5h1M101 302.5h1M113 302.5h1M84 324.5h1M91 324.5h2M97 324.5h1M115 324.5h1M118 324.5h1M80 333.5h2M104 333.5h1M95 352.5h1M100 352.5h1M98 389.5h1M92 407.5h1M94 440.5h1M96 440.5h1M95 448.5h1M99 454.5h1M97 457.5h1M102 457.5h1M93 464.5h1M98 464.5h1M102 464.5h1M102 469.5h1M103 472.5h1M94 477.5h1M103 482.5h1M104 492.5h1M99 499.5h1M94 508.5h1M101 513.5h1M103 521.5h1M104 524.5h1M97 532.5h1M22 642.5h1M24 642.5h1M98 743.5h1M112 748.5h1M52 770.5h1"/>
<path stroke="#00ff6e" stroke-width="4" d="M33 214h1M48 214h1M56 214h1M61 214h1M68 214h2M77 214h1M81 214h2M0 224h1M5 224h1M11 224h3M15 224h2M20 224h1M25 224h1M34 224h2M38 224h2M44 224h1M46 224h1M69 224h1M0 235h1M7 235h1M11 235h1M14 235h3M19 235h1M24 235h1M26 235h1M30 235h1M40 235h1M0 239h1M13 239h1M22 239h1M31 239h1M47 239h1M18 270h1M44 270h1M54 270h1M65 270h1M77 290h1M92 290h1M94 290h2M102 290h2M78 308h1M80 308h1M82 308h1M84 308h1M90 308h1M92 308h2M97 308h1M102 308h1M107 308h1M109 308h1M114 308h1M118 308h1M72 316h1M83 316h1M100 316h1M106 316h1M82 321h1M92 321h1M100 321h1M102 321h1M109 321h1M112 321h1M114 321h1M116 321h3M95 337h1M109 337h3M88 346h1M90 346h1M95 369h1M92 384h1M99 426h1M95 503h1"/>
<path stroke="#00ff57" stroke-width="1" d="M0 228.5h1M6 228.5h1M14 228.5h1M21 228.5h1M29 228.5h1M46 228.5h1M2 241.5h1M12 241.5h2M22 241.5h2M25 241.5h1M38 241.5h1M45 241.5h1M0 247.5h1M2 247.5h1M4 247.5h1M14 247.5h1M28 247.5h1M41 247.5h1M43 247.5h1M46 247.5h1M1 251.5h1M8 251.5h1M15 251.5h1M23 251.5h1M56 251.5h1M88 318.5h2M111 318.5h1M81 326.5h1M88 326.5h1M93 326.5h1M84 327.5h1M99 327.5h2M107 327.5h1M119 327.5h1M95 331.5h1M99 331.5h1M106 331.5h1M90 372.5h1M96 444.5h1M101 474.5h1M103 488.5h1M43 780.5h2"/>
<path stroke="#00ff57" stroke-width="2" d="M21 227h1M39 227h1M41 227h1M48 227h1M53 227h1M55 227h1M59 227h1M66 227h1M2 230h1M9 230h1M18 230h1M20 230h1M25 230h1M27 230h2M31 230h1M43 230h1M1 232h1M10 232h1M14 232h1M26 232h1M28 232h1M32 232h1M34 232h1M46 232h1M50 232h2M119 232h1M0 243h1M3 243h1M5 243h2M21 243h1M30 243h1M34 243h1M47 243h1M9 253h1M27 253h1M44 253h2M48 253h1M102 253h1M110 253h1M17 258h3M28 258h1M33 258h1M50 258h1M58 258h1M88 258h1M115 258h1M18 260h1M25 260h1M34 260h1M104 260h1M109 260h1M30 262h1M60 262h1M67 262h1M101 262h1M37 267h1M43 267h1M47 267h1M49 267h1M57 267h1M66 267h1M80 267h1M46 273h1M55 273h2M61 273h1M65 273h2M92 273h1M113 273h1M72 275h1M98 275h1M103 275h2M108 275h1M84 305h1M116 305h1M118 305h1M94 311h1M96 311h1M102 311h1M104 311h2M92 313h1M104 313h1M109 313h1M117 313h1M99 329h1M104 329h2M103 340h1M99 355h1M98 360h1M91 364h1M97 364h1M89 366h1M100 443h1M94 467h1M99 485h1M99 487h2M99 490h1M100 495h1M96 497h1M100 506h1M99 511h1M102 511h1M96 516h1M104 516h1M106 516h1M88 746h1"/>
<path stroke="#00ff57" stroke-width="3" d="M70 207.5h1M84 207.5h1M97 207.5h1M99 207.5h1M101 207.5h1M105 207.5h1M110 207.5h1M116 207.5h1M30 210.5h1M43 210.5h1M77 210.5h2M92 210.5h1M34 217.5h1M61 217.5h2M69 217.5h1M71 217.5h1M80 217.5h1M23 220.5h1M25 220.5h1M29 220.5h1M40 220.5h1M50 220.5h1M53 220.5h1M55 220.5h1M64 220.5h1M66 220.5h1M75 220.5h1M86 220.5h1M1 245.5h1M5 245.5h1M8 245.5h1M13 245.5h1M19 245.5h2M31 245.5h2M39 245.5h1M47 245.5h1M94 245.5h1M12 249.5h2M21 249.5h1M44 249.5h1M47 249.5h1M49 249.5h1M11 255.5h1M32 255.5h1M34 255.5h1M36 255.5h1M39 255.5h1M51 255.5h1M88 255.5h1M94 255.5h1M99 255.5h1M46 264.5h1M48 264.5h1M53 264.5h1M58 264.5h2M69 264.5h1M116 264.5h1M61 277.5h1M75 277.5h1M85 277.5h1M108 277.5h1M110 277.5h1M57 280.5h1M70 280.5h1M75 280.5h1M78 280.5h1M80 280.5h1M83 280.5h1M98 280.5h1M104 280.5h1M112 280.5h1M70 283.5h2M75 283.5h1M78 283.5h1M88 283.5h1M94 283.5h1M97 283.5h1M72 286.5h1M81 286.5h1M99 286.5h1M103 286.5h1M117 286.5h1M69 293.5h1M73 293.5h1M85 293.5h1M91 293.5h1M106 293.5h1M109 293.5h1M114 293.5h1M118 293.5h1M91 296.5h2M102 296.5h1M69 299.5h1M72 299.5h1M75 299.5h1M83 299.5h2M102 299.5h1M106 299.5h1M111 299.5h1M119 299.5h1M81 302.5h1M83 302.5h1M94 302.5h2M103 302.5h1M109 302.5h1M111 302.5h1M87 324.5h3M99 324.5h1M101 324.5h1M105 324.5h1M117 324.5h1M91 333.5h2M95 333.5h1M99 333.5h1M85 342.5h1M90 342.5h1M105 342.5h1M87 349.5h2M92 422.5h2M99 440.5h1M96 454.5h1M94 464.5h1M101 464.5h1M97 469.5h1M98 482.5h2M97 492.5h1M104 508.5h1M101 518.5h1M94 743.5h1M109 748.5h1M55 767.5h1"/>
<path stroke="#00ff57" stroke-width="4" d="M109 204h1M44 214h1M52 214h2M66 214h1M80 214h1M1 224h2M18 224h1M22 224h1M30 224h1M40 224h2M49 224h1M54 224h1M68 224h1M72 224h1M76 224h1M9 235h1M34 235h1M37 235h1M46 235h1M51 235h1M53 235h1M63 235h1M15 239h1M44 239h1M56 239h1M60 239h1M114 239h1M56 270h1M60 270h1M62 270h2M75 270h1M80 270h1M97 270h1M75 290h1M78 290h1M86 290h2M90 290h1M93 290h1M97 290h1M112 290h1M114 290h1M118 290h1M88 308h2M94 308h1M98 308h1M106 308h1M119 308h1M85 316h1M90 316h1M101 316h1M107 316h1M109 316h1M118 316h1M104 321h1M113 321h1M91 337h1M109 346h1M98 369h1M92 413h1M99 413h1M96 503h1M101 503h1M104 503h1M103 528h2M71 758h1M45 778h1"/>
<path stroke="#00ff40" stroke-width="1" d="M1 228.5h2M15 228.5h1M31 228.5h1M36 228.5h1M44 228.5h1M48 228.5h1M57 228.5h1M59 228.5h1M63 228.5h1M66 228.5h1M4 241.5h1M7 241.5h1M27 241.5h1M33 241.5h2M39 241.5h2M3 247.5h1M37 247.5h1M39 247.5h1M42 247.5h1M51 247.5h1M43 251.5h1M48 251.5h1M53 251.5h1M103 251.5h1M116 251.5h1M90 318.5h1M93 318.5h2M119 326.5h1M86 330.5h1M82 331.5h1M88 331.5h1M94 474.5h1M98 474.5h1M97 475.5h1M103 475.5h1M99 488.5h1M94 741.5h2"/>
<path stroke="#00ff40" stroke-width="2" d="M0 227h1M5 227h1M29 227h1M35 227h1M46 227h2M54 227h1M57 227h1M61 227h1M67 227h1M0 230h1M16 230h1M26 230h1M39 230h1M45 230h2M48 230h1M57 230h1M70 230h1M16 232h1M31 232h1M37 232h1M43 232h1M45 232h1M47 232h1M11 243h1M16 243h1M27 243h1M37 243h2M40 243h1M48 243h1M52 243h1M4 253h1M24 253h1M37 253h1M46 253h1M49 253h1M52 253h1M15 258h1M31 258h1M35 258h1M46 258h1M59 258h1M89 258h1M103 258h1M2 260h1M26 260h1M47 260h1M95 260h1M100 260h2M118 260h1M4 262h1M57 262h1M66 262h1M110 262h1M117 262h2M22 267h1M62 267h1M70 267h1M73 267h2M96 267h3M100 267h2M112 267h1M115 267h1M60 273h1M62 273h1M68 273h1M70 273h1M73 273h1M76 273h2M81 273h1M84 273h1M105 273h1M107 273h1M60 275h1M74 275h1M84 275h1M94 275h1M107 275h1M110 275h1M117 275h2M73 305h1M76 305h1M81 305h2M87 305h1M93 305h1M96 305h1M98 305h1M100 305h3M108 305h2M80 311h1M99 311h1M97 329h1M118 329h1M90 340h1M94 355h1M95 446h1M96 467h1M98 467h1M102 467h1M97 480h2M100 480h1M94 487h1M100 490h1M103 490h1M95 497h1M97 497h2M101 506h1M103 542h1M98 746h1M110 746h1"/>
<path stroke="#00ff40" stroke-width="3" d="M89 207.5h1M93 207.5h1M96 207.5h1M102 207.5h1M81 210.5h1M84 210.5h1M87 210.5h1M102 210.5h2M112 210.5h1M119 210.5h1M10 217.5h1M13 217.5h1M33 217.5h1M48 217.5h2M53 217.5h2M57 217.5h1M68 217.5h1M73 217.5h1M75 217.5h1M21 220.5h1M33 220.5h1M41 220.5h1M46 220.5h2M51 220.5h1M56 220.5h2M59 220.5h1M62 220.5h1M4 245.5h1M18 245.5h1M28 245.5h1M35 245.5h1M37 245.5h2M50 245.5h1M14 249.5h1M25 249.5h1M39 249.5h1M41 249.5h1M45 249.5h2M48 249.5h1M14 255.5h1M33 255.5h1M41 255.5h1M43 255.5h2M100 255.5h1M112 255.5h1M7 264.5h1M44 264.5h1M47 264.5h1M62 264.5h1M85 264.5h1M91 264.5h1M107 264.5h1M109 264.5h1M118 264.5h2M66 277.5h1M78 277.5h1M83 277.5h1M99 277.5h1M109 277.5h1M114 277.5h1M84 280.5h1M86 280.5h1M88 280.5h1M91 280.5h1M93 280.5h1M99 280.5h1M117 280.5h1M74 283.5h1M87 283.5h1M92 283.5h1M95 283.5h1M106 283.5h1M115 283.5h1M66 286.5h1M70 286.5h1M74 286.5h1M77 286.5h1M86 286.5h1M91 286.5h1M96 286.5h1M108 286.5h1M54 293.5h1M75 293.5h2M80 293.5h1M87 293.5h1M93 293.5h1M98 293.5h1M102 293.5h1M115 293.5h3M87 296.5h2M97 296.5h2M100 296.5h1M108 296.5h1M110 296.5h1M113 296.5h2M119 296.5h1M85 299.5h1M100 299.5h1M105 299.5h1M78 302.5h1M80 302.5h1M84 302.5h1M99 302.5h1M115 302.5h2M93 324.5h1M116 324.5h1M119 324.5h1M96 342.5h1M99 448.5h1M93 454.5h1M98 457.5h1M99 464.5h1M102 472.5h1M95 482.5h1M98 492.5h1M100 492.5h1M103 492.5h1M102 508.5h1M104 518.5h1M103 524.5h1M103 532.5h1M64 761.5h1M67 761.5h1M60 764.5h1"/>
<path stroke="#00ff40" stroke-width="4" d="M27 214h1M38 214h1M40 214h1M45 214h1M51 214h1M60 214h1M63 214h1M65 214h1M73 214h1M76 214h1M117 214h1M8 224h1M36 224h1M45 224h1M55 224h1M59 224h1M64 224h2M70 224h1M74 224h1M13 235h1M22 235h2M31 235h1M42 235h1M44 235h2M48 235h1M6 239h1M23 239h2M28 239h1M35 239h1M37 239h1M40 239h1M45 239h1M48 270h1M69 270h2M76 270h1M79 270h1M94 270h1M103 270h1M105 270h1M76 290h1M82 290h2M85 290h1M89 290h1M100 290h1M105 290h2M108 290h1M111 290h1M95 308h1M81 316h1M89 316h1M111 316h1M115 321h1M87 346h1M93 369h1M94 426h1M97 503h1M102 528h1M0 551h1M84 752h1M113 752h1M116 752h1M70 758h1M75 758h1"/>
<path stroke="#00ff29" stroke-width="1" d="M3 228.5h1M28 228.5h1M32 228.5h1M37 228.5h1M42 228.5h1M45 228.5h1M52 228.5h1M58 228.5h1M62 228.5h1M65 228.5h1M69 228.5h1M72 228.5h1M119 228.5h1M16 241.5h1M36 241.5h1M41 241.5h1M44 241.5h1M92 241.5h1M1 247.5h1M7 247.5h1M16 247.5h1M54 247.5h1M68 247.5h1M102 247.5h1M40 251.5h1M42 251.5h1M49 251.5h2M59 251.5h1M111 251.5h1M91 318.5h1M99 318.5h1M104 318.5h1M110 318.5h1M84 326.5h1M111 326.5h1M93 330.5h1M107 331.5h1M113 331.5h1M97 488.5h1"/>
<path stroke="#00ff29" stroke-width="2" d="M13 227h1M43 227h3M52 227h1M78 227h1M80 227h1M112 227h1M7 230h1M11 230h1M19 230h1M22 230h1M40 230h1M61 230h1M63 230h1M75 230h1M18 232h1M20 232h1M42 232h1M53 232h1M59 232h3M67 232h1M76 232h1M116 232h1M17 243h1M32 243h1M44 243h1M51 243h1M55 243h1M2 253h1M41 253h1M89 253h1M94 253h1M105 253h1M116 253h1M21 258h1M37 258h1M47 258h2M63 258h1M65 258h1M73 258h1M96 258h1M111 258h1M117 258h2M39 260h1M49 260h1M51 260h1M55 260h1M60 260h1M65 260h2M82 260h1M84 260h1M117 260h1M119 260h1M33 262h1M37 262h1M54 262h1M56 262h1M58 262h2M61 262h1M86 262h1M96 262h1M55 267h2M63 267h1M69 267h1M71 267h1M76 267h1M87 267h1M110 267h1M119 267h1M69 273h1M74 273h2M82 273h1M86 273h1M90 273h2M93 273h1M99 273h1M106 273h1M110 273h1M112 273h1M119 273h1M63 275h1M68 275h1M81 275h3M85 275h1M91 275h1M99 275h1M83 305h1M92 305h1M97 305h1M115 305h1M89 311h1M87 313h1M91 329h1M95 340h1M98 443h1M100 467h1M97 487h1M116 755h1"/>
<path stroke="#00ff29" stroke-width="3" d="M63 207.5h1M65 207.5h1M98 207.5h1M107 207.5h1M83 210.5h1M85 210.5h2M88 210.5h1M104 210.5h1M113 210.5h1M116 210.5h1M31 217.5h1M36 217.5h1M52 217.5h1M79 217.5h1M81 217.5h3M86 217.5h1M39 220.5h1M43 220.5h1M45 220.5h1M52 220.5h1M54 220.5h1M65 220.5h1M70 220.5h1M80 220.5h1M17 245.5h1M46 245.5h1M5 249.5h1M24 249.5h1M43 249.5h1M98 249.5h1M9 255.5h1M24 255.5h1M61 255.5h1M65 255.5h1M67 255.5h1M90 255.5h1M98 255.5h1M103 255.5h1M111 255.5h1M113 255.5h1M20 264.5h1M54 264.5h1M61 264.5h1M66 264.5h1M108 264.5h1M2 277.5h1M70 277.5h1M74 277.5h1M84 277.5h1M89 277.5h1M100 277.5h1M103 277.5h1M107 277.5h1M117 277.5h2M92 280.5h1M107 280.5h1M109 280.5h2M113 280.5h1M72 283.5h1M79 283.5h4M84 283.5h1M91 283.5h1M98 283.5h1M103 283.5h1M105 283.5h1M107 283.5h1M75 286.5h1M79 286.5h1M87 286.5h3M100 286.5h1M105 286.5h1M110 286.5h1M113 286.5h1M118 286.5h2M72 293.5h1M83 293.5h1M89 293.5h1M92 293.5h1M96 293.5h1M99 293.5h2M105 293.5h1M112 293.5h1M84 296.5h1M107 296.5h1M116 296.5h1M91 299.5h1M93 299.5h1M95 299.5h1M97 299.5h2M103 299.5h1M108 299.5h1M114 299.5h1M90 302.5h1M98 302.5h1M104 302.5h1M106 302.5h1M110 302.5h1M112 302.5h1M90 324.5h1M96 324.5h1M98 324.5h1M98 448.5h1M95 457.5h1M100 457.5h1M94 469.5h1M98 469.5h1M98 472.5h1M99 477.5h1M95 492.5h1M99 492.5h1M100 499.5h1M104 499.5h1M103 508.5h1M102 518.5h1M93 743.5h1M86 748.5h1M68 761.5h1"/>
<path stroke="#00ff29" stroke-width="4" d="M34 214h1M55 214h1M57 214h1M74 214h1M78 214h1M84 214h1M7 224h1M37 224h1M47 224h2M51 224h1M57 224h2M61 224h1M66 224h1M12 235h1M29 235h1M33 235h1M36 235h1M39 235h1M41 235h1M49 235h1M56 235h1M67 235h1M70 235h1M1 239h1M4 239h1M33 239h1M42 239h2M54 239h1M119 239h1M89 270h2M96 270h1M101 270h2M106 270h1M118 270h1M68 290h1M91 290h1M104 290h1M109 290h1M113 290h1M115 290h1M81 308h1M117 308h1M95 316h1M81 321h1M96 461h1M100 461h1M72 758h3"/>
<path stroke="#08ff18" stroke-width="1" d="M22 228.5h1M38 228.5h3M47 228.5h1M51 228.5h1M55 228.5h1M60 228.5h1M71 228.5h1M75 228.5h1M79 228.5h1M14 241.5h1M18 241.5h1M29 241.5h2M43 241.5h1M50 241.5h1M55 241.5h1M5 247.5h1M59 247.5h1M87 247.5h1M109 247.5h2M118 247.5h1M44 251.5h1M51 251.5h2M55 251.5h1M106 251.5h1M108 251.5h1M97 474.5h1M95 475.5h1M101 475.5h1"/>
<path stroke="#08ff18" stroke-width="2" d="M24 227h1M42 227h1M56 227h1M63 227h1M70 227h1M77 227h1M12 230h1M44 230h1M51 230h2M65 230h1M77 230h1M82 230h1M15 232h1M24 232h1M33 232h1M48 232h1M52 232h1M57 232h2M62 232h2M65 232h1M7 243h1M28 243h1M39 243h1M43 243h1M53 243h1M82 243h1M97 243h1M106 243h1M6 253h1M15 253h1M40 253h1M54 253h1M60 253h1M85 253h1M93 253h1M98 253h1M115 253h1M43 258h1M54 258h1M60 258h1M62 258h1M67 258h1M71 258h1M79 258h2M94 258h2M99 258h2M112 258h1M23 260h1M56 260h1M59 260h1M61 260h2M76 260h1M92 260h1M106 260h1M111 260h2M116 260h1M64 262h1M69 262h1M81 262h2M84 262h2M87 262h1M90 262h1M92 262h1M98 262h1M103 262h1M107 262h1M61 267h1M68 267h1M75 267h1M77 267h1M84 267h2M88 267h4M93 267h1M95 267h1M99 267h1M106 267h2M109 267h1M113 267h1M116 267h1M79 273h2M83 273h1M88 273h1M95 273h1M98 273h1M100 273h1M104 273h1M114 273h1M116 273h1M118 273h1M76 275h1M87 275h2M105 275h1M112 275h1M112 305h1M95 420h1M96 480h1M96 485h1M96 490h1M96 495h1M100 497h1M102 506h1M90 746h1M106 746h1M111 746h1M80 755h1M114 755h1"/>
<path stroke="#08ff18" stroke-width="3" d="M91 207.5h1M103 207.5h1M111 207.5h1M106 210.5h1M111 210.5h1M32 217.5h1M63 217.5h1M67 217.5h1M76 217.5h2M72 220.5h2M77 220.5h1M16 245.5h1M21 245.5h1M29 245.5h1M51 245.5h1M88 245.5h1M96 245.5h1M107 245.5h1M51 249.5h1M53 249.5h1M96 249.5h1M102 249.5h1M118 249.5h1M15 255.5h1M20 255.5h1M29 255.5h1M56 255.5h1M59 255.5h1M68 255.5h1M84 255.5h2M97 255.5h1M102 255.5h1M104 255.5h1M107 255.5h1M64 264.5h2M68 264.5h1M71 264.5h1M79 264.5h1M84 264.5h1M96 264.5h1M106 264.5h1M110 264.5h1M113 264.5h1M77 277.5h1M79 277.5h1M92 277.5h3M105 277.5h1M111 277.5h1M115 277.5h1M59 280.5h1M74 280.5h1M76 280.5h1M82 280.5h1M94 280.5h1M102 280.5h2M115 280.5h1M119 280.5h1M73 283.5h1M85 283.5h2M90 283.5h1M96 283.5h1M101 283.5h1M109 283.5h2M117 283.5h1M80 286.5h1M90 286.5h1M98 286.5h1M112 286.5h1M82 293.5h1M88 293.5h1M94 293.5h1M111 293.5h1M94 296.5h2M99 296.5h1M113 299.5h1M108 302.5h1M92 400.5h1M94 457.5h1M96 457.5h1M97 464.5h1M99 469.5h1M98 477.5h1M96 482.5h1M101 508.5h1M102 513.5h1M103 518.5h1M102 524.5h1M92 743.5h1M87 748.5h2M66 761.5h1M59 764.5h1M57 767.5h1M53 770.5h1"/>
<path stroke="#08ff18" stroke-width="4" d="M26 214h1M62 214h1M67 214h1M79 214h1M3 224h1M31 224h1M33 224h1M43 224h1M53 224h1M56 224h1M63 224h1M67 224h1M78 224h2M84 224h1M118 224h1M3 235h1M8 235h1M32 235h1M38 235h1M50 235h1M54 235h1M57 235h1M64 235h3M106 235h1M119 235h1M3 239h1M30 239h1M34 239h1M36 239h1M49 239h2M52 239h1M74 239h1M73 270h1M83 270h1M86 270h1M88 270h1M98 270h3M107 270h1M110 270h1M117 270h1M71 290h1M80 290h1M84 290h1M96 290h1M98 290h1M107 290h1M110 290h1M116 290h2M85 308h1M87 308h1M111 308h1M102 316h1M97 461h1M82 752h1M49 774h1"/>
<path stroke="#19ff0b" stroke-width="1" d="M41 228.5h1M53 228.5h2M67 228.5h2M73 228.5h1M77 228.5h1M98 228.5h1M112 228.5h1M21 241.5h1M48 241.5h1M54 241.5h1M76 241.5h1M96 241.5h1M112 241.5h1M40 247.5h1M44 247.5h1M49 247.5h1M80 247.5h1M86 247.5h1M88 247.5h1M92 247.5h1M95 247.5h1M105 247.5h1M108 247.5h1M47 251.5h1M80 251.5h1M90 251.5h1M115 251.5h1M99 474.5h2"/>
<path stroke="#19ff0b" stroke-width="2" d="M25 227h1M49 227h1M51 227h1M65 227h1M69 227h1M74 227h1M79 227h1M81 227h1M84 227h1M91 227h1M119 227h1M55 230h1M58 230h1M62 230h1M89 230h1M40 232h1M49 232h1M66 232h1M73 232h1M82 232h1M84 232h1M101 232h1M2 243h1M9 243h1M13 243h1M36 243h1M42 243h1M54 243h1M57 243h2M94 243h1M102 243h1M116 243h1M43 253h1M55 253h1M82 253h2M90 253h1M104 253h1M108 253h1M51 258h1M70 258h1M74 258h2M78 258h1M84 258h1M87 258h1M92 258h1M98 258h1M102 258h1M105 258h2M109 258h1M119 258h1M69 260h1M71 260h3M77 260h2M87 260h1M91 260h1M103 260h1M105 260h1M110 260h1M113 260h1M65 262h1M72 262h1M95 262h1M99 262h1M106 262h1M109 262h1M116 262h1M81 267h3M94 267h1M102 267h2M117 267h1M78 273h1M96 273h2M102 273h2M117 273h1M65 275h1M69 275h1M71 275h1M77 275h1M80 275h1M90 275h1M92 275h1M97 275h1M101 275h2M115 275h1M119 275h1M98 311h1M100 311h1M99 467h1M101 467h1M99 480h1M97 485h1M95 487h2M103 495h1M101 497h1M101 511h1M103 516h1M91 746h1M97 746h1"/>
<path stroke="#19ff0b" stroke-width="3" d="M89 210.5h3M96 210.5h1M99 210.5h1M110 210.5h1M115 210.5h1M117 210.5h1M55 217.5h1M64 217.5h1M70 217.5h1M85 217.5h1M118 217.5h1M28 220.5h1M48 220.5h1M60 220.5h1M63 220.5h1M71 220.5h1M79 220.5h1M81 220.5h1M7 245.5h1M23 245.5h1M45 245.5h1M57 245.5h1M60 245.5h1M105 245.5h1M111 245.5h1M42 249.5h1M54 249.5h2M60 249.5h1M88 249.5h1M97 249.5h1M5 255.5h1M55 255.5h1M73 255.5h1M82 255.5h1M91 255.5h1M106 255.5h1M110 255.5h1M114 255.5h2M56 264.5h1M75 264.5h2M82 264.5h2M87 264.5h2M94 264.5h2M99 264.5h1M102 264.5h2M111 264.5h1M115 264.5h1M80 277.5h1M87 277.5h1M95 277.5h2M106 277.5h1M112 277.5h1M116 277.5h1M85 280.5h1M87 280.5h1M97 280.5h1M111 280.5h1M116 280.5h1M118 280.5h1M83 283.5h1M89 283.5h1M100 283.5h1M102 283.5h1M104 283.5h1M82 286.5h1M101 286.5h2M104 286.5h1M106 286.5h1M116 286.5h1M119 293.5h1M78 296.5h1M80 296.5h1M101 296.5h1M117 296.5h1M90 299.5h1M85 302.5h1M89 302.5h1M117 302.5h1M95 324.5h1M92 352.5h1M95 464.5h1M96 469.5h1M96 472.5h1M95 477.5h1M97 477.5h1M100 477.5h1M97 482.5h1M101 499.5h2M56 767.5h1"/>
<path stroke="#19ff0b" stroke-width="4" d="M70 214h1M85 214h1M99 214h1M119 214h1M77 224h1M6 235h1M18 235h1M52 235h1M59 235h2M68 235h1M73 235h1M77 235h1M79 235h1M82 235h1M113 235h1M38 239h2M46 239h1M58 239h1M81 239h2M105 239h1M118 239h1M61 270h1M66 270h1M74 270h1M77 270h1M104 270h1M109 270h1M111 270h2M114 270h1M79 290h1M95 461h1M99 461h1M101 461h1M117 752h1M63 758h1M76 758h1M119 758h1M50 774h1M46 778h1"/>
<path stroke="#2cff00" stroke-width="1" d="M50 228.5h1M61 228.5h1M70 228.5h1M76 228.5h1M81 228.5h2M24 241.5h1M82 241.5h1M86 241.5h1M89 241.5h1M95 241.5h1M53 247.5h1M55 247.5h3M93 247.5h1M104 247.5h1M107 247.5h1M119 247.5h1M45 251.5h2M57 251.5h2M65 251.5h1M73 251.5h1M75 251.5h1M88 251.5h1M93 251.5h2M100 251.5h1M102 251.5h1M105 251.5h1M107 251.5h1M113 251.5h1M118 251.5h2M118 318.5h1M95 474.5h1M95 488.5h1M96 741.5h1"/>
<path stroke="#2cff00" stroke-width="2" d="M28 227h1M58 227h1M64 227h1M75 227h2M82 227h1M104 227h1M17 230h1M47 230h1M56 230h1M59 230h1M66 230h1M74 230h1M87 230h1M90 230h1M110 230h2M115 230h1M117 230h1M23 232h1M54 232h1M56 232h1M85 232h1M90 232h1M98 232h1M106 232h1M114 232h1M118 232h1M45 243h1M77 243h1M85 243h2M90 243h1M92 243h2M95 243h1M107 243h1M119 243h1M50 253h2M57 253h1M62 253h1M76 253h1M91 253h1M97 253h1M99 253h2M103 253h1M106 253h2M111 253h1M55 258h1M61 258h1M64 258h1M66 258h1M72 258h1M77 258h1M82 258h1M86 258h1M90 258h1M93 258h1M101 258h1M110 258h1M58 260h1M64 260h1M68 260h1M80 260h2M83 260h1M85 260h2M89 260h2M97 260h1M99 260h1M114 260h1M51 262h1M71 262h1M77 262h2M83 262h1M88 262h1M104 262h1M108 262h1M111 262h3M78 267h1M92 267h1M108 267h1M101 273h1M108 273h1M73 275h1M100 275h1M106 275h1M111 275h1M113 275h1M116 275h1M101 340h1M95 362h1M94 480h2M95 485h1M100 485h1M97 490h1M102 497h1M92 746h2M103 746h1M107 746h1M118 755h1"/>
<path stroke="#2cff00" stroke-width="3" d="M93 210.5h1M101 210.5h1M107 210.5h1M114 210.5h1M45 217.5h1M59 217.5h1M116 217.5h1M44 220.5h1M67 220.5h1M76 220.5h1M82 220.5h2M85 220.5h1M48 245.5h1M53 245.5h1M55 245.5h1M91 245.5h1M99 245.5h1M112 245.5h1M116 245.5h1M50 249.5h1M52 249.5h1M59 249.5h1M72 249.5h2M78 249.5h1M80 249.5h1M86 249.5h1M89 249.5h1M104 249.5h1M106 249.5h1M108 249.5h1M111 249.5h1M113 249.5h1M64 255.5h1M71 255.5h1M75 255.5h2M78 255.5h1M80 255.5h1M92 255.5h2M96 255.5h1M101 255.5h1M109 255.5h1M118 255.5h2M63 264.5h1M70 264.5h1M73 264.5h2M77 264.5h1M92 264.5h2M98 264.5h1M101 264.5h1M105 264.5h1M114 264.5h1M81 277.5h2M98 277.5h1M102 277.5h1M113 277.5h1M68 280.5h1M79 280.5h1M90 280.5h1M95 280.5h1M105 280.5h1M114 280.5h1M108 283.5h1M112 283.5h1M114 283.5h1M119 283.5h1M97 286.5h1M107 286.5h1M77 296.5h1M96 302.5h1M96 464.5h1M100 469.5h2M99 472.5h1M102 477.5h1M96 492.5h1M104 743.5h2M89 748.5h1M91 748.5h1M99 748.5h1M108 748.5h1M110 748.5h2M61 764.5h1"/>
<path stroke="#2cff00" stroke-width="4" d="M75 214h1M83 214h1M50 224h1M52 224h1M75 224h1M80 224h1M82 224h2M112 224h1M87 235h2M102 235h1M114 235h1M118 235h1M41 239h1M48 239h1M55 239h1M64 239h2M67 239h2M70 239h1M79 239h1M84 239h1M91 239h1M95 239h1M98 239h1M100 239h1M111 239h1M113 239h1M113 270h1M119 270h1M119 316h1M102 503h2M87 752h1M77 758h1M118 758h1"/>
<path stroke="#47ff00" stroke-width="1" d="M74 228.5h1M87 228.5h2M96 228.5h1M114 228.5h1M117 228.5h1M10 241.5h1M52 241.5h1M77 241.5h1M91 241.5h1M101 241.5h1M103 241.5h1M113 241.5h1M115 241.5h1M117 241.5h1M52 247.5h1M73 247.5h1M75 247.5h1M78 247.5h1M83 247.5h2M91 247.5h1M98 247.5h1M106 247.5h1M115 247.5h1M70 251.5h3M76 251.5h1M81 251.5h2M84 251.5h1M86 251.5h2M92 251.5h1M98 251.5h1M110 251.5h1M117 251.5h1M85 318.5h1M96 474.5h1M102 474.5h1M96 488.5h1"/>
<path stroke="#47ff00" stroke-width="2" d="M71 227h1M73 227h1M85 227h1M101 227h1M114 227h2M41 230h1M71 230h1M73 230h1M76 230h1M80 230h1M102 230h1M104 230h1M109 230h1M119 230h1M35 232h1M64 232h1M69 232h1M71 232h1M74 232h1M79 232h1M86 232h1M112 232h1M49 243h2M56 243h1M60 243h1M69 243h1M75 243h1M83 243h1M87 243h1M89 243h1M98 243h1M100 243h1M112 243h1M53 253h1M56 253h1M59 253h1M63 253h1M72 253h2M79 253h1M81 253h1M86 253h1M88 253h1M92 253h1M101 253h1M109 253h1M112 253h2M117 253h1M81 258h1M97 258h1M108 258h1M116 258h1M57 260h1M63 260h1M93 260h2M96 260h1M98 260h1M73 262h1M76 262h1M89 262h1M94 262h1M115 262h1M72 267h1M86 267h1M114 267h1M87 273h1M89 273h1M94 273h1M115 273h1M0 275h1M96 275h1M89 305h1M96 313h1M114 313h1M102 329h1"/>
<path stroke="#47ff00" stroke-width="3" d="M94 210.5h2M98 210.5h1M78 217.5h1M84 217.5h1M117 217.5h1M74 220.5h1M78 220.5h1M116 220.5h2M119 220.5h1M42 245.5h1M44 245.5h1M52 245.5h1M59 245.5h1M76 245.5h1M86 245.5h1M90 245.5h1M95 245.5h1M100 245.5h2M113 245.5h1M56 249.5h1M77 249.5h1M85 249.5h1M93 249.5h1M103 249.5h1M105 249.5h1M110 249.5h1M112 249.5h1M115 249.5h1M117 249.5h1M57 255.5h2M60 255.5h1M66 255.5h1M70 255.5h1M86 255.5h2M116 255.5h1M78 264.5h1M80 264.5h1M86 264.5h1M100 264.5h1M117 264.5h1M86 277.5h1M88 277.5h1M91 277.5h1M101 277.5h1M89 280.5h1M99 283.5h1M110 293.5h1M86 296.5h1M90 296.5h1M95 469.5h1M97 472.5h1M100 482.5h1M103 499.5h1M90 748.5h1M92 748.5h1M101 748.5h2M106 748.5h1M58 767.5h1"/>
<path stroke="#47ff00" stroke-width="4" d="M86 214h1M88 214h1M90 214h1M92 214h1M118 214h1M86 224h1M90 224h1M35 235h1M55 235h1M61 235h1M69 235h1M71 235h2M74 235h1M76 235h1M78 235h1M80 235h1M83 235h1M85 235h1M89 235h1M92 235h2M108 235h2M117 235h1M53 239h1M62 239h1M69 239h1M73 239h1M80 239h1M87 239h1M94 239h1M99 239h1M110 239h1M116 239h2M81 270h1M85 270h1M87 270h1M91 270h2M108 270h1M116 270h1M88 752h1M78 758h1M47 778h1"/>
<path stroke="#63ff00" stroke-width="1" d="M80 228.5h1M83 228.5h1M97 228.5h1M100 228.5h1M109 228.5h1M115 228.5h1M118 228.5h1M51 241.5h1M57 241.5h1M59 241.5h1M68 241.5h1M73 241.5h1M75 241.5h1M78 241.5h1M90 241.5h1M98 241.5h1M104 241.5h3M108 241.5h3M114 241.5h1M116 241.5h1M62 247.5h1M76 247.5h1M99 247.5h2M116 247.5h2M62 251.5h1M74 251.5h1M78 251.5h1M83 251.5h1M89 251.5h1M95 251.5h1M97 251.5h1M99 251.5h1M112 251.5h1M96 475.5h1M100 475.5h1M102 488.5h1"/>
<path stroke="#63ff00" stroke-width="2" d="M68 227h1M86 227h1M90 227h1M92 227h1M95 227h1M102 227h1M108 227h1M116 227h3M67 230h1M72 230h1M86 230h1M92 230h1M99 230h1M107 230h1M118 230h1M77 232h1M80 232h1M83 232h1M87 232h1M94 232h1M109 232h2M46 243h1M64 243h1M66 243h1M88 243h1M101 243h1M105 243h1M113 243h2M70 253h1M78 253h1M87 253h1M95 253h2M118 253h1M69 258h1M85 258h1M91 258h1M104 258h1M107 258h1M114 258h1M67 260h1M70 260h1M75 260h1M79 260h1M102 260h1M62 262h1M74 262h2M80 262h1M102 262h1M114 262h1M119 262h1M105 267h1M79 275h1M109 275h1M102 495h1M104 746h1M81 755h1"/>
<path stroke="#63ff00" stroke-width="3" d="M105 210.5h1M65 217.5h1M97 217.5h1M105 217.5h1M119 217.5h1M68 220.5h2M84 220.5h1M56 245.5h1M74 245.5h1M80 245.5h1M87 245.5h1M93 245.5h1M102 245.5h1M108 245.5h1M114 245.5h1M57 249.5h2M62 249.5h2M67 249.5h1M76 249.5h1M79 249.5h1M90 249.5h3M94 249.5h1M101 249.5h1M107 249.5h1M116 249.5h1M42 255.5h1M74 255.5h1M83 255.5h1M89 255.5h1M108 255.5h1M117 255.5h1M72 264.5h1M89 264.5h1M97 264.5h1M104 264.5h1M101 280.5h1M108 280.5h1M93 283.5h1M113 283.5h1M114 286.5h1M95 472.5h1M100 472.5h2M96 477.5h1M101 477.5h1M97 743.5h1M103 748.5h1M62 764.5h1M54 770.5h1"/>
<path stroke="#63ff00" stroke-width="4" d="M87 214h1M91 214h1M95 214h1M100 214h1M112 214h1M73 224h1M85 224h1M96 224h1M100 224h1M104 224h1M109 224h2M114 224h1M119 224h1M62 235h1M86 235h1M91 235h1M94 235h1M103 235h3M110 235h2M115 235h2M57 239h1M86 239h1M97 239h1M102 239h1M82 270h1M95 270h1M85 752h1M79 758h1M114 758h1M51 774h1"/>
<path stroke="#7fff00" stroke-width="1" d="M64 228.5h1M84 228.5h1M86 228.5h1M105 228.5h2M110 228.5h1M113 228.5h1M116 228.5h1M53 241.5h1M56 241.5h1M63 241.5h4M70 241.5h1M72 241.5h1M80 241.5h1M83 241.5h1M87 241.5h2M93 241.5h2M102 241.5h1M111 241.5h1M60 247.5h2M63 247.5h1M74 247.5h1M79 247.5h1M81 247.5h2M89 247.5h1M103 247.5h1M113 247.5h1M24 251.5h1M41 251.5h1M60 251.5h2M68 251.5h1M96 251.5h1M101 251.5h1M104 251.5h1M100 488.5h1M44 781.5h1"/>
<path stroke="#7fff00" stroke-width="2" d="M89 227h1M96 227h1M99 227h1M105 227h1M107 227h1M111 227h1M113 227h1M88 230h1M93 230h2M100 230h1M103 230h1M105 230h1M108 230h1M114 230h1M116 230h1M68 232h1M70 232h1M72 232h1M81 232h1M88 232h1M95 232h1M104 232h1M107 232h1M111 232h1M115 232h1M117 232h1M61 243h1M65 243h1M70 243h1M76 243h1M79 243h1M81 243h1M84 243h1M91 243h1M96 243h1M110 243h1M115 243h1M66 253h2M75 253h1M77 253h1M80 253h1M114 253h1M76 258h1M88 260h1M68 262h1M70 262h1M79 262h1M91 262h1M100 262h1M79 267h1M111 267h1M111 273h1M89 275h1M95 467h1M101 485h2M101 487h1M101 495h1M82 755h1"/>
<path stroke="#7fff00" stroke-width="3" d="M108 210.5h2M88 217.5h1M101 217.5h1M104 217.5h1M112 217.5h1M96 220.5h1M99 220.5h1M102 220.5h1M113 220.5h1M115 220.5h1M118 220.5h1M61 245.5h2M64 245.5h1M71 245.5h1M79 245.5h1M81 245.5h1M84 245.5h1M89 245.5h1M103 245.5h1M110 245.5h1M117 245.5h1M119 245.5h1M71 249.5h1M95 249.5h1M100 249.5h1M109 249.5h1M119 249.5h1M63 255.5h1M69 255.5h1M72 255.5h1M77 255.5h1M95 255.5h1M105 255.5h1M111 286.5h1M95 454.5h1M102 482.5h1M101 492.5h1M95 743.5h1M69 761.5h2M72 761.5h1M63 764.5h1M65 764.5h1M55 770.5h1"/>
<path stroke="#7fff00" stroke-width="4" d="M72 214h1M89 214h1M94 214h1M96 214h2M101 214h1M107 214h2M115 214h2M88 224h1M94 224h1M101 224h1M105 224h1M111 224h1M58 235h1M81 235h1M96 235h1M98 235h1M100 235h1M112 235h1M59 239h1M61 239h1M63 239h1M90 239h1M92 239h1M101 239h1M104 239h1M106 239h1M108 239h1M101 752h1M109 752h1"/>
<path stroke="#99ff00" stroke-width="1" d="M85 228.5h1M89 228.5h1M95 228.5h1M107 228.5h2M58 241.5h1M61 241.5h2M81 241.5h1M84 241.5h1M99 241.5h1M107 241.5h1M65 247.5h2M94 247.5h1M96 247.5h2M101 247.5h1M111 247.5h1M114 247.5h1M66 251.5h2M69 251.5h1M77 251.5h1M79 251.5h1M85 251.5h1M91 251.5h1M102 475.5h1M46 780.5h1"/>
<path stroke="#99ff00" stroke-width="2" d="M72 227h1M87 227h1M94 227h1M97 227h1M100 227h1M106 227h1M109 227h2M69 230h1M83 230h2M91 230h1M97 230h1M78 232h1M89 232h1M97 232h1M103 232h1M59 243h1M62 243h1M72 243h1M78 243h1M99 243h1M103 243h2M108 243h1M117 243h1M61 253h1M65 253h1M68 253h1M71 253h1M74 253h1M83 258h1M118 267h1M114 275h1M102 480h1"/>
<path stroke="#99ff00" stroke-width="3" d="M87 217.5h1M89 217.5h2M108 217.5h1M110 217.5h1M113 217.5h1M87 220.5h1M89 220.5h1M92 220.5h2M98 220.5h1M109 220.5h1M112 220.5h1M114 220.5h1M49 245.5h1M65 245.5h1M68 245.5h1M72 245.5h2M82 245.5h2M85 245.5h1M97 245.5h1M104 245.5h1M109 245.5h1M115 245.5h1M118 245.5h1M66 249.5h1M69 249.5h1M74 249.5h2M99 249.5h1M114 249.5h1M90 264.5h1M94 286.5h1M104 299.5h1M101 482.5h1M102 492.5h1M56 770.5h1"/>
<path stroke="#99ff00" stroke-width="4" d="M71 214h1M104 214h1M87 224h1M91 224h1M93 224h1M95 224h1M102 224h1M108 224h1M115 224h1M117 224h1M84 235h1M95 235h1M101 235h1M107 235h1M75 239h4M83 239h1M88 239h1M103 239h1M107 239h1M112 239h1M115 239h1M71 270h1M78 270h1M115 270h1M100 752h1M116 758h1"/>
<path stroke="#acff00" stroke-width="1" d="M78 228.5h1M90 228.5h1M92 228.5h1M102 228.5h1M60 241.5h1M67 241.5h1M71 241.5h1M97 241.5h1M100 241.5h1M119 241.5h1M77 247.5h1M109 251.5h1M114 251.5h1M101 488.5h1"/>
<path stroke="#acff00" stroke-width="2" d="M83 227h1M88 227h1M98 227h1M85 230h1M101 230h1M112 230h1M92 232h2M96 232h1M99 232h1M102 232h1M113 232h1M63 243h1M68 243h1M71 243h1M109 243h1M111 243h1M118 243h1M58 253h1M84 253h1M119 253h1M93 262h1M78 275h1M101 480h1M101 490h2M84 755h1M100 755h1M113 755h1"/>
<path stroke="#acff00" stroke-width="3" d="M92 217.5h1M98 217.5h2M106 217.5h2M88 220.5h1M90 220.5h1M94 220.5h1M101 220.5h1M103 220.5h1M106 220.5h1M111 220.5h1M66 245.5h1M70 245.5h1M78 245.5h1M92 245.5h1M64 249.5h2M70 249.5h1M81 249.5h2M84 249.5h1M62 255.5h1M81 264.5h1M119 277.5h1M107 748.5h1M64 764.5h1"/>
<path stroke="#acff00" stroke-width="4" d="M93 214h1M98 214h1M105 214h1M110 214h2M81 224h1M97 224h1M99 235h1M72 239h1M93 239h1M96 239h1M109 239h1M99 752h1M112 752h1M115 758h1M48 778h1"/>
<path stroke="#beff00" stroke-width="1" d="M93 228.5h1M101 228.5h1M104 228.5h1M111 228.5h1M85 241.5h1M118 241.5h1M58 247.5h1M64 247.5h1M67 247.5h1M71 247.5h2M85 247.5h1M112 247.5h1M64 251.5h1M45 780.5h1"/>
<path stroke="#beff00" stroke-width="2" d="M93 227h1M79 230h1M81 230h1M96 230h1M98 230h1M106 230h1M75 232h1M105 232h1M108 232h1M74 243h1M69 253h1M102 487h1M94 746h1M83 755h1M85 755h1M117 755h1"/>
<path stroke="#beff00" stroke-width="3" d="M91 217.5h1M94 217.5h3M100 217.5h1M103 217.5h1M109 217.5h1M111 217.5h1M114 217.5h1M107 220.5h1M110 220.5h1M69 245.5h1M77 245.5h1M98 245.5h1M61 249.5h1M79 255.5h1M81 255.5h1M98 748.5h1M77 761.5h1M57 770.5h1"/>
<path stroke="#beff00" stroke-width="4" d="M103 214h1M109 214h1M92 224h1M106 224h2M113 224h1M116 224h1M75 235h1M71 239h1M89 239h1M108 752h1"/>
<path stroke="#d0ff00" stroke-width="1" d="M91 228.5h1M94 228.5h1M99 228.5h1M103 228.5h1M74 241.5h1M79 241.5h1M50 247.5h1M69 247.5h1M63 251.5h1"/>
<path stroke="#d0ff00" stroke-width="2" d="M103 227h1M95 230h1M113 230h1M55 232h1M91 232h1M67 243h1M73 243h1"/>
<path stroke="#d0ff00" stroke-width="3" d="M93 217.5h1M91 220.5h1M104 220.5h1M108 220.5h1M54 245.5h1M58 245.5h1M67 245.5h1M75 245.5h1M106 245.5h1M96 743.5h1M105 748.5h1M73 761.5h1M114 761.5h3M59 767.5h1"/>
<path stroke="#d0ff00" stroke-width="4" d="M89 224h1M103 224h1M90 235h1M97 235h1M85 239h1M86 752h1M89 752h1M52 774h1"/>
<path stroke="#dffe00" stroke-width="1" d="M69 241.5h1M34 247.5h1M70 247.5h1M90 247.5h1M47 780.5h1M46 781.5h1"/>
<path stroke="#dffe00" stroke-width="2" d="M80 243h1M95 746h2"/>
<path stroke="#dffe00" stroke-width="3" d="M115 217.5h1M97 220.5h1M100 220.5h1M105 220.5h1M93 748.5h2M104 748.5h1M74 761.5h3M118 761.5h1M67 764.5h1M62 767.5h1"/>
<path stroke="#dffe00" stroke-width="4" d="M106 214h1M114 214h1M99 224h1M107 752h1M110 752h1M80 758h1M53 774h1M49 778h1"/>
<path stroke="#ecfd00" stroke-width="1" d="M45 781.5h1"/>
<path stroke="#ecfd00" stroke-width="2" d="M100 232h1M68 258h1"/>
<path stroke="#ecfd00" stroke-width="3" d="M102 217.5h1M95 220.5h1M97 748.5h1M71 761.5h1M119 761.5h1M66 764.5h1M60 767.5h1"/>
<path stroke="#ecfd00" stroke-width="4" d="M102 214h1M113 214h1M66 239h1M111 752h1M81 758h1"/>
<path stroke="#f8fd00" stroke-width="2" d="M86 755h1M101 755h1"/>
<path stroke="#f8fd00" stroke-width="3" d="M63 245.5h1M113 761.5h1M68 764.5h2M115 764.5h1M119 764.5h1M61 767.5h1M119 767.5h1"/>
<path stroke="#f8fd00" stroke-width="4" d="M98 224h1M90 752h2M103 752h1"/>
<path stroke="#fff900" stroke-width="1" d="M31 247.5h2"/>
<path stroke="#fff900" stroke-width="2" d="M105 746h1M87 755h1M109 755h1"/>
<path stroke="#fff900" stroke-width="3" d="M68 249.5h1M83 249.5h1"/>
<path stroke="#fff900" stroke-width="4" d="M83 758h1M54 774h1"/>
<path stroke="#fff200" stroke-width="1" d="M47 781.5h1"/>
<path stroke="#fff200" stroke-width="2" d="M30 253h1M112 755h1"/>
<path stroke="#fff200" stroke-width="3" d="M37 249.5h1M78 761.5h1M116 764.5h1M118 767.5h1M58 770.5h1"/>
<path stroke="#fff200" stroke-width="4" d="M93 752h1M102 752h1M106 752h1M82 758h1M84 758h1M50 778h1"/>
<path stroke="#ffeb00" stroke-width="1" d="M37 251.5h1M48 780.5h1"/>
<path stroke="#ffeb00" stroke-width="2" d="M99 755h1"/>
<path stroke="#ffeb00" stroke-width="3" d="M100 761.5h1M113 764.5h2M118 764.5h1M63 767.5h1"/>
<path stroke="#ffeb00" stroke-width="4" d="M92 752h1"/>
<path stroke="#ffe500" stroke-width="2" d="M102 755h1"/>
<path stroke="#ffe500" stroke-width="3" d="M101 761.5h1M108 761.5h1M64 767.5h1M116 767.5h1M119 770.5h1"/>
<path stroke="#ffe500" stroke-width="4" d="M99 758h2M55 774h1"/>
<path stroke="#ffd800" stroke-width="2" d="M98 755h1M106 755h1"/>
<path stroke="#ffd800" stroke-width="3" d="M33 249.5h1M95 748.5h2M79 761.5h1M99 761.5h1M70 764.5h1M100 764.5h1M115 767.5h1M113 770.5h1"/>
<path stroke="#ffd800" stroke-width="4" d="M97 752h1M101 758h2M107 758h1M109 758h1M117 758h1"/>
<path stroke="#ffca00" stroke-width="1" d="M33 251.5h1M36 251.5h1"/>
<path stroke="#ffca00" stroke-width="2" d="M88 755h1M107 755h2M111 755h1"/>
<path stroke="#ffca00" stroke-width="3" d="M30 249.5h1M107 761.5h1M71 764.5h1M99 764.5h1M65 767.5h1"/>
<path stroke="#ffca00" stroke-width="4" d="M108 758h1M112 758h2M116 774h1"/>
<path stroke="#ffbc00" stroke-width="1" d="M28 251.5h1M35 251.5h1M49 780.5h1M48 781.5h1"/>
<path stroke="#ffbc00" stroke-width="2" d="M90 755h1"/>
<path stroke="#ffbc00" stroke-width="3" d="M109 761.5h1M72 764.5h1M101 764.5h1M66 767.5h1M113 767.5h2M115 770.5h1M118 770.5h1"/>
<path stroke="#ffbc00" stroke-width="4" d="M98 752h1M104 752h1M51 778h1"/>
<path stroke="#ffad00" stroke-width="1" d="M116 780.5h1"/>
<path stroke="#ffad00" stroke-width="2" d="M89 755h1M91 755h1"/>
<path stroke="#ffad00" stroke-width="3" d="M80 761.5h1M117 761.5h1M112 764.5h1M60 770.5h1M114 770.5h1"/>
<path stroke="#ffad00" stroke-width="4" d="M105 752h1M85 758h1M98 758h1M56 774h1"/>
<path stroke="#ff9c00" stroke-width="1" d="M29 247.5h1M33 247.5h1M50 780.5h1M114 780.5h1M114 781.5h2"/>
<path stroke="#ff9c00" stroke-width="2" d="M31 253h1M33 253h1M103 755h1"/>
<path stroke="#ff9c00" stroke-width="3" d="M28 249.5h1M31 249.5h1M74 764.5h1M67 767.5h1M116 770.5h1"/>
<path stroke="#ff9c00" stroke-width="4" d="M86 758h1M113 774h1M118 774h1M113 778h2"/>
<path stroke="#ff8c00" stroke-width="1" d="M27 251.5h1M115 780.5h1M116 781.5h1"/>
<path stroke="#ff8c00" stroke-width="2" d="M110 755h1"/>
<path stroke="#ff8c00" stroke-width="3" d="M27 249.5h1M112 761.5h1M73 764.5h1M75 764.5h1M108 764.5h1M59 770.5h1M61 770.5h1"/>
<path stroke="#ff8c00" stroke-width="4" d="M114 774h1M52 778h1"/>
<path stroke="#ff7b00" stroke-width="1" d="M30 247.5h1M49 781.5h1M113 781.5h1"/>
<path stroke="#ff7b00" stroke-width="2" d="M92 755h2M97 755h1"/>
<path stroke="#ff7b00" stroke-width="3" d="M29 249.5h1M76 764.5h2"/>
<path stroke="#ff7b00" stroke-width="4" d="M115 774h1M119 774h1M115 778h2M119 778h1"/>
<path stroke="#ff6c00" stroke-width="1" d="M113 780.5h1M118 780.5h1M118 781.5h2"/>
<path stroke="#ff6c00" stroke-width="3" d="M81 761.5h1M78 764.5h1"/>
<path stroke="#ff6c00" stroke-width="4" d="M94 752h1"/>
<path stroke="#ff5d00" stroke-width="1" d="M119 780.5h1"/>
<path stroke="#ff5d00" stroke-width="3" d="M35 249.5h1M98 761.5h1M62 770.5h1"/>
<path stroke="#ff5d00" stroke-width="4" d="M87 758h1M118 778h1"/>
<path stroke="#ff4d00" stroke-width="3" d="M107 764.5h1M68 767.5h1M99 767.5h2"/>
<path stroke="#ff4d00" stroke-width="4" d="M106 758h1M57 774h1M53 778h1"/>
<path stroke="#ff3e00" stroke-width="1" d="M32 251.5h1M51 780.5h1M50 781.5h1"/>
<path stroke="#ff3e00" stroke-width="2" d="M32 253h1"/>
<path stroke="#ff3e00" stroke-width="3" d="M32 249.5h1M82 761.5h1M102 761.5h1M79 764.5h1M117 764.5h1M112 767.5h1"/>
<path stroke="#ff3e00" stroke-width="4" d="M96 752h1"/>
<path stroke="#ff2f00" stroke-width="2" d="M29 253h1M34 253h1"/>
<path stroke="#ff2f00" stroke-width="3" d="M83 761.5h1M69 767.5h1M63 770.5h1"/>
<path stroke="#ff2f00" stroke-width="4" d="M95 752h1"/>
<path stroke="#ff2000" stroke-width="1" d="M36 247.5h1M30 251.5h1"/>
<path stroke="#ff2000" stroke-width="2" d="M36 253h1M104 755h2"/>
<path stroke="#ff2000" stroke-width="3" d="M70 767.5h1M101 767.5h1M64 770.5h2"/>
<path stroke="#ff2000" stroke-width="4" d="M88 758h1M110 758h2M58 774h1M54 778h1"/>
<path stroke="#ff1100" stroke-width="1" d="M29 251.5h1M31 251.5h1M51 781.5h1"/>
<path stroke="#ff1100" stroke-width="2" d="M35 253h1"/>
<path stroke="#ff1100" stroke-width="3" d="M84 761.5h2M80 764.5h1M109 764.5h1M71 767.5h1M108 767.5h1M117 767.5h1"/>
<path stroke="#ff1100" stroke-width="4" d="M89 758h3M97 758h1"/>
<path stroke="#ff0200" stroke-width="1" d="M52 780.5h1"/>
<path stroke="#ff0200" stroke-width="2" d="M94 755h1"/>
<path stroke="#ff0200" stroke-width="3" d="M72 767.5h2M76 767.5h1M66 770.5h1M117 770.5h1"/>
<path stroke="#ff0200" stroke-width="4" d="M92 758h1M59 774h1M55 778h1"/>
<path stroke="#f80000" stroke-width="1" d="M35 247.5h1M53 780.5h1"/>
<path stroke="#f80000" stroke-width="2" d="M96 755h1"/>
<path stroke="#f80000" stroke-width="3" d="M86 761.5h2M81 764.5h1M98 764.5h1M102 764.5h1M74 767.5h2M77 767.5h1M107 767.5h1M67 770.5h1M100 770.5h1"/>
<path stroke="#f80000" stroke-width="4" d="M93 758h1M103 758h1M60 774h2M56 778h1"/>
<path stroke="#f10000" stroke-width="1" d="M117 780.5h1M52 781.5h1"/>
<path stroke="#f10000" stroke-width="2" d="M95 755h1"/>
<path stroke="#f10000" stroke-width="3" d="M78 767.5h2M109 767.5h1M99 770.5h1M101 770.5h1M112 770.5h1"/>
<path stroke="#f10000" stroke-width="4" d="M117 774h1"/>
<path stroke="#ea0000" stroke-width="1" d="M54 780.5h1M53 781.5h2M117 781.5h1"/>
<path stroke="#ea0000" stroke-width="3" d="M89 761.5h1M106 761.5h1M110 761.5h1M82 764.5h2M86 764.5h1M68 770.5h2M71 770.5h1"/>
<path stroke="#ea0000" stroke-width="4" d="M104 758h2M62 774h1M57 778h1M117 778h1"/>
<path stroke="#de0000" stroke-width="1" d="M34 251.5h1"/>
<path stroke="#de0000" stroke-width="3" d="M34 249.5h1M36 249.5h1M88 761.5h1M90 761.5h3M103 761.5h2M111 761.5h1M84 764.5h2M87 764.5h2M104 764.5h1M106 764.5h1M80 767.5h1M98 767.5h1M102 767.5h1M106 767.5h1M70 770.5h1M72 770.5h1M76 770.5h2M107 770.5h3"/>
<path stroke="#de0000" stroke-width="4" d="M94 758h2M63 774h2M112 774h1"/>
<path stroke="#d10000" stroke-width="1" d="M55 780.5h2M61 780.5h1M92 780.5h1M55 781.5h1M71 781.5h1"/>
<path stroke="#d10000" stroke-width="3" d="M93 761.5h2M97 761.5h1M105 761.5h1M89 764.5h4M97 764.5h1M103 764.5h1M110 764.5h2M81 767.5h7M110 767.5h1M74 770.5h2M78 770.5h2M83 770.5h1M111 770.5h1"/>
<path stroke="#d10000" stroke-width="4" d="M96 758h1M65 774h4M71 774h1M76 774h1M99 774h2M108 774h1M58 778h6M66 778h1"/>
<path stroke="#c30000" stroke-width="1" d="M57 780.5h3M62 780.5h2M67 780.5h2M70 780.5h1M79 780.5h1M98 780.5h1M100 780.5h1M107 780.5h1M111 780.5h2M56 781.5h4M64 781.5h1M73 781.5h1M75 781.5h2M80 781.5h1M87 781.5h1M89 781.5h1M91 781.5h1M97 781.5h1M101 781.5h1M103 781.5h3M111 781.5h1"/>
<path stroke="#c30000" stroke-width="3" d="M96 761.5h1M93 764.5h3M105 764.5h1M88 767.5h1M91 767.5h4M97 767.5h1M111 767.5h1M73 770.5h1M80 770.5h3M90 770.5h1M94 770.5h1M98 770.5h1M102 770.5h2"/>
<path stroke="#c30000" stroke-width="4" d="M70 774h1M72 774h4M77 774h1M79 774h1M82 774h1M93 774h1M98 774h1M101 774h2M107 774h1M109 774h1M64 778h2M77 778h1M79 778h1M89 778h1M91 778h1M99 778h3M107 778h1M109 778h1"/>
<path stroke="#b60000" stroke-width="1" d="M60 780.5h1M65 780.5h2M69 780.5h1M71 780.5h8M80 780.5h4M85 780.5h1M88 780.5h4M93 780.5h5M99 780.5h1M101 780.5h2M104 780.5h3M108 780.5h3M60 781.5h1M62 781.5h2M65 781.5h2M68 781.5h3M72 781.5h1M74 781.5h1M77 781.5h2M81 781.5h4M86 781.5h1M88 781.5h1M90 781.5h1M92 781.5h5M98 781.5h3M102 781.5h1M106 781.5h5M112 781.5h1"/>
<path stroke="#b60000" stroke-width="3" d="M95 761.5h1M96 764.5h1M89 767.5h2M95 767.5h2M103 767.5h3M84 770.5h6M91 770.5h3M95 770.5h3M104 770.5h3M110 770.5h1"/>
<path stroke="#b60000" stroke-width="4" d="M69 774h1M78 774h1M80 774h2M83 774h10M94 774h1M96 774h2M104 774h3M110 774h1M67 778h4M72 778h2M75 778h2M78 778h1M80 778h6M87 778h2M90 778h1M92 778h2M95 778h4M102 778h5M108 778h1M110 778h1M112 778h1"/>
<path stroke="#a80000" stroke-width="1" d="M64 780.5h1M84 780.5h1M86 780.5h2M103 780.5h1M61 781.5h1M67 781.5h1M79 781.5h1M85 781.5h1"/>
<path stroke="#a80000" stroke-width="4" d="M95 774h1M103 774h1M111 774h1M71 778h1M74 778h1M86 778h1M94 778h1M111 778h1"/>
</g>
</g>
<g fill="#000" shape-rendering="crispEdges">
<rect x="166" y="197" width="4" height="588"/>
<rect x="1186" y="197" width="4" height="588"/>
<rect x="166" y="197" width="1024" height="3"/>
<rect x="166" y="782" width="1024" height="3"/>
<rect x="166" y="186" width="4" height="11"/>
<rect x="166" y="785" width="4" height="10"/>
<rect x="251" y="192" width="4" height="5"/>
<rect x="251" y="785" width="4" height="4"/>
<rect x="336" y="192" width="4" height="5"/>
<rect x="336" y="785" width="4" height="4"/>
<rect x="421" y="186" width="4" height="11"/>
<rect x="421" y="785" width="4" height="10"/>
<rect x="506" y="192" width="4" height="5"/>
<rect x="506" y="785" width="4" height="4"/>
<rect x="591" y="192" width="4" height="5"/>
<rect x="591" y="785" width="4" height="4"/>
<rect x="676" y="186" width="4" height="11"/>
<rect x="676" y="785" width="4" height="10"/>
<rect x="761" y="192" width="4" height="5"/>
<rect x="761" y="785" width="4" height="4"/>
<rect x="846" y="192" width="4" height="5"/>
<rect x="846" y="785" width="4" height="4"/>
<rect x="931" y="186" width="4" height="11"/>
<rect x="931" y="785" width="4" height="10"/>
<rect x="1016" y="192" width="4" height="5"/>
<rect x="1016" y="785" width="4" height="4"/>
<rect x="1101" y="192" width="4" height="5"/>
<rect x="1101" y="785" width="4" height="4"/>
<rect x="1186" y="186" width="4" height="11"/>
<rect x="1186" y="785" width="4" height="10"/>
<rect x="148" y="197" width="18" height="3"/>
<rect x="1190" y="197" width="19" height="3"/>
<rect x="148" y="280" width="18" height="3"/>
<rect x="1190" y="280" width="19" height="3"/>
<rect x="148" y="364" width="18" height="3"/>
<rect x="1190" y="364" width="19" height="3"/>
<rect x="148" y="448" width="18" height="3"/>
<rect x="1190" y="448" width="19" height="3"/>
<rect x="148" y="531" width="18" height="3"/>
<rect x="1190" y="531" width="19" height="3"/>
<rect x="148" y="614" width="18" height="3"/>
<rect x="1190" y="614" width="19" height="3"/>
<rect x="148" y="698" width="18" height="3"/>
<rect x="1190" y="698" width="19" height="3"/>
<rect x="148" y="782" width="18" height="3"/>
<rect x="1190" y="782" width="19" height="3"/>
<linearGradient id="cb" x1="0" y1="1" x2="0" y2="0">
<stop offset="0.0000" stop-color="rgb(12,0,10)"/>
<stop offset="0.0200" stop-color="rgb(20,0,22)"/>
<stop offset="0.0450" stop-color="rgb(36,0,46)"/>
<stop offset="0.0620" stop-color="rgb(62,0,92)"/>
<stop offset="0.0850" stop-color="rgb(74,0,112)"/>
<stop offset="0.1200" stop-color="rgb(86,0,134)"/>
<stop offset="0.1300" stop-color="rgb(80,0,170)"/>
<stop offset="0.1500" stop-color="rgb(68,0,196)"/>
<stop offset="0.1850" stop-color="rgb(48,0,222)"/>
<stop offset="0.2150" stop-color="rgb(8,0,252)"/>
<stop offset="0.2500" stop-color="rgb(0,40,255)"/>
<stop offset="0.3000" stop-color="rgb(0,110,255)"/>
<stop offset="0.3750" stop-color="rgb(0,235,255)"/>
<stop offset="0.4000" stop-color="rgb(0,255,215)"/>
<stop offset="0.4500" stop-color="rgb(0,255,120)"/>
<stop offset="0.5000" stop-color="rgb(0,255,30)"/>
<stop offset="0.5300" stop-color="rgb(40,255,0)"/>
<stop offset="0.5800" stop-color="rgb(150,255,0)"/>
<stop offset="0.6250" stop-color="rgb(215,255,0)"/>
<stop offset="0.6650" stop-color="rgb(255,252,0)"/>
<stop offset="0.7100" stop-color="rgb(255,228,0)"/>
<stop offset="0.7500" stop-color="rgb(255,185,0)"/>
<stop offset="0.8000" stop-color="rgb(255,120,0)"/>
<stop offset="0.8750" stop-color="rgb(255,30,0)"/>
<stop offset="0.9000" stop-color="rgb(255,0,0)"/>
<stop offset="0.9400" stop-color="rgb(232,0,0)"/>
<stop offset="1.0000" stop-color="rgb(168,0,0)"/>
</linearGradient>
<rect x="1364" y="226" width="28" height="530" fill="#000"/>
<rect x="1368" y="229" width="20" height="524" fill="url(#cb)"/>
<rect x="1364" y="292" width="28" height="3"/>
<rect x="1364" y="358" width="28" height="3"/>
<rect x="1364" y="424" width="28" height="3"/>
<rect x="1364" y="489" width="28" height="3"/>
<rect x="1364" y="555" width="28" height="3"/>
<rect x="1364" y="621" width="28" height="3"/>
<rect x="1364" y="687" width="28" height="3"/>
</g>
<g>
<text transform="translate(183 90) scale(0.92 1.0)" text-anchor="start" font-size="50" font-style="italic" stroke="#000" stroke-width="0.8">NYA6 6300 Å</text>
<text transform="translate(185 119.7) scale(1.04 1.02)" text-anchor="start" font-size="30" font-style="italic" stroke="#000" stroke-width="0.45">2016-01-06 20:00-21:00 UT</text>
<text transform="translate(677 131.5) scale(0.95 0.9)" text-anchor="middle" font-size="32" stroke="#000" stroke-width="0.8">MLT</text>
<text transform="translate(168 167) scale(1.0 0.9)" text-anchor="middle" font-size="32" stroke="#000" stroke-width="0.8">22.3</text>
<text transform="translate(423 167) scale(1.0 0.9)" text-anchor="middle" font-size="32" stroke="#000" stroke-width="0.8">22.5</text>
<text transform="translate(678 167) scale(1.0 0.9)" text-anchor="middle" font-size="32" stroke="#000" stroke-width="0.8">22.7</text>
<text transform="translate(933 167) scale(1.0 0.9)" text-anchor="middle" font-size="32" stroke="#000" stroke-width="0.8">23.0</text>
<text transform="translate(1188 167) scale(1.0 0.9)" text-anchor="middle" font-size="32" stroke="#000" stroke-width="0.8">23.2</text>
<text transform="translate(168 848) scale(1.0 0.9)" text-anchor="middle" font-size="32" stroke="#000" stroke-width="0.8">20:00</text>
<text transform="translate(423 848) scale(1.0 0.9)" text-anchor="middle" font-size="32" stroke="#000" stroke-width="0.8">20:15</text>
<text transform="translate(678 848) scale(1.0 0.9)" text-anchor="middle" font-size="32" stroke="#000" stroke-width="0.8">20:30</text>
<text transform="translate(933 848) scale(1.0 0.9)" text-anchor="middle" font-size="32" stroke="#000" stroke-width="0.8">20:45</text>
<text transform="translate(1188 848) scale(1.0 0.9)" text-anchor="middle" font-size="32" stroke="#000" stroke-width="0.8">21:00</text>
<text transform="translate(678 894) scale(0.96 0.9)" text-anchor="middle" font-size="32" stroke="#000" stroke-width="0.8">Time UT</text>
<text transform="translate(136 222) scale(1.0 0.9)" text-anchor="end" font-size="32" stroke="#000" stroke-width="0.8">19.3</text>
<text transform="translate(136 295) scale(1.0 0.9)" text-anchor="end" font-size="32" stroke="#000" stroke-width="0.8">41.7</text>
<text transform="translate(136 379) scale(1.0 0.9)" text-anchor="end" font-size="32" stroke="#000" stroke-width="0.8">62.2</text>
<text transform="translate(136 462.5) scale(1.0 0.9)" text-anchor="end" font-size="32" stroke="#000" stroke-width="0.8">80.9</text>
<text transform="translate(136 546) scale(1.0 0.9)" text-anchor="end" font-size="32" stroke="#000" stroke-width="0.8">80.9</text>
<text transform="translate(136 629.5) scale(1.0 0.9)" text-anchor="end" font-size="32" stroke="#000" stroke-width="0.8">62.6</text>
<text transform="translate(136 713.5) scale(1.0 0.9)" text-anchor="end" font-size="32" stroke="#000" stroke-width="0.8">41.9</text>
<text transform="translate(136 783) scale(1.0 0.9)" text-anchor="end" font-size="32" stroke="#000" stroke-width="0.8">19.0</text>
<text transform="translate(1221 222) scale(1.0 0.9)" text-anchor="start" font-size="32" stroke="#000" stroke-width="0.8">82.8</text>
<text transform="translate(1221 295) scale(1.0 0.9)" text-anchor="start" font-size="32" stroke="#000" stroke-width="0.8">79.0</text>
<text transform="translate(1221 379) scale(1.0 0.9)" text-anchor="start" font-size="32" stroke="#000" stroke-width="0.8">77.7</text>
<text transform="translate(1221 462.5) scale(1.0 0.9)" text-anchor="start" font-size="32" stroke="#000" stroke-width="0.8">76.9</text>
<text transform="translate(1221 546) scale(1.0 0.9)" text-anchor="start" font-size="32" stroke="#000" stroke-width="0.8">76.2</text>
<text transform="translate(1221 629.5) scale(1.0 0.9)" text-anchor="start" font-size="32" stroke="#000" stroke-width="0.8">75.4</text>
<text transform="translate(1221 713.5) scale(1.0 0.9)" text-anchor="start" font-size="32" stroke="#000" stroke-width="0.8">74.1</text>
<text transform="translate(1221 783) scale(1.0 0.9)" text-anchor="start" font-size="32" stroke="#000" stroke-width="0.8">70.1</text>
<text transform="translate(1402 307.0) scale(1.0 0.94)" text-anchor="start" font-size="32" stroke="#000" stroke-width="0.3">0.83</text>
<text transform="translate(1402 372.83) scale(1.0 0.94)" text-anchor="start" font-size="32" stroke="#000" stroke-width="0.3">0.70</text>
<text transform="translate(1402 438.65999999999997) scale(1.0 0.94)" text-anchor="start" font-size="32" stroke="#000" stroke-width="0.3">0.58</text>
<text transform="translate(1402 504.49) scale(1.0 0.94)" text-anchor="start" font-size="32" stroke="#000" stroke-width="0.3">0.49</text>
<text transform="translate(1402 570.3199999999999) scale(1.0 0.94)" text-anchor="start" font-size="32" stroke="#000" stroke-width="0.3">0.41</text>
<text transform="translate(1402 636.15) scale(1.0 0.94)" text-anchor="start" font-size="32" stroke="#000" stroke-width="0.3">0.34</text>
<text transform="translate(1402 701.98) scale(1.0 0.94)" text-anchor="start" font-size="32" stroke="#000" stroke-width="0.3">0.28</text>
<text transform="translate(39.3 490.5) rotate(-90) scale(0.95 1.0)" text-anchor="middle" font-size="34" stroke="#000" stroke-width="0.5">Elevation</text>
<text transform="translate(1324.4 489) rotate(-90) scale(0.95 1.0)" text-anchor="middle" font-size="34" stroke="#000" stroke-width="0.5">MLAT</text>
<text transform="translate(1505 491) rotate(-90) scale(0.95 1.0)" text-anchor="middle" font-size="34" stroke="#000" stroke-width="0.5">Brightness [kR]</text>
</g>
</svg>
</body></html>
